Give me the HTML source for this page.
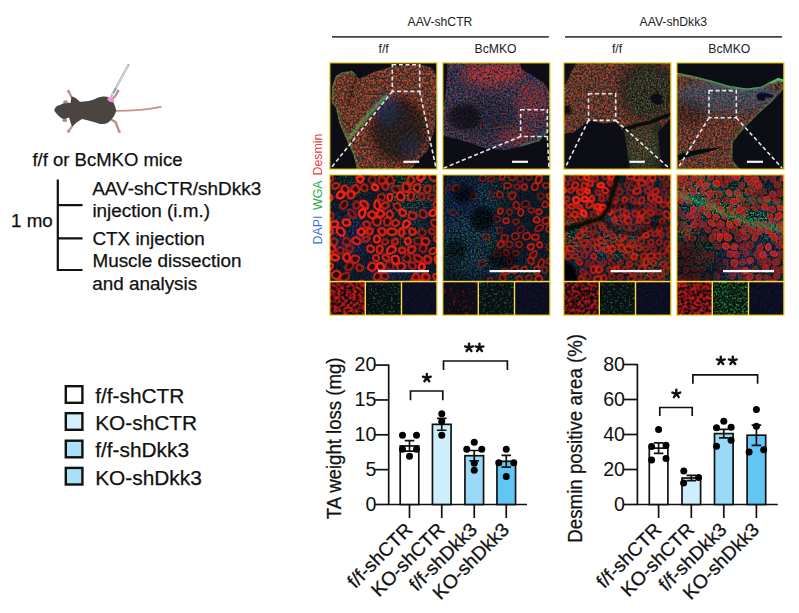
<!DOCTYPE html>
<html><head><meta charset="utf-8"><style>
html,body{margin:0;padding:0;background:#fff;width:799px;height:613px;overflow:hidden}
svg{display:block}
</style></head><body>
<svg width="799" height="613" viewBox="0 0 799 613"><defs><filter id="blur2" x="-50%" y="-50%" width="200%" height="200%"><feGaussianBlur stdDeviation="2"/></filter><filter id="blur4" x="-50%" y="-50%" width="200%" height="200%"><feGaussianBlur stdDeviation="5"/></filter><filter id="blur1" x="-50%" y="-50%" width="200%" height="200%"><feGaussianBlur stdDeviation="0.8"/></filter><filter id="soft" x="0" y="0" width="1" height="1" filterUnits="objectBoundingBox"><feGaussianBlur stdDeviation="0.45"/></filter><filter id="f1" x="0" y="0" width="1" height="1" filterUnits="objectBoundingBox" color-interpolation-filters="sRGB"><feTurbulence type="fractalNoise" baseFrequency="0.6" numOctaves="2" seed="10"/><feColorMatrix type="matrix" values="0 0 0 0 0.3 0 0 0 0 0.62 0 0 0 0 0.4 0 0 3.0 0 -1.3"/></filter><filter id="f2" x="0" y="0" width="1" height="1" filterUnits="objectBoundingBox" color-interpolation-filters="sRGB"><feTurbulence type="fractalNoise" baseFrequency="0.6" numOctaves="2" seed="17"/><feColorMatrix type="matrix" values="0 0 0 0 0.22 0 0 0 0 0.32 0 0 0 0 0.85 3.0 0 0 0 -1.4"/></filter><filter id="f3" x="0" y="0" width="1" height="1" filterUnits="objectBoundingBox" color-interpolation-filters="sRGB"><feTurbulence type="fractalNoise" baseFrequency="0.45" numOctaves="2" seed="24"/><feColorMatrix type="matrix" values="0 0 0 0 0.9 0 0 0 0 0.26 0 0 0 0 0.16 0 3.6 0 0 -1.5"/></filter><filter id="f4" x="0" y="0" width="1" height="1" filterUnits="objectBoundingBox" color-interpolation-filters="sRGB"><feTurbulence type="fractalNoise" baseFrequency="0.8" numOctaves="2" seed="31"/><feColorMatrix type="matrix" values="0 0 0 0 0.85 0 0 0 0 0.4 0 0 0 0 0.2 0 0 0 3.0 -1.4"/></filter><clipPath id="tis0"><path d="M331.6 100.0 L332.0 87.0 L336.0 76.0 L341.3 72.6 L352.0 70.8 L356.3 75.2 L359.0 78.7 L374.8 71.7 L392.4 66.4 L417.0 64.6 L429.4 66.4 L434.7 71.7 L436.5 79.6 L436.0 102.0 L434.7 129.0 L427.7 150.0 L413.6 166.0 L409.0 170.0 L357.2 170.0 L353.7 155.4 L346.6 139.5 L339.6 123.7 L336.0 107.8 L332.5 104.3 Z"/></clipPath><clipPath id="pan0"><rect x="329.5" y="62.5" width="107.5" height="107"/></clipPath><filter id="f5" x="0" y="0" width="1" height="1" filterUnits="objectBoundingBox" color-interpolation-filters="sRGB"><feTurbulence type="fractalNoise" baseFrequency="0.5" numOctaves="2" seed="38"/><feColorMatrix type="matrix" values="0 0 0 0 0.92 0 0 0 0 0.2 0 0 0 0 0.16 0 3.6 0 0 -1.3"/></filter><mask id="mk1" maskUnits="userSpaceOnUse" x="432" y="52" width="128" height="128"><g filter="url(#blur4)"><ellipse cx="492" cy="74" rx="30" ry="12" fill="#fff" opacity="1.0"/><ellipse cx="517" cy="67" rx="12" ry="6" fill="#fff" opacity="1.0"/><ellipse cx="532" cy="102" rx="15" ry="20" fill="#fff" opacity="0.6"/><ellipse cx="517" cy="136" rx="18" ry="8" fill="#fff" opacity="0.7"/></g></mask><filter id="f6" x="0" y="0" width="1" height="1" filterUnits="objectBoundingBox" color-interpolation-filters="sRGB"><feTurbulence type="fractalNoise" baseFrequency="0.6" numOctaves="2" seed="45"/><feColorMatrix type="matrix" values="0 0 0 0 0.22 0 0 0 0 0.32 0 0 0 0 0.85 3.0 0 0 0 -1.2"/></filter><filter id="f7" x="0" y="0" width="1" height="1" filterUnits="objectBoundingBox" color-interpolation-filters="sRGB"><feTurbulence type="fractalNoise" baseFrequency="0.6" numOctaves="2" seed="52"/><feColorMatrix type="matrix" values="0 0 0 0 0.3 0 0 0 0 0.62 0 0 0 0 0.45 0 0 3.0 0 -1.3"/></filter><filter id="f8" x="0" y="0" width="1" height="1" filterUnits="objectBoundingBox" color-interpolation-filters="sRGB"><feTurbulence type="fractalNoise" baseFrequency="0.45" numOctaves="2" seed="59"/><feColorMatrix type="matrix" values="0 0 0 0 0.85 0 0 0 0 0.2 0 0 0 0 0.16 0 3.6 0 0 -1.7"/></filter><clipPath id="tis1"><path d="M447.3 62.0 L519.5 62.0 L521.3 69.0 L533.6 76.0 L544.0 83.0 L548.6 90.0 L550.0 92.0 L550.0 130.0 L547.7 132.5 L539.0 141.3 L521.3 146.6 L503.7 150.0 L486.0 148.3 L459.6 139.5 L443.8 136.0 L442.0 136.0 L442.0 106.0 L443.8 106.0 L446.4 88.0 Z"/></clipPath><clipPath id="pan1"><rect x="442.5" y="62.5" width="107.5" height="107"/></clipPath><filter id="f9" x="0" y="0" width="1" height="1" filterUnits="objectBoundingBox" color-interpolation-filters="sRGB"><feTurbulence type="fractalNoise" baseFrequency="0.6" numOctaves="2" seed="66"/><feColorMatrix type="matrix" values="0 0 0 0 0.3 0 0 0 0 0.65 0 0 0 0 0.45 0 0 3.0 0 -1.2"/></filter><mask id="mk2" maskUnits="userSpaceOnUse" x="553" y="52" width="128" height="128"><g filter="url(#blur4)"><ellipse cx="648" cy="92" rx="24" ry="28" fill="#fff" opacity="1.0"/></g></mask><filter id="f10" x="0" y="0" width="1" height="1" filterUnits="objectBoundingBox" color-interpolation-filters="sRGB"><feTurbulence type="fractalNoise" baseFrequency="0.6" numOctaves="2" seed="73"/><feColorMatrix type="matrix" values="0 0 0 0 0.35 0 0 0 0 0.7 0 0 0 0 0.4 0 0 3.0 0 -1.2"/></filter><mask id="mk3" maskUnits="userSpaceOnUse" x="553" y="52" width="128" height="128"><g filter="url(#blur4)"><ellipse cx="643" cy="147" rx="18" ry="22" fill="#fff" opacity="1.0"/></g></mask><filter id="f11" x="0" y="0" width="1" height="1" filterUnits="objectBoundingBox" color-interpolation-filters="sRGB"><feTurbulence type="fractalNoise" baseFrequency="0.5" numOctaves="2" seed="80"/><feColorMatrix type="matrix" values="0 0 0 0 0.85 0 0 0 0 0.2 0 0 0 0 0.15 0 3.4 0 0 -1.5"/></filter><mask id="mk4" maskUnits="userSpaceOnUse" x="553" y="52" width="128" height="128"><g filter="url(#blur4)"><ellipse cx="641" cy="142" rx="14" ry="20" fill="#fff" opacity="1.0"/></g></mask><filter id="f12" x="0" y="0" width="1" height="1" filterUnits="objectBoundingBox" color-interpolation-filters="sRGB"><feTurbulence type="fractalNoise" baseFrequency="0.6" numOctaves="2" seed="87"/><feColorMatrix type="matrix" values="0 0 0 0 0.3 0 0 0 0 0.62 0 0 0 0 0.4 0 0 3.0 0 -1.3"/></filter><filter id="f13" x="0" y="0" width="1" height="1" filterUnits="objectBoundingBox" color-interpolation-filters="sRGB"><feTurbulence type="fractalNoise" baseFrequency="0.6" numOctaves="2" seed="94"/><feColorMatrix type="matrix" values="0 0 0 0 0.22 0 0 0 0 0.32 0 0 0 0 0.85 3.0 0 0 0 -1.4"/></filter><filter id="f14" x="0" y="0" width="1" height="1" filterUnits="objectBoundingBox" color-interpolation-filters="sRGB"><feTurbulence type="fractalNoise" baseFrequency="0.45" numOctaves="2" seed="101"/><feColorMatrix type="matrix" values="0 0 0 0 0.9 0 0 0 0 0.26 0 0 0 0 0.16 0 3.6 0 0 -1.5"/></filter><filter id="f15" x="0" y="0" width="1" height="1" filterUnits="objectBoundingBox" color-interpolation-filters="sRGB"><feTurbulence type="fractalNoise" baseFrequency="0.8" numOctaves="2" seed="108"/><feColorMatrix type="matrix" values="0 0 0 0 0.85 0 0 0 0 0.4 0 0 0 0 0.2 0 0 0 3.0 -1.4"/></filter><clipPath id="tis2"><path d="M573.6 62.0 L671.0 62.0 L671.0 170.0 L630.0 170.0 L626.4 146.6 L624.7 132.5 L616.0 122.0 L603.5 123.7 L589.4 120.0 L573.6 132.5 L563.0 134.0 L563.0 81.4 L568.3 72.6 Z"/></clipPath><clipPath id="pan2"><rect x="563.5" y="62.5" width="107.5" height="107"/></clipPath><filter id="f16" x="0" y="0" width="1" height="1" filterUnits="objectBoundingBox" color-interpolation-filters="sRGB"><feTurbulence type="fractalNoise" baseFrequency="0.6" numOctaves="2" seed="115"/><feColorMatrix type="matrix" values="0 0 0 0 0.3 0 0 0 0 0.6 0 0 0 0 0.8 0 0 3.0 0 -1.25"/></filter><mask id="mk5" maskUnits="userSpaceOnUse" x="666" y="52" width="128" height="128"><g filter="url(#blur4)"><ellipse cx="726" cy="94" rx="50" ry="14" fill="#fff" opacity="1.0"/></g></mask><filter id="f17" x="0" y="0" width="1" height="1" filterUnits="objectBoundingBox" color-interpolation-filters="sRGB"><feTurbulence type="fractalNoise" baseFrequency="0.6" numOctaves="2" seed="122"/><feColorMatrix type="matrix" values="0 0 0 0 0.3 0 0 0 0 0.62 0 0 0 0 0.4 0 0 3.0 0 -1.3"/></filter><filter id="f18" x="0" y="0" width="1" height="1" filterUnits="objectBoundingBox" color-interpolation-filters="sRGB"><feTurbulence type="fractalNoise" baseFrequency="0.6" numOctaves="2" seed="129"/><feColorMatrix type="matrix" values="0 0 0 0 0.22 0 0 0 0 0.32 0 0 0 0 0.85 3.0 0 0 0 -1.4"/></filter><filter id="f19" x="0" y="0" width="1" height="1" filterUnits="objectBoundingBox" color-interpolation-filters="sRGB"><feTurbulence type="fractalNoise" baseFrequency="0.45" numOctaves="2" seed="136"/><feColorMatrix type="matrix" values="0 0 0 0 0.9 0 0 0 0 0.26 0 0 0 0 0.16 0 3.6 0 0 -1.5"/></filter><filter id="f20" x="0" y="0" width="1" height="1" filterUnits="objectBoundingBox" color-interpolation-filters="sRGB"><feTurbulence type="fractalNoise" baseFrequency="0.8" numOctaves="2" seed="143"/><feColorMatrix type="matrix" values="0 0 0 0 0.85 0 0 0 0 0.4 0 0 0 0 0.2 0 0 0 3.0 -1.4"/></filter><clipPath id="tis3"><path d="M676.0 72.6 L693.6 76.0 L711.0 80.5 L729.0 85.8 L746.5 88.4 L760.6 86.7 L771.0 81.4 L778.0 77.9 L784.0 79.6 L784.0 88.4 L771.0 102.5 L757.0 115.0 L746.5 125.4 L737.7 136.0 L732.4 143.0 L732.4 160.7 L741.2 170.0 L676.0 170.0 Z"/></clipPath><clipPath id="pan3"><rect x="676.5" y="62.5" width="107.5" height="107"/></clipPath><clipPath id="mp0"><rect x="329.5" y="174.5" width="107.5" height="107.5"/></clipPath><mask id="mb0" maskUnits="userSpaceOnUse" x="329" y="174" width="108" height="108"><g filter="url(#blur4)"><rect x="319" y="164" width="128" height="128" fill="#fff" opacity="0.3"/><ellipse cx="349" cy="234" rx="20" ry="25" fill="#fff" opacity="0.9"/><ellipse cx="389" cy="269" rx="25" ry="15" fill="#fff" opacity="0.8"/><ellipse cx="419" cy="214" rx="15" ry="15" fill="#fff" opacity="0.5"/></g></mask><mask id="mg0" maskUnits="userSpaceOnUse" x="329" y="174" width="108" height="108"><g filter="url(#blur4)"><rect x="319" y="164" width="128" height="128" fill="#fff" opacity="0.3"/><ellipse cx="409" cy="194" rx="25" ry="20" fill="#fff" opacity="0.9"/><ellipse cx="349" cy="189" rx="15" ry="10" fill="#fff" opacity="0.6"/><ellipse cx="404" cy="229" rx="20" ry="15" fill="#fff" opacity="0.6"/></g></mask><filter id="f21" x="0" y="0" width="1" height="1" filterUnits="objectBoundingBox" color-interpolation-filters="sRGB"><feTurbulence type="fractalNoise" baseFrequency="0.55" numOctaves="2" seed="150"/><feColorMatrix type="matrix" values="0 0 0 0 0.15 0 0 0 0 0.3 0 0 0 0 0.9 3.2 0 0 0 -1.3"/></filter><filter id="f22" x="0" y="0" width="1" height="1" filterUnits="objectBoundingBox" color-interpolation-filters="sRGB"><feTurbulence type="fractalNoise" baseFrequency="0.55" numOctaves="2" seed="157"/><feColorMatrix type="matrix" values="0 0 0 0 0.2 0 0 0 0 0.75 0 0 0 0 0.3 0 0 3.2 0 -1.35"/></filter><clipPath id="mp1"><rect x="442.5" y="174.5" width="107.5" height="107.5"/></clipPath><mask id="mb1" maskUnits="userSpaceOnUse" x="442" y="174" width="108" height="108"><g filter="url(#blur4)"><rect x="432" y="164" width="128" height="128" fill="#fff" opacity="0.3"/><ellipse cx="467" cy="214" rx="30" ry="40" fill="#fff" opacity="0.8"/><ellipse cx="482" cy="264" rx="25" ry="15" fill="#fff" opacity="0.6"/></g></mask><mask id="mg1" maskUnits="userSpaceOnUse" x="442" y="174" width="108" height="108"><g filter="url(#blur4)"><rect x="432" y="164" width="128" height="128" fill="#fff" opacity="0.3"/><ellipse cx="472" cy="244" rx="30" ry="30" fill="#fff" opacity="0.7"/><ellipse cx="492" cy="194" rx="20" ry="15" fill="#fff" opacity="0.6"/><ellipse cx="522" cy="274" rx="25" ry="10" fill="#fff" opacity="0.5"/></g></mask><filter id="f23" x="0" y="0" width="1" height="1" filterUnits="objectBoundingBox" color-interpolation-filters="sRGB"><feTurbulence type="fractalNoise" baseFrequency="0.55" numOctaves="2" seed="164"/><feColorMatrix type="matrix" values="0 0 0 0 0.15 0 0 0 0 0.3 0 0 0 0 0.9 3.2 0 0 0 -1.3"/></filter><filter id="f24" x="0" y="0" width="1" height="1" filterUnits="objectBoundingBox" color-interpolation-filters="sRGB"><feTurbulence type="fractalNoise" baseFrequency="0.55" numOctaves="2" seed="171"/><feColorMatrix type="matrix" values="0 0 0 0 0.2 0 0 0 0 0.75 0 0 0 0 0.3 0 0 3.2 0 -1.35"/></filter><clipPath id="mp2"><rect x="563.5" y="174.5" width="107.5" height="107.5"/></clipPath><mask id="mb2" maskUnits="userSpaceOnUse" x="563" y="174" width="108" height="108"><g filter="url(#blur4)"><rect x="553" y="164" width="128" height="128" fill="#fff" opacity="0.3"/><ellipse cx="623" cy="224" rx="25" ry="20" fill="#fff" opacity="0.7"/><ellipse cx="593" cy="254" rx="20" ry="15" fill="#fff" opacity="0.7"/><ellipse cx="643" cy="194" rx="20" ry="15" fill="#fff" opacity="0.5"/></g></mask><mask id="mg2" maskUnits="userSpaceOnUse" x="563" y="174" width="108" height="108"><g filter="url(#blur4)"><rect x="553" y="164" width="128" height="128" fill="#fff" opacity="0.3"/><ellipse cx="573" cy="234" rx="15" ry="20" fill="#fff" opacity="1.0"/><ellipse cx="618" cy="244" rx="25" ry="15" fill="#fff" opacity="0.9"/><ellipse cx="653" cy="269" rx="20" ry="12" fill="#fff" opacity="0.8"/><ellipse cx="603" cy="219" rx="20" ry="6" fill="#fff" opacity="0.8"/></g></mask><filter id="f25" x="0" y="0" width="1" height="1" filterUnits="objectBoundingBox" color-interpolation-filters="sRGB"><feTurbulence type="fractalNoise" baseFrequency="0.55" numOctaves="2" seed="178"/><feColorMatrix type="matrix" values="0 0 0 0 0.15 0 0 0 0 0.3 0 0 0 0 0.9 3.2 0 0 0 -1.3"/></filter><filter id="f26" x="0" y="0" width="1" height="1" filterUnits="objectBoundingBox" color-interpolation-filters="sRGB"><feTurbulence type="fractalNoise" baseFrequency="0.55" numOctaves="2" seed="185"/><feColorMatrix type="matrix" values="0 0 0 0 0.2 0 0 0 0 0.75 0 0 0 0 0.3 0 0 3.2 0 -1.35"/></filter><clipPath id="mp3"><rect x="676.5" y="174.5" width="107.5" height="107.5"/></clipPath><mask id="mb3" maskUnits="userSpaceOnUse" x="676" y="174" width="108" height="108"><g filter="url(#blur4)"><rect x="666" y="164" width="128" height="128" fill="#fff" opacity="0.3"/><ellipse cx="696" cy="204" rx="20" ry="20" fill="#fff" opacity="0.7"/><ellipse cx="726" cy="264" rx="30" ry="20" fill="#fff" opacity="0.7"/><ellipse cx="766" cy="234" rx="20" ry="30" fill="#fff" opacity="0.6"/></g></mask><mask id="mg3" maskUnits="userSpaceOnUse" x="676" y="174" width="108" height="108"><g filter="url(#blur4)"><rect x="666" y="164" width="128" height="128" fill="#fff" opacity="0.3"/><ellipse cx="691" cy="194" rx="22" ry="14" fill="#fff" opacity="1.0"/><ellipse cx="721" cy="209" rx="25" ry="10" fill="#fff" opacity="1.0"/><ellipse cx="751" cy="219" rx="25" ry="10" fill="#fff" opacity="1.0"/><ellipse cx="776" cy="229" rx="15" ry="10" fill="#fff" opacity="0.9"/><ellipse cx="706" cy="254" rx="15" ry="15" fill="#fff" opacity="0.6"/><ellipse cx="746" cy="189" rx="15" ry="8" fill="#fff" opacity="0.7"/><ellipse cx="686" cy="229" rx="10" ry="10" fill="#fff" opacity="0.8"/></g></mask><filter id="f27" x="0" y="0" width="1" height="1" filterUnits="objectBoundingBox" color-interpolation-filters="sRGB"><feTurbulence type="fractalNoise" baseFrequency="0.55" numOctaves="2" seed="192"/><feColorMatrix type="matrix" values="0 0 0 0 0.15 0 0 0 0 0.3 0 0 0 0 0.9 3.2 0 0 0 -1.3"/></filter><filter id="f28" x="0" y="0" width="1" height="1" filterUnits="objectBoundingBox" color-interpolation-filters="sRGB"><feTurbulence type="fractalNoise" baseFrequency="0.55" numOctaves="2" seed="199"/><feColorMatrix type="matrix" values="0 0 0 0 0.2 0 0 0 0 0.75 0 0 0 0 0.3 0 0 3.2 0 -1.35"/></filter><filter id="f29" x="0" y="0" width="1" height="1" filterUnits="objectBoundingBox" color-interpolation-filters="sRGB"><feTurbulence type="fractalNoise" baseFrequency="0.32" numOctaves="2" seed="206"/><feColorMatrix type="matrix" values="0 0 0 0 0.85 0 0 0 0 0.1 0 0 0 0 0.07 3.2 0 0 0 -1.1"/></filter><filter id="f30" x="0" y="0" width="1" height="1" filterUnits="objectBoundingBox" color-interpolation-filters="sRGB"><feTurbulence type="fractalNoise" baseFrequency="0.45" numOctaves="2" seed="213"/><feColorMatrix type="matrix" values="0 0 0 0 0.15 0 0 0 0 0.75 0 0 0 0 0.2 0 1.8 0 0 -0.95"/></filter><filter id="f31" x="0" y="0" width="1" height="1" filterUnits="objectBoundingBox" color-interpolation-filters="sRGB"><feTurbulence type="fractalNoise" baseFrequency="0.6" numOctaves="2" seed="220"/><feColorMatrix type="matrix" values="0 0 0 0 0.12 0 0 0 0 0.15 0 0 0 0 0.85 0 0 1.2 0 -0.6"/></filter><filter id="f32" x="0" y="0" width="1" height="1" filterUnits="objectBoundingBox" color-interpolation-filters="sRGB"><feTurbulence type="fractalNoise" baseFrequency="0.32" numOctaves="2" seed="227"/><feColorMatrix type="matrix" values="0 0 0 0 0.85 0 0 0 0 0.1 0 0 0 0 0.07 2.4 0 0 0 -1.35"/></filter><filter id="f33" x="0" y="0" width="1" height="1" filterUnits="objectBoundingBox" color-interpolation-filters="sRGB"><feTurbulence type="fractalNoise" baseFrequency="0.45" numOctaves="2" seed="234"/><feColorMatrix type="matrix" values="0 0 0 0 0.15 0 0 0 0 0.75 0 0 0 0 0.2 0 1.8 0 0 -0.95"/></filter><filter id="f34" x="0" y="0" width="1" height="1" filterUnits="objectBoundingBox" color-interpolation-filters="sRGB"><feTurbulence type="fractalNoise" baseFrequency="0.6" numOctaves="2" seed="241"/><feColorMatrix type="matrix" values="0 0 0 0 0.12 0 0 0 0 0.15 0 0 0 0 0.85 0 0 1.2 0 -0.6"/></filter><filter id="f35" x="0" y="0" width="1" height="1" filterUnits="objectBoundingBox" color-interpolation-filters="sRGB"><feTurbulence type="fractalNoise" baseFrequency="0.32" numOctaves="2" seed="248"/><feColorMatrix type="matrix" values="0 0 0 0 0.85 0 0 0 0 0.1 0 0 0 0 0.07 3.0 0 0 0 -1.15"/></filter><filter id="f36" x="0" y="0" width="1" height="1" filterUnits="objectBoundingBox" color-interpolation-filters="sRGB"><feTurbulence type="fractalNoise" baseFrequency="0.45" numOctaves="2" seed="255"/><feColorMatrix type="matrix" values="0 0 0 0 0.15 0 0 0 0 0.75 0 0 0 0 0.2 0 1.8 0 0 -0.95"/></filter><filter id="f37" x="0" y="0" width="1" height="1" filterUnits="objectBoundingBox" color-interpolation-filters="sRGB"><feTurbulence type="fractalNoise" baseFrequency="0.6" numOctaves="2" seed="262"/><feColorMatrix type="matrix" values="0 0 0 0 0.12 0 0 0 0 0.15 0 0 0 0 0.85 0 0 1.2 0 -0.6"/></filter><filter id="f38" x="0" y="0" width="1" height="1" filterUnits="objectBoundingBox" color-interpolation-filters="sRGB"><feTurbulence type="fractalNoise" baseFrequency="0.32" numOctaves="2" seed="269"/><feColorMatrix type="matrix" values="0 0 0 0 0.85 0 0 0 0 0.1 0 0 0 0 0.07 3.2 0 0 0 -1.1"/></filter><filter id="f39" x="0" y="0" width="1" height="1" filterUnits="objectBoundingBox" color-interpolation-filters="sRGB"><feTurbulence type="fractalNoise" baseFrequency="0.45" numOctaves="2" seed="276"/><feColorMatrix type="matrix" values="0 0 0 0 0.15 0 0 0 0 0.75 0 0 0 0 0.2 0 2.2 0 0 -0.95"/></filter><filter id="f40" x="0" y="0" width="1" height="1" filterUnits="objectBoundingBox" color-interpolation-filters="sRGB"><feTurbulence type="fractalNoise" baseFrequency="0.6" numOctaves="2" seed="283"/><feColorMatrix type="matrix" values="0 0 0 0 0.12 0 0 0 0 0.15 0 0 0 0 0.85 0 0 1.2 0 -0.6"/></filter></defs>
<g id="mouse">
  <path d="M115.5 110.8 C 128 110.8, 145 110.2, 161 106.8" stroke="#c7918b" stroke-width="1.7" fill="none" stroke-linecap="round"/>
  <path d="M71.5 97 L68.8 91.8 M72.5 125.5 L68.8 131 M110.5 100 L115 96.5 L117.8 91.5 M112 120 L115.5 122 L119 131" stroke="#bf8a83" stroke-width="2.2" stroke-linecap="round" stroke-linejoin="round" fill="none"/>
  <circle cx="68.6" cy="91.4" r="1.7" fill="#c9968e"/>
  <circle cx="68.6" cy="131.2" r="1.7" fill="#c9968e"/>
  <circle cx="118" cy="91" r="1.5" fill="#c9968e"/>
  <circle cx="119.2" cy="131.4" r="1.6" fill="#c9968e"/>
  <path d="M54.2 110.4 C 55 107, 57 105.5, 60 105 L 64 103 C 66 102, 69 103, 70.5 103 L 71.4 96.5 C 74 96.5, 77 99, 80 101.8 C 85 101.5, 92 101, 97 98 C 101 96.5, 106 96, 109 97.5 C 113 100, 115.5 106, 116.2 110.8 C 115 115, 113 118, 111 120 C 108 123.5, 104 124.5, 100 124 C 94 122, 88 120, 82 119 C 78 121, 75 124, 72.5 126.5 L 71 124 C 70 121, 69.5 118.5, 68.8 117.5 L 64 119.5 C 61 118, 58 116, 54.2 110.4 Z" fill="#4a4541"/>
  <ellipse cx="65.5" cy="101.8" rx="2.4" ry="1.6" fill="#b98a84"/>
  <ellipse cx="64.8" cy="120.4" rx="2.4" ry="1.6" fill="#b98a84"/>
  <line x1="128.6" y1="64.8" x2="111.5" y2="96" stroke="#9aa2a8" stroke-width="2.1" stroke-linecap="round"/>
  <line x1="128.3" y1="65.4" x2="111.8" y2="95.5" stroke="#eef3f6" stroke-width="0.9" stroke-linecap="round"/>
  <line x1="116" y1="88.2" x2="113.6" y2="92.6" stroke="#6aa8d8" stroke-width="1.5"/>
  <ellipse cx="110.8" cy="99.6" rx="3.6" ry="2.2" fill="#f590dc" transform="rotate(22 110.8 99.6)"/>
</g>

<g font-family='"Liberation Sans", sans-serif' font-size="18.5" fill="#111" stroke="#111" stroke-width="0.25">
<text x="32.4" y="165.5">f/f or BcMKO mice</text>
<text x="92.2" y="194.7" font-size="18.95">AAV-shCTR/shDkk3</text>
<text x="92.4" y="216.6" font-size="18.9">injection (i.m.)</text>
<text x="92.4" y="244.9" font-size="18.9">CTX injection</text>
<text x="92.4" y="267.4" font-size="18.9">Muscle dissection</text>
<text x="92.2" y="289.6" font-size="18.9">and analysis</text>
<text x="11" y="227.2" font-size="18.8">1 mo</text>
</g>
<path d="M57.8 179.5 V271 M56.8 205.2 H82.5 M56.8 238.3 H82.5 M56.8 270 H82.5" stroke="#111" stroke-width="2.2" fill="none"/>
<rect x="65.8" y="386.2" width="16.6" height="16.6" fill="#ffffff" stroke="#111" stroke-width="2.4"/>
<text x="95.2" y="402.90000000000003" font-family='"Liberation Sans", sans-serif' font-size="20.85" fill="#111" stroke="#111" stroke-width="0.25">f/f-shCTR</text>
<rect x="65.8" y="413.2" width="16.6" height="16.6" fill="#d4effb" stroke="#111" stroke-width="2.4"/>
<text x="95.2" y="429.90000000000003" font-family='"Liberation Sans", sans-serif' font-size="20.85" fill="#111" stroke="#111" stroke-width="0.25">KO-shCTR</text>
<rect x="65.8" y="440.7" width="16.6" height="16.6" fill="#a9e0f8" stroke="#111" stroke-width="2.4"/>
<text x="95.2" y="457.20000000000005" font-family='"Liberation Sans", sans-serif' font-size="20.85" fill="#111" stroke="#111" stroke-width="0.25">f/f-shDkk3</text>
<rect x="65.8" y="467.9" width="16.6" height="16.6" fill="#a9e0f8" stroke="#111" stroke-width="2.4"/>
<text x="95.2" y="484.6" font-family='"Liberation Sans", sans-serif' font-size="20.85" fill="#111" stroke="#111" stroke-width="0.25">KO-shDkk3</text>
<g font-family='"Liberation Sans", sans-serif' font-size="12.2" fill="#222" text-anchor="middle">
<text x="440" y="26.4">AAV-shCTR</text>
<text x="673.3" y="26.4">AAV-shDkk3</text>
<text x="383.6" y="52.5">f/f</text>
<text x="495.5" y="52.5">BcMKO</text>
<text x="617" y="52.5">f/f</text>
<text x="729.3" y="52.5">BcMKO</text>
</g>
<path d="M332 36.9 H548.8 M565 36.9 H782" stroke="#444" stroke-width="1.8"/>
<g font-family='"Liberation Sans", sans-serif' font-size="12.4" transform="translate(322,0) rotate(-90)">
<text x="-244.5" y="0" fill="#3b6fcf" word-spacing="2.1">DAPI <tspan fill="#2fa84a">WGA</tspan> <tspan fill="#ee3a36">Desmin</tspan></text>
</g>
<rect x="329.5" y="62.5" width="107.5" height="107" fill="#0b0d17"/>
<g clip-path="url(#pan0)"><g filter="url(#soft)">
<rect x="327" y="60" width="112" height="112" fill="#0b0d17"/>
<g clip-path="url(#tis0)">
<rect x="329" y="62" width="108" height="108" fill="#26221c"/>
<g opacity="0.45"><rect x="329" y="62" width="108" height="108" fill="#000" filter="url(#f1)"/></g>
<g opacity="0.25"><rect x="329" y="62" width="108" height="108" fill="#000" filter="url(#f2)"/></g>
<g opacity="0.85"><rect x="329" y="62" width="108" height="108" fill="#000" filter="url(#f3)"/></g>
<g opacity="0.3"><rect x="329" y="62" width="108" height="108" fill="#000" filter="url(#f4)"/></g>
<ellipse cx="399" cy="130" rx="28" ry="32" fill="#000" opacity="0.5" filter="url(#blur4)"/>
<ellipse cx="387" cy="110" rx="12" ry="16" fill="#1848a0" opacity="0.35" filter="url(#blur4)"/>
<ellipse cx="411" cy="147" rx="10" ry="10" fill="#1848a0" opacity="0.3" filter="url(#blur4)"/>
<ellipse cx="399" cy="132" rx="22" ry="26" fill="#0c2a30" opacity="0.3" filter="url(#blur4)"/>
<path d="M349.0 138.0 L367.0 116.0 L386.0 96.0" stroke="#50e070" stroke-width="2.2" fill="none" opacity="0.75" stroke-linecap="round" stroke-linejoin="round" filter="url(#blur1)"/>
<path d="M332.5 104.3 L331.6 100.0 L332.0 87.0 L336.0 76.0 L341.3 72.6 L352.0 70.8 L356.3 75.2" stroke="#40c860" stroke-width="2.2" fill="none" opacity="0.55" stroke-linecap="round" stroke-linejoin="round" filter="url(#blur1)"/>
<path d="M336.0 107.8 L339.6 123.7 L346.6 139.5 L353.7 155.4 L357.2 170.0" stroke="#40c860" stroke-width="2.6" fill="none" opacity="0.55" stroke-linecap="round" stroke-linejoin="round" filter="url(#blur1)"/>
<path d="M356.3 75.2 L351.0 92.0 L348.4 106.0" stroke="#000" stroke-width="1.5" fill="none" opacity="0.6" stroke-linecap="round" stroke-linejoin="round" filter="url(#blur1)"/>
</g>
</g></g>
<rect x="392.3" y="64.8" width="27.400000000000006" height="26.599999999999998" fill="none" stroke="#e6e6e6" stroke-width="1.6" stroke-dasharray="4 2.6"/>
<path d="M392.3 91.4 L331 168 M419.7 91.4 L436 168" stroke="#e6e6e6" stroke-width="1.6" stroke-dasharray="4 2.6" fill="none"/>
<path d="M403.3 161.8 H419.2" stroke="#f4f4f4" stroke-width="2.2"/>
<rect x="329.7" y="62.7" width="107.3" height="106.6" fill="none" stroke="#f6da4a" stroke-width="1.4"/>
<rect x="442.5" y="62.5" width="107.5" height="107" fill="#0b0d17"/>
<g clip-path="url(#pan1)"><g filter="url(#soft)">
<rect x="440" y="60" width="112" height="112" fill="#0b0d17"/>
<g clip-path="url(#tis1)">
<rect x="442" y="62" width="108" height="108" fill="#141820"/>
<g opacity="0.6"><rect x="442" y="62" width="108" height="108" fill="#000" filter="url(#f6)"/></g>
<g opacity="0.45"><rect x="442" y="62" width="108" height="108" fill="#000" filter="url(#f7)"/></g>
<g opacity="0.6"><rect x="442" y="62" width="108" height="108" fill="#000" filter="url(#f8)"/></g>
<ellipse cx="464" cy="117" rx="17" ry="13" fill="#000" opacity="0.5" filter="url(#blur2)"/>
<ellipse cx="487" cy="117" rx="30" ry="20" fill="#000" opacity="0.2" filter="url(#blur4)"/>
<g mask="url(#mk1)"><g opacity="0.85"><rect x="442" y="62" width="108" height="108" fill="#000" filter="url(#f5)"/></g></g>
<path d="M522.0 146.0 L539.0 141.3 L547.7 132.5" stroke="#40c860" stroke-width="2" fill="none" opacity="0.6" stroke-linecap="round" stroke-linejoin="round" filter="url(#blur1)"/>
</g>
</g></g>
<rect x="520.6" y="109.7" width="26.700000000000003" height="26.799999999999997" fill="none" stroke="#e6e6e6" stroke-width="1.6" stroke-dasharray="4 2.6"/>
<path d="M520.6 136.5 L444 168 M547.3 136.5 L549 168" stroke="#e6e6e6" stroke-width="1.6" stroke-dasharray="4 2.6" fill="none"/>
<path d="M512 161.8 H528" stroke="#f4f4f4" stroke-width="2.2"/>
<rect x="442.7" y="62.7" width="107.3" height="106.6" fill="none" stroke="#f6da4a" stroke-width="1.4"/>
<rect x="563.5" y="62.5" width="107.5" height="107" fill="#0b0d17"/>
<g clip-path="url(#pan2)"><g filter="url(#soft)">
<rect x="561" y="60" width="112" height="112" fill="#0b0d17"/>
<g clip-path="url(#tis2)">
<rect x="563" y="62" width="108" height="108" fill="#24201c"/>
<g opacity="0.45"><rect x="563" y="62" width="108" height="108" fill="#000" filter="url(#f12)"/></g>
<g opacity="0.25"><rect x="563" y="62" width="108" height="108" fill="#000" filter="url(#f13)"/></g>
<g opacity="0.72"><rect x="563" y="62" width="108" height="108" fill="#000" filter="url(#f14)"/></g>
<g opacity="0.3"><rect x="563" y="62" width="108" height="108" fill="#000" filter="url(#f15)"/></g>
<ellipse cx="648" cy="90" rx="28" ry="30" fill="#000" opacity="0.55" filter="url(#blur4)"/>
<g mask="url(#mk2)"><g opacity="0.55"><rect x="563" y="62" width="108" height="108" fill="#000" filter="url(#f9)"/></g></g>
<path d="M563.0 62.0 L577.0 62.0 L571.0 72.0 L566.0 84.0 L563.0 86.0 Z" fill="#0b0d17" opacity="1"/>
<path d="M623.0 126.0 L663.0 124.0 L671.0 170.0 L627.0 170.0 Z" fill="#101a14" opacity="0.7" filter="url(#blur2)"/>
<g mask="url(#mk3)"><g opacity="0.55"><rect x="563" y="62" width="108" height="108" fill="#000" filter="url(#f10)"/></g></g>
<g mask="url(#mk4)"><g opacity="0.45"><rect x="563" y="62" width="108" height="108" fill="#000" filter="url(#f11)"/></g></g>
<path d="M625.0 129.0 L638.0 125.0 L651.0 122.0 L663.0 117.0 L671.0 114.0" stroke="#04060a" stroke-width="3.6" fill="none" opacity="0.95" stroke-linecap="round" stroke-linejoin="round"/>
<path d="M671.0 118.0 L658.0 132.5 L661.7 170.0 L671.0 170.0 Z" fill="#0b0d17" opacity="1"/>
<path d="M650.0 98.0 L653.0 94.0 L658.0 93.0 L662.0 96.0 L661.0 100.0 L664.0 103.0 L658.0 105.0 L653.0 103.0 Z" fill="#090b12" opacity="1"/>
<ellipse cx="567" cy="110" rx="4" ry="5" fill="#000" opacity="0.8" filter="url(#blur1)"/>
</g>
</g></g>
<rect x="588.5" y="93.75" width="27.200000000000003" height="26.65" fill="none" stroke="#e6e6e6" stroke-width="1.6" stroke-dasharray="4 2.6"/>
<path d="M588.5 120.4 L565 168 M615.7 120.4 L669 168" stroke="#e6e6e6" stroke-width="1.6" stroke-dasharray="4 2.6" fill="none"/>
<path d="M629.4 161.8 H644.8" stroke="#f4f4f4" stroke-width="2.2"/>
<rect x="563.7" y="62.7" width="107.3" height="106.6" fill="none" stroke="#f6da4a" stroke-width="1.4"/>
<rect x="676.5" y="62.5" width="107.5" height="107" fill="#0b0d17"/>
<g clip-path="url(#pan3)"><g filter="url(#soft)">
<rect x="674" y="60" width="112" height="112" fill="#0b0d17"/>
<g clip-path="url(#tis3)">
<rect x="676" y="62" width="108" height="108" fill="#24201c"/>
<g opacity="0.45"><rect x="676" y="62" width="108" height="108" fill="#000" filter="url(#f17)"/></g>
<g opacity="0.25"><rect x="676" y="62" width="108" height="108" fill="#000" filter="url(#f18)"/></g>
<g opacity="0.75"><rect x="676" y="62" width="108" height="108" fill="#000" filter="url(#f19)"/></g>
<g opacity="0.3"><rect x="676" y="62" width="108" height="108" fill="#000" filter="url(#f20)"/></g>
<ellipse cx="726" cy="97" rx="52" ry="18" fill="#1a4a70" opacity="0.35" filter="url(#blur4)"/>
<g mask="url(#mk5)"><g opacity="0.45"><rect x="676" y="62" width="108" height="108" fill="#000" filter="url(#f16)"/></g></g>
<path d="M676.0 72.6 L693.6 76.0 L711.0 80.5 L729.0 85.8 L746.5 88.4 L760.6 86.7 L771.0 81.4 L778.0 77.9 L784.0 79.6" stroke="#48d070" stroke-width="2.6" fill="none" opacity="0.85" stroke-linecap="round" stroke-linejoin="round" filter="url(#blur1)"/>
<path d="M772.0 82.0 L778.0 78.5 L783.0 80.0" stroke="#50e080" stroke-width="3.5" fill="none" opacity="0.8" stroke-linecap="round" stroke-linejoin="round" filter="url(#blur1)"/>
<path d="M784.0 88.4 L771.0 102.5 L757.0 115.0 L746.5 125.4 L737.7 136.0 L732.4 143.0 L732.4 160.7 L741.2 170.0" stroke="#40c860" stroke-width="2" fill="none" opacity="0.5" stroke-linecap="round" stroke-linejoin="round" filter="url(#blur1)"/>
<path d="M677.0 155.0 L691.0 151.0 L706.0 148.5 L722.0 147.5 L708.0 152.0 L692.0 156.0 L678.0 160.5 Z" fill="#06100c" opacity="1"/>
<path d="M756.0 95.0 L760.0 92.0 L768.0 93.0 L774.0 95.0 L772.0 98.0 L766.0 97.0 L764.0 101.0 L758.0 100.0 Z" fill="#090b12" opacity="1"/>
<path d="M756.0 95.0 L760.0 92.0 L768.0 93.0 L774.0 95.0" stroke="#3060d0" stroke-width="1.2" fill="none" opacity="0.7" stroke-linecap="round" stroke-linejoin="round" filter="url(#blur1)"/>
<ellipse cx="688" cy="112" rx="18" ry="14" fill="#000" opacity="0.25" filter="url(#blur4)"/>
</g>
</g></g>
<rect x="709" y="90.6" width="27.299999999999997" height="27.199999999999996" fill="none" stroke="#e6e6e6" stroke-width="1.6" stroke-dasharray="4 2.6"/>
<path d="M709 117.8 L678 168 M736.3 117.8 L782 168" stroke="#e6e6e6" stroke-width="1.6" stroke-dasharray="4 2.6" fill="none"/>
<path d="M747 161.8 H763" stroke="#f4f4f4" stroke-width="2.2"/>
<rect x="676.7" y="62.7" width="107.3" height="106.6" fill="none" stroke="#f6da4a" stroke-width="1.4"/>
<rect x="329.5" y="174.5" width="107.5" height="107.5" fill="#0b0d17"/>
<g clip-path="url(#mp0)"><g filter="url(#soft)">
<rect x="329" y="174" width="108" height="108" fill="#0b0d17"/>
<g mask="url(#mb0)"><g opacity="0.6"><rect x="329" y="174" width="108" height="108" fill="#000" filter="url(#f21)"/></g></g>
<g mask="url(#mg0)"><g opacity="0.6"><rect x="329" y="174" width="108" height="108" fill="#000" filter="url(#f22)"/></g></g>
<path d="M325.5 172.8 C324.8 172.8 323.2 172.5 322.7 171.8 C322.1 171.2 322.1 169.6 322.2 168.8 C322.4 168.0 323.1 167.1 323.8 166.8 C324.4 166.5 325.5 166.6 326.3 166.8 C327.0 167.1 328.1 167.7 328.3 168.5 C328.5 169.3 327.8 170.8 327.3 171.5 C326.8 172.2 326.3 172.7 325.5 172.8Z" fill="#2a0404" fill-opacity="0.61" stroke="#f42212" stroke-opacity="0.68" stroke-width="2.3"/>
<path d="M332.3 169.5 C331.9 168.6 332.2 167.2 332.7 166.5 C333.1 165.9 334.1 165.6 335.0 165.5 C335.8 165.4 337.0 165.3 337.6 165.9 C338.2 166.5 338.7 168.3 338.6 169.2 C338.6 170.0 337.9 170.6 337.3 171.1 C336.7 171.6 335.8 172.3 334.9 172.1 C334.1 171.8 332.7 170.5 332.3 169.5Z" fill="#2a0404" fill-opacity="0.52" stroke="#f42212" stroke-opacity="0.58" stroke-width="2.8"/>
<path d="M345.4 171.3 C344.5 171.0 343.2 170.4 342.8 169.8 C342.5 169.1 342.8 167.9 343.3 167.3 C343.8 166.7 345.0 166.0 346.0 166.1 C347.0 166.2 348.6 167.0 349.3 167.7 C349.9 168.4 349.8 169.6 349.7 170.2 C349.5 170.8 349.1 171.4 348.4 171.6 C347.7 171.8 346.3 171.6 345.4 171.3Z" fill="#2a0404" fill-opacity="0.52" stroke="#f42212" stroke-opacity="0.58" stroke-width="2.1"/>
<path d="M354.3 170.6 C354.1 169.7 354.5 168.1 355.0 167.3 C355.5 166.4 356.4 165.3 357.1 165.4 C357.9 165.5 359.1 166.8 359.6 167.9 C360.0 169.0 360.2 170.9 360.0 171.9 C359.8 172.9 359.0 173.7 358.4 173.9 C357.7 174.1 356.7 173.5 356.0 173.0 C355.3 172.4 354.4 171.6 354.3 170.6Z" fill="#2a0404" fill-opacity="0.81" stroke="#f42212" stroke-opacity="0.90" stroke-width="2.2"/>
<path d="M368.9 172.9 C368.4 173.6 366.8 173.7 365.8 173.7 C364.9 173.6 363.8 173.3 363.1 172.7 C362.4 172.1 361.7 170.8 361.8 169.9 C362.0 168.9 363.1 167.5 364.0 167.0 C364.9 166.6 366.4 166.8 367.2 167.2 C368.1 167.6 368.8 168.6 369.1 169.5 C369.4 170.5 369.5 172.2 368.9 172.9Z" fill="#2a0404" fill-opacity="0.82" stroke="#f42212" stroke-opacity="0.91" stroke-width="2.6"/>
<path d="M379.1 171.6 C378.8 172.5 378.0 174.1 377.2 174.5 C376.5 175.0 375.1 174.8 374.4 174.3 C373.7 173.9 373.1 172.7 373.1 171.8 C373.0 171.0 373.6 169.8 374.3 169.1 C374.9 168.4 376.3 167.5 377.1 167.5 C377.9 167.6 378.8 168.8 379.1 169.5 C379.5 170.2 379.4 170.8 379.1 171.6Z" fill="#2a0404" fill-opacity="0.90" stroke="#f42212" stroke-opacity="1.00" stroke-width="2.4"/>
<path d="M382.7 171.9 C382.5 171.1 383.3 170.0 384.1 169.3 C384.9 168.6 386.3 167.8 387.3 167.6 C388.4 167.4 389.7 167.8 390.3 168.3 C390.9 168.8 391.4 169.7 391.2 170.5 C390.9 171.3 389.8 172.5 388.8 173.0 C387.8 173.6 386.2 173.9 385.2 173.7 C384.2 173.5 382.8 172.6 382.7 171.9Z" fill="#2a0404" fill-opacity="0.79" stroke="#f42212" stroke-opacity="0.88" stroke-width="2.4"/>
<path d="M398.6 172.1 C397.9 172.7 396.9 173.6 396.1 173.5 C395.2 173.5 393.7 172.8 393.5 172.0 C393.2 171.2 394.0 169.5 394.6 168.8 C395.2 168.1 396.2 168.0 397.0 167.8 C397.9 167.6 399.1 167.3 399.7 167.6 C400.2 168.0 400.7 169.2 400.6 169.9 C400.4 170.6 399.4 171.5 398.6 172.1Z" fill="#2a0404" fill-opacity="0.77" stroke="#f42212" stroke-opacity="0.86" stroke-width="2.3"/>
<path d="M405.0 174.2 C404.2 174.3 403.4 173.8 402.9 173.2 C402.5 172.6 402.2 171.4 402.2 170.8 C402.2 170.1 402.3 169.3 403.0 169.0 C403.7 168.7 405.4 168.6 406.2 168.8 C407.0 168.9 407.7 169.3 407.9 169.9 C408.2 170.6 408.3 172.1 407.8 172.8 C407.3 173.5 405.8 174.2 405.0 174.2Z" fill="#2a0404" fill-opacity="0.58" stroke="#f42212" stroke-opacity="0.65" stroke-width="2.8"/>
<path d="M420.8 171.3 C420.7 172.1 420.2 173.1 419.6 173.6 C418.9 174.0 417.7 174.3 416.8 174.1 C416.0 173.9 414.8 173.1 414.3 172.4 C413.8 171.6 413.4 170.3 413.8 169.7 C414.3 169.0 416.0 168.6 416.9 168.5 C417.9 168.4 419.0 168.5 419.7 169.0 C420.3 169.5 420.8 170.6 420.8 171.3Z" fill="#2a0404" fill-opacity="0.89" stroke="#f42212" stroke-opacity="0.99" stroke-width="2.7"/>
<path d="M425.5 171.9 C425.1 171.1 424.4 169.6 424.7 168.7 C425.0 167.7 426.3 166.6 427.2 166.3 C428.2 166.0 429.7 166.3 430.5 166.7 C431.2 167.1 431.5 167.7 431.6 168.6 C431.7 169.5 431.7 171.3 431.0 172.1 C430.3 172.9 428.2 173.1 427.3 173.1 C426.3 173.1 425.9 172.6 425.5 171.9Z" fill="#2a0404" fill-opacity="0.72" stroke="#f42212" stroke-opacity="0.80" stroke-width="2.6"/>
<path d="M435.9 175.1 C435.2 174.9 434.5 174.1 434.2 173.1 C433.9 172.0 433.5 170.0 434.0 169.1 C434.4 168.2 435.9 167.8 436.8 167.7 C437.7 167.6 438.8 167.8 439.4 168.5 C439.9 169.2 440.4 170.9 440.2 171.9 C440.0 172.9 438.9 173.9 438.2 174.5 C437.4 175.0 436.5 175.4 435.9 175.1Z" fill="#2a0404" fill-opacity="0.73" stroke="#f42212" stroke-opacity="0.82" stroke-width="2.8"/>
<path d="M325.0 179.1 C324.6 178.2 325.4 176.9 325.9 176.0 C326.3 175.1 327.0 173.9 327.8 173.7 C328.6 173.5 329.9 174.1 330.8 174.8 C331.6 175.5 332.8 177.1 332.9 178.1 C333.1 179.0 332.5 180.1 331.7 180.7 C331.0 181.2 329.5 181.8 328.4 181.6 C327.3 181.3 325.4 180.0 325.0 179.1Z" fill="#2a0404" fill-opacity="0.56" stroke="#f42212" stroke-opacity="0.62" stroke-width="2.5"/>
<path d="M362.4 181.1 C361.9 181.8 361.3 182.5 360.6 182.5 C359.9 182.5 358.8 181.9 358.2 181.1 C357.5 180.4 356.7 178.8 356.8 178.0 C356.8 177.2 357.8 176.8 358.5 176.5 C359.2 176.3 360.2 176.2 361.1 176.5 C361.9 176.7 363.3 177.2 363.6 177.9 C363.8 178.7 362.9 180.3 362.4 181.1Z" fill="#2a0404" fill-opacity="0.85" stroke="#f42212" stroke-opacity="0.94" stroke-width="2.9"/>
<path d="M375.5 180.3 C375.2 181.3 373.8 183.0 373.0 183.4 C372.2 183.8 371.3 182.9 370.5 182.5 C369.8 182.1 368.7 181.7 368.6 180.9 C368.5 180.1 369.1 178.4 369.8 177.5 C370.4 176.6 371.7 175.6 372.5 175.6 C373.3 175.5 374.1 176.3 374.6 177.1 C375.1 177.9 375.7 179.2 375.5 180.3Z" fill="#2a0404" fill-opacity="0.44" stroke="#f42212" stroke-opacity="0.49" stroke-width="2.3"/>
<path d="M379.0 181.9 C378.7 180.8 378.9 178.3 379.3 177.4 C379.8 176.6 380.6 176.6 381.4 176.7 C382.3 176.8 383.6 177.5 384.4 178.3 C385.1 179.0 385.9 180.1 385.8 181.0 C385.7 182.0 384.4 183.4 383.6 183.9 C382.8 184.4 381.7 184.3 380.9 184.0 C380.1 183.6 379.2 183.0 379.0 181.9Z" fill="#2a0404" fill-opacity="0.52" stroke="#f42212" stroke-opacity="0.58" stroke-width="2.9"/>
<path d="M387.1 180.3 C387.0 179.3 387.3 178.3 387.9 177.5 C388.5 176.7 389.9 175.5 390.8 175.5 C391.6 175.6 392.4 176.7 392.9 177.9 C393.3 179.0 394.1 181.4 393.7 182.4 C393.3 183.3 391.6 183.5 390.6 183.7 C389.7 183.9 388.6 184.3 388.0 183.7 C387.4 183.2 387.1 181.4 387.1 180.3Z" fill="#2a0404" fill-opacity="0.59" stroke="#f42212" stroke-opacity="0.66" stroke-width="2.2"/>
<path d="M414.3 179.9 C414.2 180.9 413.1 182.7 412.4 183.3 C411.7 184.0 410.6 184.0 409.8 183.7 C409.0 183.4 408.0 182.5 407.7 181.5 C407.5 180.5 407.9 178.8 408.4 177.8 C408.8 176.9 409.6 175.6 410.4 175.5 C411.1 175.5 412.4 176.8 413.0 177.5 C413.7 178.2 414.4 179.0 414.3 179.9Z" fill="#2a0404" fill-opacity="0.65" stroke="#f42212" stroke-opacity="0.72" stroke-width="2.7"/>
<path d="M423.1 179.1 C422.4 179.7 420.5 180.7 419.7 180.7 C418.9 180.7 418.5 179.6 418.2 179.0 C417.8 178.4 417.1 178.0 417.6 177.1 C418.1 176.2 420.0 174.2 421.0 173.8 C422.0 173.3 423.2 173.9 423.8 174.4 C424.3 175.0 424.4 176.3 424.3 177.0 C424.2 177.8 423.9 178.5 423.1 179.1Z" fill="#2a0404" fill-opacity="0.88" stroke="#f42212" stroke-opacity="0.98" stroke-width="2.8"/>
<path d="M432.9 180.7 C431.8 180.4 430.5 179.3 430.0 178.4 C429.4 177.6 429.0 176.3 429.5 175.5 C430.1 174.7 432.1 173.7 433.3 173.7 C434.6 173.7 436.2 174.7 437.1 175.4 C438.0 176.2 438.8 177.3 438.6 178.0 C438.5 178.8 437.3 179.7 436.3 180.1 C435.3 180.6 433.9 181.0 432.9 180.7Z" fill="#2a0404" fill-opacity="0.67" stroke="#f42212" stroke-opacity="0.75" stroke-width="2.5"/>
<path d="M440.6 181.3 C439.7 180.7 438.7 179.3 438.3 178.3 C438.0 177.2 437.9 175.7 438.6 175.1 C439.2 174.4 441.3 174.2 442.4 174.3 C443.4 174.4 444.4 175.0 444.9 175.6 C445.5 176.3 446.0 177.4 445.8 178.3 C445.6 179.3 444.5 180.9 443.6 181.3 C442.8 181.8 441.5 181.8 440.6 181.3Z" fill="#2a0404" fill-opacity="0.65" stroke="#f42212" stroke-opacity="0.73" stroke-width="2.7"/>
<path d="M323.2 189.1 C323.2 188.2 323.2 186.7 323.7 186.1 C324.2 185.4 325.5 185.0 326.3 185.2 C327.1 185.5 328.0 186.7 328.4 187.5 C328.8 188.3 328.9 189.2 328.6 190.0 C328.3 190.7 327.5 191.6 326.7 191.9 C326.0 192.2 324.5 192.2 323.9 191.7 C323.3 191.3 323.2 190.1 323.2 189.1Z" fill="#2a0404" fill-opacity="0.43" stroke="#f42212" stroke-opacity="0.48" stroke-width="2.8"/>
<path d="M336.4 188.5 C335.7 188.8 334.8 189.1 334.1 188.9 C333.5 188.6 332.8 187.8 332.6 187.1 C332.4 186.3 332.3 185.0 332.9 184.3 C333.5 183.7 335.1 183.1 336.1 183.1 C337.1 183.1 338.6 183.7 339.0 184.3 C339.4 185.0 339.0 186.3 338.6 187.0 C338.2 187.7 337.2 188.2 336.4 188.5Z" fill="#2a0404" fill-opacity="0.69" stroke="#f42212" stroke-opacity="0.77" stroke-width="2.2"/>
<path d="M346.6 193.2 C345.9 193.6 344.6 192.9 343.7 192.2 C342.8 191.4 341.5 189.8 341.2 188.9 C341.0 187.9 341.6 187.2 342.2 186.6 C342.8 186.0 343.8 185.2 344.7 185.3 C345.6 185.4 347.0 186.5 347.6 187.3 C348.2 188.1 348.4 189.0 348.3 190.0 C348.1 191.0 347.4 192.9 346.6 193.2Z" fill="#2a0404" fill-opacity="0.74" stroke="#f42212" stroke-opacity="0.83" stroke-width="2.2"/>
<path d="M354.0 192.4 C353.1 191.8 351.7 190.3 351.5 189.4 C351.2 188.6 351.7 187.9 352.5 187.1 C353.3 186.3 355.3 184.8 356.3 184.7 C357.2 184.7 357.6 185.9 358.1 186.9 C358.6 187.8 359.5 189.2 359.3 190.2 C359.1 191.3 357.6 193.1 356.7 193.4 C355.8 193.8 354.8 193.1 354.0 192.4Z" fill="#2a0404" fill-opacity="0.66" stroke="#f42212" stroke-opacity="0.73" stroke-width="2.4"/>
<path d="M361.6 189.4 C361.2 188.7 361.0 187.5 361.3 186.6 C361.6 185.8 362.5 184.6 363.4 184.5 C364.3 184.3 366.1 185.0 366.8 185.6 C367.5 186.1 367.5 187.0 367.5 187.9 C367.4 188.8 367.2 190.5 366.5 191.0 C365.8 191.5 364.3 191.2 363.5 190.9 C362.6 190.7 361.9 190.1 361.6 189.4Z" fill="#2a0404" fill-opacity="0.57" stroke="#f42212" stroke-opacity="0.63" stroke-width="2.4"/>
<path d="M377.7 189.1 C377.3 189.7 376.2 190.3 375.4 190.3 C374.6 190.3 373.4 189.8 372.8 189.2 C372.2 188.5 371.7 187.3 371.9 186.6 C372.1 185.8 373.3 184.8 373.9 184.5 C374.6 184.2 375.2 184.6 375.9 184.9 C376.5 185.3 377.4 185.9 377.7 186.6 C378.0 187.3 378.1 188.5 377.7 189.1Z" fill="#2a0404" fill-opacity="0.89" stroke="#f42212" stroke-opacity="0.99" stroke-width="2.6"/>
<path d="M382.6 187.2 C382.1 186.3 382.0 185.0 382.1 184.3 C382.3 183.6 382.9 183.2 383.6 183.0 C384.2 182.8 385.2 182.5 386.1 183.1 C386.9 183.6 388.4 185.1 388.6 186.1 C388.7 187.1 387.7 188.3 387.2 188.9 C386.6 189.5 386.0 190.0 385.2 189.7 C384.5 189.4 383.1 188.1 382.6 187.2Z" fill="#2a0404" fill-opacity="0.50" stroke="#f42212" stroke-opacity="0.56" stroke-width="2.8"/>
<path d="M394.2 191.8 C393.2 191.2 392.1 190.2 391.9 189.3 C391.7 188.3 392.3 186.8 393.0 186.2 C393.7 185.6 395.2 185.6 396.3 185.8 C397.3 186.1 398.7 187.0 399.4 187.8 C400.0 188.6 400.5 189.9 400.1 190.7 C399.8 191.6 398.5 192.7 397.5 192.9 C396.5 193.1 395.1 192.4 394.2 191.8Z" fill="#2a0404" fill-opacity="0.49" stroke="#f42212" stroke-opacity="0.55" stroke-width="2.3"/>
<path d="M410.1 188.6 C409.9 189.6 408.8 190.5 407.9 191.1 C407.1 191.6 405.7 192.2 404.8 191.7 C404.0 191.3 403.2 189.6 402.9 188.4 C402.6 187.2 402.7 185.5 403.1 184.6 C403.6 183.7 405.0 183.0 405.9 183.1 C406.8 183.1 408.0 184.2 408.7 185.1 C409.4 186.0 410.2 187.6 410.1 188.6Z" fill="#2a0404" fill-opacity="0.70" stroke="#f42212" stroke-opacity="0.78" stroke-width="2.6"/>
<path d="M416.7 191.7 C415.8 191.4 414.5 190.1 414.0 189.2 C413.6 188.2 413.6 186.9 414.0 186.1 C414.5 185.3 415.7 184.6 416.7 184.4 C417.6 184.2 419.2 184.3 419.8 184.9 C420.4 185.5 420.4 186.7 420.2 187.7 C420.1 188.8 419.6 190.5 419.0 191.1 C418.4 191.8 417.5 192.0 416.7 191.7Z" fill="#2a0404" fill-opacity="0.76" stroke="#f42212" stroke-opacity="0.84" stroke-width="2.4"/>
<path d="M426.4 193.0 C425.6 192.9 425.1 191.5 424.8 190.7 C424.4 190.0 424.0 189.2 424.3 188.4 C424.6 187.5 425.9 186.1 426.8 185.7 C427.6 185.2 428.5 185.4 429.1 185.9 C429.8 186.3 430.5 187.4 430.6 188.3 C430.6 189.3 430.0 190.9 429.3 191.6 C428.6 192.4 427.1 193.2 426.4 193.0Z" fill="#2a0404" fill-opacity="0.55" stroke="#f42212" stroke-opacity="0.62" stroke-width="2.8"/>
<path d="M435.3 190.9 C434.5 190.3 433.6 189.1 433.6 188.3 C433.5 187.4 434.4 186.3 435.0 185.7 C435.5 185.2 436.3 184.8 437.1 185.1 C437.9 185.3 439.4 186.2 439.9 187.0 C440.4 187.8 440.3 188.9 440.0 189.8 C439.7 190.6 438.8 192.0 438.0 192.2 C437.2 192.4 436.0 191.6 435.3 190.9Z" fill="#2a0404" fill-opacity="0.46" stroke="#f42212" stroke-opacity="0.51" stroke-width="2.5"/>
<path d="M332.3 198.4 C332.1 199.2 331.0 200.4 330.3 200.8 C329.5 201.3 328.4 201.2 327.8 200.9 C327.2 200.6 326.8 199.7 326.7 198.9 C326.7 198.1 327.1 196.6 327.6 195.9 C328.1 195.2 328.9 194.7 329.6 194.6 C330.2 194.6 331.0 195.2 331.5 195.8 C331.9 196.4 332.5 197.6 332.3 198.4Z" fill="#2a0404" fill-opacity="0.83" stroke="#f42212" stroke-opacity="0.93" stroke-width="2.5"/>
<path d="M337.0 196.4 C336.8 195.6 337.4 194.0 338.0 193.2 C338.5 192.3 339.3 191.5 340.2 191.3 C341.1 191.2 342.5 191.8 343.1 192.4 C343.8 193.0 344.3 194.1 344.1 195.0 C344.0 195.8 343.2 197.0 342.4 197.5 C341.5 198.1 340.0 198.5 339.1 198.3 C338.2 198.1 337.2 197.3 337.0 196.4Z" fill="#2a0404" fill-opacity="0.89" stroke="#f42212" stroke-opacity="0.99" stroke-width="2.7"/>
<path d="M351.2 198.2 C350.4 198.3 349.3 198.2 348.7 197.7 C348.2 197.2 348.0 195.9 347.9 195.0 C347.9 194.1 347.8 193.0 348.4 192.3 C348.9 191.7 350.2 191.1 351.2 191.3 C352.1 191.4 353.6 192.4 354.0 193.3 C354.4 194.3 354.2 196.1 353.7 197.0 C353.3 197.8 352.1 198.1 351.2 198.2Z" fill="#2a0404" fill-opacity="0.77" stroke="#f42212" stroke-opacity="0.86" stroke-width="2.5"/>
<path d="M379.3 199.2 C378.5 198.7 377.7 198.1 377.8 197.3 C377.9 196.4 379.2 194.7 380.1 194.2 C380.9 193.7 382.1 194.1 383.0 194.4 C383.8 194.7 385.0 195.3 385.2 196.1 C385.4 196.8 384.8 198.2 384.4 199.0 C384.0 199.8 383.5 200.7 382.6 200.8 C381.8 200.8 380.1 199.8 379.3 199.2Z" fill="#2a0404" fill-opacity="0.59" stroke="#f42212" stroke-opacity="0.65" stroke-width="2.1"/>
<path d="M392.1 198.0 C391.9 199.0 391.4 200.4 390.8 200.8 C390.1 201.2 388.9 200.8 388.4 200.3 C387.9 199.8 387.7 198.7 387.6 197.8 C387.6 196.9 387.5 195.6 387.9 195.0 C388.3 194.3 389.4 193.8 390.1 193.8 C390.7 193.7 391.7 194.0 392.1 194.7 C392.4 195.4 392.4 197.0 392.1 198.0Z" fill="#2a0404" fill-opacity="0.84" stroke="#f42212" stroke-opacity="0.94" stroke-width="2.2"/>
<path d="M401.9 200.5 C400.9 200.8 399.6 200.2 398.8 199.7 C398.0 199.1 397.1 198.1 397.0 197.0 C396.9 196.0 397.6 193.9 398.2 193.1 C398.8 192.3 399.7 192.0 400.6 192.1 C401.4 192.3 402.7 192.9 403.4 193.9 C404.0 194.9 404.7 196.9 404.4 198.0 C404.2 199.1 402.8 200.3 401.9 200.5Z" fill="#2a0404" fill-opacity="0.89" stroke="#f42212" stroke-opacity="0.98" stroke-width="2.2"/>
<path d="M413.8 196.1 C413.7 197.2 413.2 198.8 412.5 199.5 C411.8 200.2 410.6 200.7 409.9 200.4 C409.1 200.1 408.3 198.8 408.1 197.7 C407.9 196.6 408.3 194.8 408.7 193.9 C409.2 193.0 409.9 192.4 410.7 192.2 C411.5 192.1 412.9 192.4 413.4 193.0 C413.9 193.6 414.0 195.0 413.8 196.1Z" fill="#2a0404" fill-opacity="0.70" stroke="#f42212" stroke-opacity="0.78" stroke-width="2.3"/>
<path d="M420.5 199.4 C419.7 199.1 419.0 197.9 418.7 197.2 C418.4 196.4 418.2 195.5 418.5 194.9 C418.9 194.3 420.1 193.8 421.0 193.8 C421.8 193.7 423.0 194.2 423.6 194.9 C424.2 195.5 424.4 196.9 424.4 197.7 C424.3 198.4 424.0 199.0 423.3 199.2 C422.7 199.5 421.2 199.7 420.5 199.4Z" fill="#2a0404" fill-opacity="0.45" stroke="#f42212" stroke-opacity="0.50" stroke-width="2.8"/>
<path d="M428.3 198.8 C428.0 198.2 428.4 196.7 428.9 196.0 C429.4 195.3 430.6 194.8 431.4 194.7 C432.3 194.5 433.5 194.5 434.2 195.0 C434.9 195.4 435.6 196.5 435.6 197.3 C435.5 198.1 434.7 199.4 433.9 199.9 C433.1 200.3 431.6 200.1 430.7 199.9 C429.8 199.7 428.7 199.5 428.3 198.8Z" fill="#2a0404" fill-opacity="0.41" stroke="#f42212" stroke-opacity="0.45" stroke-width="2.7"/>
<path d="M442.4 200.0 C441.6 200.0 440.5 199.7 440.2 199.0 C439.9 198.4 440.2 197.0 440.3 196.2 C440.4 195.5 440.4 194.7 441.0 194.4 C441.6 194.2 443.4 194.3 444.1 194.7 C444.8 195.1 445.2 196.1 445.3 196.8 C445.4 197.6 445.2 198.6 444.7 199.2 C444.2 199.7 443.1 200.1 442.4 200.0Z" fill="#2a0404" fill-opacity="0.77" stroke="#f42212" stroke-opacity="0.86" stroke-width="2.5"/>
<path d="M322.2 208.8 C321.5 208.1 320.8 206.9 320.8 206.0 C320.7 205.0 321.1 203.4 321.8 203.0 C322.6 202.6 324.4 203.0 325.3 203.3 C326.1 203.7 326.6 204.4 326.9 205.1 C327.3 205.9 327.6 207.0 327.2 207.8 C326.9 208.6 325.7 209.7 324.9 209.9 C324.1 210.0 322.9 209.4 322.2 208.8Z" fill="#2a0404" fill-opacity="0.70" stroke="#f42212" stroke-opacity="0.78" stroke-width="2.1"/>
<path d="M346.6 206.3 C346.0 207.4 344.4 208.7 343.5 209.0 C342.6 209.3 341.9 208.7 341.3 208.2 C340.8 207.6 340.1 206.6 340.3 205.5 C340.6 204.4 342.1 202.3 343.1 201.5 C344.0 200.8 345.3 200.8 346.0 201.0 C346.7 201.2 347.2 201.8 347.3 202.7 C347.5 203.6 347.3 205.3 346.6 206.3Z" fill="#2a0404" fill-opacity="0.52" stroke="#f42212" stroke-opacity="0.58" stroke-width="2.2"/>
<path d="M354.6 208.1 C354.1 207.5 353.5 206.0 353.6 205.1 C353.6 204.2 354.2 203.1 354.9 202.6 C355.5 202.1 356.5 201.8 357.3 202.0 C358.1 202.2 359.6 203.0 359.9 203.8 C360.2 204.6 359.6 206.0 359.0 206.8 C358.5 207.6 357.5 208.4 356.8 208.6 C356.1 208.9 355.2 208.7 354.6 208.1Z" fill="#2a0404" fill-opacity="0.50" stroke="#f42212" stroke-opacity="0.56" stroke-width="2.6"/>
<path d="M362.4 206.2 C361.5 205.3 360.7 204.1 360.7 203.2 C360.7 202.3 361.3 201.1 362.2 200.9 C363.1 200.7 365.1 201.4 366.1 201.9 C367.0 202.5 367.3 203.1 367.6 204.1 C367.9 205.1 368.0 207.0 367.7 207.7 C367.4 208.5 366.5 208.8 365.6 208.5 C364.7 208.3 363.2 207.1 362.4 206.2Z" fill="#2a0404" fill-opacity="0.76" stroke="#f42212" stroke-opacity="0.84" stroke-width="2.9"/>
<path d="M374.4 205.9 C374.3 204.7 374.9 202.7 375.2 201.7 C375.6 200.8 376.1 200.0 376.8 200.1 C377.4 200.3 378.7 201.5 379.2 202.7 C379.8 203.9 380.0 206.0 379.9 207.1 C379.7 208.2 378.8 209.1 378.2 209.4 C377.6 209.7 376.8 209.4 376.2 208.8 C375.6 208.2 374.6 207.1 374.4 205.9Z" fill="#2a0404" fill-opacity="0.86" stroke="#f42212" stroke-opacity="0.96" stroke-width="2.3"/>
<path d="M385.1 208.7 C384.2 208.6 382.4 207.7 381.9 207.0 C381.4 206.3 381.9 205.2 382.2 204.5 C382.5 203.9 382.8 203.4 383.5 203.0 C384.2 202.7 385.5 202.0 386.3 202.3 C387.2 202.7 388.6 204.4 388.7 205.2 C388.9 206.0 387.9 206.6 387.3 207.2 C386.7 207.7 386.0 208.7 385.1 208.7Z" fill="#2a0404" fill-opacity="0.67" stroke="#f42212" stroke-opacity="0.75" stroke-width="2.5"/>
<path d="M400.3 209.4 C399.9 210.0 398.5 210.4 397.5 210.2 C396.6 209.9 395.3 208.8 394.7 208.0 C394.0 207.1 393.5 205.8 393.7 205.0 C394.0 204.2 395.2 203.4 396.1 203.2 C397.0 203.1 398.5 203.4 399.2 203.9 C399.9 204.4 400.1 205.4 400.3 206.3 C400.5 207.2 400.8 208.7 400.3 209.4Z" fill="#2a0404" fill-opacity="0.62" stroke="#f42212" stroke-opacity="0.68" stroke-width="2.1"/>
<path d="M438.6 208.1 C438.1 208.5 436.9 208.7 436.1 208.3 C435.3 207.9 434.1 206.6 433.7 205.7 C433.4 204.8 433.6 203.7 434.0 203.0 C434.4 202.2 435.4 201.2 436.2 201.2 C437.1 201.1 438.5 201.9 439.1 202.7 C439.6 203.5 439.7 205.0 439.6 205.9 C439.5 206.8 439.2 207.7 438.6 208.1Z" fill="#2a0404" fill-opacity="0.69" stroke="#f42212" stroke-opacity="0.77" stroke-width="2.1"/>
<path d="M331.0 218.7 C330.2 219.1 328.9 218.7 328.2 218.2 C327.6 217.8 327.1 216.9 327.0 216.1 C326.9 215.3 327.0 214.0 327.5 213.4 C328.0 212.8 329.3 212.4 330.1 212.4 C331.0 212.4 332.2 212.9 332.7 213.6 C333.3 214.2 333.8 215.3 333.5 216.2 C333.2 217.0 331.9 218.4 331.0 218.7Z" fill="#2a0404" fill-opacity="0.49" stroke="#f42212" stroke-opacity="0.54" stroke-width="2.8"/>
<path d="M350.0 215.8 C349.3 214.9 348.1 213.3 348.1 212.3 C348.2 211.3 349.4 209.8 350.3 209.7 C351.2 209.6 352.7 210.8 353.5 211.5 C354.3 212.1 354.8 212.7 355.0 213.6 C355.3 214.5 355.4 216.3 354.9 217.0 C354.5 217.8 353.1 218.3 352.2 218.1 C351.4 217.9 350.7 216.8 350.0 215.8Z" fill="#2a0404" fill-opacity="0.46" stroke="#f42212" stroke-opacity="0.51" stroke-width="2.8"/>
<path d="M361.8 218.0 C361.1 217.8 360.0 216.7 359.5 215.6 C359.1 214.5 358.9 212.5 359.2 211.6 C359.5 210.6 360.6 210.1 361.4 209.8 C362.2 209.4 363.3 208.9 364.0 209.3 C364.7 209.7 365.5 211.1 365.5 212.3 C365.5 213.5 364.4 215.4 363.8 216.4 C363.2 217.3 362.5 218.1 361.8 218.0Z" fill="#2a0404" fill-opacity="0.90" stroke="#f42212" stroke-opacity="1.00" stroke-width="2.6"/>
<path d="M369.5 216.7 C368.8 216.0 368.1 215.3 368.3 214.5 C368.6 213.7 370.0 212.1 370.8 211.6 C371.7 211.2 372.6 211.3 373.3 211.7 C374.1 212.1 375.2 213.1 375.5 214.0 C375.8 214.8 375.5 216.1 375.0 216.8 C374.5 217.6 373.5 218.5 372.6 218.4 C371.6 218.4 370.2 217.3 369.5 216.7Z" fill="#2a0404" fill-opacity="0.75" stroke="#f42212" stroke-opacity="0.84" stroke-width="2.7"/>
<path d="M383.2 215.6 C382.5 216.2 380.9 216.9 379.9 216.9 C379.0 217.0 377.8 216.6 377.3 216.0 C376.9 215.4 377.0 214.2 377.4 213.2 C377.8 212.3 379.0 210.7 379.7 210.3 C380.5 209.9 381.3 210.4 382.0 210.8 C382.7 211.3 383.8 212.4 384.0 213.2 C384.2 213.9 383.8 214.9 383.2 215.6Z" fill="#2a0404" fill-opacity="0.80" stroke="#f42212" stroke-opacity="0.89" stroke-width="2.8"/>
<path d="M390.8 217.6 C390.1 217.7 389.0 217.9 388.3 217.3 C387.6 216.8 386.7 215.4 386.7 214.4 C386.7 213.4 387.5 212.0 388.1 211.4 C388.8 210.9 389.8 210.6 390.6 210.9 C391.3 211.2 392.1 212.3 392.5 213.2 C392.8 214.1 392.8 215.5 392.6 216.2 C392.3 216.9 391.5 217.4 390.8 217.6Z" fill="#2a0404" fill-opacity="0.70" stroke="#f42212" stroke-opacity="0.78" stroke-width="2.4"/>
<path d="M404.1 215.4 C403.4 216.0 402.6 216.2 401.9 215.9 C401.1 215.6 400.1 214.4 399.7 213.6 C399.4 212.8 399.4 212.0 399.7 211.3 C400.0 210.5 401.0 209.4 401.7 209.2 C402.4 209.0 403.2 209.6 403.9 210.2 C404.7 210.8 406.2 211.9 406.2 212.8 C406.2 213.7 404.9 214.9 404.1 215.4Z" fill="#2a0404" fill-opacity="0.82" stroke="#f42212" stroke-opacity="0.91" stroke-width="2.3"/>
<path d="M410.2 218.5 C409.4 218.0 408.8 217.2 408.6 216.3 C408.5 215.5 408.8 213.9 409.5 213.2 C410.1 212.5 411.6 212.1 412.5 212.2 C413.5 212.2 414.7 212.6 415.4 213.4 C416.0 214.2 416.6 216.0 416.3 216.9 C416.0 217.9 414.8 218.9 413.8 219.1 C412.8 219.4 411.1 218.9 410.2 218.5Z" fill="#2a0404" fill-opacity="0.63" stroke="#f42212" stroke-opacity="0.70" stroke-width="2.6"/>
<path d="M424.7 217.9 C424.0 218.3 422.9 218.1 422.1 217.7 C421.2 217.3 420.1 216.5 419.8 215.5 C419.5 214.5 419.8 212.4 420.3 211.5 C420.8 210.6 422.0 210.0 422.9 210.2 C423.9 210.3 425.5 211.5 426.1 212.4 C426.7 213.3 426.9 214.6 426.7 215.6 C426.5 216.5 425.5 217.5 424.7 217.9Z" fill="#2a0404" fill-opacity="0.57" stroke="#f42212" stroke-opacity="0.64" stroke-width="2.2"/>
<path d="M434.7 215.5 C434.1 216.0 433.0 216.0 432.2 215.9 C431.4 215.9 430.4 215.8 429.9 215.2 C429.5 214.7 429.1 213.7 429.5 212.8 C430.0 211.9 431.5 210.2 432.4 209.8 C433.3 209.4 434.5 209.8 435.0 210.3 C435.6 210.8 435.8 212.0 435.8 212.9 C435.7 213.8 435.3 215.0 434.7 215.5Z" fill="#2a0404" fill-opacity="0.90" stroke="#f42212" stroke-opacity="1.00" stroke-width="2.2"/>
<path d="M440.6 216.5 C440.0 215.6 439.1 213.8 439.2 212.8 C439.3 211.8 440.4 210.7 441.2 210.5 C442.0 210.4 443.3 211.3 444.1 211.9 C444.8 212.4 445.5 213.0 445.8 213.8 C446.1 214.7 446.3 216.3 445.8 217.0 C445.3 217.7 443.7 218.0 442.8 218.0 C441.9 217.9 441.2 217.4 440.6 216.5Z" fill="#2a0404" fill-opacity="0.56" stroke="#f42212" stroke-opacity="0.62" stroke-width="2.2"/>
<path d="M326.0 226.6 C325.1 226.6 324.2 225.9 323.8 225.2 C323.3 224.5 323.0 223.3 323.3 222.6 C323.5 221.8 324.6 221.2 325.5 220.9 C326.3 220.6 327.4 220.5 328.1 220.7 C328.9 221.0 329.6 221.7 329.9 222.5 C330.1 223.3 330.1 224.9 329.5 225.6 C328.9 226.2 327.0 226.7 326.0 226.6Z" fill="#2a0404" fill-opacity="0.86" stroke="#f42212" stroke-opacity="0.96" stroke-width="2.7"/>
<path d="M330.9 225.9 C330.5 225.1 330.7 223.1 331.3 222.3 C331.9 221.5 333.5 221.4 334.4 221.2 C335.3 221.1 336.2 221.1 336.9 221.5 C337.5 222.0 338.3 223.0 338.2 223.9 C338.1 224.8 337.1 226.3 336.3 226.8 C335.5 227.3 334.2 227.1 333.3 227.0 C332.4 226.8 331.2 226.6 330.9 225.9Z" fill="#2a0404" fill-opacity="0.84" stroke="#f42212" stroke-opacity="0.94" stroke-width="2.6"/>
<path d="M345.8 225.7 C344.8 225.6 343.8 224.7 343.3 223.8 C342.9 223.0 342.5 221.3 342.9 220.6 C343.3 219.9 344.7 219.7 345.6 219.6 C346.5 219.5 347.5 219.2 348.2 219.7 C349.0 220.2 349.9 222.0 350.0 222.8 C350.2 223.7 349.8 224.5 349.1 224.9 C348.4 225.4 346.7 225.9 345.8 225.7Z" fill="#2a0404" fill-opacity="0.85" stroke="#f42212" stroke-opacity="0.95" stroke-width="2.6"/>
<path d="M367.1 227.7 C366.3 227.8 365.2 226.8 364.6 226.2 C363.9 225.5 363.1 224.8 363.2 224.0 C363.3 223.3 364.2 222.0 365.0 221.6 C365.8 221.2 367.0 221.5 367.8 221.8 C368.6 222.1 369.6 222.7 369.9 223.4 C370.1 224.1 369.8 225.2 369.3 225.9 C368.8 226.6 367.9 227.7 367.1 227.7Z" fill="#2a0404" fill-opacity="0.66" stroke="#f42212" stroke-opacity="0.74" stroke-width="2.4"/>
<path d="M379.5 224.8 C378.7 225.7 377.4 225.8 376.4 225.6 C375.5 225.4 374.3 224.5 373.7 223.6 C373.1 222.7 372.5 221.4 372.9 220.4 C373.3 219.3 375.1 217.8 376.1 217.4 C377.1 216.9 378.2 217.1 379.0 217.6 C379.8 218.1 380.8 219.2 380.9 220.4 C381.0 221.6 380.2 223.9 379.5 224.8Z" fill="#2a0404" fill-opacity="0.71" stroke="#f42212" stroke-opacity="0.79" stroke-width="2.2"/>
<path d="M384.2 222.6 C383.9 221.5 384.0 220.0 384.5 219.2 C385.0 218.4 386.3 217.9 387.2 217.8 C388.1 217.6 389.1 217.5 389.7 218.1 C390.3 218.7 390.8 220.5 390.7 221.6 C390.6 222.7 389.8 224.0 389.0 224.7 C388.2 225.4 387.0 225.9 386.2 225.6 C385.4 225.2 384.4 223.7 384.2 222.6Z" fill="#2a0404" fill-opacity="0.65" stroke="#f42212" stroke-opacity="0.72" stroke-width="2.1"/>
<path d="M392.5 224.9 C392.1 224.3 392.1 223.2 392.6 222.3 C393.0 221.5 394.4 219.9 395.2 219.6 C395.9 219.2 396.4 219.9 397.1 220.4 C397.8 220.8 399.2 221.5 399.3 222.3 C399.4 223.0 398.6 224.2 397.9 224.8 C397.1 225.5 395.8 225.9 394.9 226.0 C394.0 226.0 392.9 225.5 392.5 224.9Z" fill="#2a0404" fill-opacity="0.70" stroke="#f42212" stroke-opacity="0.77" stroke-width="2.4"/>
<path d="M403.2 226.3 C402.8 225.6 403.2 224.2 403.5 223.3 C403.8 222.4 404.2 221.3 405.1 221.0 C405.9 220.6 407.8 220.7 408.6 221.1 C409.4 221.6 409.8 222.8 409.8 223.5 C409.8 224.3 409.2 225.0 408.6 225.7 C407.9 226.3 406.8 227.4 405.9 227.5 C405.0 227.6 403.6 227.0 403.2 226.3Z" fill="#2a0404" fill-opacity="0.89" stroke="#f42212" stroke-opacity="0.99" stroke-width="2.5"/>
<path d="M434.5 226.6 C433.4 226.1 432.0 225.1 431.6 224.0 C431.2 222.9 431.4 220.8 432.1 220.1 C432.7 219.4 434.3 219.7 435.4 219.8 C436.5 219.9 438.1 220.0 438.8 220.7 C439.5 221.3 439.8 222.6 439.7 223.6 C439.6 224.7 438.8 226.5 437.9 227.0 C437.1 227.5 435.5 227.1 434.5 226.6Z" fill="#2a0404" fill-opacity="0.65" stroke="#f42212" stroke-opacity="0.73" stroke-width="2.2"/>
<path d="M326.5 232.4 C326.2 231.6 326.8 230.7 327.1 230.1 C327.5 229.4 328.0 228.7 328.7 228.6 C329.4 228.4 330.7 228.7 331.3 229.2 C332.0 229.8 332.6 231.2 332.6 232.0 C332.6 232.9 331.9 233.9 331.3 234.3 C330.7 234.8 329.6 235.1 328.8 234.8 C328.0 234.4 326.8 233.2 326.5 232.4Z" fill="#2a0404" fill-opacity="0.83" stroke="#f42212" stroke-opacity="0.92" stroke-width="2.8"/>
<path d="M337.5 232.9 C336.8 231.9 336.7 230.6 336.9 229.8 C337.0 229.0 337.7 228.3 338.5 227.9 C339.3 227.6 340.8 227.5 341.7 227.9 C342.7 228.4 343.7 229.6 344.2 230.7 C344.6 231.8 344.8 233.6 344.3 234.4 C343.8 235.2 342.5 235.9 341.4 235.7 C340.2 235.4 338.3 233.9 337.5 232.9Z" fill="#2a0404" fill-opacity="0.88" stroke="#f42212" stroke-opacity="0.98" stroke-width="2.3"/>
<path d="M359.5 234.4 C358.8 233.9 357.8 232.8 357.7 231.9 C357.7 231.1 358.7 229.7 359.4 229.2 C360.2 228.6 361.5 228.4 362.3 228.5 C363.0 228.6 363.5 229.1 363.9 229.7 C364.2 230.4 364.7 231.4 364.5 232.3 C364.2 233.2 363.1 234.8 362.3 235.1 C361.5 235.5 360.3 235.0 359.5 234.4Z" fill="#2a0404" fill-opacity="0.81" stroke="#f42212" stroke-opacity="0.90" stroke-width="2.9"/>
<path d="M368.1 233.8 C367.6 233.4 367.0 232.7 367.0 232.0 C367.0 231.2 367.4 229.9 368.0 229.3 C368.6 228.7 369.8 228.3 370.6 228.4 C371.4 228.5 372.4 229.3 372.6 229.9 C372.9 230.5 372.7 231.5 372.3 232.2 C371.9 232.8 370.8 233.8 370.1 234.1 C369.4 234.3 368.6 234.1 368.1 233.8Z" fill="#2a0404" fill-opacity="0.72" stroke="#f42212" stroke-opacity="0.80" stroke-width="2.8"/>
<path d="M378.5 231.7 C378.3 230.9 378.9 229.3 379.6 228.7 C380.2 228.1 381.6 228.1 382.4 228.2 C383.3 228.4 384.2 228.8 384.7 229.5 C385.2 230.3 385.5 231.7 385.2 232.7 C384.8 233.6 383.6 235.0 382.8 235.3 C382.0 235.5 381.1 234.6 380.3 234.0 C379.6 233.4 378.6 232.6 378.5 231.7Z" fill="#2a0404" fill-opacity="0.74" stroke="#f42212" stroke-opacity="0.82" stroke-width="2.9"/>
<path d="M396.4 231.3 C396.4 232.1 395.5 233.7 394.6 234.3 C393.6 234.8 391.8 234.9 390.7 234.7 C389.5 234.5 388.3 233.9 387.9 233.1 C387.5 232.3 387.7 230.5 388.2 229.7 C388.8 229.0 390.1 228.6 391.2 228.5 C392.2 228.4 393.7 228.7 394.6 229.1 C395.5 229.6 396.4 230.4 396.4 231.3Z" fill="#2a0404" fill-opacity="0.75" stroke="#f42212" stroke-opacity="0.84" stroke-width="2.6"/>
<path d="M399.0 232.6 C399.0 231.7 399.3 230.7 399.8 230.0 C400.2 229.3 400.8 228.2 401.5 228.3 C402.2 228.4 403.6 229.8 404.0 230.6 C404.4 231.5 404.0 232.5 403.8 233.4 C403.6 234.3 403.2 235.8 402.5 236.1 C401.9 236.4 400.7 235.9 400.1 235.3 C399.5 234.7 399.1 233.5 399.0 232.6Z" fill="#2a0404" fill-opacity="0.77" stroke="#f42212" stroke-opacity="0.86" stroke-width="2.8"/>
<path d="M410.2 234.0 C409.8 233.3 409.4 231.9 409.5 231.0 C409.5 230.1 409.9 228.8 410.6 228.4 C411.3 228.1 412.6 228.4 413.5 228.9 C414.4 229.5 415.6 231.0 415.8 231.7 C416.0 232.5 415.4 233.0 414.8 233.6 C414.2 234.1 413.0 234.9 412.2 235.0 C411.4 235.0 410.7 234.6 410.2 234.0Z" fill="#2a0404" fill-opacity="0.77" stroke="#f42212" stroke-opacity="0.86" stroke-width="2.6"/>
<path d="M425.2 234.3 C424.7 235.0 423.7 235.8 422.7 235.8 C421.7 235.9 419.9 235.2 419.2 234.5 C418.5 233.8 418.4 232.6 418.5 231.8 C418.6 231.0 419.1 230.0 419.8 229.6 C420.6 229.2 422.2 229.1 423.2 229.4 C424.1 229.7 425.0 230.6 425.4 231.4 C425.7 232.2 425.6 233.5 425.2 234.3Z" fill="#2a0404" fill-opacity="0.46" stroke="#f42212" stroke-opacity="0.51" stroke-width="2.2"/>
<path d="M435.7 231.8 C435.7 232.5 435.0 233.5 434.2 233.8 C433.4 234.1 431.7 234.0 430.9 233.7 C430.0 233.4 429.4 232.8 429.1 232.2 C428.9 231.6 428.9 230.6 429.3 230.0 C429.8 229.4 431.1 228.8 431.8 228.7 C432.6 228.7 433.2 229.2 433.8 229.7 C434.5 230.2 435.6 231.1 435.7 231.8Z" fill="#2a0404" fill-opacity="0.51" stroke="#f42212" stroke-opacity="0.56" stroke-width="2.7"/>
<path d="M447.1 231.7 C446.9 232.8 445.8 234.3 444.9 234.9 C444.1 235.6 442.8 235.9 442.0 235.6 C441.2 235.3 440.3 234.0 440.1 233.0 C440.0 231.9 440.6 230.0 441.3 229.1 C442.0 228.2 443.5 227.5 444.3 227.3 C445.2 227.1 446.0 227.1 446.4 227.9 C446.9 228.6 447.4 230.5 447.1 231.7Z" fill="#2a0404" fill-opacity="0.48" stroke="#f42212" stroke-opacity="0.53" stroke-width="2.7"/>
<path d="M327.5 243.1 C326.6 243.4 324.9 243.4 324.1 242.9 C323.4 242.5 323.1 241.5 322.9 240.5 C322.6 239.5 322.3 237.9 322.7 237.1 C323.1 236.4 324.5 235.8 325.5 235.9 C326.5 236.0 328.1 237.0 328.7 237.9 C329.4 238.8 329.5 240.3 329.2 241.1 C329.0 242.0 328.3 242.8 327.5 243.1Z" fill="#2a0404" fill-opacity="0.56" stroke="#f42212" stroke-opacity="0.62" stroke-width="2.8"/>
<path d="M333.4 245.7 C332.7 245.5 332.0 244.5 331.6 243.5 C331.3 242.6 330.8 240.9 331.2 240.0 C331.5 239.2 332.7 238.7 333.5 238.5 C334.3 238.4 335.4 238.8 336.0 239.3 C336.6 239.7 337.4 240.3 337.4 241.2 C337.3 242.1 336.4 244.0 335.7 244.8 C335.0 245.5 334.1 245.9 333.4 245.7Z" fill="#2a0404" fill-opacity="0.50" stroke="#f42212" stroke-opacity="0.56" stroke-width="2.8"/>
<path d="M350.3 242.1 C350.3 242.9 349.7 243.7 348.9 244.2 C348.1 244.7 346.4 245.0 345.5 244.9 C344.6 244.7 343.9 244.3 343.5 243.4 C343.1 242.6 342.8 240.7 343.3 239.7 C343.8 238.8 345.5 237.6 346.4 237.6 C347.3 237.5 348.1 238.4 348.7 239.2 C349.4 239.9 350.2 241.2 350.3 242.1Z" fill="#2a0404" fill-opacity="0.44" stroke="#f42212" stroke-opacity="0.49" stroke-width="2.8"/>
<path d="M355.9 244.0 C354.9 243.7 353.6 242.7 353.0 241.9 C352.4 241.2 352.0 240.4 352.4 239.6 C352.8 238.8 354.4 237.5 355.4 237.3 C356.4 237.1 357.4 237.8 358.2 238.3 C359.0 238.9 360.2 239.8 360.4 240.7 C360.5 241.6 360.0 243.2 359.2 243.7 C358.5 244.3 356.9 244.3 355.9 244.0Z" fill="#2a0404" fill-opacity="0.75" stroke="#f42212" stroke-opacity="0.83" stroke-width="2.6"/>
<path d="M366.8 241.2 C366.0 241.4 364.5 241.3 363.8 241.0 C363.2 240.6 363.0 239.7 363.0 239.1 C363.1 238.5 363.5 237.7 364.2 237.3 C364.9 237.0 366.4 236.9 367.3 237.0 C368.2 237.1 369.2 237.3 369.5 237.8 C369.7 238.3 369.2 239.6 368.7 240.1 C368.3 240.7 367.6 241.1 366.8 241.2Z" fill="#2a0404" fill-opacity="0.56" stroke="#f42212" stroke-opacity="0.62" stroke-width="2.8"/>
<path d="M379.9 239.3 C379.8 240.2 379.1 241.4 378.5 242.0 C377.8 242.5 376.6 242.5 376.0 242.4 C375.3 242.3 374.6 242.1 374.4 241.3 C374.1 240.6 374.0 238.8 374.3 237.8 C374.6 236.9 375.4 235.6 376.2 235.4 C376.9 235.2 378.3 236.0 378.9 236.6 C379.6 237.3 380.0 238.4 379.9 239.3Z" fill="#2a0404" fill-opacity="0.90" stroke="#f42212" stroke-opacity="1.00" stroke-width="2.2"/>
<path d="M387.9 242.2 C387.7 242.9 387.0 243.9 386.3 244.3 C385.6 244.6 384.4 244.6 383.7 244.3 C383.0 243.9 382.2 242.9 382.0 242.2 C381.8 241.6 382.1 241.0 382.5 240.5 C383.0 240.0 383.6 239.3 384.4 239.3 C385.2 239.2 386.8 239.8 387.4 240.3 C388.0 240.8 388.1 241.5 387.9 242.2Z" fill="#2a0404" fill-opacity="0.54" stroke="#f42212" stroke-opacity="0.60" stroke-width="2.6"/>
<path d="M392.6 244.0 C392.2 243.6 392.0 242.4 392.2 241.7 C392.3 240.9 393.0 240.2 393.7 239.7 C394.4 239.2 395.6 238.5 396.2 238.6 C396.9 238.8 397.7 239.9 397.8 240.7 C398.0 241.4 397.8 242.5 397.2 243.1 C396.7 243.8 395.3 244.1 394.6 244.3 C393.8 244.4 393.0 244.5 392.6 244.0Z" fill="#2a0404" fill-opacity="0.62" stroke="#f42212" stroke-opacity="0.69" stroke-width="2.9"/>
<path d="M405.0 241.3 C404.9 240.6 404.9 239.8 405.4 239.2 C405.9 238.7 407.1 238.0 407.8 238.0 C408.6 238.0 409.4 238.4 409.9 239.1 C410.4 239.8 410.9 241.3 410.7 242.2 C410.5 243.0 409.4 243.9 408.7 244.2 C407.9 244.5 406.7 244.3 406.1 243.8 C405.5 243.3 405.1 242.1 405.0 241.3Z" fill="#2a0404" fill-opacity="0.82" stroke="#f42212" stroke-opacity="0.91" stroke-width="2.5"/>
<path d="M418.4 244.5 C417.3 244.7 416.0 243.8 415.2 243.3 C414.5 242.8 413.9 242.2 414.0 241.4 C414.0 240.7 414.5 239.2 415.4 238.6 C416.2 238.0 417.7 237.6 419.0 237.7 C420.2 237.7 422.3 238.3 422.8 239.1 C423.2 239.8 422.7 241.4 421.9 242.3 C421.2 243.2 419.5 244.3 418.4 244.5Z" fill="#2a0404" fill-opacity="0.45" stroke="#f42212" stroke-opacity="0.50" stroke-width="2.3"/>
<path d="M424.5 245.1 C423.6 244.7 422.5 243.2 422.1 242.3 C421.6 241.3 421.3 239.9 421.8 239.2 C422.3 238.5 424.1 238.1 425.2 238.1 C426.2 238.1 427.6 238.3 428.3 239.0 C429.0 239.7 429.4 241.3 429.3 242.2 C429.1 243.2 428.2 244.1 427.4 244.6 C426.6 245.0 425.4 245.5 424.5 245.1Z" fill="#2a0404" fill-opacity="0.70" stroke="#f42212" stroke-opacity="0.78" stroke-width="2.3"/>
<path d="M437.2 242.6 C436.2 242.2 434.9 240.6 434.5 239.8 C434.0 239.0 434.2 238.2 434.5 237.6 C434.8 237.0 435.2 236.2 436.3 236.2 C437.4 236.2 439.9 236.9 440.9 237.6 C441.9 238.3 442.5 239.4 442.5 240.1 C442.4 240.9 441.4 241.8 440.6 242.2 C439.7 242.6 438.3 243.0 437.2 242.6Z" fill="#2a0404" fill-opacity="0.65" stroke="#f42212" stroke-opacity="0.73" stroke-width="2.6"/>
<path d="M334.0 251.2 C333.3 251.5 331.8 251.7 330.8 251.4 C329.8 251.0 328.3 249.8 327.9 248.9 C327.5 248.0 327.9 246.5 328.4 245.8 C328.9 245.1 330.0 244.7 330.9 244.7 C331.7 244.8 332.9 245.3 333.6 246.1 C334.3 246.8 335.0 248.3 335.1 249.1 C335.1 249.9 334.7 250.8 334.0 251.2Z" fill="#2a0404" fill-opacity="0.73" stroke="#f42212" stroke-opacity="0.81" stroke-width="2.8"/>
<path d="M340.7 253.6 C339.8 253.6 338.6 253.2 337.9 252.6 C337.3 252.1 336.8 251.0 336.9 250.2 C337.1 249.4 338.1 248.1 338.8 247.6 C339.6 247.1 340.7 247.0 341.4 247.3 C342.1 247.5 343.0 248.2 343.3 249.1 C343.5 249.9 343.3 251.7 342.9 252.4 C342.5 253.2 341.5 253.6 340.7 253.6Z" fill="#2a0404" fill-opacity="0.54" stroke="#f42212" stroke-opacity="0.60" stroke-width="2.3"/>
<path d="M349.1 251.7 C348.2 251.6 347.2 251.1 346.7 250.5 C346.1 249.9 345.7 248.9 345.9 248.1 C346.2 247.4 347.2 246.3 348.1 246.0 C348.9 245.6 350.3 245.6 351.1 246.0 C351.9 246.4 352.6 247.5 352.8 248.3 C353.0 249.0 352.8 250.2 352.2 250.8 C351.6 251.3 350.0 251.7 349.1 251.7Z" fill="#2a0404" fill-opacity="0.45" stroke="#f42212" stroke-opacity="0.50" stroke-width="2.8"/>
<path d="M367.3 249.8 C367.2 249.0 367.4 247.1 367.9 246.3 C368.4 245.6 369.4 245.3 370.4 245.5 C371.3 245.7 373.0 246.8 373.6 247.5 C374.2 248.2 374.1 249.2 373.8 250.0 C373.4 250.8 372.4 251.8 371.6 252.1 C370.8 252.4 369.7 252.0 369.0 251.6 C368.3 251.2 367.5 250.7 367.3 249.8Z" fill="#2a0404" fill-opacity="0.79" stroke="#f42212" stroke-opacity="0.88" stroke-width="2.3"/>
<path d="M382.5 249.5 C382.3 250.5 381.6 252.5 380.9 253.1 C380.1 253.6 378.8 253.3 378.2 253.0 C377.6 252.6 377.2 252.0 377.1 251.0 C377.0 250.0 376.9 247.8 377.4 246.9 C377.9 246.0 379.3 245.5 380.1 245.5 C380.9 245.5 381.9 246.3 382.3 246.9 C382.7 247.6 382.8 248.5 382.5 249.5Z" fill="#2a0404" fill-opacity="0.73" stroke="#f42212" stroke-opacity="0.81" stroke-width="2.7"/>
<path d="M393.2 252.4 C392.1 253.2 390.0 253.8 389.0 253.8 C388.0 253.8 387.5 253.1 387.2 252.3 C387.0 251.5 386.8 250.2 387.5 249.2 C388.2 248.2 390.2 246.6 391.3 246.2 C392.4 245.9 393.2 246.6 394.0 247.1 C394.8 247.6 396.1 248.4 395.9 249.3 C395.8 250.1 394.4 251.6 393.2 252.4Z" fill="#2a0404" fill-opacity="0.86" stroke="#f42212" stroke-opacity="0.95" stroke-width="2.4"/>
<path d="M405.2 250.7 C405.2 251.4 404.7 252.2 404.0 252.5 C403.3 252.9 401.9 253.0 401.2 252.8 C400.4 252.7 399.7 252.2 399.4 251.6 C399.1 250.9 399.0 249.6 399.3 248.9 C399.6 248.3 400.3 247.9 401.1 247.8 C401.9 247.6 403.5 247.8 404.2 248.3 C404.9 248.7 405.3 250.0 405.2 250.7Z" fill="#2a0404" fill-opacity="0.72" stroke="#f42212" stroke-opacity="0.80" stroke-width="2.6"/>
<path d="M408.7 251.9 C408.2 251.1 408.3 249.0 408.5 248.1 C408.8 247.3 409.3 247.2 410.2 246.9 C411.1 246.5 413.1 245.8 413.9 246.2 C414.8 246.6 415.2 248.1 415.3 249.0 C415.3 249.9 414.7 250.7 414.0 251.5 C413.4 252.2 412.2 253.3 411.4 253.4 C410.5 253.5 409.2 252.8 408.7 251.9Z" fill="#2a0404" fill-opacity="0.70" stroke="#f42212" stroke-opacity="0.78" stroke-width="2.8"/>
<path d="M421.7 251.7 C420.7 251.3 419.5 250.2 419.4 249.2 C419.3 248.3 420.4 246.7 421.1 245.9 C421.8 245.1 423.0 244.3 423.8 244.3 C424.7 244.2 425.8 244.8 426.1 245.6 C426.5 246.4 426.3 247.9 426.1 248.9 C425.9 249.9 425.6 251.1 424.9 251.6 C424.1 252.0 422.6 252.0 421.7 251.7Z" fill="#2a0404" fill-opacity="0.51" stroke="#f42212" stroke-opacity="0.56" stroke-width="2.6"/>
<path d="M434.7 253.0 C433.9 253.5 432.3 254.1 431.5 254.0 C430.6 253.9 429.7 253.0 429.5 252.3 C429.3 251.5 429.9 250.2 430.5 249.5 C431.1 248.7 432.2 247.9 433.1 247.8 C433.9 247.6 434.9 247.9 435.5 248.5 C436.1 249.0 436.6 250.2 436.4 251.0 C436.3 251.8 435.5 252.5 434.7 253.0Z" fill="#2a0404" fill-opacity="0.78" stroke="#f42212" stroke-opacity="0.86" stroke-width="2.1"/>
<path d="M444.6 252.8 C443.8 253.2 442.0 253.3 441.0 253.1 C440.1 252.8 439.3 251.9 438.9 251.1 C438.6 250.2 438.7 248.6 439.1 248.0 C439.5 247.3 440.3 247.2 441.2 247.1 C442.2 247.0 444.2 246.9 444.9 247.5 C445.7 248.1 445.7 249.8 445.6 250.7 C445.6 251.6 445.4 252.4 444.6 252.8Z" fill="#2a0404" fill-opacity="0.68" stroke="#f42212" stroke-opacity="0.75" stroke-width="2.5"/>
<path d="M321.2 259.3 C320.9 258.6 321.2 256.8 321.6 256.1 C321.9 255.4 322.4 255.3 323.2 255.1 C324.0 254.9 325.6 254.6 326.3 255.0 C327.0 255.3 327.6 256.6 327.5 257.3 C327.5 258.0 326.6 258.8 325.9 259.3 C325.2 259.8 324.3 260.4 323.5 260.4 C322.7 260.5 321.6 260.0 321.2 259.3Z" fill="#2a0404" fill-opacity="0.67" stroke="#f42212" stroke-opacity="0.75" stroke-width="2.7"/>
<path d="M334.1 260.1 C333.2 260.1 332.7 260.0 332.2 259.4 C331.7 258.9 331.0 257.5 331.2 256.6 C331.3 255.8 332.2 254.7 333.1 254.4 C333.9 254.2 335.4 254.8 336.3 255.2 C337.2 255.7 338.4 256.2 338.7 257.0 C338.9 257.7 338.4 259.2 337.7 259.7 C336.9 260.2 335.0 260.2 334.1 260.1Z" fill="#2a0404" fill-opacity="0.86" stroke="#f42212" stroke-opacity="0.95" stroke-width="2.8"/>
<path d="M346.7 261.4 C345.8 261.2 344.5 260.1 343.9 259.2 C343.4 258.4 343.1 257.2 343.5 256.3 C343.9 255.3 345.2 253.9 346.1 253.6 C346.9 253.2 348.1 253.8 348.7 254.3 C349.4 254.9 349.7 255.8 349.8 256.8 C349.9 257.8 349.8 259.4 349.3 260.2 C348.8 261.0 347.6 261.6 346.7 261.4Z" fill="#2a0404" fill-opacity="0.81" stroke="#f42212" stroke-opacity="0.90" stroke-width="2.6"/>
<path d="M358.6 260.4 C358.2 261.3 357.5 262.3 356.6 262.6 C355.7 263.0 353.9 262.8 353.0 262.3 C352.2 261.7 351.7 260.5 351.5 259.5 C351.3 258.6 351.4 257.4 352.1 256.7 C352.7 256.1 354.2 255.6 355.4 255.7 C356.6 255.8 358.6 256.5 359.1 257.3 C359.6 258.1 359.0 259.5 358.6 260.4Z" fill="#2a0404" fill-opacity="0.67" stroke="#f42212" stroke-opacity="0.74" stroke-width="2.2"/>
<path d="M373.0 258.1 C372.9 257.3 373.1 256.6 373.6 256.1 C374.2 255.6 375.5 254.9 376.3 255.0 C377.1 255.1 378.0 255.9 378.4 256.6 C378.9 257.3 379.1 258.5 378.9 259.2 C378.8 259.9 378.0 260.7 377.3 260.9 C376.6 261.2 375.2 261.0 374.5 260.5 C373.7 260.1 373.2 258.8 373.0 258.1Z" fill="#2a0404" fill-opacity="0.75" stroke="#f42212" stroke-opacity="0.84" stroke-width="2.1"/>
<path d="M388.1 260.3 C387.5 260.7 386.2 261.1 385.4 260.7 C384.6 260.4 383.7 259.2 383.3 258.4 C382.8 257.6 382.7 256.7 382.9 256.1 C383.1 255.4 383.7 254.8 384.5 254.7 C385.2 254.6 386.4 254.9 387.2 255.6 C388.0 256.2 389.0 257.7 389.2 258.5 C389.4 259.3 388.8 259.9 388.1 260.3Z" fill="#2a0404" fill-opacity="0.67" stroke="#f42212" stroke-opacity="0.74" stroke-width="2.6"/>
<path d="M392.2 260.8 C391.9 259.8 391.4 258.0 391.9 257.2 C392.4 256.3 394.4 255.9 395.4 255.9 C396.5 255.8 397.6 256.0 398.2 256.9 C398.7 257.9 399.0 260.6 398.7 261.8 C398.4 263.0 397.1 263.7 396.3 264.0 C395.5 264.2 394.6 263.7 393.9 263.2 C393.2 262.7 392.6 261.9 392.2 260.8Z" fill="#2a0404" fill-opacity="0.88" stroke="#f42212" stroke-opacity="0.98" stroke-width="2.3"/>
<path d="M410.6 258.2 C410.5 259.2 409.1 261.4 408.3 262.0 C407.5 262.6 406.6 262.3 405.8 261.8 C405.0 261.4 403.7 260.4 403.4 259.5 C403.2 258.6 403.5 257.2 404.1 256.3 C404.6 255.4 406.0 254.1 406.8 254.0 C407.6 254.0 408.3 255.1 409.0 255.8 C409.6 256.5 410.7 257.2 410.6 258.2Z" fill="#2a0404" fill-opacity="0.56" stroke="#f42212" stroke-opacity="0.62" stroke-width="2.2"/>
<path d="M417.1 261.4 C416.2 260.9 414.9 259.7 414.4 258.9 C413.9 258.0 413.8 256.9 414.2 256.3 C414.6 255.6 416.0 254.8 417.0 255.0 C418.1 255.1 419.9 256.2 420.7 257.0 C421.6 257.8 422.2 259.0 422.1 259.8 C422.0 260.6 420.9 261.4 420.1 261.7 C419.2 262.0 418.0 261.8 417.1 261.4Z" fill="#2a0404" fill-opacity="0.60" stroke="#f42212" stroke-opacity="0.67" stroke-width="2.8"/>
<path d="M430.0 262.3 C429.4 263.0 428.1 263.3 427.2 263.1 C426.4 262.9 425.4 262.0 424.9 261.1 C424.5 260.3 424.3 258.8 424.5 257.9 C424.8 257.1 425.5 256.4 426.3 256.1 C427.1 255.9 428.4 256.0 429.2 256.6 C430.0 257.1 431.1 258.4 431.2 259.4 C431.3 260.4 430.7 261.7 430.0 262.3Z" fill="#2a0404" fill-opacity="0.69" stroke="#f42212" stroke-opacity="0.76" stroke-width="2.7"/>
<path d="M435.3 260.6 C435.0 259.7 434.7 258.5 435.1 257.8 C435.4 257.1 436.6 256.5 437.4 256.5 C438.1 256.5 439.1 257.0 439.7 257.6 C440.2 258.3 440.7 259.5 440.6 260.3 C440.6 261.2 440.1 262.4 439.4 262.9 C438.8 263.4 437.4 263.6 436.7 263.2 C436.0 262.8 435.6 261.5 435.3 260.6Z" fill="#2a0404" fill-opacity="0.83" stroke="#f42212" stroke-opacity="0.92" stroke-width="2.9"/>
<path d="M326.7 268.8 C326.1 268.2 325.4 267.5 325.5 266.6 C325.7 265.7 326.8 264.1 327.6 263.6 C328.4 263.0 329.4 263.1 330.3 263.4 C331.2 263.6 332.7 264.2 332.9 265.0 C333.2 265.8 332.2 267.3 331.6 268.1 C331.0 268.9 330.3 269.9 329.5 270.0 C328.7 270.2 327.4 269.3 326.7 268.8Z" fill="#2a0404" fill-opacity="0.87" stroke="#f42212" stroke-opacity="0.96" stroke-width="2.4"/>
<path d="M352.4 267.6 C351.6 268.5 349.8 270.0 348.7 270.2 C347.6 270.4 346.3 269.7 345.8 269.1 C345.3 268.4 345.2 267.3 345.7 266.2 C346.3 265.1 348.0 263.1 349.0 262.5 C350.0 261.9 350.7 262.3 351.5 262.7 C352.2 263.1 353.1 264.0 353.3 264.8 C353.4 265.6 353.1 266.7 352.4 267.6Z" fill="#2a0404" fill-opacity="0.47" stroke="#f42212" stroke-opacity="0.53" stroke-width="2.6"/>
<path d="M362.1 269.9 C361.5 270.5 360.0 271.1 359.1 271.0 C358.2 270.9 357.0 270.2 356.7 269.4 C356.3 268.6 356.5 267.2 356.9 266.4 C357.2 265.6 358.2 264.8 358.9 264.6 C359.6 264.4 360.4 264.9 361.1 265.4 C361.8 265.9 362.8 266.7 363.0 267.5 C363.2 268.2 362.8 269.3 362.1 269.9Z" fill="#2a0404" fill-opacity="0.53" stroke="#f42212" stroke-opacity="0.59" stroke-width="2.6"/>
<path d="M375.8 267.4 C375.5 268.4 374.5 269.9 373.6 270.4 C372.8 271.0 371.7 271.0 370.8 270.6 C369.8 270.1 368.2 268.9 368.0 267.8 C367.9 266.6 369.1 264.5 369.8 263.7 C370.5 262.9 371.0 262.8 372.0 262.9 C373.0 262.9 375.1 263.5 375.7 264.2 C376.4 265.0 376.2 266.3 375.8 267.4Z" fill="#2a0404" fill-opacity="0.78" stroke="#f42212" stroke-opacity="0.86" stroke-width="2.3"/>
<path d="M378.1 269.2 C377.5 268.5 376.6 266.9 376.6 266.0 C376.7 265.0 377.5 263.9 378.3 263.5 C379.2 263.1 381.0 262.9 381.9 263.4 C382.8 263.8 383.6 265.2 383.9 266.2 C384.2 267.2 384.1 268.7 383.5 269.4 C383.0 270.1 381.5 270.3 380.6 270.2 C379.7 270.2 378.8 269.9 378.1 269.2Z" fill="#2a0404" fill-opacity="0.88" stroke="#f42212" stroke-opacity="0.98" stroke-width="2.7"/>
<path d="M386.6 267.5 C386.0 266.5 386.0 264.3 386.4 263.4 C386.8 262.5 387.8 262.4 388.8 262.3 C389.7 262.2 391.2 262.4 392.0 263.0 C392.7 263.7 393.1 265.0 393.3 266.0 C393.4 267.0 393.4 268.6 392.8 269.1 C392.2 269.7 390.8 269.7 389.7 269.4 C388.7 269.1 387.1 268.5 386.6 267.5Z" fill="#2a0404" fill-opacity="0.49" stroke="#f42212" stroke-opacity="0.55" stroke-width="2.1"/>
<path d="M398.9 270.7 C398.2 270.3 397.8 269.2 397.6 268.2 C397.3 267.2 396.8 265.8 397.3 264.9 C397.8 264.1 399.4 263.2 400.5 263.1 C401.6 262.9 403.2 263.2 403.9 263.9 C404.6 264.6 405.1 266.1 404.8 267.1 C404.5 268.2 403.1 269.5 402.1 270.1 C401.2 270.7 399.7 271.0 398.9 270.7Z" fill="#2a0404" fill-opacity="0.78" stroke="#f42212" stroke-opacity="0.86" stroke-width="2.3"/>
<path d="M415.2 267.7 C414.7 268.4 413.7 269.4 412.8 269.3 C411.9 269.2 410.4 268.0 409.7 267.2 C409.0 266.4 408.7 265.2 408.8 264.5 C408.9 263.7 409.5 262.9 410.4 262.6 C411.3 262.3 413.2 262.3 414.0 262.8 C414.9 263.2 415.3 264.5 415.5 265.3 C415.6 266.1 415.6 267.1 415.2 267.7Z" fill="#2a0404" fill-opacity="0.55" stroke="#f42212" stroke-opacity="0.61" stroke-width="2.6"/>
<path d="M424.5 267.1 C424.3 267.9 424.0 268.9 423.5 269.4 C422.9 270.0 421.9 270.3 421.1 270.1 C420.4 270.0 419.4 269.4 419.1 268.6 C418.8 267.9 418.8 266.6 419.2 265.8 C419.5 264.9 420.2 263.7 421.1 263.5 C421.9 263.3 423.7 263.9 424.2 264.5 C424.8 265.1 424.6 266.3 424.5 267.1Z" fill="#2a0404" fill-opacity="0.90" stroke="#f42212" stroke-opacity="1.00" stroke-width="2.6"/>
<path d="M439.4 266.6 C439.3 265.6 440.0 264.3 440.5 263.5 C440.9 262.8 441.2 261.9 441.9 262.0 C442.7 262.1 444.3 263.4 444.8 264.2 C445.3 264.9 445.2 265.5 445.0 266.4 C444.8 267.3 444.2 269.2 443.6 269.7 C443.0 270.2 442.0 269.9 441.3 269.4 C440.6 268.9 439.6 267.6 439.4 266.6Z" fill="#2a0404" fill-opacity="0.46" stroke="#f42212" stroke-opacity="0.51" stroke-width="2.6"/>
<path d="M331.8 274.6 C331.7 273.5 332.7 272.6 333.5 271.9 C334.3 271.2 335.6 270.4 336.7 270.6 C337.9 270.8 339.6 272.2 340.2 273.0 C340.8 273.8 340.7 274.6 340.3 275.5 C339.9 276.5 339.1 278.3 338.0 278.7 C336.9 279.2 334.9 278.9 333.8 278.2 C332.8 277.5 331.8 275.6 331.8 274.6Z" fill="#2a0404" fill-opacity="0.80" stroke="#f42212" stroke-opacity="0.89" stroke-width="2.1"/>
<path d="M346.8 279.8 C345.9 280.4 344.8 281.1 343.7 281.0 C342.7 280.9 341.1 280.2 340.7 279.3 C340.3 278.3 340.7 276.2 341.3 275.2 C342.0 274.2 343.3 273.7 344.5 273.3 C345.7 272.9 347.6 272.4 348.3 273.0 C349.1 273.6 349.4 275.8 349.1 276.9 C348.8 278.1 347.7 279.1 346.8 279.8Z" fill="#2a0404" fill-opacity="0.50" stroke="#f42212" stroke-opacity="0.55" stroke-width="2.3"/>
<path d="M376.2 280.2 C375.4 280.0 374.1 279.1 373.8 278.2 C373.5 277.4 374.0 275.8 374.6 274.9 C375.2 273.9 376.5 272.7 377.4 272.4 C378.2 272.2 378.9 272.8 379.5 273.5 C380.2 274.2 381.3 275.7 381.3 276.7 C381.2 277.7 379.9 278.9 379.0 279.4 C378.2 280.0 377.1 280.4 376.2 280.2Z" fill="#2a0404" fill-opacity="0.65" stroke="#f42212" stroke-opacity="0.72" stroke-width="2.2"/>
<path d="M387.4 278.7 C386.9 279.3 386.2 279.2 385.3 279.1 C384.5 279.0 382.8 278.7 382.1 277.9 C381.5 277.1 381.1 275.3 381.3 274.5 C381.5 273.6 382.6 273.2 383.6 273.0 C384.5 272.8 386.0 273.0 386.8 273.4 C387.5 273.8 388.0 274.5 388.1 275.3 C388.2 276.2 387.8 278.1 387.4 278.7Z" fill="#2a0404" fill-opacity="0.53" stroke="#f42212" stroke-opacity="0.58" stroke-width="2.3"/>
<path d="M418.4 279.2 C417.7 279.7 415.9 280.3 414.9 280.4 C413.9 280.5 412.8 280.4 412.5 279.7 C412.2 279.0 412.5 277.2 413.0 276.2 C413.5 275.2 414.6 273.9 415.5 273.6 C416.3 273.3 417.4 273.8 418.1 274.4 C418.7 275.0 419.2 276.3 419.2 277.1 C419.3 277.9 419.2 278.6 418.4 279.2Z" fill="#2a0404" fill-opacity="0.70" stroke="#f42212" stroke-opacity="0.77" stroke-width="2.6"/>
<path d="M428.9 278.9 C428.4 279.6 427.9 280.9 427.0 281.0 C426.1 281.1 424.3 280.2 423.5 279.5 C422.7 278.8 422.2 277.8 422.2 276.9 C422.2 276.0 422.7 274.8 423.5 274.3 C424.2 273.8 425.7 273.6 426.7 274.0 C427.7 274.4 429.2 276.0 429.5 276.8 C429.9 277.6 429.3 278.2 428.9 278.9Z" fill="#2a0404" fill-opacity="0.72" stroke="#f42212" stroke-opacity="0.80" stroke-width="2.9"/>
<path d="M434.0 278.3 C433.5 277.5 433.1 276.2 433.4 275.4 C433.6 274.7 434.7 273.8 435.6 273.6 C436.4 273.5 437.7 274.1 438.4 274.6 C439.1 275.0 439.6 275.5 439.6 276.2 C439.7 276.9 439.2 278.3 438.6 279.0 C438.1 279.6 437.1 280.3 436.3 280.2 C435.6 280.1 434.5 279.1 434.0 278.3Z" fill="#2a0404" fill-opacity="0.78" stroke="#f42212" stroke-opacity="0.86" stroke-width="2.2"/>
<path d="M333.8 286.0 C333.8 286.8 333.3 287.8 332.5 288.2 C331.7 288.6 329.8 288.8 328.9 288.4 C328.0 288.0 327.2 286.5 327.0 285.7 C326.7 284.8 326.8 283.9 327.3 283.4 C327.8 282.8 329.0 282.5 329.9 282.6 C330.8 282.6 332.1 283.0 332.8 283.5 C333.4 284.1 333.8 285.2 333.8 286.0Z" fill="#2a0404" fill-opacity="0.84" stroke="#f42212" stroke-opacity="0.94" stroke-width="2.8"/>
<path d="M341.2 287.2 C340.4 287.5 339.2 287.0 338.3 286.4 C337.5 285.8 336.4 284.5 336.2 283.6 C336.0 282.8 336.6 281.8 337.3 281.3 C338.1 280.8 339.7 280.3 340.5 280.5 C341.3 280.6 341.6 281.5 342.1 282.2 C342.5 283.0 343.2 284.0 343.1 284.9 C343.0 285.7 342.0 287.0 341.2 287.2Z" fill="#2a0404" fill-opacity="0.53" stroke="#f42212" stroke-opacity="0.59" stroke-width="2.7"/>
<path d="M353.6 287.6 C353.1 288.3 352.0 288.7 351.3 288.8 C350.6 288.9 349.6 288.6 349.2 288.0 C348.7 287.4 348.4 285.8 348.5 285.0 C348.5 284.2 348.6 283.7 349.3 283.3 C350.0 282.9 351.8 282.3 352.7 282.5 C353.5 282.7 354.3 283.8 354.5 284.7 C354.7 285.5 354.2 286.9 353.6 287.6Z" fill="#2a0404" fill-opacity="0.81" stroke="#f42212" stroke-opacity="0.90" stroke-width="2.2"/>
<path d="M358.4 286.0 C358.1 285.1 358.3 283.6 358.6 282.7 C358.9 281.9 359.6 281.0 360.4 280.8 C361.2 280.6 362.9 280.8 363.6 281.4 C364.4 282.0 364.9 283.2 364.9 284.1 C364.9 285.0 364.3 286.2 363.6 286.9 C362.9 287.6 361.4 288.5 360.5 288.3 C359.7 288.2 358.8 286.9 358.4 286.0Z" fill="#2a0404" fill-opacity="0.76" stroke="#f42212" stroke-opacity="0.84" stroke-width="2.3"/>
<path d="M381.6 286.6 C380.8 286.7 379.3 286.2 378.7 285.8 C378.0 285.4 377.7 284.7 377.7 284.1 C377.8 283.5 378.3 282.6 379.1 282.1 C379.8 281.6 381.5 280.9 382.3 281.1 C383.1 281.2 383.6 282.2 383.7 282.9 C383.9 283.7 383.6 284.9 383.3 285.5 C382.9 286.1 382.4 286.6 381.6 286.6Z" fill="#2a0404" fill-opacity="0.68" stroke="#f42212" stroke-opacity="0.76" stroke-width="2.4"/>
<path d="M414.5 286.7 C413.9 287.0 412.8 287.0 412.0 286.4 C411.2 285.9 410.1 284.5 409.8 283.6 C409.5 282.7 410.0 281.7 410.5 281.1 C410.9 280.4 411.8 279.6 412.6 279.6 C413.3 279.6 414.5 280.3 415.0 281.1 C415.6 281.9 416.1 283.6 416.1 284.6 C416.0 285.5 415.2 286.4 414.5 286.7Z" fill="#2a0404" fill-opacity="0.61" stroke="#f42212" stroke-opacity="0.68" stroke-width="2.5"/>
<path d="M422.0 287.4 C421.3 287.7 420.0 286.6 419.3 286.0 C418.6 285.5 417.9 284.9 417.8 284.1 C417.6 283.3 418.0 282.0 418.6 281.3 C419.1 280.7 420.2 280.2 421.0 280.3 C421.8 280.5 422.7 281.6 423.1 282.4 C423.5 283.1 423.7 283.8 423.5 284.7 C423.3 285.5 422.7 287.2 422.0 287.4Z" fill="#2a0404" fill-opacity="0.87" stroke="#f42212" stroke-opacity="0.97" stroke-width="2.5"/>
<path d="M444.0 287.6 C443.4 288.0 442.6 288.1 441.8 288.2 C441.1 288.2 439.9 288.4 439.5 287.8 C439.1 287.2 439.2 285.3 439.5 284.5 C439.8 283.7 440.5 283.3 441.3 283.1 C442.0 282.9 443.3 282.8 443.9 283.2 C444.5 283.6 444.9 284.7 445.0 285.5 C445.0 286.2 444.5 287.1 444.0 287.6Z" fill="#2a0404" fill-opacity="0.81" stroke="#f42212" stroke-opacity="0.90" stroke-width="2.8"/>
</g></g>
<rect x="442.5" y="174.5" width="107.5" height="107.5" fill="#0b0d17"/>
<g clip-path="url(#mp1)"><g filter="url(#soft)">
<rect x="442" y="174" width="108" height="108" fill="#0b0d17"/>
<g mask="url(#mb1)"><g opacity="0.6"><rect x="442" y="174" width="108" height="108" fill="#000" filter="url(#f23)"/></g></g>
<g mask="url(#mg1)"><g opacity="0.55"><rect x="442" y="174" width="108" height="108" fill="#000" filter="url(#f24)"/></g></g>
<path d="M508.9 170.3 C508.3 171.1 507.2 171.8 506.5 172.0 C505.8 172.1 505.3 171.9 504.9 171.3 C504.5 170.8 503.9 169.3 504.1 168.4 C504.2 167.6 504.9 166.8 505.6 166.4 C506.3 165.9 507.8 165.5 508.4 165.7 C509.1 165.8 509.5 166.5 509.6 167.3 C509.7 168.1 509.4 169.5 508.9 170.3Z" fill="#2a0404" fill-opacity="0.55" stroke="#f42212" stroke-opacity="0.61" stroke-width="2.0"/>
<path d="M516.5 169.5 C516.0 170.3 515.2 171.5 514.4 171.8 C513.6 172.2 512.3 172.2 511.8 171.6 C511.3 171.0 511.0 169.2 511.3 168.1 C511.6 167.1 512.7 165.9 513.6 165.3 C514.5 164.7 515.9 164.4 516.6 164.7 C517.3 165.0 517.9 166.0 517.9 166.8 C517.9 167.6 517.1 168.6 516.5 169.5Z" fill="#2a0404" fill-opacity="0.66" stroke="#f42212" stroke-opacity="0.73" stroke-width="1.9"/>
<path d="M538.7 171.0 C537.8 172.0 536.2 173.3 535.3 173.5 C534.5 173.8 533.8 173.3 533.4 172.6 C533.0 171.9 532.8 170.2 533.0 169.2 C533.2 168.1 533.9 167.0 534.8 166.4 C535.6 165.7 537.4 165.1 538.3 165.2 C539.2 165.4 540.2 166.5 540.2 167.5 C540.3 168.4 539.5 170.0 538.7 171.0Z" fill="#2a0404" fill-opacity="0.36" stroke="#f42212" stroke-opacity="0.41" stroke-width="1.7"/>
<path d="M480.9 180.7 C480.4 180.2 479.8 179.3 479.8 178.5 C479.8 177.6 480.4 176.1 481.0 175.6 C481.6 175.1 482.7 175.2 483.4 175.4 C484.2 175.7 485.4 176.1 485.7 176.8 C486.0 177.5 485.6 179.1 485.2 179.8 C484.8 180.6 484.0 181.0 483.2 181.1 C482.5 181.3 481.5 181.1 480.9 180.7Z" fill="#2a0404" fill-opacity="0.44" stroke="#f42212" stroke-opacity="0.48" stroke-width="1.6"/>
<path d="M492.2 181.4 C491.5 181.6 490.2 181.5 489.4 181.2 C488.7 180.9 487.8 180.4 487.8 179.7 C487.8 179.0 488.9 177.7 489.7 177.1 C490.4 176.5 491.5 176.2 492.3 176.3 C493.0 176.3 494.0 176.9 494.2 177.5 C494.5 178.1 494.1 179.2 493.8 179.9 C493.5 180.5 492.9 181.2 492.2 181.4Z" fill="#2a0404" fill-opacity="0.41" stroke="#f42212" stroke-opacity="0.46" stroke-width="1.9"/>
<path d="M504.1 178.4 C503.6 178.9 502.5 179.2 501.8 179.4 C501.0 179.5 499.9 179.8 499.6 179.3 C499.3 178.8 499.7 177.3 500.1 176.6 C500.5 175.8 501.1 175.2 501.9 174.8 C502.7 174.4 504.4 174.0 505.0 174.2 C505.5 174.4 505.2 175.4 505.1 176.1 C504.9 176.8 504.7 177.8 504.1 178.4Z" fill="#2a0404" fill-opacity="0.63" stroke="#f42212" stroke-opacity="0.70" stroke-width="1.8"/>
<path d="M510.5 179.8 C509.7 179.4 509.5 178.4 509.1 177.7 C508.8 177.0 508.1 176.2 508.4 175.5 C508.8 174.8 510.1 173.6 511.1 173.5 C512.1 173.3 513.8 174.0 514.6 174.6 C515.4 175.2 515.8 176.2 515.7 177.1 C515.6 178.0 514.7 179.4 513.8 179.9 C513.0 180.3 511.3 180.2 510.5 179.8Z" fill="#2a0404" fill-opacity="0.48" stroke="#f42212" stroke-opacity="0.53" stroke-width="2.1"/>
<path d="M517.2 178.4 C517.2 177.6 517.4 176.8 517.9 176.3 C518.5 175.8 519.6 175.3 520.4 175.4 C521.1 175.6 522.0 176.5 522.5 177.2 C522.9 177.9 523.2 178.8 523.0 179.6 C522.8 180.3 522.2 181.4 521.3 181.7 C520.5 182.0 518.5 182.1 517.8 181.5 C517.1 181.0 517.1 179.3 517.2 178.4Z" fill="#2a0404" fill-opacity="0.38" stroke="#f42212" stroke-opacity="0.43" stroke-width="2.1"/>
<path d="M526.0 177.6 C525.8 177.0 525.6 176.0 526.1 175.6 C526.7 175.2 528.5 175.2 529.4 175.2 C530.2 175.2 530.7 175.3 531.1 175.8 C531.5 176.2 532.0 177.3 531.8 178.0 C531.6 178.7 530.6 179.6 529.9 179.9 C529.1 180.2 528.0 180.1 527.3 179.7 C526.7 179.4 526.2 178.3 526.0 177.6Z" fill="#2a0404" fill-opacity="0.40" stroke="#f42212" stroke-opacity="0.45" stroke-width="1.6"/>
<path d="M541.4 180.3 C541.0 181.4 540.4 182.3 539.6 182.8 C538.8 183.3 537.2 183.6 536.6 183.2 C535.9 182.8 535.7 181.4 535.8 180.4 C535.8 179.3 536.2 177.6 536.9 176.8 C537.5 176.1 538.9 175.7 539.8 175.6 C540.6 175.6 541.5 175.8 541.8 176.6 C542.1 177.4 541.8 179.3 541.4 180.3Z" fill="#2a0404" fill-opacity="0.71" stroke="#f42212" stroke-opacity="0.79" stroke-width="2.0"/>
<path d="M448.4 190.5 C447.7 190.5 447.0 190.0 446.5 189.5 C446.1 189.1 445.6 188.1 445.8 187.5 C445.9 186.9 446.7 186.2 447.4 185.8 C448.0 185.5 448.9 185.2 449.6 185.5 C450.3 185.7 451.4 186.7 451.6 187.3 C451.8 187.9 451.3 188.8 450.8 189.3 C450.2 189.8 449.1 190.4 448.4 190.5Z" fill="#2a0404" fill-opacity="0.20" stroke="#f42212" stroke-opacity="0.23" stroke-width="2.1"/>
<path d="M452.6 188.5 C452.6 187.8 453.5 186.7 454.1 186.1 C454.8 185.5 455.8 185.0 456.6 185.2 C457.5 185.3 458.8 186.2 459.1 186.9 C459.5 187.6 459.3 188.9 458.9 189.6 C458.5 190.3 457.7 191.1 456.9 191.3 C456.1 191.5 454.8 191.1 454.1 190.7 C453.4 190.2 452.5 189.3 452.6 188.5Z" fill="#2a0404" fill-opacity="0.38" stroke="#f42212" stroke-opacity="0.42" stroke-width="2.2"/>
<path d="M508.3 188.1 C507.3 188.2 505.9 188.2 505.2 187.7 C504.5 187.3 504.2 186.0 504.1 185.3 C504.1 184.5 504.4 183.7 505.1 183.4 C505.9 183.0 507.9 183.0 508.9 183.2 C509.9 183.4 510.9 184.2 511.2 184.8 C511.5 185.4 511.3 186.5 510.8 187.0 C510.3 187.6 509.2 188.0 508.3 188.1Z" fill="#2a0404" fill-opacity="0.52" stroke="#f42212" stroke-opacity="0.58" stroke-width="1.9"/>
<path d="M517.4 189.7 C516.9 189.8 516.5 189.6 516.0 189.1 C515.5 188.5 514.7 187.2 514.6 186.5 C514.5 185.8 515.0 185.4 515.5 185.0 C516.1 184.6 517.3 183.9 517.9 184.1 C518.5 184.3 519.0 185.5 519.2 186.2 C519.4 186.9 519.5 187.7 519.2 188.3 C518.9 188.9 518.0 189.5 517.4 189.7Z" fill="#2a0404" fill-opacity="0.42" stroke="#f42212" stroke-opacity="0.47" stroke-width="1.8"/>
<path d="M526.3 189.1 C525.9 189.6 525.5 190.2 524.8 190.2 C524.2 190.2 523.2 189.5 522.6 188.9 C522.0 188.3 521.3 187.1 521.4 186.3 C521.6 185.5 522.8 184.4 523.5 184.1 C524.1 183.7 524.9 183.7 525.5 184.2 C526.1 184.7 527.0 186.1 527.1 186.9 C527.3 187.7 526.7 188.5 526.3 189.1Z" fill="#2a0404" fill-opacity="0.61" stroke="#f42212" stroke-opacity="0.68" stroke-width="2.0"/>
<path d="M538.0 186.9 C537.9 187.9 537.1 189.3 536.5 189.8 C535.9 190.3 535.3 190.2 534.5 190.1 C533.7 189.9 532.2 189.5 531.8 188.7 C531.4 187.9 531.9 186.2 532.3 185.3 C532.7 184.4 533.4 183.6 534.1 183.3 C534.9 183.0 536.2 182.8 536.8 183.4 C537.5 184.0 538.1 185.8 538.0 186.9Z" fill="#2a0404" fill-opacity="0.62" stroke="#f42212" stroke-opacity="0.69" stroke-width="1.8"/>
<path d="M545.9 187.6 C545.0 187.6 543.6 187.4 543.2 187.0 C542.7 186.6 542.7 185.8 543.0 185.1 C543.2 184.5 543.7 183.5 544.5 183.2 C545.3 182.9 547.0 183.0 547.8 183.2 C548.6 183.5 549.0 184.2 549.2 184.8 C549.3 185.4 549.2 186.5 548.7 187.0 C548.2 187.5 546.8 187.6 545.9 187.6Z" fill="#2a0404" fill-opacity="0.58" stroke="#f42212" stroke-opacity="0.65" stroke-width="1.7"/>
<path d="M556.3 188.2 C555.3 188.7 554.2 188.9 553.5 188.5 C552.9 188.2 552.4 186.9 552.4 186.1 C552.3 185.3 552.8 184.4 553.3 183.9 C553.8 183.3 554.5 182.6 555.4 182.6 C556.3 182.5 558.0 183.2 558.6 183.7 C559.3 184.2 559.8 184.9 559.4 185.6 C559.0 186.3 557.3 187.7 556.3 188.2Z" fill="#2a0404" fill-opacity="0.44" stroke="#f42212" stroke-opacity="0.49" stroke-width="1.7"/>
<path d="M475.7 198.5 C475.2 198.9 474.4 199.1 473.6 199.0 C472.8 198.8 471.4 198.2 471.0 197.5 C470.6 196.8 470.9 195.6 471.1 195.0 C471.4 194.3 471.7 193.9 472.4 193.7 C473.2 193.5 474.9 193.5 475.6 194.0 C476.3 194.5 476.6 195.9 476.6 196.6 C476.6 197.4 476.2 198.1 475.7 198.5Z" fill="#2a0404" fill-opacity="0.30" stroke="#f42212" stroke-opacity="0.33" stroke-width="2.0"/>
<path d="M494.0 194.8 C493.9 195.7 493.8 196.8 493.1 197.4 C492.4 198.0 490.5 198.7 489.8 198.4 C489.1 198.2 488.9 196.8 488.8 195.8 C488.7 194.9 488.8 193.4 489.2 192.6 C489.5 191.9 490.3 191.3 491.0 191.2 C491.8 191.1 493.2 191.5 493.7 192.1 C494.2 192.7 494.1 194.0 494.0 194.8Z" fill="#2a0404" fill-opacity="0.23" stroke="#f42212" stroke-opacity="0.25" stroke-width="1.8"/>
<path d="M497.1 195.1 C497.1 194.3 497.1 192.9 497.6 192.3 C498.1 191.7 499.4 191.4 500.2 191.6 C501.1 191.8 502.2 192.9 502.6 193.6 C503.0 194.4 503.0 195.6 502.7 196.2 C502.4 196.8 501.8 197.1 501.0 197.3 C500.2 197.4 498.6 197.5 497.9 197.1 C497.3 196.8 497.2 195.9 497.1 195.1Z" fill="#2a0404" fill-opacity="0.50" stroke="#f42212" stroke-opacity="0.55" stroke-width="1.8"/>
<path d="M512.5 199.3 C511.6 199.4 510.3 198.7 509.7 197.9 C509.1 197.1 508.7 195.4 508.9 194.6 C509.0 193.7 509.7 193.3 510.6 192.9 C511.4 192.6 513.1 192.2 514.0 192.4 C514.9 192.7 515.7 193.5 515.9 194.3 C516.0 195.1 515.4 196.4 514.8 197.3 C514.3 198.1 513.3 199.1 512.5 199.3Z" fill="#2a0404" fill-opacity="0.50" stroke="#f42212" stroke-opacity="0.55" stroke-width="2.2"/>
<path d="M538.0 197.7 C537.7 197.1 537.5 195.9 537.9 195.1 C538.2 194.4 539.2 193.7 539.9 193.4 C540.7 193.1 541.8 193.0 542.4 193.4 C543.1 193.7 543.9 194.9 544.0 195.7 C544.1 196.5 543.5 197.8 542.8 198.3 C542.1 198.9 540.7 199.0 539.9 198.9 C539.1 198.8 538.4 198.4 538.0 197.7Z" fill="#2a0404" fill-opacity="0.36" stroke="#f42212" stroke-opacity="0.40" stroke-width="1.9"/>
<path d="M551.0 198.4 C550.2 198.8 549.3 199.2 548.7 198.9 C548.0 198.6 547.3 197.5 547.1 196.7 C546.9 195.9 546.9 194.9 547.4 194.3 C547.9 193.8 549.4 193.5 550.3 193.5 C551.2 193.4 552.3 193.7 552.8 194.2 C553.3 194.7 553.7 195.8 553.4 196.5 C553.1 197.2 551.8 198.0 551.0 198.4Z" fill="#2a0404" fill-opacity="0.67" stroke="#f42212" stroke-opacity="0.74" stroke-width="2.2"/>
<path d="M517.7 208.3 C516.9 208.7 515.5 208.7 514.8 208.2 C514.1 207.8 513.5 206.4 513.3 205.6 C513.2 204.8 513.4 204.1 513.9 203.4 C514.3 202.7 515.4 201.5 516.2 201.5 C517.0 201.5 517.9 202.7 518.5 203.5 C519.0 204.2 519.5 205.0 519.4 205.8 C519.3 206.6 518.4 207.9 517.7 208.3Z" fill="#2a0404" fill-opacity="0.49" stroke="#f42212" stroke-opacity="0.55" stroke-width="2.1"/>
<path d="M521.5 205.9 C521.1 205.2 521.6 203.4 522.2 202.5 C522.8 201.7 524.1 201.0 525.0 200.7 C525.9 200.5 526.8 200.7 527.5 201.1 C528.2 201.6 529.4 202.6 529.4 203.4 C529.3 204.3 528.1 205.6 527.3 206.2 C526.5 206.8 525.3 206.9 524.3 206.9 C523.3 206.8 521.8 206.7 521.5 205.9Z" fill="#2a0404" fill-opacity="0.37" stroke="#f42212" stroke-opacity="0.41" stroke-width="1.7"/>
<path d="M543.0 206.6 C542.5 206.1 542.2 205.1 542.4 204.3 C542.6 203.5 543.6 202.2 544.2 201.8 C544.7 201.3 545.3 201.4 545.9 201.7 C546.6 202.0 547.7 202.9 548.0 203.6 C548.3 204.4 548.3 205.3 547.9 205.9 C547.4 206.6 546.1 207.3 545.3 207.4 C544.5 207.5 543.4 207.1 543.0 206.6Z" fill="#2a0404" fill-opacity="0.62" stroke="#f42212" stroke-opacity="0.68" stroke-width="1.8"/>
<path d="M550.2 207.1 C549.6 206.5 549.5 205.0 549.8 204.0 C550.1 203.1 551.4 201.9 552.2 201.3 C553.0 200.8 553.8 200.3 554.6 200.7 C555.3 201.2 556.3 203.0 556.5 203.8 C556.8 204.7 556.7 205.2 556.2 205.8 C555.7 206.5 554.7 207.5 553.7 207.7 C552.7 207.9 550.9 207.7 550.2 207.1Z" fill="#2a0404" fill-opacity="0.53" stroke="#f42212" stroke-opacity="0.59" stroke-width="1.6"/>
<path d="M454.3 215.1 C453.3 215.3 451.9 215.0 451.0 214.6 C450.1 214.1 448.9 213.0 449.0 212.4 C449.1 211.7 450.6 211.0 451.5 210.6 C452.4 210.1 453.7 209.7 454.5 209.8 C455.4 209.8 456.2 210.5 456.7 211.1 C457.1 211.7 457.6 212.7 457.2 213.4 C456.8 214.0 455.3 214.9 454.3 215.1Z" fill="#2a0404" fill-opacity="0.22" stroke="#f42212" stroke-opacity="0.25" stroke-width="1.7"/>
<path d="M498.0 212.8 C497.6 212.3 497.7 211.2 498.0 210.5 C498.2 209.7 498.6 208.9 499.3 208.6 C499.9 208.2 501.3 208.2 501.9 208.4 C502.5 208.7 502.7 209.5 502.8 210.1 C502.9 210.8 502.9 211.6 502.5 212.2 C502.1 212.8 501.2 213.7 500.4 213.8 C499.6 213.9 498.4 213.4 498.0 212.8Z" fill="#2a0404" fill-opacity="0.60" stroke="#f42212" stroke-opacity="0.67" stroke-width="2.1"/>
<path d="M510.8 214.6 C510.3 214.8 509.0 214.6 508.4 214.3 C507.8 213.9 507.3 213.1 507.1 212.4 C506.9 211.7 506.7 210.6 507.0 210.1 C507.3 209.6 508.1 209.3 508.9 209.3 C509.7 209.3 511.1 209.4 511.6 210.1 C512.0 210.7 511.8 212.3 511.7 213.0 C511.6 213.8 511.4 214.4 510.8 214.6Z" fill="#2a0404" fill-opacity="0.40" stroke="#f42212" stroke-opacity="0.44" stroke-width="1.9"/>
<path d="M523.5 211.9 C523.5 212.8 522.8 214.7 522.2 215.3 C521.6 216.0 520.6 216.0 519.9 215.7 C519.2 215.4 518.4 214.3 518.2 213.4 C518.0 212.6 518.3 211.5 518.7 210.8 C519.0 210.0 519.6 208.9 520.2 208.8 C520.9 208.6 522.0 209.4 522.6 209.9 C523.1 210.4 523.6 210.9 523.5 211.9Z" fill="#2a0404" fill-opacity="0.69" stroke="#f42212" stroke-opacity="0.77" stroke-width="1.6"/>
<path d="M531.5 212.8 C530.7 212.7 529.4 211.9 528.9 211.3 C528.4 210.8 528.2 210.0 528.4 209.4 C528.6 208.8 529.1 208.1 529.9 208.0 C530.7 207.9 532.5 208.3 533.3 208.7 C534.0 209.1 534.4 209.9 534.4 210.4 C534.5 210.9 534.1 211.5 533.6 211.9 C533.1 212.3 532.2 212.9 531.5 212.8Z" fill="#2a0404" fill-opacity="0.44" stroke="#f42212" stroke-opacity="0.49" stroke-width="2.1"/>
<path d="M542.0 212.1 C541.9 212.7 541.2 213.5 540.6 213.9 C540.0 214.3 539.0 214.5 538.3 214.4 C537.6 214.2 536.6 213.6 536.4 213.0 C536.1 212.3 536.3 211.1 536.7 210.4 C537.1 209.8 537.7 209.2 538.5 209.1 C539.3 209.1 540.8 209.6 541.4 210.1 C542.0 210.6 542.2 211.5 542.0 212.1Z" fill="#2a0404" fill-opacity="0.58" stroke="#f42212" stroke-opacity="0.64" stroke-width="2.1"/>
<path d="M500.5 219.5 C500.3 220.2 499.5 221.1 498.8 221.4 C498.1 221.7 497.1 221.9 496.3 221.5 C495.5 221.1 494.4 220.0 494.1 219.2 C493.8 218.4 494.0 217.2 494.5 216.7 C495.0 216.2 496.2 216.2 497.0 216.3 C497.9 216.4 499.2 216.8 499.8 217.3 C500.3 217.9 500.7 218.9 500.5 219.5Z" fill="#2a0404" fill-opacity="0.36" stroke="#f42212" stroke-opacity="0.40" stroke-width="1.8"/>
<path d="M505.7 223.3 C505.0 223.3 504.1 222.9 503.7 222.4 C503.3 221.9 503.1 220.7 503.3 220.1 C503.5 219.5 504.2 219.0 504.9 218.7 C505.6 218.4 506.9 218.0 507.5 218.3 C508.2 218.5 508.7 219.4 508.9 220.2 C509.0 220.9 508.9 222.0 508.4 222.5 C507.9 223.0 506.5 223.3 505.7 223.3Z" fill="#2a0404" fill-opacity="0.65" stroke="#f42212" stroke-opacity="0.72" stroke-width="1.9"/>
<path d="M519.2 221.7 C519.0 222.4 517.7 223.4 517.1 223.8 C516.5 224.2 516.0 224.5 515.4 224.3 C514.7 224.1 513.5 223.3 513.2 222.6 C512.8 222.0 513.0 221.1 513.4 220.5 C513.7 219.9 514.6 219.3 515.4 219.2 C516.2 219.1 517.6 219.5 518.2 220.0 C518.9 220.4 519.4 221.1 519.2 221.7Z" fill="#2a0404" fill-opacity="0.39" stroke="#f42212" stroke-opacity="0.44" stroke-width="1.9"/>
<path d="M534.1 221.6 C533.8 221.0 533.6 219.8 533.8 219.0 C534.0 218.3 534.7 217.4 535.4 217.2 C536.2 216.9 537.6 217.0 538.3 217.5 C539.0 218.0 539.6 219.5 539.7 220.3 C539.7 221.1 539.3 221.9 538.6 222.3 C537.9 222.6 536.4 222.5 535.6 222.4 C534.9 222.3 534.4 222.1 534.1 221.6Z" fill="#2a0404" fill-opacity="0.66" stroke="#f42212" stroke-opacity="0.74" stroke-width="2.1"/>
<path d="M548.4 222.9 C547.6 223.5 545.7 223.9 544.8 223.9 C543.9 223.9 543.2 223.4 542.9 222.7 C542.5 221.9 542.4 220.3 542.8 219.4 C543.2 218.6 544.4 218.0 545.3 217.6 C546.2 217.3 547.3 216.9 548.0 217.4 C548.7 217.9 549.2 219.7 549.2 220.7 C549.3 221.6 549.1 222.4 548.4 222.9Z" fill="#2a0404" fill-opacity="0.62" stroke="#f42212" stroke-opacity="0.69" stroke-width="2.0"/>
<path d="M553.4 221.0 C553.2 220.3 553.1 219.4 553.4 218.8 C553.8 218.2 554.6 217.3 555.3 217.2 C556.0 217.1 557.1 217.6 557.7 218.1 C558.2 218.7 558.8 219.9 558.8 220.6 C558.7 221.4 558.3 222.1 557.6 222.5 C556.9 222.9 555.2 223.4 554.5 223.1 C553.8 222.9 553.5 221.7 553.4 221.0Z" fill="#2a0404" fill-opacity="0.52" stroke="#f42212" stroke-opacity="0.58" stroke-width="1.9"/>
<path d="M445.0 231.0 C444.7 231.9 443.4 232.9 442.7 233.3 C442.0 233.7 441.4 233.8 440.8 233.4 C440.3 232.9 439.5 231.5 439.5 230.5 C439.5 229.5 440.4 228.0 441.0 227.4 C441.6 226.9 442.7 226.9 443.3 227.0 C443.9 227.1 444.2 227.4 444.5 228.1 C444.8 228.8 445.3 230.2 445.0 231.0Z" fill="#2a0404" fill-opacity="0.26" stroke="#f42212" stroke-opacity="0.29" stroke-width="1.9"/>
<path d="M500.4 233.3 C499.6 233.3 497.9 232.9 497.4 232.3 C496.8 231.7 496.8 230.3 497.0 229.5 C497.3 228.7 498.3 227.7 498.9 227.4 C499.6 227.0 500.5 227.0 501.0 227.4 C501.6 227.8 502.1 228.7 502.3 229.5 C502.5 230.3 502.6 231.4 502.3 232.1 C502.0 232.7 501.2 233.3 500.4 233.3Z" fill="#2a0404" fill-opacity="0.35" stroke="#f42212" stroke-opacity="0.39" stroke-width="1.7"/>
<path d="M521.5 232.5 C520.6 232.9 519.1 232.9 518.4 232.5 C517.7 232.2 517.3 231.1 517.3 230.3 C517.3 229.6 517.6 228.7 518.3 228.0 C518.9 227.3 520.5 226.2 521.4 226.1 C522.3 226.1 523.5 227.2 523.9 227.8 C524.3 228.4 524.3 229.0 523.9 229.7 C523.5 230.5 522.4 232.0 521.5 232.5Z" fill="#2a0404" fill-opacity="0.37" stroke="#f42212" stroke-opacity="0.41" stroke-width="1.6"/>
<path d="M540.9 229.9 C540.0 230.5 538.4 231.3 537.5 231.3 C536.6 231.4 535.9 230.9 535.7 230.3 C535.4 229.6 535.5 228.3 536.0 227.5 C536.6 226.7 537.9 225.7 539.0 225.3 C540.0 225.0 541.8 225.0 542.5 225.3 C543.2 225.7 543.4 226.8 543.2 227.6 C542.9 228.3 541.9 229.3 540.9 229.9Z" fill="#2a0404" fill-opacity="0.56" stroke="#f42212" stroke-opacity="0.62" stroke-width="1.7"/>
<path d="M551.6 229.7 C551.2 230.6 550.3 231.5 549.5 231.7 C548.8 232.0 547.6 231.7 547.1 231.1 C546.5 230.6 546.2 229.3 546.4 228.4 C546.6 227.5 547.4 226.4 548.2 225.8 C549.0 225.3 550.5 224.8 551.1 224.9 C551.8 225.1 552.1 226.0 552.2 226.8 C552.2 227.6 552.0 228.9 551.6 229.7Z" fill="#2a0404" fill-opacity="0.57" stroke="#f42212" stroke-opacity="0.64" stroke-width="2.0"/>
<path d="M489.4 238.3 C489.1 238.9 488.1 239.6 487.2 239.7 C486.3 239.8 484.8 239.4 484.1 238.9 C483.3 238.4 482.9 237.6 482.8 236.9 C482.8 236.2 483.1 235.3 483.6 234.7 C484.2 234.2 485.5 233.4 486.4 233.6 C487.3 233.8 488.5 235.1 489.0 235.9 C489.5 236.7 489.7 237.6 489.4 238.3Z" fill="#2a0404" fill-opacity="0.32" stroke="#f42212" stroke-opacity="0.35" stroke-width="2.0"/>
<path d="M507.7 238.2 C507.5 239.1 506.7 240.6 506.1 241.1 C505.4 241.7 504.5 241.7 503.8 241.5 C503.1 241.2 502.1 240.2 501.7 239.4 C501.3 238.5 501.1 237.1 501.5 236.4 C501.8 235.7 503.0 235.1 503.9 235.0 C504.9 234.9 506.7 235.2 507.3 235.8 C507.9 236.3 507.9 237.3 507.7 238.2Z" fill="#2a0404" fill-opacity="0.46" stroke="#f42212" stroke-opacity="0.51" stroke-width="2.0"/>
<path d="M513.8 239.7 C513.1 239.3 512.1 238.1 511.9 237.2 C511.7 236.2 512.1 234.7 512.7 234.0 C513.4 233.3 515.0 232.9 516.0 233.0 C517.0 233.1 518.0 234.0 518.5 234.7 C518.9 235.4 519.2 236.5 518.9 237.3 C518.6 238.1 517.3 238.9 516.5 239.3 C515.6 239.7 514.6 240.0 513.8 239.7Z" fill="#2a0404" fill-opacity="0.57" stroke="#f42212" stroke-opacity="0.63" stroke-width="1.6"/>
<path d="M526.1 239.6 C525.1 239.6 523.9 238.9 523.4 238.2 C522.9 237.4 522.7 236.0 523.2 235.1 C523.6 234.2 524.9 233.3 525.8 233.0 C526.8 232.6 528.1 232.6 528.8 232.9 C529.5 233.3 530.2 234.2 530.3 235.1 C530.3 236.0 529.8 237.7 529.1 238.5 C528.4 239.2 527.1 239.7 526.1 239.6Z" fill="#2a0404" fill-opacity="0.62" stroke="#f42212" stroke-opacity="0.69" stroke-width="1.7"/>
<path d="M535.1 239.9 C534.1 239.9 532.4 239.3 532.0 238.7 C531.5 238.2 532.0 237.3 532.2 236.6 C532.4 235.9 532.5 235.0 533.3 234.8 C534.1 234.5 536.2 234.6 537.1 234.8 C538.0 235.1 538.6 235.7 538.7 236.3 C538.9 237.0 538.7 238.2 538.1 238.7 C537.5 239.3 536.2 239.9 535.1 239.9Z" fill="#2a0404" fill-opacity="0.64" stroke="#f42212" stroke-opacity="0.71" stroke-width="2.1"/>
<path d="M497.6 244.8 C497.5 244.0 498.1 242.9 498.6 242.3 C499.2 241.7 500.0 241.1 500.8 241.2 C501.6 241.3 503.0 242.2 503.5 242.8 C504.0 243.5 504.0 244.3 503.7 245.1 C503.3 245.8 502.1 246.9 501.3 247.2 C500.5 247.6 499.6 247.7 499.0 247.3 C498.4 246.9 497.6 245.7 497.6 244.8Z" fill="#2a0404" fill-opacity="0.58" stroke="#f42212" stroke-opacity="0.64" stroke-width="2.1"/>
<path d="M506.4 245.3 C506.2 244.6 506.3 243.5 506.6 242.9 C507.0 242.3 507.8 241.8 508.6 241.6 C509.3 241.5 510.5 241.5 511.2 242.0 C511.9 242.6 512.8 244.3 512.8 245.1 C512.7 245.9 511.7 246.4 510.9 246.8 C510.2 247.2 509.1 247.7 508.4 247.5 C507.6 247.2 506.7 246.1 506.4 245.3Z" fill="#2a0404" fill-opacity="0.42" stroke="#f42212" stroke-opacity="0.47" stroke-width="2.0"/>
<path d="M521.5 246.4 C521.0 247.0 519.8 247.4 518.9 247.2 C518.0 247.1 516.6 246.3 516.2 245.5 C515.8 244.8 516.1 243.5 516.5 242.8 C516.9 242.1 518.0 241.7 518.7 241.5 C519.5 241.4 520.6 241.6 521.2 241.9 C521.7 242.2 521.9 242.8 521.9 243.6 C522.0 244.3 522.0 245.8 521.5 246.4Z" fill="#2a0404" fill-opacity="0.51" stroke="#f42212" stroke-opacity="0.57" stroke-width="1.7"/>
<path d="M528.6 248.9 C528.1 248.3 527.3 246.8 527.6 246.0 C527.9 245.2 529.5 244.5 530.4 244.2 C531.3 243.9 532.5 244.0 533.1 244.3 C533.6 244.6 533.7 245.4 533.7 246.1 C533.7 246.9 533.7 248.1 533.2 248.7 C532.7 249.3 531.3 249.7 530.6 249.7 C529.8 249.7 529.1 249.5 528.6 248.9Z" fill="#2a0404" fill-opacity="0.72" stroke="#f42212" stroke-opacity="0.80" stroke-width="2.0"/>
<path d="M537.9 246.8 C537.4 246.3 537.0 245.3 537.1 244.6 C537.2 243.8 537.9 242.5 538.5 242.1 C539.0 241.8 539.9 242.0 540.6 242.4 C541.2 242.8 542.1 244.0 542.3 244.7 C542.5 245.4 542.1 246.2 541.8 246.7 C541.5 247.1 540.9 247.5 540.3 247.5 C539.6 247.6 538.4 247.3 537.9 246.8Z" fill="#2a0404" fill-opacity="0.70" stroke="#f42212" stroke-opacity="0.78" stroke-width="1.9"/>
<path d="M551.3 249.7 C550.5 250.2 549.3 250.2 548.5 249.9 C547.6 249.5 546.6 248.2 546.3 247.5 C546.1 246.8 546.4 246.2 546.9 245.5 C547.5 244.9 548.8 243.7 549.6 243.5 C550.4 243.4 551.3 243.9 551.9 244.5 C552.5 245.1 553.2 246.3 553.2 247.2 C553.1 248.1 552.1 249.3 551.3 249.7Z" fill="#2a0404" fill-opacity="0.48" stroke="#f42212" stroke-opacity="0.54" stroke-width="1.6"/>
<path d="M497.1 256.8 C496.2 257.0 495.6 256.7 495.0 256.4 C494.4 256.1 493.6 255.6 493.5 255.1 C493.5 254.5 494.0 253.6 494.8 253.0 C495.6 252.5 497.5 252.0 498.4 252.0 C499.3 252.0 499.9 252.6 500.2 253.1 C500.5 253.7 500.8 254.5 500.3 255.1 C499.8 255.7 498.0 256.6 497.1 256.8Z" fill="#2a0404" fill-opacity="0.43" stroke="#f42212" stroke-opacity="0.48" stroke-width="2.0"/>
<path d="M507.9 255.2 C507.3 255.6 506.3 255.8 505.6 255.4 C504.9 255.1 504.1 253.9 503.8 253.3 C503.5 252.6 503.7 252.1 504.0 251.5 C504.3 250.9 505.1 249.6 505.7 249.5 C506.4 249.5 507.3 250.5 507.9 251.1 C508.4 251.6 509.0 252.2 509.0 252.9 C509.0 253.6 508.4 254.8 507.9 255.2Z" fill="#2a0404" fill-opacity="0.67" stroke="#f42212" stroke-opacity="0.74" stroke-width="1.9"/>
<path d="M517.1 255.6 C516.4 255.8 514.9 255.9 514.1 255.5 C513.4 255.2 512.8 254.2 512.7 253.5 C512.5 252.9 512.7 252.0 513.3 251.5 C513.8 251.0 514.9 250.6 515.7 250.6 C516.6 250.6 518.1 251.0 518.6 251.6 C519.0 252.1 518.9 253.3 518.6 254.0 C518.4 254.6 517.9 255.3 517.1 255.6Z" fill="#2a0404" fill-opacity="0.39" stroke="#f42212" stroke-opacity="0.44" stroke-width="1.7"/>
<path d="M535.7 256.0 C535.0 257.0 533.2 258.5 532.4 258.7 C531.6 258.9 531.1 258.0 530.7 257.3 C530.3 256.6 529.7 255.4 530.0 254.6 C530.4 253.7 531.6 252.6 532.6 252.0 C533.6 251.4 535.3 251.0 536.0 251.1 C536.7 251.3 536.8 252.3 536.8 253.1 C536.7 253.9 536.4 255.1 535.7 256.0Z" fill="#2a0404" fill-opacity="0.61" stroke="#f42212" stroke-opacity="0.68" stroke-width="1.9"/>
<path d="M484.2 265.8 C483.4 266.3 481.9 266.8 481.0 266.6 C480.1 266.4 479.1 265.6 478.8 264.7 C478.6 263.9 479.0 262.5 479.5 261.7 C480.0 260.9 481.2 259.9 482.0 259.7 C482.9 259.6 484.1 260.1 484.7 260.7 C485.3 261.4 485.8 262.7 485.7 263.6 C485.6 264.4 485.0 265.3 484.2 265.8Z" fill="#2a0404" fill-opacity="0.26" stroke="#f42212" stroke-opacity="0.29" stroke-width="2.0"/>
<path d="M511.9 261.3 C511.8 262.0 511.3 262.7 510.8 263.3 C510.3 263.8 509.6 264.7 509.0 264.6 C508.4 264.4 507.4 263.4 507.1 262.4 C506.8 261.4 506.7 259.6 507.1 258.8 C507.4 258.1 508.6 257.7 509.3 257.7 C510.0 257.7 510.9 258.2 511.3 258.8 C511.8 259.4 512.0 260.5 511.9 261.3Z" fill="#2a0404" fill-opacity="0.40" stroke="#f42212" stroke-opacity="0.45" stroke-width="1.9"/>
<path d="M528.2 261.7 C527.9 260.9 527.8 259.8 528.1 259.1 C528.4 258.4 529.4 257.4 530.2 257.4 C531.0 257.4 532.3 258.3 532.9 258.9 C533.4 259.5 533.7 260.2 533.7 261.1 C533.6 262.0 533.0 263.6 532.4 264.0 C531.8 264.5 531.0 264.3 530.3 263.9 C529.6 263.5 528.6 262.5 528.2 261.7Z" fill="#2a0404" fill-opacity="0.55" stroke="#f42212" stroke-opacity="0.62" stroke-width="2.0"/>
<path d="M543.6 263.8 C543.2 264.9 542.0 266.0 541.2 266.4 C540.4 266.9 539.3 266.8 538.8 266.3 C538.3 265.8 538.3 264.5 538.4 263.5 C538.5 262.6 538.9 261.3 539.5 260.6 C540.1 259.8 541.3 259.1 542.0 259.0 C542.7 258.9 543.5 259.1 543.8 259.9 C544.0 260.7 544.0 262.7 543.6 263.8Z" fill="#2a0404" fill-opacity="0.58" stroke="#f42212" stroke-opacity="0.65" stroke-width="1.8"/>
<path d="M548.7 263.6 C547.9 263.5 546.9 263.2 546.7 262.6 C546.4 262.0 546.6 260.7 547.0 259.9 C547.5 259.2 548.4 258.1 549.2 258.0 C549.9 257.9 550.9 258.7 551.5 259.2 C552.1 259.7 552.6 260.2 552.6 261.0 C552.6 261.7 552.1 263.0 551.5 263.5 C550.8 263.9 549.5 263.8 548.7 263.6Z" fill="#2a0404" fill-opacity="0.53" stroke="#f42212" stroke-opacity="0.59" stroke-width="2.0"/>
<path d="M504.1 273.9 C503.1 273.5 502.1 272.3 501.7 271.6 C501.3 270.9 501.3 270.0 501.7 269.5 C502.1 269.1 503.4 268.7 504.3 268.7 C505.3 268.7 506.5 268.8 507.4 269.4 C508.3 269.9 509.7 271.3 509.7 272.1 C509.8 272.8 508.7 273.6 507.8 273.9 C506.8 274.2 505.1 274.2 504.1 273.9Z" fill="#2a0404" fill-opacity="0.60" stroke="#f42212" stroke-opacity="0.67" stroke-width="1.8"/>
<path d="M516.4 272.2 C515.8 272.7 515.1 272.9 514.3 272.8 C513.5 272.7 511.9 272.5 511.5 271.8 C511.0 271.1 511.2 269.5 511.6 268.6 C512.1 267.8 513.3 267.1 514.1 266.8 C514.9 266.5 516.0 266.3 516.6 266.8 C517.2 267.3 517.8 268.7 517.7 269.6 C517.7 270.5 517.0 271.7 516.4 272.2Z" fill="#2a0404" fill-opacity="0.58" stroke="#f42212" stroke-opacity="0.65" stroke-width="2.0"/>
<path d="M522.0 270.3 C521.7 269.6 521.7 268.5 522.0 267.9 C522.4 267.4 523.5 266.9 524.2 266.8 C524.9 266.6 525.9 266.7 526.3 267.3 C526.8 267.8 527.1 269.2 527.1 269.9 C527.0 270.6 526.6 271.1 526.1 271.4 C525.5 271.7 524.4 272.0 523.8 271.8 C523.1 271.7 522.3 270.9 522.0 270.3Z" fill="#2a0404" fill-opacity="0.68" stroke="#f42212" stroke-opacity="0.75" stroke-width="1.6"/>
<path d="M533.7 270.8 C533.6 270.0 534.0 268.9 534.5 268.1 C535.0 267.4 535.7 266.4 536.4 266.3 C537.2 266.3 538.3 267.0 538.7 267.9 C539.2 268.9 539.3 271.0 539.2 272.0 C539.1 273.0 538.6 273.6 537.9 273.9 C537.2 274.1 535.7 273.7 535.0 273.2 C534.3 272.7 533.7 271.7 533.7 270.8Z" fill="#2a0404" fill-opacity="0.66" stroke="#f42212" stroke-opacity="0.73" stroke-width="1.7"/>
<path d="M544.0 273.1 C543.4 272.8 542.7 271.9 542.4 271.2 C542.1 270.6 542.0 269.9 542.3 269.2 C542.6 268.5 543.5 267.3 544.2 267.0 C544.8 266.7 545.8 266.8 546.3 267.3 C546.8 267.8 547.1 269.4 547.0 270.3 C547.0 271.2 546.4 272.2 545.9 272.7 C545.4 273.2 544.6 273.3 544.0 273.1Z" fill="#2a0404" fill-opacity="0.41" stroke="#f42212" stroke-opacity="0.46" stroke-width="2.0"/>
<path d="M489.3 282.8 C488.6 282.7 487.7 282.8 487.5 282.2 C487.3 281.6 487.7 280.1 488.0 279.3 C488.4 278.5 489.0 277.8 489.6 277.7 C490.3 277.5 491.5 277.9 491.9 278.3 C492.4 278.8 492.4 279.6 492.3 280.3 C492.3 281.1 492.1 282.4 491.6 282.9 C491.1 283.3 489.9 282.9 489.3 282.8Z" fill="#2a0404" fill-opacity="0.40" stroke="#f42212" stroke-opacity="0.44" stroke-width="1.9"/>
<path d="M499.8 278.3 C499.6 277.4 499.7 275.4 500.1 274.8 C500.5 274.2 501.4 274.5 502.2 274.7 C502.9 274.9 504.2 275.4 504.8 276.0 C505.3 276.7 505.6 277.9 505.5 278.7 C505.3 279.5 504.6 280.6 504.0 280.9 C503.3 281.2 502.2 281.1 501.5 280.6 C500.8 280.2 500.0 279.3 499.8 278.3Z" fill="#2a0404" fill-opacity="0.51" stroke="#f42212" stroke-opacity="0.57" stroke-width="1.8"/>
<path d="M522.1 280.4 C521.9 280.9 521.2 281.0 520.6 281.2 C519.9 281.3 518.6 281.5 518.0 281.1 C517.3 280.7 516.5 279.5 516.5 278.8 C516.5 278.0 517.3 276.8 517.9 276.5 C518.5 276.1 519.2 276.2 519.8 276.4 C520.5 276.7 521.5 277.2 521.9 277.8 C522.3 278.5 522.3 279.8 522.1 280.4Z" fill="#2a0404" fill-opacity="0.54" stroke="#f42212" stroke-opacity="0.60" stroke-width="1.9"/>
<path d="M528.7 280.6 C528.1 280.6 527.1 280.2 526.7 279.6 C526.3 278.9 526.1 277.7 526.2 277.0 C526.4 276.2 527.1 275.3 527.7 275.0 C528.4 274.7 529.6 274.9 530.3 275.3 C531.0 275.7 532.0 276.8 532.0 277.5 C532.0 278.3 531.0 279.4 530.4 279.9 C529.9 280.5 529.3 280.7 528.7 280.6Z" fill="#2a0404" fill-opacity="0.46" stroke="#f42212" stroke-opacity="0.51" stroke-width="1.7"/>
<path d="M539.2 282.9 C538.3 283.0 537.2 282.4 536.5 281.6 C535.9 280.8 535.4 279.1 535.5 278.2 C535.6 277.3 536.6 276.8 537.2 276.4 C537.9 275.9 538.8 275.3 539.6 275.6 C540.3 275.8 541.5 277.0 541.8 277.8 C542.2 278.7 542.2 280.0 541.8 280.9 C541.3 281.7 540.1 282.7 539.2 282.9Z" fill="#2a0404" fill-opacity="0.69" stroke="#f42212" stroke-opacity="0.77" stroke-width="1.9"/>
<path d="M505.0 291.1 C504.5 290.7 504.3 289.5 504.2 288.7 C504.2 288.0 504.4 287.0 504.9 286.6 C505.4 286.1 506.6 285.9 507.3 285.9 C508.0 286.0 508.7 286.4 509.0 287.0 C509.4 287.6 509.7 288.8 509.4 289.6 C509.1 290.3 507.9 291.3 507.1 291.6 C506.4 291.8 505.5 291.6 505.0 291.1Z" fill="#2a0404" fill-opacity="0.68" stroke="#f42212" stroke-opacity="0.75" stroke-width="2.2"/>
<path d="M515.3 288.7 C514.5 289.1 513.7 289.0 513.0 288.8 C512.4 288.6 511.6 288.1 511.4 287.6 C511.1 287.0 511.0 285.9 511.5 285.3 C512.0 284.6 513.5 284.0 514.4 283.8 C515.3 283.7 516.5 283.9 517.1 284.3 C517.6 284.8 518.0 285.8 517.7 286.5 C517.4 287.3 516.1 288.3 515.3 288.7Z" fill="#2a0404" fill-opacity="0.70" stroke="#f42212" stroke-opacity="0.78" stroke-width="1.6"/>
<path d="M536.3 288.5 C535.8 289.1 534.7 289.8 533.9 289.6 C533.1 289.5 531.8 288.5 531.4 287.7 C531.0 287.0 531.4 285.7 531.6 284.9 C531.9 284.2 532.2 283.3 532.9 283.2 C533.6 283.0 535.2 283.6 535.9 284.1 C536.6 284.6 537.0 285.2 537.1 286.0 C537.2 286.7 536.9 287.9 536.3 288.5Z" fill="#2a0404" fill-opacity="0.67" stroke="#f42212" stroke-opacity="0.75" stroke-width="2.0"/>
<path d="M542.2 290.0 C541.6 289.8 540.8 288.7 540.6 287.9 C540.4 287.1 540.6 286.1 541.1 285.2 C541.5 284.3 542.5 282.8 543.3 282.7 C544.1 282.5 545.4 283.5 545.9 284.2 C546.4 284.8 546.5 285.8 546.3 286.7 C546.1 287.6 545.2 288.8 544.5 289.4 C543.8 289.9 542.9 290.3 542.2 290.0Z" fill="#2a0404" fill-opacity="0.51" stroke="#f42212" stroke-opacity="0.56" stroke-width="1.9"/>
<path d="M554.1 289.0 C553.3 289.1 552.6 288.7 552.0 288.3 C551.4 287.8 550.6 286.9 550.7 286.2 C550.7 285.6 551.3 284.9 552.0 284.5 C552.7 284.0 554.1 283.5 555.0 283.7 C555.8 283.9 556.8 284.9 557.1 285.5 C557.4 286.1 557.4 286.9 556.9 287.4 C556.4 288.0 554.9 288.8 554.1 289.0Z" fill="#2a0404" fill-opacity="0.54" stroke="#f42212" stroke-opacity="0.60" stroke-width="1.9"/>
<ellipse cx="464" cy="194" rx="12" ry="9" fill="#000" opacity="0.6" filter="url(#blur2)"/>
<ellipse cx="482" cy="219" rx="12" ry="12" fill="#000" opacity="0.65" filter="url(#blur2)"/>
<ellipse cx="457" cy="249" rx="10" ry="10" fill="#000" opacity="0.5" filter="url(#blur2)"/>
<ellipse cx="502" cy="259" rx="14" ry="10" fill="#000" opacity="0.55" filter="url(#blur2)"/>
</g></g>
<rect x="563.5" y="174.5" width="107.5" height="107.5" fill="#0b0d17"/>
<g clip-path="url(#mp2)"><g filter="url(#soft)">
<rect x="563" y="174" width="108" height="108" fill="#0b0d17"/>
<g mask="url(#mb2)"><g opacity="0.65"><rect x="563" y="174" width="108" height="108" fill="#000" filter="url(#f25)"/></g></g>
<g mask="url(#mg2)"><g opacity="0.75"><rect x="563" y="174" width="108" height="108" fill="#000" filter="url(#f26)"/></g></g>
<path d="M561.7 170.4 C561.2 170.9 560.6 171.3 560.0 171.3 C559.3 171.4 558.2 171.3 557.9 170.7 C557.6 170.2 557.9 168.5 558.3 167.8 C558.6 167.1 559.6 166.8 560.2 166.5 C560.9 166.3 561.6 166.1 562.1 166.4 C562.5 166.7 563.1 167.6 563.0 168.3 C562.9 168.9 562.2 169.9 561.7 170.4Z" fill="#2a0404" fill-opacity="0.78" stroke="#f42212" stroke-opacity="0.87" stroke-width="2.5"/>
<path d="M567.9 171.2 C567.5 171.6 566.5 172.0 565.7 171.8 C565.0 171.7 563.7 170.9 563.4 170.4 C563.0 169.8 563.2 169.1 563.6 168.6 C564.0 168.0 564.8 167.2 565.6 166.9 C566.3 166.7 567.5 166.6 568.0 167.0 C568.5 167.4 568.4 168.4 568.4 169.1 C568.4 169.8 568.3 170.7 567.9 171.2Z" fill="#2a0404" fill-opacity="0.61" stroke="#f42212" stroke-opacity="0.67" stroke-width="3.2"/>
<path d="M583.5 172.2 C582.8 172.1 581.9 171.5 581.5 171.0 C581.1 170.5 581.1 170.0 581.3 169.5 C581.5 168.9 582.1 168.1 582.8 167.8 C583.4 167.6 584.7 167.7 585.2 167.9 C585.8 168.2 586.3 168.7 586.3 169.4 C586.4 170.1 586.1 171.5 585.6 172.0 C585.1 172.5 584.1 172.4 583.5 172.2Z" fill="#2a0404" fill-opacity="0.41" stroke="#f42212" stroke-opacity="0.46" stroke-width="2.7"/>
<path d="M593.0 170.7 C592.4 170.7 591.4 170.5 591.1 170.0 C590.8 169.5 590.9 168.4 591.1 167.8 C591.3 167.2 591.5 166.7 592.1 166.5 C592.7 166.3 594.3 166.3 594.9 166.7 C595.5 167.0 595.6 167.8 595.5 168.4 C595.5 169.0 595.1 169.9 594.7 170.2 C594.3 170.6 593.6 170.8 593.0 170.7Z" fill="#2a0404" fill-opacity="0.44" stroke="#f42212" stroke-opacity="0.49" stroke-width="2.9"/>
<path d="M597.4 171.0 C596.9 170.7 596.5 169.8 596.6 169.2 C596.6 168.7 597.2 168.0 597.6 167.7 C598.1 167.3 598.8 167.1 599.4 167.1 C599.9 167.2 600.8 167.5 601.1 168.1 C601.3 168.7 601.2 170.2 600.9 170.8 C600.7 171.3 600.2 171.4 599.6 171.4 C599.0 171.5 597.9 171.4 597.4 171.0Z" fill="#2a0404" fill-opacity="0.72" stroke="#f42212" stroke-opacity="0.80" stroke-width="3.1"/>
<path d="M608.3 169.9 C608.2 169.1 608.2 168.1 608.5 167.5 C608.8 167.0 609.5 166.4 610.1 166.6 C610.6 166.7 611.4 167.8 611.8 168.4 C612.1 169.1 612.3 169.6 612.2 170.3 C612.0 171.0 611.5 172.1 611.0 172.5 C610.4 172.8 609.3 172.6 608.8 172.2 C608.4 171.8 608.3 170.7 608.3 169.9Z" fill="#2a0404" fill-opacity="0.47" stroke="#f42212" stroke-opacity="0.52" stroke-width="2.9"/>
<path d="M614.0 172.9 C613.7 172.4 613.6 171.9 613.9 171.3 C614.1 170.7 614.9 169.7 615.5 169.3 C616.2 168.9 617.2 168.7 617.7 169.0 C618.2 169.3 618.7 170.4 618.7 171.0 C618.7 171.6 618.3 172.4 617.8 172.9 C617.3 173.4 616.3 174.0 615.7 174.0 C615.1 174.0 614.3 173.3 614.0 172.9Z" fill="#2a0404" fill-opacity="0.44" stroke="#f42212" stroke-opacity="0.49" stroke-width="2.5"/>
<path d="M623.7 171.4 C623.3 170.9 623.2 169.5 623.4 168.9 C623.7 168.2 624.5 167.5 625.1 167.3 C625.7 167.1 626.5 167.3 627.0 167.6 C627.5 167.9 628.1 168.5 628.2 169.1 C628.2 169.7 627.6 170.8 627.2 171.3 C626.8 171.7 626.4 171.7 625.8 171.7 C625.2 171.8 624.1 171.9 623.7 171.4Z" fill="#2a0404" fill-opacity="0.36" stroke="#f42212" stroke-opacity="0.40" stroke-width="2.4"/>
<path d="M631.0 173.3 C630.5 172.9 630.2 172.1 630.2 171.3 C630.2 170.6 630.6 169.6 631.1 168.9 C631.7 168.2 632.7 167.1 633.4 167.1 C634.2 167.2 635.2 168.3 635.6 169.0 C636.0 169.8 636.1 170.7 635.7 171.4 C635.4 172.2 634.4 173.4 633.6 173.7 C632.8 174.0 631.6 173.7 631.0 173.3Z" fill="#2a0404" fill-opacity="0.44" stroke="#f42212" stroke-opacity="0.49" stroke-width="2.5"/>
<path d="M641.7 173.3 C641.0 173.2 640.6 172.8 640.2 172.4 C639.9 171.9 639.3 170.9 639.5 170.4 C639.7 169.9 640.9 169.4 641.7 169.3 C642.5 169.2 643.7 169.6 644.3 169.9 C644.9 170.3 645.2 170.8 645.2 171.4 C645.2 171.9 645.1 172.9 644.5 173.2 C643.9 173.5 642.4 173.4 641.7 173.3Z" fill="#2a0404" fill-opacity="0.54" stroke="#f42212" stroke-opacity="0.60" stroke-width="2.9"/>
<path d="M651.7 169.6 C651.2 170.5 649.7 171.8 649.0 172.0 C648.3 172.2 647.8 171.4 647.4 170.9 C647.0 170.4 646.3 169.9 646.4 169.1 C646.6 168.3 647.4 166.8 648.0 166.2 C648.6 165.6 649.5 165.4 650.1 165.6 C650.7 165.7 651.5 166.3 651.7 167.0 C652.0 167.7 652.1 168.8 651.7 169.6Z" fill="#2a0404" fill-opacity="0.54" stroke="#f42212" stroke-opacity="0.60" stroke-width="2.4"/>
<path d="M656.8 171.6 C656.1 171.3 655.6 170.5 655.6 169.8 C655.5 169.0 655.9 167.7 656.5 167.0 C657.1 166.4 658.3 165.8 659.0 165.9 C659.7 165.9 660.4 166.6 660.7 167.3 C661.0 167.9 661.2 169.0 661.0 169.7 C660.8 170.5 660.0 171.3 659.3 171.6 C658.6 171.9 657.4 171.9 656.8 171.6Z" fill="#2a0404" fill-opacity="0.42" stroke="#f42212" stroke-opacity="0.47" stroke-width="3.1"/>
<path d="M669.7 173.0 C669.2 173.4 667.8 173.6 666.9 173.5 C666.1 173.4 665.2 173.1 664.7 172.4 C664.2 171.8 663.7 170.3 663.9 169.6 C664.1 168.9 665.1 168.2 665.9 168.1 C666.6 167.9 667.7 168.1 668.3 168.6 C669.0 169.1 669.6 170.3 669.8 171.0 C670.1 171.7 670.2 172.6 669.7 173.0Z" fill="#2a0404" fill-opacity="0.40" stroke="#f42212" stroke-opacity="0.45" stroke-width="3.0"/>
<path d="M677.6 170.1 C677.5 170.8 677.0 172.1 676.4 172.4 C675.8 172.7 674.7 172.2 673.9 171.9 C673.0 171.6 671.7 171.2 671.3 170.6 C670.9 170.0 671.2 168.9 671.7 168.2 C672.3 167.5 673.7 166.5 674.6 166.4 C675.5 166.4 676.4 167.4 676.9 168.0 C677.4 168.6 677.7 169.4 677.6 170.1Z" fill="#2a0404" fill-opacity="0.39" stroke="#f42212" stroke-opacity="0.43" stroke-width="2.7"/>
<path d="M559.2 179.6 C558.7 178.9 558.7 177.7 559.0 176.9 C559.2 176.2 559.9 175.5 560.7 175.2 C561.5 174.9 563.0 174.6 563.6 175.0 C564.3 175.4 564.6 176.7 564.7 177.5 C564.9 178.3 564.9 179.2 564.5 179.8 C564.0 180.4 562.8 181.0 561.9 181.0 C561.0 180.9 559.7 180.3 559.2 179.6Z" fill="#2a0404" fill-opacity="0.75" stroke="#f42212" stroke-opacity="0.83" stroke-width="2.6"/>
<path d="M574.6 178.1 C574.5 178.7 574.1 179.4 573.6 179.8 C573.1 180.1 572.0 180.2 571.4 180.0 C570.8 179.8 570.2 179.0 570.0 178.5 C569.7 178.0 569.8 177.4 570.1 177.0 C570.4 176.6 571.2 176.1 571.9 176.0 C572.5 175.9 573.4 176.0 573.9 176.3 C574.3 176.7 574.6 177.5 574.6 178.1Z" fill="#2a0404" fill-opacity="0.43" stroke="#f42212" stroke-opacity="0.47" stroke-width="3.0"/>
<path d="M581.3 180.2 C580.6 180.3 580.1 179.9 579.5 179.5 C578.9 179.0 577.8 178.2 577.8 177.5 C577.7 176.7 578.5 175.5 579.2 175.0 C579.8 174.5 581.0 174.5 581.7 174.7 C582.4 174.9 583.2 175.3 583.5 176.0 C583.7 176.7 583.7 178.2 583.4 178.9 C583.0 179.7 581.9 180.1 581.3 180.2Z" fill="#2a0404" fill-opacity="0.53" stroke="#f42212" stroke-opacity="0.59" stroke-width="2.9"/>
<path d="M585.0 179.0 C584.6 178.5 584.5 177.5 584.6 176.8 C584.7 176.1 585.0 175.2 585.6 175.0 C586.2 174.8 587.5 175.2 588.1 175.5 C588.7 175.7 588.8 176.1 589.0 176.6 C589.1 177.1 589.4 178.1 589.1 178.6 C588.7 179.2 587.6 179.8 587.0 179.9 C586.3 180.0 585.4 179.5 585.0 179.0Z" fill="#2a0404" fill-opacity="0.82" stroke="#f42212" stroke-opacity="0.91" stroke-width="2.6"/>
<path d="M593.3 179.9 C592.8 179.3 592.2 177.8 592.2 177.2 C592.3 176.6 593.2 176.5 593.8 176.3 C594.3 176.1 595.0 175.7 595.6 176.0 C596.2 176.4 597.4 177.8 597.6 178.4 C597.9 179.1 597.2 179.7 596.9 180.2 C596.5 180.6 596.1 181.1 595.5 181.1 C594.9 181.0 593.9 180.6 593.3 179.9Z" fill="#2a0404" fill-opacity="0.47" stroke="#f42212" stroke-opacity="0.52" stroke-width="3.1"/>
<path d="M603.7 178.2 C603.0 177.7 602.4 176.8 602.4 176.1 C602.4 175.4 603.1 174.6 603.7 174.2 C604.3 173.9 605.4 174.0 606.0 174.2 C606.6 174.4 607.0 174.7 607.3 175.4 C607.7 176.0 608.2 177.5 608.0 178.1 C607.8 178.8 606.9 179.2 606.2 179.2 C605.4 179.2 604.3 178.7 603.7 178.2Z" fill="#2a0404" fill-opacity="0.47" stroke="#f42212" stroke-opacity="0.52" stroke-width="2.7"/>
<path d="M610.3 178.7 C609.8 178.4 609.1 178.3 609.0 177.7 C608.9 177.1 609.3 175.7 609.7 175.1 C610.1 174.5 610.9 174.0 611.5 174.0 C612.1 174.0 613.1 174.6 613.4 175.1 C613.8 175.6 613.9 176.3 613.7 177.0 C613.5 177.6 612.8 178.8 612.3 179.1 C611.7 179.3 610.9 178.9 610.3 178.7Z" fill="#2a0404" fill-opacity="0.80" stroke="#f42212" stroke-opacity="0.89" stroke-width="3.1"/>
<path d="M631.8 178.5 C630.8 178.7 629.4 179.1 628.6 178.8 C627.8 178.6 627.0 177.7 627.0 177.0 C627.0 176.3 627.8 175.1 628.5 174.6 C629.3 174.1 630.7 173.8 631.7 173.8 C632.6 173.9 633.8 174.2 634.2 174.7 C634.7 175.3 634.7 176.5 634.2 177.1 C633.8 177.7 632.7 178.2 631.8 178.5Z" fill="#2a0404" fill-opacity="0.63" stroke="#f42212" stroke-opacity="0.70" stroke-width="2.5"/>
<path d="M637.8 179.8 C637.2 180.2 636.0 180.4 635.4 180.2 C634.8 180.0 634.3 179.0 634.2 178.4 C634.1 177.7 634.2 177.1 634.7 176.6 C635.1 176.0 636.1 175.4 636.9 175.2 C637.6 175.1 638.9 175.0 639.3 175.4 C639.7 175.8 639.6 176.8 639.3 177.6 C639.1 178.3 638.5 179.3 637.8 179.8Z" fill="#2a0404" fill-opacity="0.62" stroke="#f42212" stroke-opacity="0.69" stroke-width="2.4"/>
<path d="M643.2 181.6 C642.4 181.3 641.9 179.8 641.8 179.0 C641.8 178.2 642.5 177.2 643.0 176.6 C643.5 175.9 644.2 175.3 645.0 175.1 C645.8 175.0 647.5 175.2 648.0 175.7 C648.4 176.2 648.0 177.4 647.8 178.2 C647.6 179.1 647.4 180.2 646.6 180.8 C645.9 181.3 644.0 181.9 643.2 181.6Z" fill="#2a0404" fill-opacity="0.55" stroke="#f42212" stroke-opacity="0.61" stroke-width="2.6"/>
<path d="M651.6 180.1 C651.0 179.6 650.2 178.5 650.0 177.8 C649.9 177.1 650.2 176.3 650.8 175.9 C651.3 175.4 652.6 175.0 653.4 175.2 C654.1 175.3 655.0 176.3 655.3 176.9 C655.6 177.5 655.4 178.2 655.1 178.9 C654.9 179.5 654.4 180.5 653.8 180.7 C653.2 180.9 652.3 180.6 651.6 180.1Z" fill="#2a0404" fill-opacity="0.64" stroke="#f42212" stroke-opacity="0.72" stroke-width="2.4"/>
<path d="M664.0 177.9 C663.8 178.7 663.2 179.5 662.6 179.8 C662.0 180.0 661.0 179.8 660.5 179.4 C659.9 179.0 659.6 178.1 659.5 177.3 C659.4 176.6 659.5 175.3 659.8 174.9 C660.2 174.4 661.0 174.4 661.6 174.4 C662.3 174.4 663.3 174.4 663.7 175.0 C664.1 175.6 664.2 177.1 664.0 177.9Z" fill="#2a0404" fill-opacity="0.41" stroke="#f42212" stroke-opacity="0.45" stroke-width="2.6"/>
<path d="M671.5 179.3 C670.9 179.4 669.6 179.5 669.1 179.1 C668.6 178.6 668.5 177.3 668.5 176.6 C668.5 175.8 668.6 174.9 669.0 174.6 C669.5 174.2 670.5 174.3 671.1 174.5 C671.7 174.8 672.3 175.5 672.6 176.1 C672.9 176.7 672.8 177.6 672.7 178.1 C672.5 178.7 672.1 179.1 671.5 179.3Z" fill="#2a0404" fill-opacity="0.48" stroke="#f42212" stroke-opacity="0.53" stroke-width="2.7"/>
<path d="M557.2 185.4 C556.9 184.9 557.0 183.5 557.2 182.8 C557.3 182.1 557.6 181.6 558.2 181.3 C558.8 181.0 560.1 180.8 560.8 181.1 C561.4 181.4 562.0 182.2 562.0 182.9 C562.0 183.6 561.5 184.8 561.0 185.4 C560.4 185.9 559.4 186.1 558.8 186.1 C558.1 186.1 557.4 186.0 557.2 185.4Z" fill="#2a0404" fill-opacity="0.52" stroke="#f42212" stroke-opacity="0.58" stroke-width="2.7"/>
<path d="M565.8 185.0 C565.0 184.7 563.7 184.0 563.3 183.5 C562.9 183.0 563.0 182.3 563.3 181.9 C563.6 181.5 564.3 181.2 565.1 181.1 C565.9 181.1 567.5 181.5 568.1 181.8 C568.7 182.1 568.8 182.5 568.7 183.1 C568.7 183.6 568.3 184.7 567.8 185.0 C567.3 185.3 566.5 185.2 565.8 185.0Z" fill="#2a0404" fill-opacity="0.44" stroke="#f42212" stroke-opacity="0.49" stroke-width="2.8"/>
<path d="M576.7 187.1 C576.2 187.7 575.5 188.5 574.8 188.5 C574.1 188.5 572.8 187.7 572.4 187.0 C572.0 186.3 572.3 185.1 572.7 184.4 C573.1 183.6 573.9 182.7 574.5 182.4 C575.2 182.1 576.1 182.2 576.8 182.7 C577.4 183.2 578.4 184.7 578.4 185.4 C578.4 186.2 577.3 186.6 576.7 187.1Z" fill="#2a0404" fill-opacity="0.66" stroke="#f42212" stroke-opacity="0.74" stroke-width="2.5"/>
<path d="M584.4 188.6 C583.7 188.8 583.4 188.4 583.0 187.9 C582.5 187.3 581.8 186.1 581.8 185.3 C581.8 184.5 582.4 183.3 583.1 183.1 C583.8 182.8 585.1 183.3 585.8 183.6 C586.5 184.0 587.0 184.5 587.1 185.1 C587.3 185.7 587.2 186.6 586.8 187.2 C586.3 187.8 585.0 188.5 584.4 188.6Z" fill="#2a0404" fill-opacity="0.69" stroke="#f42212" stroke-opacity="0.76" stroke-width="2.4"/>
<path d="M592.8 183.9 C592.8 184.5 592.3 185.2 591.8 185.5 C591.3 185.8 590.2 186.2 589.7 185.9 C589.1 185.6 588.5 184.3 588.3 183.7 C588.2 183.0 588.4 182.4 588.8 182.0 C589.1 181.6 589.9 181.1 590.4 181.1 C591.0 181.0 591.8 181.2 592.2 181.7 C592.6 182.1 592.9 183.2 592.8 183.9Z" fill="#2a0404" fill-opacity="0.68" stroke="#f42212" stroke-opacity="0.75" stroke-width="2.7"/>
<path d="M600.7 187.1 C600.0 187.1 598.7 186.8 598.2 186.3 C597.7 185.8 597.5 184.8 597.8 184.3 C598.1 183.8 599.2 183.5 599.9 183.3 C600.7 183.1 601.6 182.9 602.2 183.2 C602.9 183.4 603.6 184.3 603.6 184.9 C603.6 185.4 602.9 186.3 602.4 186.7 C602.0 187.0 601.4 187.2 600.7 187.1Z" fill="#2a0404" fill-opacity="0.88" stroke="#f42212" stroke-opacity="0.98" stroke-width="2.8"/>
<path d="M608.0 183.0 C607.9 182.3 608.4 181.7 608.8 181.2 C609.1 180.8 609.6 180.3 610.1 180.2 C610.6 180.2 611.5 180.4 611.8 180.9 C612.2 181.4 612.4 182.7 612.3 183.4 C612.2 184.1 611.6 184.9 611.2 185.1 C610.8 185.4 610.2 185.4 609.7 185.0 C609.2 184.6 608.2 183.6 608.0 183.0Z" fill="#2a0404" fill-opacity="0.59" stroke="#f42212" stroke-opacity="0.66" stroke-width="3.0"/>
<path d="M616.6 188.1 C615.7 188.3 614.7 188.1 614.2 187.8 C613.7 187.4 613.5 186.8 613.4 186.0 C613.3 185.3 613.2 183.9 613.7 183.3 C614.3 182.8 615.9 182.8 616.7 182.9 C617.6 183.0 618.6 183.2 619.0 183.8 C619.4 184.4 619.7 185.8 619.3 186.5 C618.9 187.3 617.4 187.9 616.6 188.1Z" fill="#2a0404" fill-opacity="0.36" stroke="#f42212" stroke-opacity="0.40" stroke-width="2.8"/>
<path d="M624.7 185.4 C624.5 184.7 625.0 184.0 625.3 183.5 C625.6 183.0 626.0 182.5 626.5 182.5 C627.0 182.4 627.9 182.7 628.3 183.2 C628.7 183.8 629.1 185.0 629.0 185.7 C629.0 186.4 628.5 187.1 628.1 187.4 C627.7 187.8 627.2 188.2 626.6 187.9 C626.1 187.5 625.0 186.1 624.7 185.4Z" fill="#2a0404" fill-opacity="0.41" stroke="#f42212" stroke-opacity="0.45" stroke-width="2.4"/>
<path d="M634.3 186.2 C633.6 186.2 632.6 185.8 632.1 185.3 C631.5 184.7 630.9 183.8 631.0 183.1 C631.1 182.4 632.2 181.3 632.9 180.9 C633.5 180.5 634.3 180.4 635.0 180.7 C635.6 180.9 636.5 181.5 636.7 182.3 C637.0 183.0 636.9 184.5 636.5 185.2 C636.1 185.8 635.0 186.2 634.3 186.2Z" fill="#2a0404" fill-opacity="0.33" stroke="#f42212" stroke-opacity="0.37" stroke-width="3.0"/>
<path d="M644.9 184.5 C644.5 185.1 643.2 185.5 642.4 185.7 C641.5 185.9 640.5 186.1 639.9 185.8 C639.2 185.4 638.4 184.5 638.4 183.7 C638.5 182.8 639.3 181.0 640.0 180.4 C640.7 179.8 641.9 179.8 642.7 180.0 C643.4 180.3 644.2 181.0 644.6 181.7 C645.0 182.5 645.3 183.8 644.9 184.5Z" fill="#2a0404" fill-opacity="0.60" stroke="#f42212" stroke-opacity="0.67" stroke-width="2.8"/>
<path d="M652.0 186.6 C651.4 187.1 650.0 187.3 649.3 187.1 C648.6 186.9 648.0 185.9 647.7 185.3 C647.4 184.6 647.1 184.0 647.6 183.4 C648.0 182.7 649.4 181.8 650.3 181.5 C651.1 181.2 652.0 181.2 652.4 181.7 C652.9 182.1 652.9 183.3 652.8 184.1 C652.8 185.0 652.6 186.2 652.0 186.6Z" fill="#2a0404" fill-opacity="0.54" stroke="#f42212" stroke-opacity="0.60" stroke-width="2.6"/>
<path d="M668.0 184.9 C667.8 185.5 667.1 186.3 666.5 186.5 C665.8 186.7 664.6 186.6 664.1 186.3 C663.7 186.0 663.6 185.2 663.6 184.6 C663.6 184.0 663.8 183.1 664.2 182.7 C664.6 182.2 665.5 181.7 666.0 181.7 C666.6 181.7 667.2 182.0 667.5 182.6 C667.9 183.1 668.2 184.2 668.0 184.9Z" fill="#2a0404" fill-opacity="0.34" stroke="#f42212" stroke-opacity="0.38" stroke-width="3.1"/>
<path d="M676.1 186.7 C675.3 186.7 674.4 186.3 673.8 185.8 C673.3 185.4 672.5 184.4 672.7 183.8 C672.9 183.2 674.4 182.4 675.1 182.1 C675.8 181.8 676.2 181.7 676.8 182.0 C677.5 182.3 678.7 183.0 679.0 183.7 C679.3 184.3 679.0 185.4 678.5 185.9 C678.0 186.4 676.8 186.7 676.1 186.7Z" fill="#2a0404" fill-opacity="0.51" stroke="#f42212" stroke-opacity="0.56" stroke-width="3.2"/>
<path d="M560.3 192.6 C560.0 192.1 560.1 190.5 560.4 189.9 C560.8 189.2 561.6 188.9 562.3 188.7 C563.0 188.4 564.2 188.0 564.8 188.3 C565.3 188.6 565.7 189.8 565.7 190.5 C565.6 191.1 565.0 191.9 564.4 192.4 C563.8 192.8 563.0 193.1 562.3 193.1 C561.6 193.2 560.6 193.2 560.3 192.6Z" fill="#2a0404" fill-opacity="0.85" stroke="#f42212" stroke-opacity="0.94" stroke-width="2.8"/>
<path d="M571.7 192.1 C571.0 192.5 570.3 192.7 569.7 192.6 C569.1 192.4 568.1 191.6 568.0 191.1 C568.0 190.5 568.7 189.6 569.3 189.2 C570.0 188.7 571.3 188.3 572.0 188.2 C572.7 188.1 573.5 188.3 573.8 188.7 C574.1 189.0 574.3 189.8 573.9 190.4 C573.6 190.9 572.4 191.7 571.7 192.1Z" fill="#2a0404" fill-opacity="0.61" stroke="#f42212" stroke-opacity="0.68" stroke-width="2.5"/>
<path d="M583.1 192.5 C583.0 193.2 582.1 194.1 581.4 194.3 C580.8 194.6 579.8 194.3 579.2 194.0 C578.5 193.7 577.9 193.1 577.7 192.5 C577.4 191.9 577.2 190.7 577.7 190.2 C578.2 189.7 579.7 189.6 580.5 189.6 C581.3 189.7 582.0 190.1 582.5 190.6 C582.9 191.0 583.3 191.9 583.1 192.5Z" fill="#2a0404" fill-opacity="0.65" stroke="#f42212" stroke-opacity="0.72" stroke-width="3.1"/>
<path d="M589.4 192.9 C589.2 193.4 588.6 193.4 588.0 193.3 C587.5 193.2 586.5 192.8 586.1 192.5 C585.7 192.1 585.5 191.5 585.5 191.0 C585.6 190.5 586.2 189.7 586.6 189.4 C587.1 189.2 587.8 189.3 588.3 189.5 C588.7 189.7 589.2 190.2 589.4 190.7 C589.6 191.3 589.6 192.5 589.4 192.9Z" fill="#2a0404" fill-opacity="0.87" stroke="#f42212" stroke-opacity="0.97" stroke-width="2.9"/>
<path d="M599.8 193.4 C599.6 193.9 598.9 194.4 598.4 194.5 C597.8 194.6 597.0 194.4 596.5 194.1 C596.1 193.7 595.7 193.1 595.6 192.5 C595.6 191.9 595.8 191.0 596.2 190.6 C596.7 190.3 597.7 190.2 598.3 190.4 C598.9 190.5 599.5 191.1 599.7 191.6 C600.0 192.1 600.0 193.0 599.8 193.4Z" fill="#2a0404" fill-opacity="0.45" stroke="#f42212" stroke-opacity="0.50" stroke-width="2.9"/>
<path d="M608.1 192.0 C607.8 192.6 606.6 193.2 605.8 193.3 C605.0 193.4 604.1 193.1 603.5 192.5 C603.0 191.9 602.4 190.6 602.3 189.9 C602.2 189.2 602.5 188.4 603.0 188.1 C603.6 187.8 604.9 187.7 605.7 187.9 C606.4 188.2 607.3 189.0 607.7 189.7 C608.2 190.4 608.5 191.4 608.1 192.0Z" fill="#2a0404" fill-opacity="0.73" stroke="#f42212" stroke-opacity="0.81" stroke-width="2.4"/>
<path d="M610.8 192.2 C610.7 191.4 611.2 190.4 611.5 190.0 C611.9 189.5 612.6 189.3 613.1 189.5 C613.7 189.7 614.6 190.6 614.8 191.2 C615.1 191.8 615.0 192.6 614.8 193.2 C614.6 193.8 613.9 194.5 613.4 194.8 C613.0 195.1 612.5 195.5 612.1 195.0 C611.7 194.6 610.9 193.1 610.8 192.2Z" fill="#2a0404" fill-opacity="0.30" stroke="#f42212" stroke-opacity="0.33" stroke-width="2.9"/>
<path d="M621.3 194.1 C620.7 194.7 619.5 194.7 618.8 194.7 C618.1 194.7 617.4 194.6 617.1 194.1 C616.8 193.5 616.6 192.2 616.9 191.5 C617.2 190.7 618.2 189.8 619.0 189.4 C619.7 189.0 620.8 188.9 621.4 189.2 C622.0 189.5 622.5 190.3 622.4 191.1 C622.4 191.9 621.9 193.5 621.3 194.1Z" fill="#2a0404" fill-opacity="0.39" stroke="#f42212" stroke-opacity="0.43" stroke-width="2.8"/>
<path d="M633.3 193.7 C633.1 194.4 632.8 195.5 632.0 195.7 C631.2 195.9 629.3 195.2 628.5 194.8 C627.7 194.4 627.6 193.8 627.4 193.1 C627.3 192.4 627.0 191.1 627.6 190.7 C628.2 190.2 630.0 190.2 630.9 190.4 C631.8 190.6 632.6 191.5 633.0 192.1 C633.4 192.6 633.4 193.1 633.3 193.7Z" fill="#2a0404" fill-opacity="0.33" stroke="#f42212" stroke-opacity="0.37" stroke-width="2.8"/>
<path d="M636.8 193.8 C635.9 193.9 634.8 193.5 634.3 192.9 C633.9 192.3 633.9 190.9 634.0 190.2 C634.2 189.5 634.4 189.2 635.2 188.9 C636.0 188.6 637.8 188.0 638.8 188.2 C639.7 188.4 640.5 189.6 640.7 190.3 C640.8 191.0 640.4 191.9 639.7 192.5 C639.1 193.1 637.7 193.8 636.8 193.8Z" fill="#2a0404" fill-opacity="0.62" stroke="#f42212" stroke-opacity="0.69" stroke-width="2.9"/>
<path d="M650.3 191.2 C650.3 191.8 649.7 192.7 649.2 193.1 C648.7 193.5 647.9 193.6 647.2 193.5 C646.6 193.4 645.6 193.0 645.3 192.3 C644.9 191.6 644.9 190.1 645.2 189.5 C645.5 188.9 646.4 188.8 647.1 188.7 C647.7 188.7 648.7 189.0 649.3 189.4 C649.8 189.8 650.3 190.5 650.3 191.2Z" fill="#2a0404" fill-opacity="0.47" stroke="#f42212" stroke-opacity="0.53" stroke-width="2.7"/>
<path d="M657.4 193.2 C656.9 193.8 656.2 194.5 655.6 194.5 C654.9 194.6 653.8 194.2 653.3 193.5 C652.8 192.9 652.4 191.3 652.7 190.6 C652.9 189.8 654.1 189.3 654.9 189.1 C655.8 188.8 657.1 188.6 657.7 188.9 C658.3 189.2 658.6 190.2 658.5 190.9 C658.5 191.6 657.9 192.6 657.4 193.2Z" fill="#2a0404" fill-opacity="0.62" stroke="#f42212" stroke-opacity="0.68" stroke-width="3.0"/>
<path d="M662.3 194.0 C662.0 193.4 661.6 192.3 661.7 191.6 C661.8 190.9 662.2 190.1 662.8 189.8 C663.4 189.5 664.8 189.3 665.4 189.7 C666.1 190.1 666.6 191.6 666.7 192.4 C666.8 193.2 666.5 194.2 666.1 194.7 C665.6 195.1 664.6 195.2 664.0 195.1 C663.4 195.0 662.7 194.6 662.3 194.0Z" fill="#2a0404" fill-opacity="0.32" stroke="#f42212" stroke-opacity="0.36" stroke-width="2.7"/>
<path d="M673.3 192.3 C672.8 192.7 671.8 193.0 671.3 192.9 C670.7 192.8 670.2 192.1 670.0 191.5 C669.8 191.0 669.9 190.1 670.2 189.6 C670.5 189.0 671.1 188.2 671.7 188.1 C672.3 187.9 673.3 188.2 673.8 188.5 C674.3 188.9 674.8 189.6 674.7 190.3 C674.6 190.9 673.9 191.8 673.3 192.3Z" fill="#2a0404" fill-opacity="0.44" stroke="#f42212" stroke-opacity="0.49" stroke-width="2.7"/>
<path d="M562.7 200.2 C562.7 201.0 562.5 201.5 562.0 202.0 C561.5 202.5 560.4 203.2 559.8 203.1 C559.3 202.9 559.0 201.9 558.7 201.2 C558.5 200.4 558.0 199.2 558.2 198.5 C558.3 197.9 559.2 197.6 559.8 197.3 C560.4 197.1 561.4 196.8 561.9 197.2 C562.4 197.7 562.6 199.4 562.7 200.2Z" fill="#2a0404" fill-opacity="0.55" stroke="#f42212" stroke-opacity="0.62" stroke-width="2.7"/>
<path d="M564.0 199.5 C563.8 198.9 564.3 198.2 564.8 197.7 C565.3 197.2 566.4 196.6 567.0 196.6 C567.6 196.6 568.2 197.2 568.6 197.7 C568.9 198.2 569.3 199.1 569.1 199.7 C568.9 200.3 568.0 201.0 567.5 201.3 C566.9 201.5 566.4 201.7 565.8 201.4 C565.3 201.1 564.2 200.1 564.0 199.5Z" fill="#2a0404" fill-opacity="0.57" stroke="#f42212" stroke-opacity="0.63" stroke-width="2.7"/>
<path d="M579.4 200.5 C579.1 201.3 578.0 202.5 577.3 203.0 C576.5 203.4 575.3 203.3 574.7 202.9 C574.1 202.6 573.7 201.5 573.5 200.7 C573.3 199.9 573.0 198.9 573.4 198.3 C573.9 197.6 575.4 197.0 576.3 196.9 C577.1 196.9 578.0 197.6 578.5 198.1 C579.0 198.7 579.6 199.7 579.4 200.5Z" fill="#2a0404" fill-opacity="0.89" stroke="#f42212" stroke-opacity="0.99" stroke-width="2.6"/>
<path d="M583.9 201.3 C583.1 201.1 582.2 200.6 582.0 200.1 C581.7 199.5 582.1 198.5 582.5 197.9 C582.9 197.4 583.6 196.9 584.3 196.8 C585.0 196.7 585.9 196.9 586.5 197.4 C587.1 197.8 588.0 198.8 588.1 199.4 C588.1 200.0 587.6 200.5 586.9 200.8 C586.2 201.1 584.7 201.4 583.9 201.3Z" fill="#2a0404" fill-opacity="0.84" stroke="#f42212" stroke-opacity="0.94" stroke-width="3.0"/>
<path d="M594.1 198.6 C594.0 199.3 593.5 200.4 593.1 200.8 C592.6 201.3 591.9 201.5 591.3 201.3 C590.8 201.1 589.9 200.4 589.7 199.7 C589.5 199.0 590.0 197.7 590.4 197.1 C590.8 196.4 591.7 195.8 592.2 195.8 C592.7 195.8 593.2 196.6 593.5 197.0 C593.8 197.5 594.1 198.0 594.1 198.6Z" fill="#2a0404" fill-opacity="0.69" stroke="#f42212" stroke-opacity="0.77" stroke-width="2.9"/>
<path d="M599.6 198.5 C599.5 197.7 599.5 196.1 599.8 195.6 C600.1 195.0 601.0 194.8 601.6 195.0 C602.1 195.1 602.8 195.9 603.2 196.5 C603.6 197.2 604.1 198.1 604.0 198.8 C603.9 199.6 603.0 200.6 602.5 200.9 C601.9 201.2 601.1 201.0 600.6 200.6 C600.1 200.2 599.7 199.3 599.6 198.5Z" fill="#2a0404" fill-opacity="0.50" stroke="#f42212" stroke-opacity="0.56" stroke-width="2.9"/>
<path d="M607.6 198.9 C607.2 198.1 607.3 196.9 607.4 196.3 C607.6 195.8 608.2 195.7 608.7 195.7 C609.2 195.7 610.0 195.9 610.5 196.4 C611.1 196.8 611.8 198.0 611.9 198.6 C612.1 199.2 611.7 199.6 611.2 200.0 C610.8 200.3 610.0 200.9 609.4 200.7 C608.8 200.5 607.9 199.6 607.6 198.9Z" fill="#2a0404" fill-opacity="0.52" stroke="#f42212" stroke-opacity="0.58" stroke-width="2.6"/>
<path d="M615.8 201.7 C615.1 201.6 614.2 201.3 613.8 200.8 C613.3 200.3 613.0 199.3 613.1 198.8 C613.2 198.3 613.9 197.7 614.6 197.6 C615.3 197.4 616.7 197.7 617.3 198.0 C617.9 198.4 618.2 199.1 618.2 199.7 C618.3 200.3 618.2 201.1 617.8 201.5 C617.3 201.8 616.5 201.8 615.8 201.7Z" fill="#2a0404" fill-opacity="0.46" stroke="#f42212" stroke-opacity="0.51" stroke-width="3.1"/>
<path d="M625.0 202.2 C624.3 202.5 623.6 202.5 623.2 202.1 C622.8 201.7 622.5 200.4 622.5 199.7 C622.5 199.0 622.8 198.1 623.2 197.7 C623.6 197.3 624.4 197.0 625.0 197.2 C625.7 197.4 626.8 198.1 627.1 198.7 C627.5 199.3 627.2 200.2 626.9 200.8 C626.5 201.4 625.6 202.0 625.0 202.2Z" fill="#2a0404" fill-opacity="0.63" stroke="#f42212" stroke-opacity="0.70" stroke-width="2.5"/>
<path d="M630.7 200.4 C630.4 199.7 630.2 199.0 630.6 198.5 C631.0 198.0 632.3 197.5 633.1 197.5 C633.8 197.5 634.5 198.2 634.9 198.6 C635.3 199.1 635.7 199.7 635.6 200.3 C635.6 200.9 635.1 201.8 634.6 202.2 C634.0 202.7 632.9 203.2 632.3 202.9 C631.6 202.6 631.0 201.2 630.7 200.4Z" fill="#2a0404" fill-opacity="0.46" stroke="#f42212" stroke-opacity="0.51" stroke-width="2.8"/>
<path d="M640.6 203.5 C640.0 203.4 639.4 202.8 639.2 202.1 C639.0 201.4 639.2 200.3 639.5 199.5 C639.8 198.8 640.2 197.9 640.9 197.6 C641.5 197.3 642.6 197.4 643.2 197.7 C643.7 198.1 644.2 199.0 644.1 199.8 C644.1 200.6 643.6 201.8 643.0 202.4 C642.4 203.0 641.3 203.5 640.6 203.5Z" fill="#2a0404" fill-opacity="0.56" stroke="#f42212" stroke-opacity="0.62" stroke-width="2.6"/>
<path d="M653.5 198.1 C653.4 198.9 652.9 200.5 652.4 201.0 C651.9 201.5 651.1 201.3 650.6 201.0 C650.0 200.8 649.3 200.3 648.9 199.5 C648.6 198.7 648.4 197.1 648.7 196.4 C649.0 195.6 650.1 195.1 650.8 195.0 C651.5 194.9 652.5 195.3 652.9 195.8 C653.4 196.3 653.6 197.2 653.5 198.1Z" fill="#2a0404" fill-opacity="0.64" stroke="#f42212" stroke-opacity="0.71" stroke-width="2.7"/>
<path d="M661.2 201.4 C660.7 201.9 659.3 202.6 658.5 202.6 C657.7 202.6 656.8 202.1 656.4 201.5 C656.0 200.8 655.7 199.6 656.0 198.8 C656.3 198.1 657.4 197.2 658.1 196.9 C658.8 196.7 659.6 197.0 660.2 197.4 C660.8 197.9 661.3 199.0 661.5 199.7 C661.7 200.3 661.7 200.9 661.2 201.4Z" fill="#2a0404" fill-opacity="0.65" stroke="#f42212" stroke-opacity="0.72" stroke-width="3.0"/>
<path d="M670.1 199.9 C670.1 200.6 669.9 201.2 669.4 201.6 C668.9 202.1 667.6 202.9 667.0 202.7 C666.3 202.6 665.9 201.5 665.6 200.8 C665.3 200.2 665.0 199.4 665.3 198.7 C665.7 198.0 666.9 196.8 667.6 196.6 C668.2 196.4 668.9 197.1 669.3 197.6 C669.7 198.2 670.1 199.2 670.1 199.9Z" fill="#2a0404" fill-opacity="0.40" stroke="#f42212" stroke-opacity="0.44" stroke-width="2.7"/>
<path d="M567.3 206.5 C567.1 207.4 566.1 208.9 565.5 209.6 C564.9 210.2 564.2 210.8 563.7 210.5 C563.2 210.3 562.5 209.1 562.3 208.1 C562.0 207.1 561.9 205.4 562.1 204.7 C562.4 203.9 563.1 203.6 563.8 203.6 C564.5 203.5 565.7 203.7 566.2 204.2 C566.8 204.7 567.4 205.6 567.3 206.5Z" fill="#2a0404" fill-opacity="0.57" stroke="#f42212" stroke-opacity="0.64" stroke-width="3.0"/>
<path d="M570.9 208.5 C570.1 208.3 569.4 207.7 569.1 207.1 C568.9 206.5 569.2 205.6 569.6 205.2 C570.0 204.7 571.0 204.3 571.7 204.3 C572.3 204.3 573.0 204.6 573.5 204.9 C574.0 205.3 574.5 206.0 574.5 206.5 C574.5 207.1 574.0 207.9 573.4 208.3 C572.8 208.6 571.6 208.7 570.9 208.5Z" fill="#2a0404" fill-opacity="0.70" stroke="#f42212" stroke-opacity="0.78" stroke-width="2.7"/>
<path d="M579.3 209.0 C578.6 208.7 577.3 207.9 576.9 207.4 C576.6 206.9 576.6 206.3 577.0 206.0 C577.5 205.6 578.7 205.3 579.5 205.3 C580.3 205.4 581.2 205.7 581.7 206.1 C582.1 206.5 582.2 207.0 582.1 207.5 C582.1 208.0 581.7 208.9 581.2 209.2 C580.7 209.4 580.0 209.3 579.3 209.0Z" fill="#2a0404" fill-opacity="0.64" stroke="#f42212" stroke-opacity="0.71" stroke-width="3.0"/>
<path d="M591.1 206.4 C590.4 207.0 589.1 207.7 588.4 207.7 C587.8 207.7 587.2 207.3 587.0 206.6 C586.7 206.0 586.4 204.8 586.8 203.9 C587.2 203.0 588.6 201.6 589.3 201.3 C590.1 201.0 590.7 201.6 591.3 202.0 C591.9 202.5 592.9 203.4 592.9 204.2 C592.9 204.9 591.9 205.8 591.1 206.4Z" fill="#2a0404" fill-opacity="0.70" stroke="#f42212" stroke-opacity="0.78" stroke-width="2.6"/>
<path d="M598.2 208.6 C597.5 208.9 596.4 208.7 595.8 208.5 C595.1 208.3 594.2 207.7 594.2 207.2 C594.1 206.7 594.8 205.9 595.4 205.5 C596.0 205.0 597.1 204.5 597.8 204.4 C598.6 204.3 599.4 204.5 599.8 204.9 C600.2 205.3 600.5 206.0 600.2 206.6 C599.9 207.2 598.9 208.3 598.2 208.6Z" fill="#2a0404" fill-opacity="0.79" stroke="#f42212" stroke-opacity="0.88" stroke-width="3.1"/>
<path d="M602.7 209.4 C602.0 209.2 600.9 208.7 600.5 208.1 C600.2 207.6 600.1 206.5 600.5 206.0 C600.8 205.5 602.0 205.2 602.7 205.1 C603.4 205.1 604.1 205.1 604.7 205.5 C605.2 205.9 605.8 207.1 605.8 207.7 C605.8 208.3 605.2 208.8 604.7 209.1 C604.2 209.3 603.4 209.5 602.7 209.4Z" fill="#2a0404" fill-opacity="0.80" stroke="#f42212" stroke-opacity="0.89" stroke-width="3.1"/>
<path d="M616.0 205.7 C615.9 206.6 615.3 208.1 614.8 208.6 C614.2 209.1 613.1 209.2 612.5 208.9 C612.0 208.6 611.5 207.7 611.3 206.8 C611.1 205.9 610.9 203.9 611.2 203.2 C611.5 202.5 612.4 202.4 613.1 202.5 C613.8 202.5 614.9 202.9 615.4 203.5 C615.9 204.0 616.1 204.9 616.0 205.7Z" fill="#2a0404" fill-opacity="0.56" stroke="#f42212" stroke-opacity="0.62" stroke-width="2.8"/>
<path d="M619.5 207.5 C619.2 206.8 619.1 205.6 619.5 205.0 C619.9 204.3 621.1 203.8 622.1 203.8 C623.0 203.8 624.7 204.5 625.2 205.1 C625.7 205.6 625.4 206.4 625.1 207.2 C624.8 207.9 624.2 208.9 623.5 209.3 C622.8 209.7 621.6 209.6 620.9 209.3 C620.2 209.0 619.7 208.3 619.5 207.5Z" fill="#2a0404" fill-opacity="0.53" stroke="#f42212" stroke-opacity="0.58" stroke-width="2.5"/>
<path d="M637.0 208.4 C636.4 208.2 635.1 207.5 634.8 206.9 C634.5 206.4 634.7 205.7 635.0 205.1 C635.4 204.5 636.0 203.6 636.6 203.4 C637.3 203.3 638.4 203.7 638.9 204.1 C639.4 204.5 639.8 205.3 639.7 205.9 C639.6 206.5 638.9 207.4 638.5 207.8 C638.0 208.2 637.6 208.5 637.0 208.4Z" fill="#2a0404" fill-opacity="0.41" stroke="#f42212" stroke-opacity="0.45" stroke-width="3.0"/>
<path d="M648.3 207.4 C647.9 207.7 647.0 207.5 646.5 207.3 C646.0 207.0 645.4 206.5 645.1 206.0 C644.9 205.5 644.8 204.8 645.0 204.4 C645.2 204.0 645.5 203.6 646.1 203.6 C646.6 203.5 647.6 203.7 648.1 204.0 C648.5 204.4 648.7 205.0 648.8 205.6 C648.8 206.1 648.7 207.1 648.3 207.4Z" fill="#2a0404" fill-opacity="0.31" stroke="#f42212" stroke-opacity="0.34" stroke-width="3.2"/>
<path d="M654.3 207.8 C653.8 207.9 652.9 207.9 652.4 207.5 C651.9 207.1 651.4 206.0 651.4 205.4 C651.3 204.8 651.6 204.2 652.1 203.9 C652.5 203.5 653.5 203.0 654.0 203.2 C654.6 203.3 655.1 204.1 655.4 204.7 C655.7 205.3 655.8 206.2 655.7 206.7 C655.5 207.2 654.9 207.7 654.3 207.8Z" fill="#2a0404" fill-opacity="0.43" stroke="#f42212" stroke-opacity="0.47" stroke-width="2.8"/>
<path d="M661.0 205.1 C661.0 204.5 661.6 203.5 662.1 203.0 C662.6 202.5 663.4 201.9 663.9 201.9 C664.5 201.9 665.0 202.5 665.4 203.0 C665.7 203.6 666.2 204.6 666.0 205.2 C665.9 205.8 665.1 206.5 664.4 206.8 C663.8 207.1 662.9 207.1 662.4 206.8 C661.8 206.6 661.0 205.7 661.0 205.1Z" fill="#2a0404" fill-opacity="0.41" stroke="#f42212" stroke-opacity="0.46" stroke-width="3.0"/>
<path d="M668.2 205.4 C668.1 204.6 668.0 203.4 668.4 202.9 C668.7 202.4 669.7 202.4 670.4 202.4 C671.0 202.5 671.8 202.6 672.2 203.1 C672.6 203.6 672.7 204.8 672.6 205.5 C672.5 206.1 672.3 206.8 671.7 207.1 C671.2 207.4 669.8 207.7 669.2 207.4 C668.7 207.1 668.4 206.1 668.2 205.4Z" fill="#2a0404" fill-opacity="0.57" stroke="#f42212" stroke-opacity="0.63" stroke-width="2.5"/>
<path d="M567.2 216.7 C566.5 216.4 565.7 215.3 565.4 214.7 C565.2 214.0 565.1 213.3 565.6 212.7 C566.1 212.1 567.6 211.2 568.3 211.1 C569.1 211.0 569.7 211.4 570.1 212.1 C570.5 212.8 571.0 214.4 570.9 215.1 C570.8 215.9 570.0 216.4 569.4 216.7 C568.8 216.9 567.8 217.1 567.2 216.7Z" fill="#2a0404" fill-opacity="0.48" stroke="#f42212" stroke-opacity="0.54" stroke-width="2.4"/>
<path d="M575.0 217.0 C574.2 217.2 573.6 217.0 573.1 216.5 C572.6 216.1 571.8 215.0 571.9 214.3 C572.0 213.5 573.1 212.4 573.8 212.0 C574.4 211.7 575.2 211.9 575.9 212.1 C576.6 212.3 577.7 212.7 578.0 213.3 C578.2 213.8 578.0 214.8 577.5 215.5 C577.0 216.1 575.7 216.8 575.0 217.0Z" fill="#2a0404" fill-opacity="0.63" stroke="#f42212" stroke-opacity="0.70" stroke-width="2.9"/>
<path d="M581.6 214.1 C581.2 213.4 580.9 212.2 581.2 211.5 C581.5 210.9 582.7 210.5 583.4 210.4 C584.1 210.4 584.6 210.6 585.1 211.3 C585.6 211.9 586.3 213.4 586.3 214.2 C586.3 214.9 585.7 215.6 585.2 215.9 C584.7 216.2 584.1 216.4 583.5 216.1 C582.9 215.8 582.0 214.9 581.6 214.1Z" fill="#2a0404" fill-opacity="0.88" stroke="#f42212" stroke-opacity="0.98" stroke-width="3.1"/>
<path d="M592.9 216.9 C592.0 216.7 591.4 216.2 591.1 215.7 C590.8 215.1 590.8 214.1 591.0 213.6 C591.3 213.0 591.8 212.3 592.6 212.1 C593.5 211.9 595.6 212.1 596.3 212.6 C597.0 213.1 596.8 214.4 596.9 215.0 C596.9 215.7 597.1 216.2 596.4 216.5 C595.8 216.8 593.8 217.0 592.9 216.9Z" fill="#2a0404" fill-opacity="0.37" stroke="#f42212" stroke-opacity="0.41" stroke-width="3.2"/>
<path d="M598.0 213.1 C597.8 212.5 597.8 211.8 598.0 211.3 C598.2 210.8 598.8 210.2 599.3 210.2 C599.9 210.2 600.6 210.6 601.0 211.1 C601.5 211.7 601.9 212.9 602.0 213.5 C602.1 214.2 601.8 215.0 601.4 215.2 C601.0 215.4 600.1 215.4 599.5 215.0 C598.9 214.7 598.3 213.7 598.0 213.1Z" fill="#2a0404" fill-opacity="0.76" stroke="#f42212" stroke-opacity="0.85" stroke-width="3.1"/>
<path d="M610.1 214.6 C609.5 214.7 608.5 213.8 608.1 213.3 C607.7 212.8 607.4 212.4 607.4 211.8 C607.4 211.1 607.5 209.8 608.0 209.4 C608.4 208.9 609.6 208.7 610.3 209.0 C611.0 209.3 611.9 210.5 612.1 211.2 C612.3 211.8 611.8 212.3 611.5 212.9 C611.1 213.5 610.6 214.5 610.1 214.6Z" fill="#2a0404" fill-opacity="0.83" stroke="#f42212" stroke-opacity="0.92" stroke-width="2.6"/>
<path d="M614.8 215.3 C614.4 214.6 613.9 213.6 614.2 212.9 C614.4 212.1 615.5 211.4 616.2 211.0 C617.0 210.7 618.2 210.6 618.9 210.8 C619.6 211.0 620.5 211.6 620.6 212.4 C620.8 213.2 620.4 214.9 619.8 215.7 C619.1 216.5 617.7 217.1 616.9 217.0 C616.1 216.9 615.3 216.0 614.8 215.3Z" fill="#2a0404" fill-opacity="0.44" stroke="#f42212" stroke-opacity="0.49" stroke-width="2.6"/>
<path d="M624.7 214.6 C624.3 214.0 624.3 212.8 624.5 212.2 C624.8 211.5 625.7 210.8 626.3 210.7 C627.0 210.6 627.9 211.0 628.3 211.6 C628.8 212.2 629.1 213.3 629.1 214.1 C629.1 214.9 628.7 216.0 628.3 216.3 C627.8 216.6 627.1 216.1 626.5 215.9 C625.9 215.6 625.0 215.2 624.7 214.6Z" fill="#2a0404" fill-opacity="0.59" stroke="#f42212" stroke-opacity="0.66" stroke-width="2.7"/>
<path d="M636.5 215.8 C635.8 216.1 634.6 216.5 634.0 216.3 C633.4 216.1 633.0 215.4 632.8 214.6 C632.6 213.9 632.3 212.4 632.7 211.7 C633.1 211.0 634.2 210.6 635.0 210.6 C635.8 210.6 636.9 211.3 637.4 211.9 C637.9 212.6 638.3 213.8 638.2 214.5 C638.0 215.1 637.2 215.5 636.5 215.8Z" fill="#2a0404" fill-opacity="0.50" stroke="#f42212" stroke-opacity="0.56" stroke-width="3.1"/>
<path d="M640.5 216.1 C639.9 215.9 639.1 214.6 639.1 213.7 C639.0 212.8 639.3 211.5 639.9 210.7 C640.5 210.0 641.8 209.3 642.7 209.2 C643.5 209.2 644.5 209.7 644.9 210.5 C645.3 211.2 645.2 212.8 644.8 213.6 C644.4 214.5 643.3 214.9 642.6 215.3 C641.9 215.8 641.0 216.4 640.5 216.1Z" fill="#2a0404" fill-opacity="0.62" stroke="#f42212" stroke-opacity="0.69" stroke-width="2.8"/>
<path d="M653.6 213.9 C653.3 214.4 651.9 215.4 651.1 215.4 C650.3 215.4 649.1 214.5 648.5 214.0 C647.9 213.5 647.7 213.0 647.7 212.4 C647.7 211.7 647.8 210.5 648.5 210.2 C649.1 209.8 650.6 209.9 651.3 210.2 C652.1 210.5 652.4 211.4 652.8 212.0 C653.2 212.6 653.8 213.3 653.6 213.9Z" fill="#2a0404" fill-opacity="0.54" stroke="#f42212" stroke-opacity="0.60" stroke-width="3.1"/>
<path d="M657.5 213.8 C656.7 213.5 655.7 212.6 655.4 212.1 C655.1 211.5 655.5 211.0 655.9 210.6 C656.2 210.2 657.0 209.8 657.7 209.8 C658.5 209.8 659.7 209.9 660.3 210.4 C660.9 210.8 661.4 211.8 661.4 212.4 C661.5 212.9 661.0 213.5 660.4 213.8 C659.7 214.0 658.4 214.1 657.5 213.8Z" fill="#2a0404" fill-opacity="0.35" stroke="#f42212" stroke-opacity="0.39" stroke-width="3.1"/>
<path d="M664.8 216.3 C664.3 215.5 663.8 213.9 663.9 213.1 C664.0 212.2 664.7 211.5 665.4 211.3 C666.1 211.1 667.3 211.3 668.1 211.9 C668.8 212.6 669.7 214.2 670.0 215.1 C670.3 216.0 670.2 216.8 669.7 217.2 C669.2 217.7 668.0 218.1 667.2 217.9 C666.3 217.8 665.4 217.1 664.8 216.3Z" fill="#2a0404" fill-opacity="0.58" stroke="#f42212" stroke-opacity="0.64" stroke-width="2.6"/>
<path d="M675.5 214.3 C674.8 213.9 674.3 213.1 674.0 212.4 C673.6 211.8 673.1 210.8 673.6 210.4 C674.0 210.0 675.8 210.1 676.7 210.2 C677.5 210.3 678.1 210.5 678.6 211.0 C679.0 211.6 679.5 212.7 679.5 213.3 C679.4 213.9 679.1 214.5 678.4 214.7 C677.8 214.9 676.3 214.7 675.5 214.3Z" fill="#2a0404" fill-opacity="0.49" stroke="#f42212" stroke-opacity="0.54" stroke-width="2.6"/>
<path d="M561.6 223.9 C561.1 223.6 560.6 222.7 560.6 221.9 C560.7 221.2 561.3 219.8 561.8 219.2 C562.3 218.6 563.0 218.4 563.6 218.4 C564.3 218.5 565.2 218.9 565.5 219.3 C565.8 219.8 565.7 220.6 565.4 221.3 C565.2 222.0 564.6 223.3 564.0 223.7 C563.4 224.1 562.2 224.2 561.6 223.9Z" fill="#2a0404" fill-opacity="0.39" stroke="#f42212" stroke-opacity="0.44" stroke-width="2.7"/>
<path d="M573.8 221.6 C573.1 222.0 571.5 222.3 570.8 222.0 C570.1 221.6 569.8 220.4 569.5 219.6 C569.2 218.8 569.0 218.0 569.2 217.5 C569.5 216.9 570.2 216.3 571.0 216.3 C571.9 216.3 573.5 216.9 574.1 217.4 C574.8 217.9 574.8 218.9 574.8 219.6 C574.7 220.3 574.5 221.2 573.8 221.6Z" fill="#2a0404" fill-opacity="0.37" stroke="#f42212" stroke-opacity="0.41" stroke-width="3.0"/>
<path d="M578.6 223.0 C578.0 223.0 577.5 222.4 577.0 221.8 C576.6 221.2 576.0 220.3 575.9 219.5 C575.9 218.7 576.2 217.4 576.7 217.1 C577.1 216.7 577.9 217.0 578.5 217.3 C579.0 217.6 579.9 218.0 580.2 218.7 C580.6 219.5 580.9 221.0 580.7 221.7 C580.4 222.4 579.2 223.0 578.6 223.0Z" fill="#2a0404" fill-opacity="0.46" stroke="#f42212" stroke-opacity="0.51" stroke-width="2.5"/>
<path d="M588.0 223.5 C587.0 223.7 585.8 223.7 585.2 223.4 C584.6 223.1 584.2 222.3 584.3 221.5 C584.4 220.7 585.1 219.2 585.8 218.7 C586.5 218.1 587.7 218.0 588.5 218.2 C589.3 218.3 590.3 219.0 590.7 219.6 C591.1 220.2 591.5 221.3 591.0 221.9 C590.6 222.6 589.0 223.2 588.0 223.5Z" fill="#2a0404" fill-opacity="0.31" stroke="#f42212" stroke-opacity="0.34" stroke-width="2.9"/>
<path d="M592.9 222.4 C592.6 221.8 592.5 220.7 592.8 220.1 C593.0 219.4 593.8 218.5 594.6 218.3 C595.3 218.1 596.8 218.3 597.4 218.8 C598.0 219.3 598.2 220.5 598.1 221.2 C598.0 221.9 597.3 222.9 596.7 223.2 C596.1 223.6 595.2 223.4 594.5 223.3 C593.9 223.2 593.2 222.9 592.9 222.4Z" fill="#2a0404" fill-opacity="0.46" stroke="#f42212" stroke-opacity="0.51" stroke-width="2.6"/>
<path d="M601.6 220.9 C601.6 220.2 602.2 218.7 602.5 218.1 C602.9 217.5 603.3 217.2 603.8 217.4 C604.3 217.6 605.3 218.7 605.6 219.5 C605.8 220.3 605.5 221.3 605.3 222.0 C605.1 222.6 604.8 223.2 604.3 223.3 C603.9 223.4 603.0 223.0 602.5 222.6 C602.0 222.2 601.6 221.7 601.6 220.9Z" fill="#2a0404" fill-opacity="0.34" stroke="#f42212" stroke-opacity="0.38" stroke-width="2.5"/>
<path d="M612.4 220.6 C612.3 220.2 612.4 219.2 612.8 218.8 C613.2 218.4 614.1 218.1 614.7 218.1 C615.3 218.2 616.0 218.7 616.4 219.0 C616.7 219.4 617.0 219.8 616.7 220.3 C616.5 220.7 615.5 221.5 615.0 221.7 C614.4 222.0 613.7 221.9 613.3 221.7 C612.9 221.5 612.5 221.1 612.4 220.6Z" fill="#2a0404" fill-opacity="0.59" stroke="#f42212" stroke-opacity="0.65" stroke-width="3.2"/>
<path d="M625.6 219.4 C625.6 220.1 624.6 220.6 624.1 221.0 C623.5 221.4 622.9 222.0 622.3 221.8 C621.7 221.6 620.8 220.4 620.6 219.9 C620.3 219.3 620.4 218.8 620.7 218.2 C621.0 217.6 621.7 216.5 622.3 216.2 C623.0 216.0 623.8 216.3 624.3 216.8 C624.9 217.3 625.7 218.7 625.6 219.4Z" fill="#2a0404" fill-opacity="0.49" stroke="#f42212" stroke-opacity="0.54" stroke-width="3.2"/>
<path d="M626.9 223.9 C626.3 223.6 625.8 222.3 625.5 221.6 C625.2 220.8 624.7 219.9 625.0 219.3 C625.4 218.7 626.8 218.1 627.6 217.9 C628.3 217.8 629.0 218.0 629.7 218.5 C630.3 219.0 631.5 220.2 631.5 220.9 C631.5 221.6 630.2 222.5 629.5 223.0 C628.7 223.5 627.6 224.1 626.9 223.9Z" fill="#2a0404" fill-opacity="0.50" stroke="#f42212" stroke-opacity="0.56" stroke-width="2.8"/>
<path d="M640.7 221.4 C640.3 222.0 639.5 222.2 638.9 222.3 C638.2 222.5 637.1 222.6 636.8 222.2 C636.6 221.7 637.2 220.4 637.5 219.6 C637.7 218.9 637.7 218.0 638.3 217.6 C639.0 217.1 640.8 216.7 641.3 216.8 C641.9 217.0 641.9 217.7 641.8 218.5 C641.7 219.3 641.2 220.7 640.7 221.4Z" fill="#2a0404" fill-opacity="0.58" stroke="#f42212" stroke-opacity="0.64" stroke-width="3.2"/>
<path d="M649.7 221.2 C649.5 222.0 648.7 222.9 647.9 223.1 C647.1 223.3 645.5 223.0 644.7 222.6 C643.9 222.1 643.4 221.1 643.3 220.3 C643.2 219.5 643.5 218.5 644.0 218.0 C644.5 217.5 645.6 217.5 646.4 217.6 C647.2 217.6 648.3 217.8 648.8 218.4 C649.4 219.0 649.8 220.4 649.7 221.2Z" fill="#2a0404" fill-opacity="0.48" stroke="#f42212" stroke-opacity="0.54" stroke-width="2.5"/>
<path d="M659.7 221.6 C659.7 220.9 660.2 220.2 660.7 219.7 C661.2 219.1 661.9 218.5 662.5 218.5 C663.1 218.4 663.8 219.0 664.1 219.6 C664.4 220.2 664.8 221.3 664.6 222.0 C664.4 222.8 663.6 223.6 663.0 223.9 C662.3 224.2 661.5 224.1 660.9 223.7 C660.4 223.3 659.8 222.3 659.7 221.6Z" fill="#2a0404" fill-opacity="0.50" stroke="#f42212" stroke-opacity="0.55" stroke-width="2.5"/>
<path d="M670.9 221.1 C670.2 221.0 669.1 220.5 668.8 219.9 C668.6 219.3 669.0 218.2 669.4 217.5 C669.8 216.9 670.4 216.1 671.0 216.0 C671.6 216.0 672.5 216.7 673.0 217.2 C673.6 217.7 674.4 218.4 674.4 219.0 C674.4 219.6 673.5 220.4 672.9 220.8 C672.3 221.2 671.6 221.3 670.9 221.1Z" fill="#2a0404" fill-opacity="0.40" stroke="#f42212" stroke-opacity="0.45" stroke-width="2.7"/>
<path d="M561.7 230.0 C561.5 230.6 561.0 231.3 560.4 231.4 C559.8 231.4 558.5 230.8 558.0 230.2 C557.5 229.7 557.5 228.8 557.5 228.2 C557.6 227.6 557.9 226.9 558.3 226.6 C558.7 226.4 559.4 226.5 560.0 226.7 C560.6 227.0 561.4 227.4 561.7 228.0 C562.0 228.5 561.9 229.5 561.7 230.0Z" fill="#2a0404" fill-opacity="0.63" stroke="#f42212" stroke-opacity="0.70" stroke-width="2.7"/>
<path d="M567.4 228.2 C566.7 228.6 565.4 229.0 564.7 229.0 C564.0 229.0 563.2 228.6 563.0 228.0 C562.8 227.5 563.2 226.5 563.6 225.8 C564.1 225.2 565.0 224.2 565.7 224.0 C566.4 223.7 567.3 223.9 567.8 224.3 C568.2 224.8 568.6 226.0 568.6 226.7 C568.5 227.3 568.0 227.8 567.4 228.2Z" fill="#2a0404" fill-opacity="0.52" stroke="#f42212" stroke-opacity="0.58" stroke-width="2.5"/>
<path d="M585.5 230.3 C584.8 230.6 583.3 230.9 582.7 230.6 C582.1 230.4 581.7 229.3 581.7 228.7 C581.8 228.1 582.5 227.5 583.0 227.1 C583.6 226.6 584.4 226.1 584.9 226.1 C585.5 226.1 586.0 226.8 586.4 227.3 C586.7 227.7 587.0 228.4 586.8 228.9 C586.7 229.4 586.2 230.0 585.5 230.3Z" fill="#2a0404" fill-opacity="0.60" stroke="#f42212" stroke-opacity="0.66" stroke-width="3.0"/>
<path d="M590.9 228.7 C590.6 227.9 590.2 226.6 590.3 225.8 C590.5 225.1 591.3 224.3 592.0 224.2 C592.8 224.2 594.1 224.8 594.7 225.4 C595.3 226.1 595.6 227.3 595.6 228.2 C595.6 229.1 595.3 230.5 594.7 230.9 C594.1 231.3 592.9 230.8 592.3 230.4 C591.6 230.1 591.2 229.4 590.9 228.7Z" fill="#2a0404" fill-opacity="0.36" stroke="#f42212" stroke-opacity="0.40" stroke-width="2.7"/>
<path d="M599.8 227.2 C599.6 226.5 599.4 225.4 599.6 224.9 C599.8 224.4 600.4 224.1 601.0 224.2 C601.6 224.3 602.7 224.9 603.2 225.4 C603.6 226.0 603.8 226.9 603.8 227.6 C603.8 228.3 603.6 229.2 603.2 229.4 C602.7 229.6 601.5 229.2 600.9 228.9 C600.4 228.5 600.1 227.9 599.8 227.2Z" fill="#2a0404" fill-opacity="0.49" stroke="#f42212" stroke-opacity="0.55" stroke-width="2.9"/>
<path d="M605.8 227.6 C605.7 226.6 606.3 225.3 606.9 224.8 C607.5 224.2 608.5 224.2 609.2 224.4 C609.9 224.6 610.8 224.9 611.2 225.8 C611.6 226.7 611.8 228.8 611.6 229.7 C611.3 230.6 610.4 231.2 609.7 231.3 C609.0 231.4 607.8 231.1 607.2 230.5 C606.5 229.9 605.8 228.6 605.8 227.6Z" fill="#2a0404" fill-opacity="0.36" stroke="#f42212" stroke-opacity="0.40" stroke-width="2.5"/>
<path d="M618.4 229.7 C617.8 230.0 617.3 230.0 616.7 229.5 C616.2 229.1 615.2 227.8 615.0 227.0 C614.8 226.2 615.2 225.1 615.6 224.7 C616.0 224.2 616.7 224.2 617.5 224.4 C618.2 224.5 619.4 225.0 619.8 225.6 C620.3 226.2 620.5 227.1 620.3 227.8 C620.1 228.4 619.0 229.4 618.4 229.7Z" fill="#2a0404" fill-opacity="0.31" stroke="#f42212" stroke-opacity="0.35" stroke-width="2.6"/>
<path d="M625.2 229.3 C624.6 228.9 623.8 228.4 623.6 227.6 C623.4 226.9 623.4 225.4 623.8 224.8 C624.3 224.2 625.8 223.9 626.5 224.0 C627.2 224.2 627.7 225.0 628.0 225.6 C628.4 226.2 628.7 226.9 628.6 227.7 C628.4 228.4 627.9 229.7 627.3 229.9 C626.8 230.2 625.8 229.7 625.2 229.3Z" fill="#2a0404" fill-opacity="0.33" stroke="#f42212" stroke-opacity="0.37" stroke-width="2.6"/>
<path d="M636.3 228.6 C636.0 229.3 635.2 229.7 634.4 229.9 C633.6 230.2 632.4 230.4 631.7 230.0 C631.0 229.6 630.4 228.2 630.4 227.4 C630.4 226.7 631.3 225.9 631.8 225.4 C632.3 224.9 632.9 224.2 633.6 224.2 C634.3 224.2 635.6 224.8 636.0 225.5 C636.5 226.2 636.6 227.8 636.3 228.6Z" fill="#2a0404" fill-opacity="0.35" stroke="#f42212" stroke-opacity="0.39" stroke-width="2.7"/>
<path d="M644.0 229.4 C643.7 230.0 642.9 230.2 642.4 230.3 C641.9 230.4 641.4 230.3 641.0 229.9 C640.5 229.6 639.9 228.9 639.9 228.2 C639.8 227.6 640.2 226.3 640.7 225.9 C641.2 225.6 642.3 225.9 642.9 226.1 C643.6 226.3 644.4 226.6 644.5 227.2 C644.7 227.7 644.4 228.9 644.0 229.4Z" fill="#2a0404" fill-opacity="0.33" stroke="#f42212" stroke-opacity="0.37" stroke-width="3.0"/>
<path d="M651.6 230.1 C651.2 230.5 649.9 230.9 649.1 230.9 C648.4 230.9 647.6 230.4 647.3 229.9 C646.9 229.4 646.9 228.6 646.9 228.0 C647.0 227.4 647.2 226.6 647.7 226.4 C648.2 226.2 649.5 226.2 650.1 226.5 C650.8 226.8 651.3 227.7 651.6 228.3 C651.8 228.9 652.0 229.6 651.6 230.1Z" fill="#2a0404" fill-opacity="0.50" stroke="#f42212" stroke-opacity="0.56" stroke-width="2.7"/>
<path d="M659.3 230.8 C658.7 230.8 658.1 230.5 657.8 230.0 C657.6 229.4 657.4 228.0 657.5 227.3 C657.7 226.6 658.2 226.0 658.7 225.8 C659.3 225.6 660.2 225.9 660.7 226.2 C661.2 226.6 661.6 227.3 661.7 227.9 C661.8 228.5 661.6 229.4 661.2 229.9 C660.8 230.4 659.8 230.8 659.3 230.8Z" fill="#2a0404" fill-opacity="0.49" stroke="#f42212" stroke-opacity="0.54" stroke-width="2.9"/>
<path d="M665.7 228.0 C665.3 227.5 665.1 226.8 665.1 226.2 C665.1 225.6 665.2 224.8 665.6 224.5 C666.1 224.2 667.2 224.3 667.9 224.6 C668.5 224.9 669.0 225.6 669.3 226.2 C669.6 226.7 669.9 227.5 669.7 228.0 C669.4 228.4 668.5 228.9 667.8 228.9 C667.2 228.9 666.2 228.4 665.7 228.0Z" fill="#2a0404" fill-opacity="0.33" stroke="#f42212" stroke-opacity="0.37" stroke-width="3.1"/>
<path d="M671.8 228.5 C671.5 227.9 671.0 226.3 671.2 225.5 C671.4 224.8 672.2 224.4 673.0 224.1 C673.8 223.7 675.2 223.1 675.9 223.3 C676.6 223.5 677.0 224.5 677.1 225.2 C677.2 225.9 677.0 227.1 676.4 227.7 C675.8 228.4 674.3 229.1 673.5 229.2 C672.8 229.4 672.2 229.1 671.8 228.5Z" fill="#2a0404" fill-opacity="0.63" stroke="#f42212" stroke-opacity="0.70" stroke-width="3.0"/>
<path d="M565.9 235.3 C565.5 235.8 564.5 236.1 563.9 236.0 C563.4 236.0 562.8 235.6 562.4 235.1 C561.9 234.6 561.4 233.6 561.4 233.1 C561.4 232.6 562.1 232.3 562.6 232.0 C563.0 231.7 563.6 231.2 564.2 231.4 C564.8 231.5 565.9 232.4 566.2 233.1 C566.4 233.7 566.2 234.8 565.9 235.3Z" fill="#2a0404" fill-opacity="0.62" stroke="#f42212" stroke-opacity="0.69" stroke-width="2.7"/>
<path d="M581.6 237.2 C580.9 237.7 579.5 238.1 578.8 238.0 C578.1 237.9 577.5 237.4 577.3 236.6 C577.1 235.9 577.3 234.3 577.8 233.6 C578.2 233.0 579.2 232.8 579.9 232.6 C580.6 232.5 581.6 232.4 582.1 232.8 C582.7 233.2 583.1 234.3 583.0 235.0 C582.9 235.8 582.3 236.7 581.6 237.2Z" fill="#2a0404" fill-opacity="0.55" stroke="#f42212" stroke-opacity="0.61" stroke-width="3.1"/>
<path d="M587.7 235.8 C587.2 235.5 586.9 234.8 586.9 234.3 C586.9 233.7 587.2 232.8 587.6 232.5 C588.1 232.1 589.1 232.0 589.6 232.0 C590.1 232.1 590.5 232.5 590.7 232.9 C590.9 233.4 590.9 234.3 590.7 234.8 C590.5 235.4 590.1 236.1 589.6 236.2 C589.1 236.4 588.1 236.1 587.7 235.8Z" fill="#2a0404" fill-opacity="0.37" stroke="#f42212" stroke-opacity="0.41" stroke-width="2.8"/>
<path d="M595.2 239.5 C594.4 239.4 593.3 238.2 593.0 237.4 C592.6 236.7 592.9 235.5 593.3 234.8 C593.6 234.1 594.2 233.5 595.0 233.2 C595.8 232.9 597.5 232.7 598.2 233.2 C598.9 233.6 599.3 235.2 599.3 235.9 C599.3 236.7 598.8 237.2 598.1 237.8 C597.4 238.4 596.1 239.5 595.2 239.5Z" fill="#2a0404" fill-opacity="0.40" stroke="#f42212" stroke-opacity="0.44" stroke-width="2.4"/>
<path d="M607.8 233.6 C607.8 234.2 607.5 235.0 607.0 235.4 C606.6 235.8 605.8 236.1 605.4 235.9 C604.9 235.7 604.7 234.8 604.5 234.2 C604.4 233.5 604.2 232.7 604.4 232.2 C604.6 231.8 605.3 231.4 605.8 231.3 C606.3 231.3 607.1 231.5 607.4 231.9 C607.8 232.3 607.9 233.0 607.8 233.6Z" fill="#2a0404" fill-opacity="0.37" stroke="#f42212" stroke-opacity="0.42" stroke-width="3.0"/>
<path d="M615.7 237.1 C615.6 237.7 614.7 237.9 614.0 238.1 C613.4 238.3 612.2 238.4 611.6 238.2 C611.0 237.9 610.4 237.1 610.3 236.5 C610.2 235.8 610.5 235.0 611.0 234.5 C611.4 234.1 612.2 233.7 612.9 233.7 C613.5 233.8 614.4 234.1 614.9 234.7 C615.4 235.2 615.9 236.5 615.7 237.1Z" fill="#2a0404" fill-opacity="0.48" stroke="#f42212" stroke-opacity="0.53" stroke-width="3.0"/>
<path d="M620.8 237.7 C620.4 237.0 620.3 235.6 620.5 234.9 C620.7 234.1 621.3 233.4 621.9 233.2 C622.5 233.0 623.7 233.4 624.2 233.9 C624.8 234.4 625.3 235.3 625.4 236.0 C625.5 236.7 625.0 237.6 624.7 238.1 C624.3 238.6 623.7 239.1 623.1 239.0 C622.4 239.0 621.2 238.4 620.8 237.7Z" fill="#2a0404" fill-opacity="0.53" stroke="#f42212" stroke-opacity="0.59" stroke-width="3.0"/>
<path d="M629.7 235.7 C629.1 236.1 627.8 236.3 627.3 236.1 C626.7 235.9 626.6 235.1 626.4 234.5 C626.2 233.8 625.8 232.9 626.1 232.3 C626.4 231.7 627.5 231.1 628.1 231.0 C628.8 230.9 629.4 231.3 629.9 231.8 C630.4 232.3 631.2 233.3 631.2 234.0 C631.1 234.6 630.4 235.4 629.7 235.7Z" fill="#2a0404" fill-opacity="0.39" stroke="#f42212" stroke-opacity="0.44" stroke-width="2.8"/>
<path d="M638.5 238.2 C637.8 238.0 637.0 237.2 636.8 236.4 C636.7 235.7 637.0 234.5 637.3 233.9 C637.6 233.2 638.1 232.5 638.7 232.4 C639.4 232.3 640.8 232.7 641.3 233.2 C641.9 233.7 642.1 234.7 642.0 235.5 C641.9 236.3 641.1 237.4 640.5 237.9 C639.9 238.3 639.1 238.5 638.5 238.2Z" fill="#2a0404" fill-opacity="0.34" stroke="#f42212" stroke-opacity="0.38" stroke-width="2.9"/>
<path d="M648.7 235.3 C648.7 235.9 648.3 236.5 647.8 236.9 C647.3 237.2 646.6 237.6 646.0 237.5 C645.3 237.5 644.4 237.0 644.1 236.5 C643.8 236.0 643.9 234.9 644.3 234.3 C644.6 233.8 645.5 233.2 646.0 233.0 C646.6 232.9 647.3 233.0 647.7 233.4 C648.2 233.8 648.7 234.7 648.7 235.3Z" fill="#2a0404" fill-opacity="0.64" stroke="#f42212" stroke-opacity="0.72" stroke-width="2.9"/>
<path d="M652.7 235.2 C652.4 234.8 652.5 233.8 652.8 233.2 C653.1 232.6 654.0 231.7 654.6 231.5 C655.2 231.2 656.1 231.4 656.6 231.7 C657.1 232.0 657.7 232.9 657.7 233.5 C657.7 234.1 657.0 234.8 656.6 235.2 C656.1 235.6 655.5 235.7 654.8 235.7 C654.2 235.7 653.0 235.6 652.7 235.2Z" fill="#2a0404" fill-opacity="0.48" stroke="#f42212" stroke-opacity="0.53" stroke-width="3.1"/>
<path d="M660.6 236.6 C660.1 236.5 659.8 235.8 659.6 235.2 C659.4 234.6 659.3 233.6 659.6 233.1 C659.9 232.7 660.7 232.5 661.3 232.5 C662.0 232.6 662.9 232.9 663.2 233.4 C663.6 233.8 663.3 234.7 663.2 235.2 C663.1 235.6 663.1 236.0 662.6 236.2 C662.2 236.5 661.1 236.8 660.6 236.6Z" fill="#2a0404" fill-opacity="0.47" stroke="#f42212" stroke-opacity="0.52" stroke-width="3.1"/>
<path d="M671.4 236.9 C670.7 237.4 669.5 237.3 668.8 236.9 C668.1 236.6 667.4 235.7 667.2 235.0 C667.0 234.4 666.9 233.7 667.4 233.1 C667.9 232.5 669.3 231.4 670.2 231.3 C671.0 231.2 672.1 232.1 672.5 232.6 C672.9 233.1 672.9 233.6 672.7 234.3 C672.5 235.0 672.0 236.5 671.4 236.9Z" fill="#2a0404" fill-opacity="0.42" stroke="#f42212" stroke-opacity="0.47" stroke-width="2.9"/>
<path d="M559.1 243.9 C558.2 244.1 556.5 244.0 555.7 243.7 C555.0 243.5 554.8 242.8 554.8 242.2 C554.9 241.7 555.3 240.9 556.1 240.5 C556.8 240.0 558.4 239.6 559.3 239.7 C560.3 239.7 561.3 240.3 561.6 240.8 C561.9 241.3 561.6 242.0 561.2 242.5 C560.8 243.1 560.0 243.7 559.1 243.9Z" fill="#2a0404" fill-opacity="0.41" stroke="#f42212" stroke-opacity="0.45" stroke-width="3.1"/>
<path d="M566.7 243.0 C565.8 242.9 564.7 242.8 564.1 242.3 C563.5 241.9 562.8 240.6 563.2 240.0 C563.6 239.4 565.4 239.0 566.3 238.8 C567.3 238.5 568.3 238.4 568.9 238.8 C569.6 239.1 570.0 240.2 570.1 240.9 C570.1 241.5 569.8 242.6 569.2 242.9 C568.6 243.3 567.5 243.1 566.7 243.0Z" fill="#2a0404" fill-opacity="0.30" stroke="#f42212" stroke-opacity="0.33" stroke-width="2.5"/>
<path d="M574.6 242.7 C574.1 242.4 573.8 241.8 573.8 241.1 C573.8 240.4 574.2 239.1 574.8 238.6 C575.3 238.0 576.3 237.8 576.9 238.0 C577.6 238.1 578.5 238.7 578.9 239.4 C579.2 240.1 579.2 241.6 578.9 242.2 C578.6 242.9 577.8 243.2 577.1 243.3 C576.4 243.4 575.2 243.1 574.6 242.7Z" fill="#2a0404" fill-opacity="0.39" stroke="#f42212" stroke-opacity="0.43" stroke-width="2.8"/>
<path d="M585.1 245.3 C584.4 245.7 583.6 245.8 582.9 245.6 C582.3 245.4 581.6 244.6 581.4 244.0 C581.2 243.4 581.1 242.4 581.8 241.9 C582.4 241.3 584.2 240.6 585.1 240.5 C586.0 240.4 587.0 240.7 587.3 241.1 C587.6 241.5 587.5 242.4 587.1 243.1 C586.8 243.8 585.8 244.9 585.1 245.3Z" fill="#2a0404" fill-opacity="0.48" stroke="#f42212" stroke-opacity="0.53" stroke-width="2.9"/>
<path d="M590.4 243.9 C589.8 243.3 589.0 242.1 589.1 241.4 C589.3 240.7 590.4 240.0 591.0 239.7 C591.7 239.4 592.5 239.2 593.1 239.7 C593.7 240.2 594.4 241.7 594.6 242.6 C594.9 243.4 595.0 244.4 594.6 244.9 C594.2 245.4 593.1 245.5 592.4 245.3 C591.7 245.2 590.9 244.6 590.4 243.9Z" fill="#2a0404" fill-opacity="0.45" stroke="#f42212" stroke-opacity="0.50" stroke-width="2.9"/>
<path d="M598.3 240.9 C598.1 240.4 598.2 239.7 598.6 239.3 C599.0 238.8 600.2 238.5 600.9 238.4 C601.7 238.3 602.6 238.3 603.1 238.7 C603.6 239.2 604.0 240.4 603.9 241.1 C603.8 241.8 603.2 242.5 602.6 242.7 C601.9 242.9 600.6 242.8 599.9 242.5 C599.2 242.2 598.5 241.5 598.3 240.9Z" fill="#2a0404" fill-opacity="0.61" stroke="#f42212" stroke-opacity="0.67" stroke-width="2.6"/>
<path d="M611.5 244.6 C611.2 245.2 610.1 245.8 609.3 245.7 C608.6 245.7 607.6 244.7 607.1 244.3 C606.5 243.8 605.9 243.4 605.9 242.8 C605.9 242.2 606.4 241.0 606.9 240.8 C607.5 240.5 608.5 240.8 609.2 241.1 C609.9 241.3 610.6 241.7 611.0 242.3 C611.4 242.9 611.8 244.1 611.5 244.6Z" fill="#2a0404" fill-opacity="0.38" stroke="#f42212" stroke-opacity="0.43" stroke-width="2.5"/>
<path d="M617.3 244.9 C616.7 244.4 615.9 243.6 615.8 242.9 C615.6 242.2 616.0 241.3 616.5 240.9 C617.0 240.4 618.3 239.9 619.0 240.2 C619.7 240.6 620.4 242.0 620.7 242.8 C621.1 243.5 621.3 244.3 621.0 244.8 C620.8 245.3 619.9 245.6 619.3 245.6 C618.7 245.6 617.9 245.4 617.3 244.9Z" fill="#2a0404" fill-opacity="0.55" stroke="#f42212" stroke-opacity="0.61" stroke-width="2.7"/>
<path d="M626.6 245.4 C626.0 245.7 625.2 245.4 624.5 244.9 C623.8 244.4 622.8 243.0 622.6 242.2 C622.4 241.3 622.5 240.2 623.1 239.7 C623.7 239.2 625.2 238.9 626.0 239.0 C626.8 239.1 627.6 239.7 628.0 240.4 C628.4 241.1 628.5 242.3 628.2 243.2 C628.0 244.0 627.2 245.1 626.6 245.4Z" fill="#2a0404" fill-opacity="0.32" stroke="#f42212" stroke-opacity="0.36" stroke-width="2.8"/>
<path d="M635.0 243.8 C634.8 244.5 634.0 245.1 633.5 245.3 C632.9 245.6 632.0 245.7 631.5 245.4 C631.0 245.1 630.4 244.3 630.4 243.5 C630.4 242.8 631.0 241.6 631.5 241.1 C632.1 240.5 632.9 240.2 633.4 240.2 C634.0 240.3 634.5 240.7 634.7 241.3 C635.0 241.9 635.2 243.2 635.0 243.8Z" fill="#2a0404" fill-opacity="0.48" stroke="#f42212" stroke-opacity="0.54" stroke-width="3.0"/>
<path d="M637.8 241.2 C637.6 240.5 638.2 240.0 638.7 239.5 C639.3 239.0 640.2 238.1 641.0 238.1 C641.7 238.1 642.7 238.9 643.1 239.6 C643.6 240.2 644.0 241.3 643.8 242.0 C643.7 242.7 642.9 243.7 642.2 243.9 C641.5 244.1 640.5 243.7 639.7 243.3 C639.0 242.8 638.0 241.8 637.8 241.2Z" fill="#2a0404" fill-opacity="0.41" stroke="#f42212" stroke-opacity="0.46" stroke-width="2.6"/>
<path d="M653.3 242.4 C653.1 243.2 652.3 244.5 651.7 244.8 C651.1 245.2 650.3 244.7 649.8 244.4 C649.2 244.1 648.5 243.7 648.4 243.1 C648.3 242.6 648.6 241.5 649.1 240.9 C649.6 240.4 650.6 240.0 651.2 239.8 C651.9 239.7 652.6 239.8 653.0 240.2 C653.3 240.6 653.5 241.6 653.3 242.4Z" fill="#2a0404" fill-opacity="0.47" stroke="#f42212" stroke-opacity="0.52" stroke-width="2.6"/>
<path d="M661.4 242.6 C661.3 243.3 661.0 244.2 660.4 244.5 C659.8 244.8 658.5 244.7 657.9 244.3 C657.3 244.0 656.7 243.0 656.6 242.4 C656.5 241.8 656.9 241.1 657.3 240.6 C657.7 240.1 658.3 239.3 659.0 239.2 C659.6 239.2 660.6 239.7 661.0 240.2 C661.4 240.8 661.5 241.9 661.4 242.6Z" fill="#2a0404" fill-opacity="0.44" stroke="#f42212" stroke-opacity="0.49" stroke-width="2.6"/>
<path d="M664.7 245.0 C664.3 244.5 664.2 243.7 664.4 243.1 C664.6 242.5 665.3 241.8 665.8 241.4 C666.4 241.1 667.2 240.7 667.7 240.9 C668.2 241.1 668.7 242.2 668.9 242.9 C669.1 243.6 669.3 244.4 669.0 244.9 C668.7 245.4 667.8 246.1 667.1 246.1 C666.4 246.1 665.2 245.5 664.7 245.0Z" fill="#2a0404" fill-opacity="0.41" stroke="#f42212" stroke-opacity="0.46" stroke-width="2.5"/>
<path d="M673.4 243.9 C672.6 243.6 672.2 242.7 671.9 242.1 C671.6 241.6 671.4 241.2 671.6 240.9 C671.9 240.5 672.8 240.1 673.5 240.2 C674.3 240.2 675.4 240.8 676.0 241.2 C676.6 241.7 677.0 242.1 677.0 242.6 C677.1 243.1 676.9 243.9 676.3 244.1 C675.7 244.4 674.1 244.2 673.4 243.9Z" fill="#2a0404" fill-opacity="0.58" stroke="#f42212" stroke-opacity="0.65" stroke-width="2.8"/>
<path d="M562.0 248.9 C561.9 248.1 562.1 247.5 562.6 246.9 C563.0 246.4 564.1 245.7 564.8 245.7 C565.4 245.8 566.2 246.6 566.6 247.3 C567.0 248.0 567.4 249.2 567.1 250.0 C566.9 250.7 565.8 251.5 565.2 251.8 C564.5 252.1 563.8 252.2 563.3 251.7 C562.8 251.2 562.1 249.7 562.0 248.9Z" fill="#2a0404" fill-opacity="0.54" stroke="#f42212" stroke-opacity="0.60" stroke-width="2.8"/>
<path d="M568.8 250.8 C568.1 250.3 567.3 249.2 567.1 248.5 C566.9 247.8 567.1 246.9 567.6 246.5 C568.1 246.1 569.1 245.8 570.0 246.0 C570.9 246.2 572.6 246.9 573.2 247.5 C573.8 248.2 573.9 249.1 573.6 249.7 C573.3 250.4 572.3 251.2 571.5 251.4 C570.7 251.6 569.6 251.2 568.8 250.8Z" fill="#2a0404" fill-opacity="0.64" stroke="#f42212" stroke-opacity="0.71" stroke-width="2.7"/>
<path d="M577.3 249.5 C577.2 248.6 577.6 247.1 578.1 246.5 C578.6 245.9 579.5 245.8 580.3 245.8 C581.0 245.9 582.2 246.1 582.6 246.6 C583.0 247.2 582.9 248.5 582.8 249.3 C582.6 250.2 582.3 251.6 581.7 251.9 C581.0 252.3 579.5 251.8 578.8 251.3 C578.0 250.9 577.4 250.3 577.3 249.5Z" fill="#2a0404" fill-opacity="0.31" stroke="#f42212" stroke-opacity="0.35" stroke-width="2.8"/>
<path d="M587.2 252.3 C586.5 251.9 585.3 250.7 585.0 249.8 C584.6 249.0 584.7 248.1 585.2 247.5 C585.7 246.9 587.1 246.2 588.0 246.2 C588.9 246.3 590.0 247.1 590.4 247.7 C590.9 248.2 591.0 248.7 590.8 249.4 C590.6 250.2 589.8 251.7 589.2 252.2 C588.6 252.7 587.9 252.7 587.2 252.3Z" fill="#2a0404" fill-opacity="0.43" stroke="#f42212" stroke-opacity="0.48" stroke-width="2.5"/>
<path d="M599.8 250.3 C599.3 250.7 598.3 250.9 597.5 250.7 C596.7 250.5 595.4 249.9 595.1 249.2 C594.7 248.5 595.0 247.3 595.1 246.6 C595.3 245.9 595.5 245.1 596.1 244.9 C596.8 244.8 598.4 245.4 599.1 245.9 C599.8 246.5 600.4 247.5 600.5 248.2 C600.6 248.9 600.3 249.8 599.8 250.3Z" fill="#2a0404" fill-opacity="0.64" stroke="#f42212" stroke-opacity="0.71" stroke-width="2.7"/>
<path d="M608.2 251.0 C607.8 251.5 606.7 251.8 606.0 251.7 C605.3 251.7 604.6 251.2 604.1 250.7 C603.7 250.2 603.2 249.4 603.4 248.9 C603.5 248.3 604.5 247.5 605.1 247.2 C605.7 246.9 606.4 247.0 607.1 247.3 C607.7 247.5 608.6 248.1 608.8 248.7 C609.0 249.3 608.7 250.5 608.2 251.0Z" fill="#2a0404" fill-opacity="0.61" stroke="#f42212" stroke-opacity="0.68" stroke-width="3.2"/>
<path d="M615.3 248.8 C615.2 249.5 614.3 250.8 613.7 251.2 C613.1 251.7 612.3 251.5 611.7 251.4 C611.1 251.3 610.4 251.2 610.2 250.5 C609.9 249.9 609.9 248.3 610.2 247.5 C610.6 246.8 611.8 246.0 612.4 245.9 C613.0 245.8 613.5 246.5 614.0 247.0 C614.4 247.5 615.3 248.1 615.3 248.8Z" fill="#2a0404" fill-opacity="0.61" stroke="#f42212" stroke-opacity="0.67" stroke-width="2.8"/>
<path d="M622.2 251.1 C621.6 251.3 620.7 251.0 620.2 250.4 C619.6 249.8 618.9 248.4 618.9 247.5 C618.8 246.7 619.4 245.9 620.0 245.5 C620.5 245.2 621.4 245.2 621.9 245.4 C622.5 245.5 623.1 245.9 623.5 246.6 C623.9 247.2 624.4 248.7 624.2 249.4 C623.9 250.2 622.9 250.9 622.2 251.1Z" fill="#2a0404" fill-opacity="0.55" stroke="#f42212" stroke-opacity="0.61" stroke-width="2.9"/>
<path d="M627.8 251.8 C626.9 251.4 625.6 250.0 625.2 249.2 C624.8 248.5 624.8 247.7 625.4 247.2 C626.0 246.7 627.7 246.0 628.8 246.2 C629.8 246.3 631.0 247.3 631.7 248.0 C632.4 248.8 633.2 249.9 633.0 250.6 C632.8 251.2 631.5 251.8 630.6 252.0 C629.7 252.2 628.7 252.3 627.8 251.8Z" fill="#2a0404" fill-opacity="0.60" stroke="#f42212" stroke-opacity="0.67" stroke-width="2.5"/>
<path d="M636.4 249.4 C636.0 248.9 635.8 247.8 635.9 247.2 C636.0 246.6 636.5 245.9 637.0 245.6 C637.6 245.4 638.4 245.4 639.0 245.6 C639.7 245.9 640.6 246.7 640.9 247.3 C641.2 247.9 641.1 248.9 640.7 249.3 C640.4 249.8 639.4 250.1 638.7 250.1 C638.0 250.1 636.9 249.9 636.4 249.4Z" fill="#2a0404" fill-opacity="0.55" stroke="#f42212" stroke-opacity="0.61" stroke-width="2.6"/>
<path d="M643.3 249.2 C643.0 248.7 643.3 247.8 643.7 247.3 C644.2 246.8 645.1 246.3 645.8 246.2 C646.6 246.2 647.6 246.6 648.1 247.0 C648.6 247.4 648.7 248.0 648.6 248.5 C648.4 249.0 647.6 249.7 647.0 250.0 C646.4 250.4 645.6 250.7 645.0 250.5 C644.3 250.4 643.5 249.8 643.3 249.2Z" fill="#2a0404" fill-opacity="0.42" stroke="#f42212" stroke-opacity="0.47" stroke-width="2.9"/>
<path d="M655.3 250.7 C655.0 251.3 654.3 251.6 653.7 251.5 C653.1 251.5 652.1 250.9 651.7 250.4 C651.2 249.9 651.0 249.0 651.0 248.4 C651.0 247.9 651.2 247.3 651.8 247.0 C652.3 246.7 653.5 246.4 654.1 246.6 C654.8 246.7 655.3 247.3 655.5 248.0 C655.7 248.7 655.6 250.1 655.3 250.7Z" fill="#2a0404" fill-opacity="0.39" stroke="#f42212" stroke-opacity="0.43" stroke-width="3.0"/>
<path d="M665.6 251.8 C665.3 252.7 664.3 253.7 663.5 254.0 C662.8 254.3 661.7 254.1 661.1 253.6 C660.6 253.1 660.2 251.7 660.4 250.8 C660.5 249.9 661.2 248.9 661.7 248.3 C662.2 247.8 662.7 247.6 663.3 247.7 C663.9 247.8 665.0 248.0 665.4 248.7 C665.7 249.4 665.9 251.0 665.6 251.8Z" fill="#2a0404" fill-opacity="0.36" stroke="#f42212" stroke-opacity="0.40" stroke-width="2.7"/>
<path d="M671.8 251.6 C671.1 251.9 670.0 251.5 669.3 251.2 C668.5 250.9 667.5 250.5 667.3 249.9 C667.2 249.3 667.5 248.2 668.2 247.5 C668.9 246.9 670.4 246.0 671.4 246.0 C672.3 245.9 673.6 246.8 674.0 247.4 C674.4 247.9 674.2 248.5 673.9 249.2 C673.5 249.9 672.6 251.2 671.8 251.6Z" fill="#2a0404" fill-opacity="0.52" stroke="#f42212" stroke-opacity="0.58" stroke-width="2.9"/>
<path d="M562.9 256.8 C562.6 257.5 562.0 258.6 561.2 258.9 C560.5 259.3 559.2 259.1 558.4 258.8 C557.7 258.4 556.9 257.6 556.8 256.8 C556.7 256.0 557.3 254.6 557.9 254.0 C558.5 253.5 559.6 253.4 560.5 253.5 C561.3 253.7 562.5 254.2 562.9 254.8 C563.3 255.3 563.2 256.2 562.9 256.8Z" fill="#2a0404" fill-opacity="0.35" stroke="#f42212" stroke-opacity="0.39" stroke-width="2.6"/>
<path d="M571.0 257.1 C570.8 257.8 569.8 258.7 569.1 259.0 C568.5 259.3 567.5 259.4 566.8 259.0 C566.1 258.5 565.3 257.0 565.1 256.3 C564.8 255.6 565.0 255.1 565.4 254.6 C565.9 254.1 566.8 253.3 567.7 253.3 C568.5 253.4 569.9 254.1 570.5 254.8 C571.0 255.4 571.2 256.4 571.0 257.1Z" fill="#2a0404" fill-opacity="0.51" stroke="#f42212" stroke-opacity="0.57" stroke-width="2.7"/>
<path d="M575.4 258.3 C574.5 258.3 573.2 257.8 572.7 257.3 C572.3 256.8 572.4 255.9 572.6 255.4 C572.7 254.8 573.1 254.1 573.7 253.9 C574.4 253.8 575.7 254.0 576.4 254.3 C577.1 254.6 577.8 255.2 578.0 255.8 C578.2 256.3 578.1 257.1 577.7 257.6 C577.3 258.0 576.2 258.3 575.4 258.3Z" fill="#2a0404" fill-opacity="0.49" stroke="#f42212" stroke-opacity="0.54" stroke-width="2.8"/>
<path d="M584.8 257.9 C584.2 257.9 583.3 257.6 582.9 257.0 C582.4 256.4 582.0 255.0 582.3 254.2 C582.5 253.5 583.7 252.7 584.4 252.5 C585.0 252.3 585.7 252.5 586.2 253.0 C586.6 253.4 587.0 254.3 587.0 255.0 C587.1 255.6 586.7 256.5 586.4 257.0 C586.0 257.5 585.4 257.9 584.8 257.9Z" fill="#2a0404" fill-opacity="0.41" stroke="#f42212" stroke-opacity="0.46" stroke-width="2.8"/>
<path d="M596.1 257.4 C596.0 257.9 595.4 258.3 594.8 258.4 C594.1 258.5 592.9 258.2 592.3 257.8 C591.7 257.5 591.2 256.9 591.1 256.4 C591.0 255.9 591.1 255.3 591.6 254.9 C592.0 254.4 593.0 253.8 593.7 253.9 C594.3 253.9 594.9 254.5 595.3 255.0 C595.7 255.6 596.2 256.8 596.1 257.4Z" fill="#2a0404" fill-opacity="0.60" stroke="#f42212" stroke-opacity="0.67" stroke-width="2.6"/>
<path d="M610.1 259.2 C609.5 259.2 608.9 258.7 608.5 258.2 C608.0 257.7 607.4 256.9 607.5 256.3 C607.6 255.7 608.2 254.9 608.9 254.5 C609.5 254.1 610.6 253.5 611.3 253.8 C611.9 254.0 612.7 255.5 612.8 256.2 C613.0 256.9 612.6 257.5 612.2 258.0 C611.7 258.5 610.7 259.2 610.1 259.2Z" fill="#2a0404" fill-opacity="0.34" stroke="#f42212" stroke-opacity="0.38" stroke-width="2.9"/>
<path d="M625.2 258.2 C624.5 257.8 624.2 257.0 624.1 256.3 C624.1 255.6 624.4 254.5 624.7 253.9 C625.1 253.4 625.7 253.0 626.4 253.1 C627.1 253.1 628.6 253.7 629.1 254.3 C629.6 254.9 629.7 256.0 629.6 256.6 C629.4 257.3 628.8 258.0 628.1 258.3 C627.4 258.6 625.9 258.5 625.2 258.2Z" fill="#2a0404" fill-opacity="0.35" stroke="#f42212" stroke-opacity="0.39" stroke-width="3.0"/>
<path d="M635.8 258.0 C635.3 258.6 634.4 258.9 633.7 259.0 C633.1 259.0 631.9 258.6 631.6 258.2 C631.3 257.8 631.7 257.1 632.0 256.4 C632.3 255.8 632.9 254.5 633.5 254.1 C634.0 253.8 634.8 254.0 635.4 254.2 C636.0 254.5 636.8 255.0 636.9 255.6 C636.9 256.3 636.3 257.4 635.8 258.0Z" fill="#2a0404" fill-opacity="0.64" stroke="#f42212" stroke-opacity="0.72" stroke-width="3.0"/>
<path d="M641.6 258.3 C641.2 257.9 641.0 256.9 641.1 256.2 C641.2 255.4 641.4 254.3 642.0 253.9 C642.5 253.5 643.8 253.5 644.5 253.8 C645.2 254.0 645.8 254.7 645.9 255.4 C646.1 256.0 645.7 257.1 645.3 257.6 C644.9 258.2 644.2 258.5 643.5 258.6 C642.9 258.8 642.0 258.7 641.6 258.3Z" fill="#2a0404" fill-opacity="0.50" stroke="#f42212" stroke-opacity="0.56" stroke-width="2.6"/>
<path d="M647.8 256.6 C647.5 256.0 648.0 254.9 648.5 254.4 C649.0 253.9 650.0 253.6 650.9 253.5 C651.8 253.4 653.4 253.5 653.9 253.9 C654.4 254.4 654.1 255.5 653.8 256.3 C653.6 257.0 652.8 258.2 652.2 258.5 C651.6 258.9 650.8 258.8 650.0 258.5 C649.3 258.1 648.0 257.3 647.8 256.6Z" fill="#2a0404" fill-opacity="0.60" stroke="#f42212" stroke-opacity="0.66" stroke-width="2.4"/>
<path d="M657.7 259.1 C657.0 259.2 656.3 258.8 655.9 258.3 C655.4 257.7 654.8 256.7 654.9 256.0 C654.9 255.3 655.6 254.5 656.3 254.2 C656.9 253.8 658.2 253.4 658.9 253.7 C659.6 254.0 660.2 255.3 660.4 256.0 C660.6 256.7 660.5 257.5 660.0 258.0 C659.6 258.5 658.4 259.1 657.7 259.1Z" fill="#2a0404" fill-opacity="0.48" stroke="#f42212" stroke-opacity="0.54" stroke-width="2.9"/>
<path d="M669.6 257.8 C669.1 258.3 667.5 258.4 666.7 258.3 C666.0 258.1 665.4 257.6 665.0 256.9 C664.6 256.3 664.0 255.3 664.3 254.6 C664.5 253.9 665.8 252.9 666.5 252.6 C667.3 252.3 668.1 252.4 668.7 252.8 C669.2 253.3 669.6 254.5 669.8 255.3 C669.9 256.1 670.1 257.3 669.6 257.8Z" fill="#2a0404" fill-opacity="0.37" stroke="#f42212" stroke-opacity="0.41" stroke-width="2.6"/>
<path d="M675.1 256.5 C674.6 257.0 673.8 257.4 673.2 257.4 C672.5 257.4 671.6 257.1 671.4 256.7 C671.2 256.2 671.7 255.2 672.1 254.6 C672.4 253.9 672.8 253.1 673.3 252.8 C673.9 252.5 674.9 252.6 675.4 252.9 C676.0 253.1 676.6 253.8 676.6 254.4 C676.5 255.0 675.7 256.0 675.1 256.5Z" fill="#2a0404" fill-opacity="0.35" stroke="#f42212" stroke-opacity="0.39" stroke-width="2.8"/>
<path d="M578.4 264.0 C577.8 263.6 577.1 262.7 577.0 262.0 C576.8 261.4 577.3 260.7 577.6 260.4 C578.0 260.0 578.6 259.9 579.2 260.1 C579.8 260.2 580.7 260.8 581.2 261.4 C581.7 262.0 582.1 263.0 582.0 263.6 C581.9 264.1 581.3 264.5 580.7 264.6 C580.1 264.7 579.1 264.4 578.4 264.0Z" fill="#2a0404" fill-opacity="0.53" stroke="#f42212" stroke-opacity="0.59" stroke-width="2.8"/>
<path d="M589.9 265.5 C589.4 265.9 588.1 266.4 587.5 266.3 C586.8 266.1 586.3 265.4 586.1 264.7 C585.9 264.1 586.0 263.1 586.3 262.5 C586.6 261.9 587.1 261.2 587.7 261.1 C588.3 261.0 589.3 261.4 589.7 261.8 C590.2 262.2 590.4 263.1 590.4 263.7 C590.5 264.3 590.4 265.1 589.9 265.5Z" fill="#2a0404" fill-opacity="0.33" stroke="#f42212" stroke-opacity="0.36" stroke-width="3.1"/>
<path d="M594.5 264.9 C594.0 264.3 593.1 262.9 593.0 262.1 C592.9 261.4 593.5 260.8 593.9 260.5 C594.4 260.2 595.1 259.9 595.9 260.3 C596.8 260.6 598.5 261.9 598.9 262.6 C599.3 263.3 598.7 263.8 598.3 264.3 C597.9 264.9 597.1 265.7 596.5 265.8 C595.8 265.9 595.1 265.5 594.5 264.9Z" fill="#2a0404" fill-opacity="0.38" stroke="#f42212" stroke-opacity="0.42" stroke-width="2.5"/>
<path d="M601.4 264.1 C601.2 263.6 601.5 262.9 601.8 262.4 C602.2 262.0 603.0 261.5 603.6 261.4 C604.2 261.2 605.1 261.2 605.5 261.5 C605.8 261.9 605.8 262.8 605.7 263.3 C605.6 263.9 605.2 264.5 604.8 264.8 C604.4 265.2 603.8 265.5 603.3 265.4 C602.7 265.3 601.7 264.6 601.4 264.1Z" fill="#2a0404" fill-opacity="0.36" stroke="#f42212" stroke-opacity="0.40" stroke-width="3.0"/>
<path d="M609.8 265.2 C609.4 264.6 609.0 264.0 609.0 263.4 C609.1 262.7 609.5 261.5 610.1 261.3 C610.7 261.1 611.8 261.6 612.4 262.2 C613.1 262.7 613.8 263.8 614.0 264.7 C614.2 265.6 614.2 267.0 613.7 267.5 C613.3 267.9 612.1 267.8 611.4 267.4 C610.7 267.1 610.2 265.9 609.8 265.2Z" fill="#2a0404" fill-opacity="0.32" stroke="#f42212" stroke-opacity="0.35" stroke-width="2.8"/>
<path d="M621.7 264.2 C621.4 264.8 620.7 265.1 620.2 265.3 C619.6 265.4 618.8 265.4 618.5 265.1 C618.1 264.7 618.0 263.8 618.1 263.2 C618.2 262.7 618.6 262.1 619.1 261.7 C619.5 261.3 620.4 260.8 620.9 260.8 C621.4 260.9 622.0 261.4 622.1 261.9 C622.2 262.5 622.1 263.7 621.7 264.2Z" fill="#2a0404" fill-opacity="0.41" stroke="#f42212" stroke-opacity="0.46" stroke-width="2.9"/>
<path d="M627.5 264.6 C627.3 264.0 627.3 262.9 627.7 262.5 C628.0 262.0 628.9 262.0 629.5 262.0 C630.1 262.0 630.7 262.1 631.2 262.5 C631.6 262.9 632.0 263.8 631.9 264.4 C631.8 265.1 631.3 266.1 630.7 266.4 C630.2 266.6 629.0 266.2 628.4 265.9 C627.9 265.6 627.6 265.2 627.5 264.6Z" fill="#2a0404" fill-opacity="0.50" stroke="#f42212" stroke-opacity="0.56" stroke-width="3.0"/>
<path d="M637.1 264.8 C636.6 264.1 635.8 262.8 635.8 262.2 C635.8 261.5 636.5 261.0 637.2 260.8 C637.8 260.6 639.1 260.9 639.8 261.2 C640.5 261.5 640.9 261.8 641.2 262.5 C641.4 263.2 641.8 264.8 641.4 265.3 C641.0 265.9 639.6 266.0 638.9 265.9 C638.2 265.8 637.6 265.4 637.1 264.8Z" fill="#2a0404" fill-opacity="0.31" stroke="#f42212" stroke-opacity="0.34" stroke-width="2.9"/>
<path d="M645.5 265.8 C645.0 265.7 644.5 264.8 644.2 264.1 C643.8 263.4 643.6 262.4 643.7 261.6 C643.8 260.9 644.2 260.0 644.7 259.6 C645.3 259.2 646.6 258.9 647.2 259.2 C647.8 259.5 648.2 260.6 648.3 261.5 C648.4 262.4 648.1 263.8 647.6 264.5 C647.2 265.2 646.1 265.8 645.5 265.8Z" fill="#2a0404" fill-opacity="0.58" stroke="#f42212" stroke-opacity="0.65" stroke-width="2.9"/>
<path d="M654.1 265.6 C653.5 265.8 652.7 265.4 652.2 265.0 C651.8 264.6 651.4 263.7 651.4 263.1 C651.3 262.4 651.6 261.5 652.1 261.1 C652.5 260.7 653.5 260.7 654.1 260.8 C654.6 261.0 655.4 261.5 655.6 262.0 C655.9 262.5 655.7 263.4 655.4 264.0 C655.1 264.6 654.6 265.4 654.1 265.6Z" fill="#2a0404" fill-opacity="0.53" stroke="#f42212" stroke-opacity="0.59" stroke-width="2.5"/>
<path d="M664.8 265.2 C664.5 265.7 663.6 266.7 663.0 266.7 C662.3 266.7 661.4 265.7 660.9 265.2 C660.5 264.6 660.1 264.1 660.2 263.5 C660.4 263.0 661.2 262.2 661.9 262.0 C662.5 261.7 663.4 261.5 663.9 261.8 C664.5 262.1 665.0 263.1 665.2 263.7 C665.3 264.2 665.2 264.7 664.8 265.2Z" fill="#2a0404" fill-opacity="0.48" stroke="#f42212" stroke-opacity="0.54" stroke-width="2.8"/>
<path d="M669.5 267.5 C668.7 267.4 667.6 267.1 667.2 266.5 C666.8 266.0 666.7 264.9 667.0 264.2 C667.2 263.4 668.1 262.3 668.9 262.0 C669.6 261.7 670.8 262.1 671.4 262.5 C672.1 262.8 672.7 263.5 672.8 264.2 C673.0 265.0 672.6 266.5 672.0 267.0 C671.5 267.5 670.3 267.6 669.5 267.5Z" fill="#2a0404" fill-opacity="0.41" stroke="#f42212" stroke-opacity="0.45" stroke-width="2.7"/>
<path d="M585.9 272.5 C585.7 273.0 584.7 273.7 584.0 273.9 C583.4 274.1 582.7 274.1 582.2 273.8 C581.6 273.5 580.9 272.9 580.7 272.4 C580.5 271.8 580.5 270.9 580.9 270.4 C581.3 270.0 582.4 269.5 583.1 269.6 C583.8 269.8 584.7 270.6 585.2 271.1 C585.7 271.6 586.1 272.0 585.9 272.5Z" fill="#2a0404" fill-opacity="0.38" stroke="#f42212" stroke-opacity="0.43" stroke-width="2.9"/>
<path d="M596.0 269.6 C595.9 270.4 595.5 271.6 595.0 272.2 C594.5 272.8 593.7 273.5 593.1 273.4 C592.5 273.2 591.7 272.2 591.4 271.3 C591.0 270.5 590.9 269.2 591.2 268.3 C591.4 267.4 592.2 266.3 592.9 266.2 C593.5 266.0 594.6 266.8 595.1 267.3 C595.6 267.9 596.0 268.8 596.0 269.6Z" fill="#2a0404" fill-opacity="0.61" stroke="#f42212" stroke-opacity="0.68" stroke-width="2.4"/>
<path d="M597.3 271.9 C596.9 271.3 596.6 269.7 596.7 268.9 C596.8 268.1 597.3 267.5 597.9 267.1 C598.6 266.7 599.8 266.4 600.4 266.6 C601.1 266.8 601.4 267.8 601.7 268.4 C601.9 269.1 602.4 269.9 602.0 270.6 C601.6 271.3 600.1 272.4 599.3 272.6 C598.5 272.9 597.7 272.5 597.3 271.9Z" fill="#2a0404" fill-opacity="0.61" stroke="#f42212" stroke-opacity="0.67" stroke-width="3.0"/>
<path d="M608.3 271.5 C607.9 270.8 607.5 269.8 607.6 269.1 C607.6 268.5 608.2 267.7 608.8 267.5 C609.4 267.4 610.6 268.0 611.2 268.4 C611.8 268.8 612.3 269.3 612.5 270.0 C612.6 270.8 612.3 272.3 611.9 272.8 C611.6 273.3 610.9 273.3 610.3 273.1 C609.7 272.9 608.8 272.2 608.3 271.5Z" fill="#2a0404" fill-opacity="0.42" stroke="#f42212" stroke-opacity="0.47" stroke-width="2.7"/>
<path d="M614.6 270.8 C614.3 270.4 614.2 269.4 614.4 268.7 C614.6 268.1 615.3 267.0 615.8 266.8 C616.4 266.5 617.4 267.0 617.9 267.3 C618.4 267.6 618.6 267.9 618.7 268.4 C618.8 269.0 618.9 270.2 618.4 270.7 C618.0 271.2 616.7 271.4 616.0 271.4 C615.4 271.5 614.8 271.3 614.6 270.8Z" fill="#2a0404" fill-opacity="0.63" stroke="#f42212" stroke-opacity="0.70" stroke-width="3.1"/>
<path d="M624.3 272.5 C623.8 272.2 622.9 271.0 622.8 270.3 C622.6 269.6 622.9 268.7 623.4 268.2 C623.9 267.7 625.1 267.5 625.8 267.5 C626.5 267.5 627.1 267.9 627.5 268.4 C627.8 269.0 628.3 270.1 628.0 270.7 C627.8 271.4 626.6 272.1 626.0 272.4 C625.4 272.7 624.8 272.9 624.3 272.5Z" fill="#2a0404" fill-opacity="0.52" stroke="#f42212" stroke-opacity="0.58" stroke-width="2.8"/>
<path d="M634.8 274.0 C634.2 274.4 632.8 274.9 632.0 274.8 C631.2 274.7 630.3 274.1 630.0 273.4 C629.7 272.7 629.9 271.3 630.3 270.7 C630.7 270.0 631.8 269.7 632.5 269.7 C633.3 269.6 634.4 269.9 635.0 270.3 C635.5 270.8 635.9 271.7 635.8 272.3 C635.8 272.9 635.5 273.6 634.8 274.0Z" fill="#2a0404" fill-opacity="0.50" stroke="#f42212" stroke-opacity="0.55" stroke-width="2.7"/>
<path d="M639.8 271.4 C639.2 270.7 639.3 269.6 639.4 268.7 C639.5 267.8 639.7 266.5 640.2 266.1 C640.8 265.7 642.1 266.0 642.9 266.3 C643.7 266.6 644.6 267.3 645.0 268.1 C645.4 268.9 645.7 270.4 645.3 271.2 C645.0 271.9 643.7 272.5 642.8 272.6 C641.9 272.6 640.4 272.0 639.8 271.4Z" fill="#2a0404" fill-opacity="0.52" stroke="#f42212" stroke-opacity="0.58" stroke-width="2.5"/>
<path d="M650.6 273.9 C649.9 273.9 648.8 273.0 648.4 272.5 C648.0 271.9 648.2 271.2 648.3 270.6 C648.4 270.0 648.6 269.2 649.2 268.9 C649.8 268.7 651.1 268.8 651.7 269.0 C652.4 269.3 652.9 269.9 653.1 270.5 C653.3 271.2 653.2 272.3 652.8 272.9 C652.3 273.4 651.4 274.0 650.6 273.9Z" fill="#2a0404" fill-opacity="0.40" stroke="#f42212" stroke-opacity="0.45" stroke-width="2.8"/>
<path d="M656.6 272.6 C656.6 272.0 657.1 271.0 657.7 270.5 C658.2 270.0 659.5 269.3 660.1 269.5 C660.7 269.6 661.1 270.8 661.4 271.4 C661.7 272.0 662.1 272.5 661.8 273.2 C661.6 273.8 660.4 275.2 659.7 275.4 C659.1 275.6 658.5 275.0 658.0 274.5 C657.5 274.1 656.7 273.3 656.6 272.6Z" fill="#2a0404" fill-opacity="0.32" stroke="#f42212" stroke-opacity="0.36" stroke-width="2.5"/>
<path d="M662.5 270.8 C662.4 270.1 662.9 269.8 663.5 269.4 C664.2 269.0 665.5 268.2 666.2 268.3 C667.0 268.4 667.9 269.3 668.2 270.0 C668.4 270.6 667.9 271.6 667.6 272.2 C667.3 272.8 666.9 273.4 666.3 273.6 C665.8 273.8 664.8 273.8 664.2 273.3 C663.5 272.8 662.6 271.4 662.5 270.8Z" fill="#2a0404" fill-opacity="0.42" stroke="#f42212" stroke-opacity="0.46" stroke-width="2.8"/>
<path d="M672.3 272.2 C672.2 271.7 672.5 270.9 673.1 270.5 C673.7 270.1 675.0 269.7 675.8 269.8 C676.6 269.8 677.5 270.5 677.9 270.9 C678.3 271.4 678.4 271.9 678.0 272.5 C677.7 273.1 676.6 274.2 675.9 274.4 C675.2 274.7 674.6 274.4 674.0 274.0 C673.4 273.6 672.5 272.8 672.3 272.2Z" fill="#2a0404" fill-opacity="0.59" stroke="#f42212" stroke-opacity="0.65" stroke-width="3.0"/>
<path d="M581.5 281.5 C580.8 281.5 579.7 280.7 579.2 280.2 C578.8 279.7 578.6 279.3 578.7 278.6 C578.8 278.0 579.3 276.7 579.8 276.4 C580.3 276.0 580.9 276.2 581.5 276.5 C582.1 276.8 583.1 277.6 583.3 278.2 C583.6 278.8 583.2 279.7 582.9 280.2 C582.6 280.7 582.1 281.5 581.5 281.5Z" fill="#2a0404" fill-opacity="0.58" stroke="#f42212" stroke-opacity="0.64" stroke-width="2.7"/>
<path d="M587.2 279.8 C586.5 279.7 585.8 278.7 585.5 278.1 C585.2 277.4 585.1 276.8 585.3 275.9 C585.4 275.1 585.8 273.6 586.4 273.2 C586.9 272.8 587.9 273.2 588.6 273.6 C589.3 274.0 590.1 274.6 590.4 275.4 C590.6 276.3 590.4 278.0 589.9 278.8 C589.3 279.5 588.0 279.9 587.2 279.8Z" fill="#2a0404" fill-opacity="0.38" stroke="#f42212" stroke-opacity="0.42" stroke-width="2.5"/>
<path d="M594.2 279.3 C594.2 278.6 594.5 278.1 595.1 277.5 C595.7 277.0 596.9 276.2 597.8 276.1 C598.7 276.0 599.8 276.2 600.3 276.9 C600.8 277.7 601.1 279.6 600.8 280.4 C600.6 281.3 599.8 281.8 598.9 282.0 C598.0 282.2 596.1 282.0 595.3 281.6 C594.6 281.1 594.2 279.9 594.2 279.3Z" fill="#2a0404" fill-opacity="0.63" stroke="#f42212" stroke-opacity="0.70" stroke-width="2.8"/>
<path d="M603.2 281.5 C602.6 281.3 601.7 280.6 601.5 279.8 C601.2 279.1 601.3 277.7 601.6 277.0 C601.9 276.2 602.4 275.5 603.1 275.3 C603.7 275.0 605.0 275.1 605.5 275.6 C606.1 276.1 606.4 277.4 606.4 278.2 C606.4 279.1 606.0 280.0 605.5 280.6 C605.0 281.1 603.9 281.6 603.2 281.5Z" fill="#2a0404" fill-opacity="0.53" stroke="#f42212" stroke-opacity="0.59" stroke-width="2.5"/>
<path d="M612.5 278.7 C611.9 278.9 611.2 278.8 610.6 278.5 C610.1 278.2 609.4 277.7 609.3 277.2 C609.2 276.6 609.4 275.6 610.0 275.1 C610.6 274.6 612.0 274.0 612.6 274.0 C613.2 274.0 613.5 274.4 613.8 275.0 C614.1 275.6 614.8 277.0 614.6 277.6 C614.4 278.2 613.2 278.6 612.5 278.7Z" fill="#2a0404" fill-opacity="0.33" stroke="#f42212" stroke-opacity="0.36" stroke-width="2.9"/>
<path d="M617.9 277.9 C617.8 277.4 618.1 276.5 618.4 276.0 C618.7 275.4 619.2 274.9 619.8 274.8 C620.4 274.7 621.6 275.0 622.0 275.4 C622.5 275.9 622.7 276.9 622.6 277.5 C622.4 278.0 621.5 278.6 620.9 278.9 C620.4 279.1 619.6 279.1 619.1 279.0 C618.6 278.8 618.0 278.4 617.9 277.9Z" fill="#2a0404" fill-opacity="0.34" stroke="#f42212" stroke-opacity="0.38" stroke-width="3.2"/>
<path d="M630.4 282.3 C629.6 282.2 628.8 281.3 628.4 280.6 C628.0 280.0 627.9 279.0 628.1 278.3 C628.3 277.6 628.9 276.9 629.7 276.6 C630.6 276.3 632.3 276.2 633.0 276.5 C633.8 276.8 634.4 277.6 634.4 278.4 C634.5 279.3 634.2 280.9 633.5 281.5 C632.9 282.2 631.3 282.5 630.4 282.3Z" fill="#2a0404" fill-opacity="0.47" stroke="#f42212" stroke-opacity="0.52" stroke-width="2.6"/>
<path d="M640.1 279.1 C639.3 279.3 637.8 279.3 637.2 279.0 C636.5 278.7 636.2 277.8 636.2 277.2 C636.1 276.6 636.3 275.8 636.7 275.4 C637.1 274.9 637.7 274.4 638.5 274.3 C639.3 274.3 640.9 274.6 641.4 275.1 C642.0 275.6 641.9 276.9 641.7 277.5 C641.4 278.2 640.8 278.9 640.1 279.1Z" fill="#2a0404" fill-opacity="0.33" stroke="#f42212" stroke-opacity="0.37" stroke-width="2.6"/>
<path d="M644.6 279.8 C644.6 279.2 645.2 277.9 645.6 277.3 C646.1 276.7 646.7 276.5 647.5 276.4 C648.3 276.3 649.9 276.4 650.4 276.8 C651.0 277.2 651.1 278.1 650.8 278.8 C650.6 279.4 649.6 280.3 648.8 280.8 C648.0 281.2 646.8 281.5 646.1 281.3 C645.4 281.2 644.7 280.5 644.6 279.8Z" fill="#2a0404" fill-opacity="0.45" stroke="#f42212" stroke-opacity="0.50" stroke-width="2.5"/>
<path d="M654.3 279.9 C653.4 279.8 652.2 279.1 651.7 278.6 C651.2 278.1 651.0 277.3 651.3 276.8 C651.5 276.2 652.6 275.4 653.4 275.1 C654.2 274.8 655.2 274.5 655.9 274.9 C656.7 275.2 657.6 276.5 657.8 277.1 C658.1 277.8 657.8 278.4 657.2 278.9 C656.6 279.3 655.2 279.9 654.3 279.9Z" fill="#2a0404" fill-opacity="0.30" stroke="#f42212" stroke-opacity="0.33" stroke-width="2.9"/>
<path d="M660.4 280.3 C659.9 280.0 659.7 279.5 659.7 278.9 C659.6 278.4 659.6 277.5 660.0 277.1 C660.4 276.8 661.2 276.8 661.9 276.9 C662.5 277.0 663.5 277.2 664.0 277.7 C664.4 278.3 664.5 279.8 664.3 280.3 C664.2 280.9 663.6 281.0 663.0 281.0 C662.3 281.0 661.0 280.7 660.4 280.3Z" fill="#2a0404" fill-opacity="0.41" stroke="#f42212" stroke-opacity="0.46" stroke-width="2.8"/>
<path d="M582.9 287.0 C582.3 286.4 582.2 285.5 582.2 284.9 C582.1 284.3 582.3 283.5 582.7 283.3 C583.2 283.1 584.2 283.3 584.9 283.6 C585.7 283.9 586.7 284.4 587.0 285.1 C587.4 285.7 587.2 286.8 586.9 287.3 C586.7 287.8 586.0 288.2 585.3 288.1 C584.6 288.1 583.4 287.5 582.9 287.0Z" fill="#2a0404" fill-opacity="0.50" stroke="#f42212" stroke-opacity="0.56" stroke-width="3.0"/>
<path d="M591.6 285.4 C591.3 285.0 591.4 284.3 591.7 283.8 C591.9 283.3 592.2 282.7 592.9 282.5 C593.6 282.3 595.2 282.1 595.7 282.4 C596.2 282.7 596.0 283.7 595.9 284.4 C595.9 285.0 595.7 285.8 595.2 286.2 C594.8 286.5 593.8 286.5 593.2 286.4 C592.6 286.3 591.9 285.9 591.6 285.4Z" fill="#2a0404" fill-opacity="0.41" stroke="#f42212" stroke-opacity="0.46" stroke-width="3.2"/>
<path d="M602.1 287.3 C601.6 287.8 600.4 288.1 599.6 288.0 C598.8 287.8 597.6 287.0 597.1 286.3 C596.6 285.7 596.4 284.8 596.6 284.1 C596.8 283.4 597.7 282.5 598.3 282.3 C598.9 282.0 599.5 282.3 600.2 282.7 C600.9 283.2 602.0 284.2 602.3 284.9 C602.7 285.7 602.6 286.8 602.1 287.3Z" fill="#2a0404" fill-opacity="0.39" stroke="#f42212" stroke-opacity="0.44" stroke-width="3.0"/>
<path d="M611.9 287.9 C611.5 288.6 610.7 288.8 609.9 288.8 C609.0 288.8 607.5 288.5 606.8 287.9 C606.2 287.3 606.0 286.0 606.2 285.2 C606.4 284.4 607.2 283.5 608.1 283.1 C608.9 282.8 610.3 283.0 611.1 283.3 C611.8 283.5 612.4 284.1 612.6 284.8 C612.7 285.6 612.4 287.3 611.9 287.9Z" fill="#2a0404" fill-opacity="0.31" stroke="#f42212" stroke-opacity="0.34" stroke-width="2.8"/>
<path d="M616.4 288.0 C615.6 287.7 614.6 287.0 614.3 286.2 C614.1 285.5 614.3 284.2 614.9 283.5 C615.4 282.7 616.9 281.9 617.6 281.9 C618.4 281.9 619.1 282.8 619.6 283.4 C620.1 284.0 620.6 284.7 620.5 285.5 C620.4 286.2 619.8 287.5 619.1 287.9 C618.4 288.3 617.2 288.2 616.4 288.0Z" fill="#2a0404" fill-opacity="0.44" stroke="#f42212" stroke-opacity="0.49" stroke-width="2.8"/>
<path d="M626.0 289.1 C625.1 289.4 623.8 289.4 623.1 289.0 C622.4 288.5 621.9 287.3 622.0 286.6 C622.1 285.8 623.1 285.1 623.8 284.6 C624.5 284.1 625.6 283.5 626.4 283.5 C627.2 283.6 628.4 284.3 628.8 284.9 C629.2 285.6 629.3 286.7 628.8 287.4 C628.4 288.1 627.0 288.9 626.0 289.1Z" fill="#2a0404" fill-opacity="0.37" stroke="#f42212" stroke-opacity="0.42" stroke-width="2.8"/>
<path d="M631.6 287.6 C630.9 287.5 630.0 286.4 629.7 285.7 C629.4 285.1 629.7 284.6 629.9 283.9 C630.2 283.2 630.7 282.1 631.2 281.7 C631.8 281.2 632.9 280.9 633.4 281.3 C633.9 281.7 634.2 283.0 634.3 283.8 C634.4 284.6 634.4 285.7 634.0 286.3 C633.5 286.9 632.3 287.7 631.6 287.6Z" fill="#2a0404" fill-opacity="0.54" stroke="#f42212" stroke-opacity="0.60" stroke-width="3.0"/>
<path d="M643.1 284.1 C642.8 284.8 641.8 285.9 641.2 286.2 C640.6 286.5 640.0 286.3 639.6 286.0 C639.1 285.6 638.5 284.9 638.4 284.1 C638.3 283.4 638.6 282.3 639.0 281.7 C639.5 281.1 640.3 280.6 640.9 280.7 C641.6 280.7 642.5 281.5 642.8 282.0 C643.2 282.6 643.4 283.4 643.1 284.1Z" fill="#2a0404" fill-opacity="0.37" stroke="#f42212" stroke-opacity="0.41" stroke-width="3.1"/>
<path d="M660.2 288.6 C659.4 288.8 658.1 289.3 657.5 288.8 C656.8 288.3 656.1 286.4 656.1 285.6 C656.0 284.7 656.5 284.3 657.0 283.7 C657.6 283.1 658.5 282.0 659.3 282.0 C660.1 282.1 661.3 283.0 661.7 283.8 C662.2 284.7 662.3 286.4 662.0 287.2 C661.8 288.0 660.9 288.3 660.2 288.6Z" fill="#2a0404" fill-opacity="0.57" stroke="#f42212" stroke-opacity="0.64" stroke-width="2.7"/>
<path d="M669.7 287.0 C669.1 287.7 668.3 288.3 667.6 288.4 C666.9 288.5 665.8 288.2 665.5 287.6 C665.2 287.0 665.6 285.7 666.0 285.0 C666.3 284.2 666.9 283.5 667.5 283.2 C668.1 283.0 669.0 283.3 669.5 283.5 C670.1 283.8 670.8 284.1 670.9 284.6 C670.9 285.2 670.2 286.4 669.7 287.0Z" fill="#2a0404" fill-opacity="0.39" stroke="#f42212" stroke-opacity="0.44" stroke-width="3.0"/>
<path d="M678.0 283.8 C677.9 284.4 677.4 285.0 677.0 285.3 C676.5 285.7 675.7 286.1 675.1 286.0 C674.6 285.8 673.9 285.0 673.6 284.5 C673.4 284.0 673.2 283.3 673.5 282.8 C673.8 282.3 674.8 281.4 675.5 281.2 C676.2 281.1 677.1 281.6 677.6 282.0 C678.0 282.5 678.1 283.3 678.0 283.8Z" fill="#2a0404" fill-opacity="0.60" stroke="#f42212" stroke-opacity="0.66" stroke-width="2.6"/>
<path d="M563.0 230.0 L583.0 224.0 L601.0 218.0 L608.0 209.0 L613.0 192.0 L618.0 174.0" stroke="#030805" stroke-width="4.5" fill="none" opacity="0.95" filter="url(#blur1)"/>
<path d="M601.0 218.0 L618.0 232.0 L635.0 234.0 L653.0 226.0 L671.0 224.0" stroke="#04100a" stroke-width="3" fill="none" opacity="0.7" filter="url(#blur1)"/>
<path d="M608.0 209.0 L623.0 204.0 L643.0 209.0" stroke="#04100a" stroke-width="3" fill="none" opacity="0.6" filter="url(#blur1)"/>
<path d="M563.0 259.0 L573.0 266.0 L579.0 282.0 L563.0 282.0 Z" fill="#020402" opacity="0.9" filter="url(#blur1)"/>
</g></g>
<rect x="676.5" y="174.5" width="107.5" height="107.5" fill="#0b0d17"/>
<g clip-path="url(#mp3)"><g filter="url(#soft)">
<rect x="676" y="174" width="108" height="108" fill="#0b0d17"/>
<g mask="url(#mb3)"><g opacity="0.7"><rect x="676" y="174" width="108" height="108" fill="#000" filter="url(#f27)"/></g></g>
<g mask="url(#mg3)"><g opacity="1.0"><rect x="676" y="174" width="108" height="108" fill="#000" filter="url(#f28)"/></g></g>
<path d="M675.3 172.1 C674.7 172.9 673.2 173.5 672.4 173.6 C671.6 173.8 671.0 173.4 670.4 173.0 C669.9 172.5 669.1 171.7 669.2 170.9 C669.4 170.1 670.5 169.0 671.3 168.4 C672.1 167.7 673.2 167.1 673.9 167.2 C674.7 167.3 675.6 168.0 675.9 168.8 C676.1 169.7 675.9 171.3 675.3 172.1Z" fill="#c81c10" fill-opacity="0.63" stroke="#f02a16" stroke-opacity="0.63" stroke-width="1.1"/>
<circle cx="672.6" cy="170.2" r="1.2" fill="#3a50ff" opacity="0.44"/>
<path d="M679.9 172.7 C678.9 172.6 677.1 172.2 676.5 171.4 C675.9 170.7 676.0 169.0 676.3 168.1 C676.6 167.2 677.6 166.6 678.4 166.1 C679.1 165.7 680.1 165.0 680.9 165.4 C681.7 165.9 683.1 167.7 683.3 168.8 C683.6 169.9 683.1 171.3 682.5 171.9 C682.0 172.6 680.9 172.8 679.9 172.7Z" fill="#c81c10" fill-opacity="0.51" stroke="#f02a16" stroke-opacity="0.51" stroke-width="1.2"/>
<circle cx="679.5" cy="168.9" r="1.2" fill="#3a50ff" opacity="0.36"/>
<path d="M688.2 174.1 C687.5 174.1 687.2 173.4 686.8 172.7 C686.4 171.9 685.7 170.6 685.8 169.8 C686.0 169.1 686.8 168.3 687.5 168.0 C688.2 167.8 689.6 167.9 690.2 168.3 C690.8 168.7 691.1 169.7 691.2 170.5 C691.3 171.2 691.4 172.2 690.9 172.9 C690.4 173.5 688.9 174.2 688.2 174.1Z" fill="#c81c10" fill-opacity="0.53" stroke="#f02a16" stroke-opacity="0.53" stroke-width="1.3"/>
<circle cx="689.8" cy="170.8" r="1.2" fill="#3a50ff" opacity="0.37"/>
<path d="M699.1 171.8 C698.2 171.9 696.7 171.7 696.1 171.2 C695.5 170.7 695.3 169.4 695.4 168.7 C695.5 168.0 696.2 167.3 696.9 166.9 C697.5 166.5 698.6 166.0 699.3 166.2 C700.1 166.4 701.3 167.3 701.5 168.0 C701.8 168.7 701.4 169.9 701.0 170.5 C700.6 171.1 699.9 171.7 699.1 171.8Z" fill="#c81c10" fill-opacity="0.73" stroke="#f02a16" stroke-opacity="0.73" stroke-width="1.2"/>
<circle cx="699.1" cy="170.2" r="1.2" fill="#3a50ff" opacity="0.51"/>
<path d="M703.3 172.5 C703.0 171.9 703.4 170.5 704.0 169.8 C704.7 169.0 706.2 167.9 707.1 167.8 C707.9 167.8 708.7 168.6 709.2 169.2 C709.7 169.9 710.3 171.2 710.1 171.9 C710.0 172.6 709.1 173.2 708.4 173.5 C707.7 173.8 706.7 173.6 705.8 173.5 C705.0 173.3 703.6 173.1 703.3 172.5Z" fill="#c81c10" fill-opacity="0.69" stroke="#f02a16" stroke-opacity="0.69" stroke-width="1.2"/>
<circle cx="707.2" cy="170.2" r="1.2" fill="#3a50ff" opacity="0.48"/>
<path d="M716.5 172.0 C715.8 172.4 714.7 172.4 713.9 172.2 C713.1 171.9 712.0 171.6 711.6 170.7 C711.1 169.8 710.9 167.7 711.2 166.9 C711.5 166.2 712.5 166.1 713.4 166.1 C714.3 166.1 715.7 166.4 716.4 166.9 C717.1 167.5 717.6 168.8 717.6 169.6 C717.6 170.4 717.1 171.6 716.5 172.0Z" fill="#c81c10" fill-opacity="0.65" stroke="#f02a16" stroke-opacity="0.65" stroke-width="1.4"/>
<circle cx="714.6" cy="169.3" r="1.2" fill="#3a50ff" opacity="0.46"/>
<path d="M728.8 171.3 C728.6 172.3 727.6 173.7 726.9 174.2 C726.2 174.8 725.1 175.0 724.5 174.7 C723.8 174.4 723.2 173.4 723.1 172.4 C723.1 171.3 723.5 169.2 724.1 168.5 C724.7 167.8 726.1 167.9 726.7 167.9 C727.4 168.0 727.7 168.0 728.0 168.6 C728.4 169.2 729.0 170.4 728.8 171.3Z" fill="#c81c10" fill-opacity="0.56" stroke="#f02a16" stroke-opacity="0.56" stroke-width="1.1"/>
<circle cx="724.6" cy="172.1" r="1.2" fill="#3a50ff" opacity="0.39"/>
<path d="M731.8 173.8 C731.1 173.3 730.6 172.4 730.7 171.6 C730.8 170.7 731.6 169.2 732.5 168.5 C733.3 167.7 734.7 167.1 735.6 167.0 C736.6 167.0 737.9 167.3 738.2 168.2 C738.5 169.1 738.0 171.4 737.5 172.5 C737.0 173.5 736.1 174.4 735.2 174.7 C734.3 174.9 732.6 174.3 731.8 173.8Z" fill="#c81c10" fill-opacity="0.48" stroke="#f02a16" stroke-opacity="0.48" stroke-width="1.2"/>
<circle cx="736.0" cy="169.4" r="1.2" fill="#3a50ff" opacity="0.33"/>
<path d="M745.7 171.3 C744.7 172.1 742.9 172.7 741.8 172.7 C740.8 172.8 740.1 172.3 739.6 171.7 C739.2 171.1 738.6 170.0 739.2 169.0 C739.9 168.0 742.1 166.3 743.3 165.8 C744.4 165.2 745.5 165.4 746.3 165.9 C747.0 166.3 747.8 167.3 747.7 168.2 C747.6 169.1 746.6 170.6 745.7 171.3Z" fill="#c81c10" fill-opacity="0.84" stroke="#f02a16" stroke-opacity="0.84" stroke-width="1.0"/>
<circle cx="743.8" cy="168.8" r="1.2" fill="#3a50ff" opacity="0.59"/>
<path d="M753.2 173.2 C752.5 173.9 751.7 174.5 750.8 174.4 C749.9 174.3 748.3 173.4 747.8 172.6 C747.3 171.8 747.5 170.6 747.9 169.7 C748.4 168.9 749.6 167.8 750.5 167.5 C751.3 167.1 752.3 167.1 753.0 167.6 C753.8 168.1 754.8 169.6 754.8 170.5 C754.9 171.4 753.8 172.6 753.2 173.2Z" fill="#c81c10" fill-opacity="0.43" stroke="#f02a16" stroke-opacity="0.43" stroke-width="1.1"/>
<circle cx="752.6" cy="172.2" r="1.2" fill="#3a50ff" opacity="0.30"/>
<path d="M760.8 172.5 C760.2 172.8 759.5 173.0 758.8 172.7 C758.2 172.4 757.0 171.4 756.8 170.5 C756.6 169.6 757.0 168.1 757.5 167.4 C758.0 166.8 759.1 166.5 759.8 166.6 C760.6 166.6 761.5 167.0 762.0 167.7 C762.4 168.4 762.6 170.0 762.5 170.8 C762.3 171.6 761.4 172.2 760.8 172.5Z" fill="#c81c10" fill-opacity="0.80" stroke="#f02a16" stroke-opacity="0.80" stroke-width="1.4"/>
<circle cx="759.4" cy="170.2" r="1.2" fill="#3a50ff" opacity="0.56"/>
<path d="M770.9 168.9 C770.7 170.0 769.9 171.4 769.2 172.1 C768.4 172.7 767.2 173.0 766.6 172.6 C766.1 172.3 765.9 171.0 765.8 170.0 C765.7 169.0 765.4 167.4 765.9 166.7 C766.4 165.9 767.9 165.6 768.7 165.4 C769.5 165.2 770.2 164.9 770.6 165.5 C770.9 166.1 771.2 167.8 770.9 168.9Z" fill="#c81c10" fill-opacity="0.56" stroke="#f02a16" stroke-opacity="0.56" stroke-width="1.3"/>
<circle cx="769.6" cy="168.1" r="1.2" fill="#3a50ff" opacity="0.39"/>
<path d="M781.3 173.4 C780.8 174.1 779.8 174.9 778.9 175.1 C777.9 175.3 776.4 175.3 775.7 174.7 C774.9 174.0 774.2 172.2 774.4 171.2 C774.7 170.2 776.1 169.2 777.0 168.6 C777.8 168.0 778.8 167.3 779.6 167.6 C780.4 167.9 781.5 169.6 781.7 170.6 C782.0 171.6 781.7 172.6 781.3 173.4Z" fill="#c81c10" fill-opacity="0.67" stroke="#f02a16" stroke-opacity="0.67" stroke-width="0.9"/>
<circle cx="779.5" cy="170.9" r="1.2" fill="#3a50ff" opacity="0.47"/>
<path d="M679.7 178.8 C679.3 179.4 678.5 180.5 677.6 180.6 C676.8 180.7 675.4 179.9 674.7 179.3 C674.1 178.6 673.9 177.4 673.9 176.6 C673.9 175.9 674.1 175.1 674.8 174.8 C675.4 174.4 677.0 174.3 677.9 174.7 C678.7 175.1 679.6 176.5 679.9 177.2 C680.2 177.9 680.1 178.2 679.7 178.8Z" fill="#c81c10" fill-opacity="0.69" stroke="#f02a16" stroke-opacity="0.69" stroke-width="1.3"/>
<circle cx="676.5" cy="176.3" r="1.2" fill="#3a50ff" opacity="0.48"/>
<path d="M683.9 180.7 C683.0 180.7 682.0 180.1 681.5 179.5 C680.9 178.9 680.3 177.6 680.6 176.8 C680.8 176.0 682.0 175.1 682.9 174.8 C683.7 174.5 684.9 174.5 685.7 174.8 C686.5 175.1 687.5 175.9 687.7 176.6 C688.0 177.4 687.9 178.6 687.3 179.2 C686.6 179.9 684.9 180.6 683.9 180.7Z" fill="#c81c10" fill-opacity="0.69" stroke="#f02a16" stroke-opacity="0.69" stroke-width="1.1"/>
<circle cx="683.6" cy="176.7" r="1.2" fill="#3a50ff" opacity="0.49"/>
<path d="M697.1 178.5 C696.9 179.4 696.0 180.6 695.3 181.0 C694.5 181.4 693.1 181.4 692.4 181.0 C691.7 180.7 691.2 179.7 691.0 178.8 C690.8 178.0 690.6 176.6 691.2 175.9 C691.7 175.2 693.2 174.5 694.1 174.5 C695.0 174.5 696.0 175.3 696.5 176.0 C697.0 176.6 697.3 177.7 697.1 178.5Z" fill="#c81c10" fill-opacity="0.77" stroke="#f02a16" stroke-opacity="0.77" stroke-width="1.0"/>
<circle cx="694.4" cy="176.9" r="1.2" fill="#3a50ff" opacity="0.54"/>
<path d="M701.7 180.6 C700.9 180.5 699.9 180.1 699.3 179.3 C698.8 178.6 698.1 177.0 698.3 176.2 C698.6 175.4 700.0 174.9 700.8 174.7 C701.6 174.5 702.5 174.8 703.1 175.2 C703.8 175.5 704.4 176.1 704.5 176.9 C704.7 177.7 704.4 179.4 703.9 180.0 C703.4 180.6 702.4 180.7 701.7 180.6Z" fill="#c81c10" fill-opacity="0.59" stroke="#f02a16" stroke-opacity="0.59" stroke-width="1.1"/>
<circle cx="701.7" cy="176.6" r="1.2" fill="#3a50ff" opacity="0.41"/>
<path d="M712.3 180.0 C711.7 180.4 710.7 180.2 710.0 179.7 C709.2 179.3 708.1 178.4 707.9 177.5 C707.7 176.6 708.4 175.3 708.8 174.5 C709.2 173.8 709.5 172.9 710.2 173.0 C710.9 173.0 712.3 173.9 712.9 174.7 C713.4 175.5 713.6 176.9 713.5 177.7 C713.4 178.6 712.9 179.7 712.3 180.0Z" fill="#c81c10" fill-opacity="0.65" stroke="#f02a16" stroke-opacity="0.65" stroke-width="1.3"/>
<circle cx="709.6" cy="177.3" r="1.2" fill="#3a50ff" opacity="0.46"/>
<path d="M715.8 178.9 C715.7 178.2 716.0 176.7 716.7 176.1 C717.3 175.4 718.8 175.2 719.6 175.2 C720.4 175.2 721.0 175.4 721.4 176.1 C721.9 176.7 722.6 178.3 722.3 179.1 C722.1 180.0 720.8 181.0 720.0 181.2 C719.1 181.5 718.0 180.9 717.4 180.5 C716.7 180.1 715.9 179.7 715.8 178.9Z" fill="#c81c10" fill-opacity="0.57" stroke="#f02a16" stroke-opacity="0.57" stroke-width="1.1"/>
<circle cx="718.8" cy="176.7" r="1.2" fill="#3a50ff" opacity="0.40"/>
<path d="M732.1 179.9 C731.8 180.7 731.4 181.9 730.4 182.0 C729.5 182.2 727.6 181.6 726.6 180.8 C725.6 180.1 724.7 178.4 724.6 177.4 C724.4 176.5 724.8 175.6 725.7 175.2 C726.6 174.8 728.6 174.7 729.8 175.0 C731.0 175.3 732.4 176.3 732.8 177.1 C733.2 178.0 732.5 179.1 732.1 179.9Z" fill="#c81c10" fill-opacity="0.57" stroke="#f02a16" stroke-opacity="0.57" stroke-width="1.0"/>
<circle cx="729.1" cy="177.0" r="1.2" fill="#3a50ff" opacity="0.40"/>
<path d="M733.6 178.3 C732.9 177.5 732.5 176.1 732.6 175.3 C732.7 174.5 733.6 174.0 734.4 173.6 C735.3 173.3 736.6 172.8 737.5 173.2 C738.4 173.6 739.8 175.1 740.1 176.0 C740.5 177.0 740.1 178.2 739.6 178.9 C739.0 179.6 737.8 180.3 736.8 180.2 C735.8 180.1 734.3 179.1 733.6 178.3Z" fill="#c81c10" fill-opacity="0.82" stroke="#f02a16" stroke-opacity="0.82" stroke-width="1.2"/>
<circle cx="735.7" cy="176.7" r="1.2" fill="#3a50ff" opacity="0.57"/>
<path d="M744.2 178.0 C744.2 177.0 745.0 176.2 745.8 175.6 C746.5 175.0 747.9 174.2 748.7 174.3 C749.5 174.4 750.4 175.3 750.8 176.2 C751.3 177.0 751.7 178.5 751.5 179.4 C751.2 180.2 750.2 181.0 749.2 181.3 C748.3 181.7 746.7 181.9 745.9 181.4 C745.0 180.8 744.2 178.9 744.2 178.0Z" fill="#c81c10" fill-opacity="0.63" stroke="#f02a16" stroke-opacity="0.63" stroke-width="1.3"/>
<circle cx="746.6" cy="178.5" r="1.2" fill="#3a50ff" opacity="0.44"/>
<path d="M756.1 181.4 C755.2 181.8 754.1 182.0 753.3 181.8 C752.6 181.5 751.9 180.5 751.8 179.7 C751.7 178.9 752.2 177.6 752.8 177.0 C753.5 176.4 754.9 176.3 755.7 176.2 C756.5 176.2 757.3 176.4 757.8 176.8 C758.2 177.3 758.9 178.2 758.6 179.0 C758.3 179.7 757.0 180.9 756.1 181.4Z" fill="#c81c10" fill-opacity="0.78" stroke="#f02a16" stroke-opacity="0.78" stroke-width="1.2"/>
<circle cx="755.1" cy="178.4" r="1.2" fill="#3a50ff" opacity="0.54"/>
<path d="M767.7 178.6 C767.2 179.5 766.6 180.6 765.7 180.6 C764.9 180.6 763.3 179.5 762.6 178.8 C762.0 178.1 761.5 177.2 761.7 176.4 C761.9 175.6 762.9 174.4 763.7 173.8 C764.6 173.3 766.0 172.9 766.8 173.2 C767.5 173.5 768.1 174.7 768.3 175.6 C768.4 176.5 768.1 177.8 767.7 178.6Z" fill="#c81c10" fill-opacity="0.41" stroke="#f02a16" stroke-opacity="0.41" stroke-width="1.4"/>
<circle cx="766.4" cy="176.8" r="1.2" fill="#3a50ff" opacity="0.29"/>
<path d="M772.6 182.9 C771.8 182.9 771.2 181.8 770.7 180.9 C770.1 180.1 769.3 178.7 769.3 177.6 C769.4 176.6 770.2 175.1 771.1 174.7 C772.0 174.2 773.8 174.4 774.6 174.9 C775.3 175.4 775.6 176.8 775.7 177.8 C775.8 178.8 775.7 180.0 775.2 180.9 C774.7 181.7 773.4 182.9 772.6 182.9Z" fill="#c81c10" fill-opacity="0.47" stroke="#f02a16" stroke-opacity="0.47" stroke-width="0.9"/>
<circle cx="773.3" cy="178.0" r="1.2" fill="#3a50ff" opacity="0.33"/>
<path d="M780.3 179.9 C779.9 179.3 780.6 178.3 781.0 177.5 C781.5 176.8 782.3 175.9 783.0 175.4 C783.7 175.0 784.9 174.7 785.4 175.0 C786.0 175.3 786.4 176.5 786.3 177.2 C786.2 178.0 785.5 179.0 785.0 179.6 C784.5 180.3 784.1 180.9 783.3 180.9 C782.5 180.9 780.7 180.4 780.3 179.9Z" fill="#c81c10" fill-opacity="0.73" stroke="#f02a16" stroke-opacity="0.73" stroke-width="1.3"/>
<circle cx="782.5" cy="178.6" r="1.2" fill="#3a50ff" opacity="0.51"/>
<path d="M669.5 188.7 C668.5 188.4 667.6 187.6 667.3 186.8 C667.0 186.0 667.3 184.7 667.8 183.9 C668.2 183.1 669.2 182.1 670.2 182.0 C671.2 181.9 673.0 182.7 673.7 183.5 C674.4 184.3 674.5 185.8 674.4 186.7 C674.3 187.6 673.8 188.6 672.9 188.9 C672.1 189.3 670.4 189.1 669.5 188.7Z" fill="#c81c10" fill-opacity="0.41" stroke="#f02a16" stroke-opacity="0.41" stroke-width="1.0"/>
<circle cx="669.8" cy="186.4" r="1.2" fill="#3a50ff" opacity="0.28"/>
<path d="M682.9 187.7 C682.2 188.1 681.3 188.5 680.4 188.1 C679.5 187.8 677.9 186.4 677.6 185.5 C677.2 184.6 677.7 183.4 678.3 182.7 C678.8 182.0 679.9 181.1 680.8 181.1 C681.7 181.1 683.1 181.6 683.8 182.5 C684.4 183.3 684.8 185.1 684.7 186.0 C684.5 186.9 683.6 187.4 682.9 187.7Z" fill="#c81c10" fill-opacity="0.57" stroke="#f02a16" stroke-opacity="0.57" stroke-width="1.3"/>
<circle cx="680.9" cy="184.9" r="1.2" fill="#3a50ff" opacity="0.40"/>
<path d="M690.3 188.2 C689.5 188.5 688.2 187.9 687.3 187.4 C686.5 187.0 685.4 186.2 685.3 185.4 C685.1 184.6 685.6 183.3 686.2 182.5 C686.8 181.7 687.8 180.7 688.8 180.7 C689.7 180.7 691.3 181.7 691.9 182.5 C692.5 183.3 692.5 184.6 692.2 185.6 C691.9 186.5 691.1 187.9 690.3 188.2Z" fill="#c81c10" fill-opacity="0.49" stroke="#f02a16" stroke-opacity="0.49" stroke-width="1.2"/>
<circle cx="689.2" cy="184.3" r="1.2" fill="#3a50ff" opacity="0.34"/>
<path d="M696.2 186.1 C695.9 185.6 695.9 184.3 696.3 183.4 C696.7 182.6 697.7 181.3 698.6 181.0 C699.4 180.7 700.7 181.2 701.3 181.6 C702.0 181.9 702.5 182.3 702.4 183.0 C702.3 183.7 701.4 185.3 700.7 185.9 C699.9 186.6 698.8 186.9 698.0 186.9 C697.3 187.0 696.5 186.7 696.2 186.1Z" fill="#c81c10" fill-opacity="0.85" stroke="#f02a16" stroke-opacity="0.85" stroke-width="1.2"/>
<circle cx="698.6" cy="185.4" r="1.2" fill="#3a50ff" opacity="0.59"/>
<path d="M703.0 187.7 C702.6 187.1 702.3 185.9 702.6 185.2 C703.0 184.4 704.3 183.4 705.2 183.0 C706.1 182.6 707.4 182.5 708.0 182.9 C708.6 183.3 708.8 184.6 708.7 185.4 C708.7 186.3 708.2 187.6 707.6 188.1 C707.1 188.6 706.2 188.6 705.4 188.5 C704.7 188.5 703.5 188.2 703.0 187.7Z" fill="#c81c10" fill-opacity="0.75" stroke="#f02a16" stroke-opacity="0.75" stroke-width="1.4"/>
<circle cx="705.4" cy="185.5" r="1.2" fill="#3a50ff" opacity="0.53"/>
<path d="M718.3 186.7 C717.6 187.1 716.2 186.8 715.4 186.6 C714.5 186.3 713.5 186.0 713.2 185.2 C712.9 184.4 713.1 182.4 713.5 181.7 C713.8 180.9 714.4 180.7 715.3 180.6 C716.1 180.6 717.8 180.9 718.6 181.5 C719.3 182.0 719.7 183.0 719.6 183.9 C719.6 184.8 719.0 186.2 718.3 186.7Z" fill="#c81c10" fill-opacity="0.82" stroke="#f02a16" stroke-opacity="0.82" stroke-width="1.1"/>
<circle cx="715.4" cy="185.2" r="1.2" fill="#3a50ff" opacity="0.57"/>
<path d="M723.7 187.0 C722.8 186.9 721.6 186.2 721.1 185.4 C720.7 184.7 720.7 183.1 721.0 182.4 C721.3 181.7 722.0 181.5 722.8 181.3 C723.7 181.1 725.3 180.8 726.2 181.2 C727.1 181.6 728.1 183.0 728.1 183.8 C728.2 184.6 727.3 185.4 726.6 186.0 C725.9 186.5 724.6 187.1 723.7 187.0Z" fill="#c81c10" fill-opacity="0.48" stroke="#f02a16" stroke-opacity="0.48" stroke-width="1.4"/>
<circle cx="723.4" cy="184.6" r="1.2" fill="#3a50ff" opacity="0.34"/>
<path d="M738.9 185.7 C738.8 184.9 738.8 184.0 739.3 183.5 C739.9 183.0 741.3 182.6 742.1 182.7 C742.9 182.8 743.8 183.4 744.2 184.0 C744.6 184.7 744.7 185.8 744.5 186.6 C744.3 187.4 744.0 188.5 743.2 188.7 C742.5 189.0 740.6 188.5 739.9 188.0 C739.2 187.5 739.0 186.4 738.9 185.7Z" fill="#c81c10" fill-opacity="0.46" stroke="#f02a16" stroke-opacity="0.46" stroke-width="1.1"/>
<circle cx="741.3" cy="184.7" r="1.2" fill="#3a50ff" opacity="0.32"/>
<path d="M748.8 185.5 C748.6 184.7 748.7 183.6 749.0 182.9 C749.3 182.2 750.1 181.4 750.8 181.4 C751.4 181.4 752.5 182.4 753.0 183.1 C753.4 183.8 753.6 184.6 753.5 185.4 C753.4 186.2 752.7 187.4 752.3 187.8 C751.8 188.2 751.2 188.1 750.6 187.7 C750.0 187.3 749.1 186.3 748.8 185.5Z" fill="#c81c10" fill-opacity="0.58" stroke="#f02a16" stroke-opacity="0.58" stroke-width="1.1"/>
<circle cx="751.2" cy="184.3" r="1.2" fill="#3a50ff" opacity="0.40"/>
<path d="M761.6 187.6 C760.9 188.2 759.0 188.7 758.0 188.5 C756.9 188.3 756.0 187.1 755.4 186.2 C754.8 185.4 754.2 184.0 754.4 183.2 C754.6 182.4 755.7 181.6 756.7 181.3 C757.7 181.1 759.4 181.3 760.2 181.9 C761.1 182.5 761.7 184.0 761.9 185.0 C762.1 185.9 762.2 187.0 761.6 187.6Z" fill="#c81c10" fill-opacity="0.77" stroke="#f02a16" stroke-opacity="0.77" stroke-width="1.1"/>
<circle cx="759.4" cy="185.5" r="1.2" fill="#3a50ff" opacity="0.54"/>
<path d="M774.5 185.4 C774.3 184.5 774.7 183.1 775.3 182.5 C776.0 181.9 777.6 181.7 778.5 181.8 C779.4 181.9 780.3 182.5 780.7 183.1 C781.2 183.6 781.4 184.5 781.2 185.2 C781.0 185.9 780.2 186.7 779.5 187.2 C778.7 187.6 777.5 187.9 776.7 187.6 C775.9 187.3 774.8 186.2 774.5 185.4Z" fill="#c81c10" fill-opacity="0.47" stroke="#f02a16" stroke-opacity="0.47" stroke-width="1.4"/>
<circle cx="777.8" cy="184.6" r="1.2" fill="#3a50ff" opacity="0.33"/>
<path d="M787.4 189.9 C786.7 190.1 785.9 189.7 785.2 189.1 C784.5 188.5 783.4 187.2 783.3 186.4 C783.2 185.6 784.2 184.8 784.8 184.3 C785.3 183.7 786.0 183.0 786.8 183.1 C787.5 183.3 788.9 184.6 789.3 185.4 C789.6 186.2 789.2 187.4 788.9 188.1 C788.5 188.9 788.0 189.8 787.4 189.9Z" fill="#c81c10" fill-opacity="0.48" stroke="#f02a16" stroke-opacity="0.48" stroke-width="1.0"/>
<circle cx="786.9" cy="187.9" r="1.2" fill="#3a50ff" opacity="0.34"/>
<path d="M675.0 196.5 C674.1 196.5 673.2 196.2 672.8 195.5 C672.3 194.8 671.9 193.3 672.2 192.5 C672.5 191.6 673.7 190.9 674.6 190.6 C675.5 190.3 676.7 190.3 677.5 190.7 C678.4 191.0 679.6 191.7 679.7 192.5 C679.8 193.3 679.0 194.9 678.2 195.6 C677.4 196.3 675.9 196.5 675.0 196.5Z" fill="#c81c10" fill-opacity="0.49" stroke="#f02a16" stroke-opacity="0.49" stroke-width="1.2"/>
<circle cx="676.9" cy="194.3" r="1.2" fill="#3a50ff" opacity="0.34"/>
<path d="M686.9 195.2 C686.4 195.8 685.9 196.8 685.0 196.8 C684.0 196.8 682.0 196.2 681.3 195.3 C680.6 194.5 680.4 192.8 680.7 191.9 C681.0 191.0 682.1 190.1 683.0 189.8 C683.9 189.6 685.2 189.9 686.0 190.4 C686.9 191.0 688.0 192.3 688.2 193.1 C688.3 193.9 687.5 194.6 686.9 195.2Z" fill="#c81c10" fill-opacity="0.70" stroke="#f02a16" stroke-opacity="0.70" stroke-width="1.1"/>
<circle cx="684.2" cy="193.7" r="1.2" fill="#3a50ff" opacity="0.49"/>
<path d="M689.5 192.5 C689.4 191.6 689.7 190.3 690.5 189.7 C691.2 189.1 693.1 188.8 694.1 188.9 C695.0 188.9 695.7 189.2 696.1 189.9 C696.4 190.7 696.6 192.4 696.3 193.3 C695.9 194.2 694.8 195.1 694.0 195.4 C693.1 195.6 691.8 195.2 691.1 194.8 C690.3 194.3 689.6 193.3 689.5 192.5Z" fill="#c81c10" fill-opacity="0.62" stroke="#f02a16" stroke-opacity="0.62" stroke-width="1.1"/>
<circle cx="692.2" cy="193.5" r="1.2" fill="#3a50ff" opacity="0.44"/>
<path d="M704.9 192.0 C704.7 192.8 704.5 194.0 703.8 194.5 C703.1 194.9 701.6 195.0 700.9 194.7 C700.2 194.3 699.9 193.5 699.8 192.6 C699.7 191.7 699.9 189.9 700.3 189.1 C700.8 188.3 701.7 188.0 702.4 188.1 C703.1 188.1 704.3 188.8 704.7 189.4 C705.2 190.1 705.1 191.1 704.9 192.0Z" fill="#c81c10" fill-opacity="0.51" stroke="#f02a16" stroke-opacity="0.51" stroke-width="1.2"/>
<circle cx="701.5" cy="191.9" r="1.2" fill="#3a50ff" opacity="0.36"/>
<path d="M710.7 196.1 C709.8 196.3 708.4 196.4 707.7 195.9 C706.9 195.5 706.3 194.3 706.3 193.5 C706.4 192.7 707.2 191.8 708.1 191.3 C709.0 190.9 710.9 190.7 711.9 190.9 C712.9 191.0 713.7 191.5 713.9 192.2 C714.1 192.8 713.6 194.0 713.0 194.7 C712.5 195.4 711.6 195.9 710.7 196.1Z" fill="#c81c10" fill-opacity="0.72" stroke="#f02a16" stroke-opacity="0.72" stroke-width="1.3"/>
<circle cx="710.6" cy="193.1" r="1.2" fill="#3a50ff" opacity="0.51"/>
<path d="M723.1 194.0 C723.1 194.8 722.3 196.0 721.3 196.5 C720.4 196.9 718.5 196.9 717.5 196.6 C716.6 196.3 715.9 195.4 715.6 194.5 C715.2 193.7 715.0 192.1 715.5 191.5 C716.0 190.9 717.7 190.9 718.6 190.9 C719.5 190.9 720.3 191.1 721.1 191.6 C721.8 192.1 723.1 193.2 723.1 194.0Z" fill="#c81c10" fill-opacity="0.57" stroke="#f02a16" stroke-opacity="0.57" stroke-width="1.0"/>
<circle cx="720.2" cy="192.3" r="1.2" fill="#3a50ff" opacity="0.40"/>
<path d="M731.2 195.2 C730.8 195.8 730.1 196.3 729.4 196.2 C728.8 196.0 727.6 195.1 727.1 194.4 C726.6 193.7 726.1 192.6 726.2 191.9 C726.3 191.1 727.2 190.2 727.8 189.9 C728.4 189.6 729.3 189.7 730.0 190.2 C730.6 190.6 731.5 191.8 731.7 192.6 C732.0 193.5 731.6 194.6 731.2 195.2Z" fill="#c81c10" fill-opacity="0.78" stroke="#f02a16" stroke-opacity="0.78" stroke-width="1.4"/>
<circle cx="730.6" cy="194.4" r="1.2" fill="#3a50ff" opacity="0.55"/>
<path d="M739.6 195.0 C739.1 195.6 738.2 195.7 737.3 195.6 C736.5 195.5 734.9 194.7 734.5 194.1 C734.0 193.5 734.2 192.7 734.6 192.0 C735.0 191.3 736.0 190.2 736.8 189.9 C737.6 189.6 738.8 189.7 739.4 190.1 C740.0 190.5 740.1 191.4 740.2 192.2 C740.2 193.0 740.1 194.4 739.6 195.0Z" fill="#c81c10" fill-opacity="0.69" stroke="#f02a16" stroke-opacity="0.69" stroke-width="1.3"/>
<circle cx="737.0" cy="191.5" r="1.2" fill="#3a50ff" opacity="0.48"/>
<path d="M745.6 192.7 C745.2 191.9 744.9 190.7 745.1 190.1 C745.3 189.5 746.1 189.2 746.8 189.0 C747.5 188.8 748.8 188.7 749.5 189.2 C750.2 189.6 750.7 190.7 750.8 191.6 C750.9 192.4 750.4 193.9 749.9 194.4 C749.4 194.9 748.3 195.1 747.5 194.8 C746.8 194.6 746.0 193.5 745.6 192.7Z" fill="#c81c10" fill-opacity="0.50" stroke="#f02a16" stroke-opacity="0.50" stroke-width="1.4"/>
<circle cx="747.2" cy="192.9" r="1.2" fill="#3a50ff" opacity="0.35"/>
<path d="M752.8 195.4 C752.1 194.9 751.6 193.5 751.5 192.5 C751.3 191.6 751.4 190.3 752.1 189.6 C752.9 188.9 754.9 188.3 755.8 188.5 C756.8 188.7 757.5 189.8 757.8 190.6 C758.1 191.5 758.0 192.7 757.7 193.6 C757.3 194.5 756.8 195.6 756.0 195.9 C755.2 196.2 753.6 196.0 752.8 195.4Z" fill="#c81c10" fill-opacity="0.43" stroke="#f02a16" stroke-opacity="0.43" stroke-width="1.3"/>
<circle cx="754.2" cy="190.9" r="1.2" fill="#3a50ff" opacity="0.30"/>
<path d="M766.3 192.6 C766.0 193.3 765.4 194.1 764.6 194.4 C763.7 194.8 762.1 195.0 761.3 194.7 C760.4 194.3 759.7 193.1 759.4 192.4 C759.2 191.6 759.3 190.6 759.8 189.9 C760.4 189.3 761.6 188.5 762.6 188.5 C763.6 188.5 765.2 189.3 765.9 189.9 C766.5 190.6 766.5 191.8 766.3 192.6Z" fill="#c81c10" fill-opacity="0.43" stroke="#f02a16" stroke-opacity="0.43" stroke-width="0.9"/>
<circle cx="763.9" cy="191.6" r="1.2" fill="#3a50ff" opacity="0.30"/>
<path d="M771.0 195.6 C770.4 195.0 769.5 194.2 769.6 193.4 C769.7 192.6 770.9 191.3 771.5 191.0 C772.2 190.7 772.8 190.9 773.5 191.4 C774.2 191.8 775.3 192.9 775.7 193.7 C776.1 194.4 776.5 195.4 776.1 196.0 C775.6 196.5 774.0 196.9 773.2 196.9 C772.3 196.8 771.6 196.2 771.0 195.6Z" fill="#c81c10" fill-opacity="0.62" stroke="#f02a16" stroke-opacity="0.62" stroke-width="1.3"/>
<circle cx="774.3" cy="192.7" r="1.2" fill="#3a50ff" opacity="0.43"/>
<path d="M782.5 195.7 C781.7 196.3 780.2 197.0 779.3 196.8 C778.4 196.7 777.6 195.5 777.3 194.6 C776.9 193.6 776.7 192.0 777.2 191.0 C777.7 190.0 779.3 188.9 780.3 188.7 C781.2 188.5 782.5 189.1 783.1 189.9 C783.8 190.6 784.4 192.1 784.3 193.1 C784.2 194.1 783.4 195.1 782.5 195.7Z" fill="#c81c10" fill-opacity="0.51" stroke="#f02a16" stroke-opacity="0.51" stroke-width="1.0"/>
<circle cx="780.4" cy="192.8" r="1.2" fill="#3a50ff" opacity="0.35"/>
<path d="M671.2 203.1 C670.5 202.8 670.5 201.9 670.4 201.0 C670.3 200.1 670.1 198.6 670.5 197.9 C670.9 197.2 671.9 196.9 672.7 196.9 C673.5 196.9 674.5 197.3 675.0 197.9 C675.5 198.6 676.1 200.0 676.0 200.8 C675.9 201.6 675.2 202.4 674.4 202.8 C673.7 203.2 671.9 203.4 671.2 203.1Z" fill="#c81c10" fill-opacity="0.60" stroke="#f02a16" stroke-opacity="0.60" stroke-width="1.1"/>
<circle cx="672.1" cy="198.8" r="1.2" fill="#3a50ff" opacity="0.42"/>
<path d="M677.8 201.0 C677.3 200.0 677.4 198.5 677.8 197.6 C678.1 196.6 678.9 195.4 679.7 195.2 C680.5 195.0 681.7 195.8 682.6 196.4 C683.4 197.0 684.6 198.0 684.7 199.0 C684.8 199.9 683.9 201.5 683.2 202.3 C682.6 203.0 681.5 203.6 680.6 203.4 C679.7 203.2 678.3 201.9 677.8 201.0Z" fill="#c81c10" fill-opacity="0.72" stroke="#f02a16" stroke-opacity="0.72" stroke-width="1.1"/>
<circle cx="682.3" cy="198.3" r="1.2" fill="#3a50ff" opacity="0.51"/>
<path d="M686.2 203.4 C685.8 202.9 686.1 201.9 686.3 201.2 C686.5 200.5 686.7 199.7 687.3 199.3 C688.0 198.9 689.5 198.6 690.2 198.8 C691.0 199.1 691.8 200.0 691.8 200.7 C691.9 201.4 691.3 202.6 690.8 203.2 C690.2 203.7 689.3 204.2 688.5 204.3 C687.7 204.3 686.6 204.0 686.2 203.4Z" fill="#c81c10" fill-opacity="0.64" stroke="#f02a16" stroke-opacity="0.64" stroke-width="1.0"/>
<circle cx="687.3" cy="202.0" r="1.2" fill="#3a50ff" opacity="0.45"/>
<path d="M707.3 202.5 C706.5 202.4 705.8 201.3 705.4 200.7 C705.0 200.0 704.8 199.2 705.1 198.6 C705.3 197.9 706.1 197.1 706.8 196.9 C707.6 196.6 709.0 196.8 709.8 197.2 C710.6 197.5 711.3 198.2 711.4 199.0 C711.5 199.7 711.1 200.9 710.4 201.5 C709.7 202.1 708.2 202.6 707.3 202.5Z" fill="#c81c10" fill-opacity="0.41" stroke="#f02a16" stroke-opacity="0.41" stroke-width="1.3"/>
<circle cx="709.2" cy="200.1" r="1.2" fill="#3a50ff" opacity="0.28"/>
<path d="M719.8 202.1 C719.6 203.0 718.8 204.6 718.0 205.1 C717.2 205.5 715.9 205.3 715.0 204.8 C714.2 204.3 713.1 202.9 712.9 202.2 C712.6 201.4 713.0 201.0 713.5 200.4 C714.1 199.8 715.1 198.7 716.0 198.6 C717.0 198.5 718.6 199.1 719.2 199.6 C719.8 200.2 720.0 201.2 719.8 202.1Z" fill="#c81c10" fill-opacity="0.52" stroke="#f02a16" stroke-opacity="0.52" stroke-width="1.3"/>
<circle cx="715.2" cy="202.7" r="1.2" fill="#3a50ff" opacity="0.36"/>
<path d="M729.9 200.1 C729.7 200.8 728.4 202.1 727.7 202.7 C727.0 203.3 726.4 203.7 725.6 203.6 C724.7 203.4 723.0 202.6 722.6 201.8 C722.2 201.1 722.5 199.7 723.0 199.0 C723.6 198.3 724.8 197.6 725.7 197.5 C726.6 197.4 727.9 197.9 728.6 198.3 C729.3 198.8 730.0 199.3 729.9 200.1Z" fill="#c81c10" fill-opacity="0.47" stroke="#f02a16" stroke-opacity="0.47" stroke-width="1.0"/>
<circle cx="726.8" cy="201.3" r="1.2" fill="#3a50ff" opacity="0.33"/>
<path d="M735.2 204.3 C734.3 204.6 733.0 204.4 732.1 204.1 C731.2 203.7 730.0 202.7 729.9 201.9 C729.9 201.1 730.9 199.8 731.8 199.3 C732.7 198.7 734.4 198.6 735.4 198.7 C736.4 198.7 737.6 199.1 737.9 199.6 C738.2 200.2 737.6 201.2 737.2 202.0 C736.7 202.8 736.0 204.0 735.2 204.3Z" fill="#c81c10" fill-opacity="0.82" stroke="#f02a16" stroke-opacity="0.82" stroke-width="1.2"/>
<circle cx="733.3" cy="202.8" r="1.2" fill="#3a50ff" opacity="0.57"/>
<path d="M739.2 201.5 C738.5 200.6 737.3 198.9 737.2 197.9 C737.1 196.9 737.6 195.9 738.5 195.6 C739.3 195.3 741.1 195.5 742.2 196.1 C743.2 196.7 744.5 198.4 744.9 199.2 C745.2 200.1 744.8 200.6 744.3 201.2 C743.7 201.9 742.6 203.2 741.8 203.2 C741.0 203.3 740.0 202.4 739.2 201.5Z" fill="#c81c10" fill-opacity="0.59" stroke="#f02a16" stroke-opacity="0.59" stroke-width="1.0"/>
<circle cx="740.0" cy="200.4" r="1.2" fill="#3a50ff" opacity="0.42"/>
<path d="M750.7 203.7 C749.8 203.4 749.5 202.1 749.2 201.4 C749.0 200.6 748.7 199.6 749.1 198.9 C749.6 198.3 751.2 197.6 752.1 197.5 C753.0 197.4 754.2 197.9 754.7 198.6 C755.3 199.3 755.5 200.8 755.4 201.6 C755.3 202.4 755.0 202.9 754.2 203.2 C753.4 203.6 751.5 204.0 750.7 203.7Z" fill="#c81c10" fill-opacity="0.47" stroke="#f02a16" stroke-opacity="0.47" stroke-width="1.0"/>
<circle cx="751.4" cy="201.8" r="1.2" fill="#3a50ff" opacity="0.33"/>
<path d="M758.1 200.5 C758.0 199.8 758.0 198.8 758.6 198.1 C759.3 197.5 761.1 196.6 762.1 196.6 C763.1 196.5 764.2 197.0 764.7 197.7 C765.1 198.3 765.2 199.3 764.9 200.2 C764.6 201.0 763.6 202.4 762.7 202.8 C761.8 203.2 760.3 202.9 759.6 202.5 C758.8 202.2 758.3 201.3 758.1 200.5Z" fill="#c81c10" fill-opacity="0.46" stroke="#f02a16" stroke-opacity="0.46" stroke-width="1.1"/>
<circle cx="760.1" cy="199.9" r="1.2" fill="#3a50ff" opacity="0.32"/>
<path d="M764.9 200.8 C764.4 200.0 764.0 198.3 764.3 197.6 C764.6 196.9 766.0 196.7 766.8 196.5 C767.6 196.3 768.5 195.9 769.1 196.3 C769.8 196.7 770.6 198.1 770.7 198.9 C770.8 199.6 770.0 200.4 769.5 201.0 C768.9 201.6 768.2 202.3 767.4 202.2 C766.7 202.2 765.4 201.6 764.9 200.8Z" fill="#c81c10" fill-opacity="0.78" stroke="#f02a16" stroke-opacity="0.78" stroke-width="1.1"/>
<circle cx="768.1" cy="200.1" r="1.2" fill="#3a50ff" opacity="0.55"/>
<path d="M775.1 203.7 C774.2 203.1 773.1 202.3 772.9 201.4 C772.6 200.6 772.8 199.1 773.5 198.6 C774.2 198.0 775.8 198.0 776.9 198.2 C778.0 198.4 779.5 199.0 780.0 199.7 C780.5 200.5 780.2 201.8 779.9 202.7 C779.7 203.5 779.1 204.7 778.3 204.9 C777.5 205.0 776.0 204.3 775.1 203.7Z" fill="#c81c10" fill-opacity="0.58" stroke="#f02a16" stroke-opacity="0.58" stroke-width="1.0"/>
<circle cx="776.3" cy="202.4" r="1.2" fill="#3a50ff" opacity="0.41"/>
<path d="M789.5 204.3 C788.6 204.7 787.3 204.9 786.4 204.6 C785.5 204.3 784.3 203.5 784.0 202.7 C783.8 201.8 784.4 200.2 785.0 199.4 C785.7 198.7 786.8 198.1 787.7 198.2 C788.7 198.3 790.3 199.1 790.9 199.8 C791.5 200.5 791.5 201.5 791.3 202.3 C791.0 203.0 790.3 204.0 789.5 204.3Z" fill="#c81c10" fill-opacity="0.72" stroke="#f02a16" stroke-opacity="0.72" stroke-width="1.0"/>
<circle cx="788.1" cy="202.3" r="1.2" fill="#3a50ff" opacity="0.50"/>
<path d="M673.9 209.7 C673.8 208.9 673.5 207.6 674.0 206.9 C674.5 206.2 676.2 205.6 677.2 205.7 C678.1 205.8 679.0 206.6 679.6 207.3 C680.1 208.0 680.5 209.1 680.2 209.9 C679.9 210.8 678.7 212.1 677.8 212.4 C676.9 212.8 675.4 212.4 674.8 212.0 C674.1 211.5 674.0 210.6 673.9 209.7Z" fill="#c81c10" fill-opacity="0.33" stroke="#f02a16" stroke-opacity="0.33" stroke-width="1.2"/>
<circle cx="675.7" cy="210.4" r="1.2" fill="#3a50ff" opacity="0.23"/>
<path d="M696.3 209.8 C696.3 210.4 695.6 211.3 695.0 211.7 C694.3 212.1 692.9 212.5 692.2 212.3 C691.6 212.1 691.2 211.2 690.9 210.6 C690.6 209.9 690.3 209.0 690.6 208.3 C690.9 207.7 692.0 206.8 692.8 206.7 C693.5 206.6 694.6 207.1 695.2 207.6 C695.8 208.1 696.3 209.1 696.3 209.8Z" fill="#c81c10" fill-opacity="0.74" stroke="#f02a16" stroke-opacity="0.74" stroke-width="1.3"/>
<circle cx="694.4" cy="211.1" r="1.2" fill="#3a50ff" opacity="0.52"/>
<path d="M699.3 210.5 C698.7 209.8 698.4 208.8 698.5 208.0 C698.6 207.3 699.1 206.2 699.9 205.9 C700.7 205.5 702.3 205.6 703.2 206.1 C704.1 206.5 704.8 207.5 705.0 208.5 C705.3 209.4 705.3 210.9 704.9 211.6 C704.4 212.3 703.3 212.9 702.3 212.7 C701.4 212.5 699.9 211.3 699.3 210.5Z" fill="#c81c10" fill-opacity="0.70" stroke="#f02a16" stroke-opacity="0.70" stroke-width="1.1"/>
<circle cx="700.8" cy="207.7" r="1.2" fill="#3a50ff" opacity="0.49"/>
<path d="M707.4 208.9 C706.8 208.2 706.5 206.5 706.6 205.6 C706.7 204.7 707.4 203.9 708.2 203.6 C709.1 203.3 710.9 203.3 711.7 203.7 C712.6 204.1 713.1 205.2 713.3 205.9 C713.5 206.7 713.6 207.5 713.1 208.2 C712.7 209.0 711.6 210.1 710.6 210.3 C709.7 210.4 708.1 209.7 707.4 208.9Z" fill="#c81c10" fill-opacity="0.70" stroke="#f02a16" stroke-opacity="0.70" stroke-width="1.1"/>
<circle cx="711.0" cy="207.1" r="1.2" fill="#3a50ff" opacity="0.49"/>
<path d="M716.6 210.4 C716.3 209.7 716.3 208.6 716.8 207.9 C717.2 207.3 718.4 206.5 719.4 206.4 C720.4 206.3 722.1 206.8 722.8 207.4 C723.5 208.1 723.9 209.5 723.6 210.4 C723.3 211.2 722.1 212.2 721.2 212.6 C720.4 212.9 719.4 212.8 718.7 212.4 C717.9 212.1 716.9 211.2 716.6 210.4Z" fill="#c81c10" fill-opacity="0.88" stroke="#f02a16" stroke-opacity="0.88" stroke-width="0.9"/>
<circle cx="720.4" cy="210.9" r="1.2" fill="#3a50ff" opacity="0.62"/>
<path d="M727.6 210.1 C727.5 209.3 727.5 207.8 728.0 207.2 C728.4 206.5 729.5 206.0 730.3 206.1 C731.1 206.2 732.1 207.0 732.7 207.5 C733.2 208.1 733.9 208.7 733.7 209.4 C733.5 210.1 732.4 211.2 731.5 211.6 C730.7 212.1 729.3 212.4 728.6 212.2 C728.0 211.9 727.7 211.0 727.6 210.1Z" fill="#c81c10" fill-opacity="0.55" stroke="#f02a16" stroke-opacity="0.55" stroke-width="1.3"/>
<circle cx="730.5" cy="208.7" r="1.2" fill="#3a50ff" opacity="0.38"/>
<path d="M738.4 212.7 C737.6 212.5 737.1 211.1 736.9 210.3 C736.6 209.5 736.7 208.8 737.1 207.9 C737.4 207.1 738.4 205.5 739.1 205.2 C739.8 204.8 740.8 205.2 741.3 205.9 C741.9 206.5 742.4 208.2 742.4 209.2 C742.4 210.2 742.1 211.2 741.4 211.7 C740.8 212.3 739.1 212.9 738.4 212.7Z" fill="#c81c10" fill-opacity="0.77" stroke="#f02a16" stroke-opacity="0.77" stroke-width="1.3"/>
<circle cx="739.2" cy="207.5" r="1.2" fill="#3a50ff" opacity="0.54"/>
<path d="M746.6 211.4 C745.8 211.6 744.9 211.7 744.3 211.1 C743.7 210.6 743.1 209.2 743.1 208.3 C743.0 207.3 743.6 206.1 744.2 205.4 C744.7 204.6 745.7 203.5 746.4 203.7 C747.1 203.9 748.0 205.6 748.4 206.6 C748.8 207.6 749.0 209.0 748.7 209.9 C748.4 210.7 747.3 211.2 746.6 211.4Z" fill="#c81c10" fill-opacity="0.57" stroke="#f02a16" stroke-opacity="0.57" stroke-width="0.9"/>
<circle cx="745.9" cy="209.1" r="1.2" fill="#3a50ff" opacity="0.40"/>
<path d="M755.6 210.5 C754.5 210.5 752.6 209.8 752.0 209.0 C751.3 208.2 751.3 206.7 751.7 205.9 C752.0 205.0 753.0 204.3 753.9 204.0 C754.9 203.7 756.5 203.6 757.4 204.1 C758.4 204.6 759.3 205.9 759.5 206.8 C759.7 207.6 759.2 208.4 758.5 209.1 C757.9 209.7 756.7 210.5 755.6 210.5Z" fill="#c81c10" fill-opacity="0.49" stroke="#f02a16" stroke-opacity="0.49" stroke-width="1.0"/>
<circle cx="754.9" cy="206.8" r="1.2" fill="#3a50ff" opacity="0.35"/>
<path d="M764.6 210.0 C763.8 209.9 762.2 209.9 761.7 209.4 C761.2 208.8 761.3 207.5 761.5 206.7 C761.7 205.8 762.2 204.7 762.8 204.2 C763.5 203.7 764.7 203.4 765.5 203.7 C766.4 204.1 767.6 205.3 767.8 206.3 C768.0 207.4 767.4 209.2 766.8 209.8 C766.3 210.5 765.5 210.1 764.6 210.0Z" fill="#c81c10" fill-opacity="0.84" stroke="#f02a16" stroke-opacity="0.84" stroke-width="1.0"/>
<circle cx="763.1" cy="208.2" r="1.2" fill="#3a50ff" opacity="0.59"/>
<path d="M775.7 209.1 C775.7 209.9 775.3 211.2 774.5 211.6 C773.7 212.0 771.8 211.9 770.8 211.7 C769.9 211.6 769.2 211.4 768.7 210.6 C768.3 209.9 767.8 208.0 768.2 207.3 C768.7 206.6 770.4 206.5 771.4 206.4 C772.4 206.3 773.5 206.4 774.2 206.8 C774.9 207.3 775.6 208.3 775.7 209.1Z" fill="#c81c10" fill-opacity="0.63" stroke="#f02a16" stroke-opacity="0.63" stroke-width="1.1"/>
<circle cx="771.6" cy="208.6" r="1.2" fill="#3a50ff" opacity="0.44"/>
<path d="M783.4 210.0 C783.0 210.6 782.3 211.0 781.6 211.0 C780.8 211.0 779.4 210.6 778.7 210.0 C778.0 209.3 777.4 208.0 777.4 207.4 C777.4 206.7 777.8 206.2 778.6 205.9 C779.3 205.7 781.0 205.5 781.9 205.8 C782.8 206.0 783.5 206.6 783.8 207.3 C784.0 208.0 783.8 209.4 783.4 210.0Z" fill="#c81c10" fill-opacity="0.82" stroke="#f02a16" stroke-opacity="0.82" stroke-width="1.2"/>
<circle cx="780.5" cy="209.7" r="1.2" fill="#3a50ff" opacity="0.57"/>
<path d="M675.5 217.3 C675.0 218.1 674.3 218.9 673.5 219.0 C672.8 219.1 671.7 218.4 671.1 217.8 C670.5 217.2 669.9 216.1 670.0 215.4 C670.1 214.8 670.8 214.2 671.6 213.7 C672.4 213.1 674.0 212.1 674.8 212.2 C675.6 212.3 676.2 213.4 676.4 214.3 C676.5 215.1 676.0 216.5 675.5 217.3Z" fill="#c81c10" fill-opacity="0.33" stroke="#f02a16" stroke-opacity="0.33" stroke-width="1.3"/>
<circle cx="671.9" cy="215.7" r="1.2" fill="#3a50ff" opacity="0.23"/>
<path d="M684.5 215.9 C684.1 216.6 683.0 217.8 682.2 218.0 C681.4 218.2 680.2 217.7 679.6 217.2 C679.0 216.7 678.7 215.8 678.7 215.0 C678.8 214.3 679.4 213.3 680.0 212.6 C680.6 211.9 681.5 210.6 682.2 210.8 C683.0 210.9 684.3 212.5 684.6 213.3 C685.0 214.2 684.9 215.1 684.5 215.9Z" fill="#c81c10" fill-opacity="0.41" stroke="#f02a16" stroke-opacity="0.41" stroke-width="1.0"/>
<circle cx="683.3" cy="214.2" r="1.2" fill="#3a50ff" opacity="0.29"/>
<path d="M691.3 218.3 C690.3 218.6 689.0 218.7 688.0 218.3 C687.1 218.0 685.8 217.0 685.8 216.3 C685.7 215.5 686.8 214.4 687.7 213.6 C688.7 212.9 690.7 212.0 691.6 212.0 C692.6 212.1 692.8 213.2 693.2 214.0 C693.7 214.8 694.5 215.9 694.1 216.7 C693.8 217.4 692.4 218.0 691.3 218.3Z" fill="#c81c10" fill-opacity="0.71" stroke="#f02a16" stroke-opacity="0.71" stroke-width="1.1"/>
<circle cx="690.3" cy="214.1" r="1.2" fill="#3a50ff" opacity="0.50"/>
<path d="M696.8 220.4 C695.8 220.3 694.5 219.5 694.0 218.9 C693.4 218.2 693.1 217.5 693.3 216.6 C693.5 215.7 694.1 214.1 695.0 213.6 C695.9 213.0 697.7 212.9 698.6 213.3 C699.5 213.7 700.3 214.7 700.4 215.8 C700.6 216.8 700.1 218.8 699.5 219.5 C698.9 220.3 697.7 220.5 696.8 220.4Z" fill="#c81c10" fill-opacity="0.50" stroke="#f02a16" stroke-opacity="0.50" stroke-width="1.4"/>
<circle cx="695.4" cy="216.7" r="1.2" fill="#3a50ff" opacity="0.35"/>
<path d="M705.8 215.4 C705.4 214.6 705.3 213.3 705.7 212.6 C706.0 212.0 707.2 211.8 707.9 211.7 C708.6 211.5 709.3 211.1 709.8 211.7 C710.3 212.3 711.1 214.5 711.1 215.4 C711.2 216.3 710.4 216.8 709.9 217.2 C709.3 217.6 708.6 217.9 707.9 217.6 C707.2 217.3 706.2 216.2 705.8 215.4Z" fill="#c81c10" fill-opacity="0.86" stroke="#f02a16" stroke-opacity="0.86" stroke-width="1.0"/>
<circle cx="707.4" cy="214.6" r="1.2" fill="#3a50ff" opacity="0.60"/>
<path d="M718.9 218.7 C718.5 219.3 717.5 219.5 716.7 219.7 C715.9 219.8 714.6 220.0 713.9 219.6 C713.3 219.2 712.6 218.0 712.7 217.2 C712.7 216.3 713.7 215.0 714.3 214.6 C715.0 214.1 715.5 214.0 716.3 214.3 C717.0 214.6 718.5 215.4 719.0 216.1 C719.4 216.9 719.2 218.1 718.9 218.7Z" fill="#c81c10" fill-opacity="0.83" stroke="#f02a16" stroke-opacity="0.83" stroke-width="0.9"/>
<circle cx="716.3" cy="216.0" r="1.2" fill="#3a50ff" opacity="0.58"/>
<path d="M726.0 218.5 C725.4 218.9 724.4 219.3 723.7 219.0 C723.1 218.7 722.3 217.6 722.1 216.8 C721.9 215.9 722.3 214.4 722.7 213.8 C723.1 213.2 723.7 213.0 724.5 213.1 C725.3 213.2 726.7 214.1 727.2 214.6 C727.7 215.2 727.9 215.8 727.7 216.4 C727.5 217.1 726.7 218.1 726.0 218.5Z" fill="#c81c10" fill-opacity="0.58" stroke="#f02a16" stroke-opacity="0.58" stroke-width="1.3"/>
<circle cx="725.1" cy="215.9" r="1.2" fill="#3a50ff" opacity="0.41"/>
<path d="M735.6 216.0 C734.9 216.5 733.8 217.4 732.9 217.4 C732.1 217.4 731.0 216.6 730.6 215.9 C730.2 215.2 730.1 214.1 730.5 213.4 C730.9 212.6 732.2 211.5 733.1 211.2 C734.1 211.0 735.7 211.1 736.3 211.6 C736.9 212.2 736.8 213.7 736.7 214.4 C736.6 215.1 736.2 215.5 735.6 216.0Z" fill="#c81c10" fill-opacity="0.51" stroke="#f02a16" stroke-opacity="0.51" stroke-width="1.1"/>
<circle cx="733.6" cy="214.7" r="1.2" fill="#3a50ff" opacity="0.36"/>
<path d="M743.8 218.6 C743.1 218.6 741.7 218.1 741.2 217.4 C740.7 216.7 740.6 215.4 740.6 214.5 C740.7 213.6 740.9 212.7 741.5 212.2 C742.1 211.8 743.5 211.7 744.2 212.0 C745.0 212.4 745.9 213.5 746.1 214.4 C746.3 215.3 745.6 216.5 745.3 217.2 C744.9 217.9 744.5 218.6 743.8 218.6Z" fill="#c81c10" fill-opacity="0.50" stroke="#f02a16" stroke-opacity="0.50" stroke-width="1.3"/>
<circle cx="743.1" cy="214.9" r="1.2" fill="#3a50ff" opacity="0.35"/>
<path d="M772.0 219.1 C771.5 219.6 770.1 219.7 769.5 219.6 C768.8 219.5 768.5 219.2 768.1 218.6 C767.8 218.1 767.4 217.0 767.5 216.3 C767.6 215.6 768.1 214.8 768.7 214.4 C769.4 214.1 770.9 213.9 771.6 214.3 C772.2 214.7 772.7 216.1 772.7 217.0 C772.8 217.8 772.6 218.7 772.0 219.1Z" fill="#c81c10" fill-opacity="0.60" stroke="#f02a16" stroke-opacity="0.60" stroke-width="1.3"/>
<circle cx="769.8" cy="218.3" r="1.2" fill="#3a50ff" opacity="0.42"/>
<path d="M776.0 219.9 C775.3 219.5 775.5 217.9 775.6 217.0 C775.6 216.0 775.8 215.0 776.4 214.2 C777.1 213.4 778.8 212.3 779.6 212.3 C780.5 212.4 781.3 213.6 781.7 214.4 C782.1 215.1 782.3 216.2 781.9 217.0 C781.5 217.9 780.3 218.9 779.3 219.4 C778.3 219.8 776.6 220.3 776.0 219.9Z" fill="#c81c10" fill-opacity="0.88" stroke="#f02a16" stroke-opacity="0.88" stroke-width="1.2"/>
<circle cx="779.6" cy="217.6" r="1.2" fill="#3a50ff" opacity="0.62"/>
<path d="M784.3 218.3 C783.5 217.6 782.8 216.6 783.0 215.8 C783.2 214.9 784.4 213.7 785.3 213.2 C786.2 212.7 787.5 212.5 788.3 212.8 C789.1 213.2 789.7 214.2 790.1 215.1 C790.4 216.0 791.0 217.4 790.5 218.2 C790.1 218.9 788.4 219.5 787.3 219.5 C786.3 219.5 785.0 218.9 784.3 218.3Z" fill="#c81c10" fill-opacity="0.48" stroke="#f02a16" stroke-opacity="0.48" stroke-width="1.1"/>
<circle cx="786.0" cy="217.3" r="1.2" fill="#3a50ff" opacity="0.34"/>
<path d="M673.4 225.9 C672.7 225.4 672.0 224.2 671.9 223.5 C671.8 222.8 672.2 222.0 672.8 221.6 C673.4 221.2 674.3 220.8 675.2 221.1 C676.1 221.3 677.6 222.3 678.1 223.0 C678.6 223.7 678.4 224.6 678.1 225.2 C677.8 225.8 676.9 226.5 676.2 226.6 C675.4 226.7 674.1 226.4 673.4 225.9Z" fill="#c81c10" fill-opacity="0.39" stroke="#f02a16" stroke-opacity="0.39" stroke-width="1.4"/>
<circle cx="674.3" cy="224.0" r="1.2" fill="#3a50ff" opacity="0.27"/>
<path d="M682.4 226.5 C681.5 226.2 680.8 225.7 680.5 225.0 C680.1 224.3 679.9 222.9 680.4 222.2 C680.9 221.5 682.7 220.9 683.6 220.8 C684.4 220.7 685.0 221.1 685.6 221.7 C686.2 222.2 687.1 223.3 687.2 224.2 C687.3 225.1 686.7 226.5 685.9 226.9 C685.1 227.3 683.3 226.8 682.4 226.5Z" fill="#c81c10" fill-opacity="0.37" stroke="#f02a16" stroke-opacity="0.37" stroke-width="0.9"/>
<circle cx="683.9" cy="224.8" r="1.2" fill="#3a50ff" opacity="0.26"/>
<path d="M691.7 227.4 C691.1 227.0 691.0 225.8 691.0 225.0 C691.0 224.1 691.3 223.0 691.8 222.3 C692.4 221.5 693.7 220.4 694.5 220.5 C695.3 220.6 696.3 221.9 696.7 222.8 C697.1 223.6 697.3 224.9 697.0 225.7 C696.6 226.4 695.5 227.1 694.7 227.4 C693.8 227.7 692.3 227.8 691.7 227.4Z" fill="#c81c10" fill-opacity="0.67" stroke="#f02a16" stroke-opacity="0.67" stroke-width="1.0"/>
<circle cx="693.5" cy="223.5" r="1.2" fill="#3a50ff" opacity="0.47"/>
<path d="M702.0 227.3 C700.8 227.1 699.5 226.3 698.7 225.6 C698.0 225.0 697.0 224.3 697.4 223.6 C697.8 222.9 699.8 221.8 701.0 221.6 C702.2 221.3 703.8 221.8 704.6 222.1 C705.5 222.5 705.9 222.8 706.2 223.5 C706.4 224.2 706.8 225.9 706.1 226.5 C705.4 227.1 703.2 227.4 702.0 227.3Z" fill="#c81c10" fill-opacity="0.60" stroke="#f02a16" stroke-opacity="0.60" stroke-width="0.9"/>
<circle cx="702.7" cy="224.2" r="1.2" fill="#3a50ff" opacity="0.42"/>
<path d="M710.9 225.7 C710.0 225.2 708.6 223.8 708.3 222.9 C707.9 222.1 708.3 220.9 708.8 220.5 C709.3 220.0 710.4 219.9 711.3 220.1 C712.2 220.4 713.3 221.1 714.1 221.9 C714.8 222.7 716.0 224.2 715.8 224.9 C715.7 225.5 714.0 225.8 713.2 225.9 C712.4 226.1 711.7 226.2 710.9 225.7Z" fill="#c81c10" fill-opacity="0.80" stroke="#f02a16" stroke-opacity="0.80" stroke-width="1.2"/>
<circle cx="712.2" cy="223.8" r="1.2" fill="#3a50ff" opacity="0.56"/>
<path d="M724.1 225.5 C724.0 226.5 723.5 227.6 722.6 228.0 C721.6 228.5 719.3 228.5 718.3 228.2 C717.4 227.9 717.2 227.1 717.0 226.2 C716.8 225.4 716.8 223.8 717.4 222.9 C717.9 221.9 719.2 220.8 720.1 220.6 C721.0 220.4 722.3 221.1 722.9 221.9 C723.6 222.7 724.1 224.5 724.1 225.5Z" fill="#c81c10" fill-opacity="0.68" stroke="#f02a16" stroke-opacity="0.68" stroke-width="1.0"/>
<circle cx="720.8" cy="225.1" r="1.2" fill="#3a50ff" opacity="0.48"/>
<path d="M727.3 225.9 C726.9 225.0 726.5 223.3 726.8 222.5 C727.1 221.7 728.6 221.0 729.3 221.0 C730.1 221.0 730.6 221.8 731.2 222.3 C731.8 222.9 732.8 223.7 732.9 224.6 C733.0 225.4 732.3 226.9 731.7 227.4 C731.0 227.9 729.9 227.9 729.2 227.7 C728.5 227.4 727.7 226.7 727.3 225.9Z" fill="#c81c10" fill-opacity="0.88" stroke="#f02a16" stroke-opacity="0.88" stroke-width="1.3"/>
<circle cx="730.2" cy="224.9" r="1.2" fill="#3a50ff" opacity="0.61"/>
<path d="M737.6 225.3 C736.7 225.3 735.9 224.6 735.3 223.9 C734.6 223.1 733.8 221.9 734.0 221.1 C734.1 220.3 735.5 219.3 736.3 219.0 C737.1 218.7 738.2 218.7 738.9 219.1 C739.6 219.5 740.3 220.8 740.6 221.7 C740.9 222.5 741.0 223.6 740.5 224.2 C740.0 224.8 738.4 225.4 737.6 225.3Z" fill="#c81c10" fill-opacity="0.86" stroke="#f02a16" stroke-opacity="0.86" stroke-width="1.2"/>
<circle cx="737.8" cy="222.1" r="1.2" fill="#3a50ff" opacity="0.60"/>
<path d="M749.1 225.3 C748.9 226.4 748.3 227.8 747.6 228.2 C746.9 228.5 745.9 228.1 745.1 227.5 C744.4 227.0 743.3 225.8 743.2 224.9 C743.1 224.1 744.0 223.1 744.6 222.5 C745.1 221.9 745.9 221.2 746.7 221.1 C747.4 220.9 748.7 221.0 749.1 221.7 C749.5 222.5 749.4 224.3 749.1 225.3Z" fill="#c81c10" fill-opacity="0.56" stroke="#f02a16" stroke-opacity="0.56" stroke-width="1.0"/>
<circle cx="747.5" cy="225.5" r="1.2" fill="#3a50ff" opacity="0.39"/>
<path d="M755.9 226.3 C755.0 226.1 754.1 225.1 753.8 224.3 C753.5 223.5 753.8 222.2 754.2 221.5 C754.7 220.7 755.7 219.8 756.5 219.7 C757.2 219.6 758.1 220.2 758.9 220.8 C759.7 221.4 761.3 222.3 761.4 223.2 C761.4 224.0 760.1 225.2 759.2 225.7 C758.3 226.2 756.8 226.6 755.9 226.3Z" fill="#c81c10" fill-opacity="0.42" stroke="#f02a16" stroke-opacity="0.42" stroke-width="1.1"/>
<circle cx="758.4" cy="222.4" r="1.2" fill="#3a50ff" opacity="0.29"/>
<path d="M767.3 227.0 C766.7 227.6 765.1 227.7 764.3 227.5 C763.5 227.3 763.0 226.6 762.6 225.9 C762.2 225.1 761.5 224.0 761.7 223.2 C761.8 222.3 762.8 221.1 763.4 220.9 C764.1 220.6 764.8 221.2 765.5 221.7 C766.3 222.2 767.6 222.8 767.9 223.7 C768.2 224.5 767.9 226.4 767.3 227.0Z" fill="#c81c10" fill-opacity="0.43" stroke="#f02a16" stroke-opacity="0.43" stroke-width="1.3"/>
<circle cx="765.4" cy="223.3" r="1.2" fill="#3a50ff" opacity="0.30"/>
<path d="M771.1 224.6 C770.3 224.1 769.5 222.7 769.2 222.0 C769.0 221.3 768.9 220.7 769.4 220.3 C769.9 219.9 771.3 219.5 772.2 219.6 C773.1 219.7 774.2 220.3 774.7 220.9 C775.2 221.5 775.3 222.5 775.2 223.1 C775.0 223.8 774.6 224.7 773.9 225.0 C773.3 225.2 771.9 225.1 771.1 224.6Z" fill="#c81c10" fill-opacity="0.52" stroke="#f02a16" stroke-opacity="0.52" stroke-width="1.1"/>
<circle cx="770.9" cy="222.7" r="1.2" fill="#3a50ff" opacity="0.37"/>
<path d="M779.9 227.5 C779.0 227.2 778.5 226.4 778.2 225.6 C777.9 224.9 777.8 223.7 778.2 223.1 C778.5 222.4 779.3 221.6 780.2 221.6 C781.1 221.6 782.9 222.5 783.8 223.2 C784.7 223.9 785.5 224.9 785.4 225.7 C785.4 226.4 784.3 227.3 783.4 227.6 C782.5 227.9 780.8 227.9 779.9 227.5Z" fill="#c81c10" fill-opacity="0.89" stroke="#f02a16" stroke-opacity="0.89" stroke-width="1.0"/>
<circle cx="782.0" cy="224.0" r="1.2" fill="#3a50ff" opacity="0.62"/>
<path d="M671.7 232.5 C671.0 232.0 670.1 231.3 670.0 230.5 C669.9 229.8 670.3 228.6 671.0 228.1 C671.7 227.5 673.4 227.1 674.2 227.2 C675.0 227.3 675.2 228.0 675.5 228.6 C675.9 229.3 676.5 230.2 676.4 231.0 C676.2 231.8 675.2 233.2 674.4 233.5 C673.7 233.7 672.5 233.0 671.7 232.5Z" fill="#c81c10" fill-opacity="0.25" stroke="#f02a16" stroke-opacity="0.25" stroke-width="1.0"/>
<circle cx="674.6" cy="230.2" r="1.2" fill="#3a50ff" opacity="0.18"/>
<path d="M684.0 232.0 C683.2 232.4 681.8 232.8 681.0 232.6 C680.3 232.5 679.6 231.8 679.4 231.0 C679.3 230.2 679.8 228.5 680.2 227.8 C680.6 227.2 681.2 227.0 681.8 227.0 C682.5 227.0 683.5 227.1 684.1 227.6 C684.7 228.2 685.5 229.4 685.5 230.1 C685.5 230.9 684.7 231.6 684.0 232.0Z" fill="#c81c10" fill-opacity="0.29" stroke="#f02a16" stroke-opacity="0.29" stroke-width="1.4"/>
<circle cx="681.3" cy="229.5" r="1.2" fill="#3a50ff" opacity="0.20"/>
<path d="M685.8 229.7 C685.7 228.7 686.2 228.0 686.6 227.4 C687.0 226.9 687.7 226.3 688.4 226.2 C689.0 226.2 690.1 226.6 690.5 227.4 C691.0 228.1 691.2 230.0 691.0 231.0 C690.8 232.0 689.9 232.9 689.3 233.2 C688.7 233.6 687.8 233.8 687.2 233.2 C686.6 232.6 686.0 230.6 685.8 229.7Z" fill="#c81c10" fill-opacity="0.41" stroke="#f02a16" stroke-opacity="0.41" stroke-width="1.2"/>
<circle cx="689.5" cy="229.6" r="1.2" fill="#3a50ff" opacity="0.29"/>
<path d="M698.1 233.3 C697.2 233.4 696.1 233.3 695.4 232.7 C694.7 232.1 693.9 230.4 693.9 229.6 C694.0 228.8 694.9 228.2 695.6 227.8 C696.3 227.4 697.4 227.1 698.2 227.2 C699.0 227.2 700.1 227.3 700.5 228.0 C700.9 228.8 701.0 230.8 700.6 231.7 C700.2 232.6 699.0 233.1 698.1 233.3Z" fill="#c81c10" fill-opacity="0.24" stroke="#f02a16" stroke-opacity="0.24" stroke-width="1.3"/>
<circle cx="698.6" cy="230.6" r="1.2" fill="#3a50ff" opacity="0.17"/>
<path d="M708.4 232.1 C707.6 232.3 706.5 232.2 706.0 231.7 C705.4 231.2 705.0 230.1 705.0 229.4 C705.0 228.7 705.3 228.0 705.9 227.5 C706.5 227.1 707.7 226.8 708.4 226.9 C709.1 227.0 709.7 227.5 710.1 228.1 C710.6 228.7 711.2 229.8 710.9 230.4 C710.7 231.1 709.2 231.9 708.4 232.1Z" fill="#c81c10" fill-opacity="0.48" stroke="#f02a16" stroke-opacity="0.48" stroke-width="1.3"/>
<circle cx="708.8" cy="228.4" r="1.2" fill="#3a50ff" opacity="0.34"/>
<path d="M712.3 232.4 C712.2 231.7 712.8 230.6 713.7 230.1 C714.6 229.5 716.6 229.1 717.5 229.3 C718.5 229.4 719.0 230.5 719.3 231.1 C719.6 231.8 719.6 232.5 719.3 233.0 C719.0 233.6 718.3 234.4 717.4 234.6 C716.6 234.9 715.0 234.8 714.2 234.5 C713.3 234.1 712.4 233.2 712.3 232.4Z" fill="#c81c10" fill-opacity="0.57" stroke="#f02a16" stroke-opacity="0.57" stroke-width="0.9"/>
<circle cx="716.5" cy="231.1" r="1.2" fill="#3a50ff" opacity="0.40"/>
<path d="M727.5 233.9 C726.8 234.6 725.2 234.9 724.3 234.9 C723.4 234.9 722.5 234.5 722.2 233.8 C721.9 233.1 722.3 231.6 722.6 230.8 C723.0 229.9 723.5 228.9 724.4 228.5 C725.3 228.1 727.2 228.1 727.9 228.4 C728.7 228.7 728.9 229.5 728.8 230.4 C728.7 231.3 728.3 233.1 727.5 233.9Z" fill="#c81c10" fill-opacity="0.47" stroke="#f02a16" stroke-opacity="0.47" stroke-width="1.4"/>
<circle cx="724.4" cy="232.0" r="1.2" fill="#3a50ff" opacity="0.33"/>
<path d="M732.5 232.1 C731.9 231.1 731.2 229.1 731.2 228.1 C731.3 227.1 732.1 226.2 732.8 226.0 C733.5 225.8 734.8 226.3 735.6 226.8 C736.5 227.4 737.5 228.4 737.9 229.5 C738.3 230.6 738.8 232.5 738.3 233.2 C737.8 233.9 735.8 234.0 734.9 233.8 C733.9 233.6 733.1 233.0 732.5 232.1Z" fill="#c81c10" fill-opacity="0.45" stroke="#f02a16" stroke-opacity="0.45" stroke-width="1.1"/>
<circle cx="733.9" cy="229.7" r="1.2" fill="#3a50ff" opacity="0.31"/>
<path d="M739.9 231.4 C739.7 230.8 739.7 230.3 740.3 229.7 C740.8 229.1 742.5 227.9 743.3 227.9 C744.1 227.8 744.7 228.6 745.2 229.3 C745.6 230.0 746.3 231.2 746.0 232.0 C745.8 232.7 744.5 233.3 743.7 233.6 C742.8 233.9 741.7 234.0 741.1 233.6 C740.5 233.3 740.0 232.1 739.9 231.4Z" fill="#c81c10" fill-opacity="0.79" stroke="#f02a16" stroke-opacity="0.79" stroke-width="1.0"/>
<circle cx="742.8" cy="231.2" r="1.2" fill="#3a50ff" opacity="0.55"/>
<path d="M750.4 232.9 C749.5 232.5 748.9 231.8 748.7 231.0 C748.5 230.2 748.5 228.8 749.1 228.0 C749.7 227.2 751.4 226.4 752.3 226.3 C753.1 226.3 753.6 226.9 754.1 227.6 C754.7 228.3 755.5 229.4 755.4 230.4 C755.3 231.3 754.6 232.8 753.8 233.3 C753.0 233.7 751.2 233.2 750.4 232.9Z" fill="#c81c10" fill-opacity="0.63" stroke="#f02a16" stroke-opacity="0.63" stroke-width="1.3"/>
<circle cx="752.6" cy="229.1" r="1.2" fill="#3a50ff" opacity="0.44"/>
<path d="M762.4 231.3 C762.3 232.4 761.6 233.6 761.0 234.1 C760.4 234.7 759.5 234.8 758.8 234.6 C758.2 234.3 757.3 233.7 757.1 232.8 C756.8 231.9 757.0 230.3 757.4 229.3 C757.8 228.2 758.6 226.9 759.3 226.5 C759.9 226.2 760.9 226.5 761.5 227.3 C762.0 228.1 762.5 230.2 762.4 231.3Z" fill="#c81c10" fill-opacity="0.85" stroke="#f02a16" stroke-opacity="0.85" stroke-width="1.0"/>
<circle cx="759.0" cy="230.2" r="1.2" fill="#3a50ff" opacity="0.60"/>
<path d="M767.9 233.9 C766.9 233.7 765.0 232.8 764.5 232.1 C764.0 231.3 764.3 230.0 764.8 229.4 C765.3 228.8 766.5 228.4 767.5 228.5 C768.5 228.5 770.0 228.9 770.8 229.5 C771.6 230.0 772.2 231.1 772.1 231.7 C772.0 232.4 771.0 233.0 770.3 233.4 C769.6 233.7 768.9 234.1 767.9 233.9Z" fill="#c81c10" fill-opacity="0.85" stroke="#f02a16" stroke-opacity="0.85" stroke-width="1.0"/>
<circle cx="766.7" cy="231.4" r="1.2" fill="#3a50ff" opacity="0.60"/>
<path d="M781.3 231.0 C780.8 231.9 779.5 233.8 778.7 234.1 C778.0 234.5 777.1 233.7 776.7 233.1 C776.2 232.6 776.0 231.7 776.0 230.8 C776.0 229.9 776.0 228.5 776.7 227.7 C777.5 227.0 779.4 226.1 780.3 226.2 C781.2 226.4 782.0 227.8 782.2 228.6 C782.4 229.4 781.9 230.1 781.3 231.0Z" fill="#c81c10" fill-opacity="0.44" stroke="#f02a16" stroke-opacity="0.44" stroke-width="1.3"/>
<circle cx="777.6" cy="230.9" r="1.2" fill="#3a50ff" opacity="0.31"/>
<path d="M783.6 234.0 C782.8 233.5 781.7 232.2 781.5 231.4 C781.3 230.7 781.5 230.0 782.2 229.4 C782.9 228.9 784.5 228.0 785.5 228.2 C786.5 228.3 787.5 229.5 788.1 230.2 C788.6 231.0 789.0 232.0 788.7 232.6 C788.5 233.3 787.5 234.1 786.7 234.3 C785.8 234.6 784.5 234.5 783.6 234.0Z" fill="#c81c10" fill-opacity="0.59" stroke="#f02a16" stroke-opacity="0.59" stroke-width="1.2"/>
<circle cx="786.1" cy="231.5" r="1.2" fill="#3a50ff" opacity="0.42"/>
<path d="M689.2 237.6 C689.2 238.7 688.4 240.4 687.7 241.0 C687.1 241.6 686.0 241.6 685.3 241.4 C684.6 241.2 683.8 240.6 683.6 239.8 C683.3 238.9 683.5 237.3 683.9 236.3 C684.4 235.3 685.5 234.1 686.2 233.8 C686.8 233.5 687.4 233.9 687.9 234.5 C688.4 235.2 689.3 236.5 689.2 237.6Z" fill="#c81c10" fill-opacity="0.42" stroke="#f02a16" stroke-opacity="0.42" stroke-width="1.1"/>
<circle cx="685.8" cy="237.6" r="1.2" fill="#3a50ff" opacity="0.29"/>
<path d="M691.9 241.0 C691.0 240.9 690.0 240.4 689.5 239.7 C689.1 239.0 688.8 237.3 689.2 236.6 C689.6 236.0 691.1 235.8 692.0 235.9 C692.9 235.9 694.0 236.3 694.6 236.8 C695.3 237.3 695.9 238.4 695.9 239.0 C696.0 239.5 695.8 240.0 695.1 240.4 C694.5 240.7 692.9 241.1 691.9 241.0Z" fill="#c81c10" fill-opacity="0.40" stroke="#f02a16" stroke-opacity="0.40" stroke-width="1.3"/>
<circle cx="691.5" cy="239.6" r="1.2" fill="#3a50ff" opacity="0.28"/>
<path d="M703.9 241.5 C703.1 241.6 702.2 241.2 701.6 240.8 C701.0 240.4 700.2 239.6 700.2 239.0 C700.1 238.4 700.8 237.7 701.5 237.2 C702.1 236.8 703.2 236.4 703.9 236.4 C704.7 236.4 705.5 236.4 706.0 237.0 C706.4 237.6 706.9 239.3 706.5 240.1 C706.2 240.8 704.7 241.4 703.9 241.5Z" fill="#c81c10" fill-opacity="0.27" stroke="#f02a16" stroke-opacity="0.27" stroke-width="1.3"/>
<circle cx="703.7" cy="239.1" r="1.2" fill="#3a50ff" opacity="0.19"/>
<path d="M714.3 239.9 C713.7 240.7 712.4 241.3 711.5 241.3 C710.6 241.4 709.5 240.7 709.1 240.1 C708.8 239.5 709.0 238.5 709.5 237.6 C709.9 236.6 711.0 234.8 711.7 234.3 C712.5 233.8 713.2 234.2 713.9 234.6 C714.5 235.1 715.5 235.9 715.5 236.7 C715.6 237.6 715.0 239.2 714.3 239.9Z" fill="#c81c10" fill-opacity="0.61" stroke="#f02a16" stroke-opacity="0.61" stroke-width="1.3"/>
<circle cx="711.4" cy="238.6" r="1.2" fill="#3a50ff" opacity="0.43"/>
<path d="M721.8 238.3 C721.5 239.2 721.2 240.2 720.6 240.6 C720.0 241.0 718.6 241.0 718.1 240.6 C717.6 240.1 717.3 239.0 717.4 237.9 C717.4 236.9 717.8 235.0 718.4 234.3 C718.9 233.6 719.8 233.6 720.4 233.7 C721.1 233.9 722.2 234.6 722.4 235.4 C722.7 236.1 722.2 237.4 721.8 238.3Z" fill="#c81c10" fill-opacity="0.87" stroke="#f02a16" stroke-opacity="0.87" stroke-width="1.4"/>
<circle cx="718.6" cy="235.9" r="1.2" fill="#3a50ff" opacity="0.61"/>
<path d="M727.4 240.7 C726.4 240.7 725.2 240.5 724.7 239.7 C724.3 238.9 724.3 236.7 724.5 235.7 C724.7 234.7 725.2 234.0 726.1 233.8 C727.1 233.7 729.0 234.3 729.9 234.9 C730.8 235.5 731.6 236.6 731.7 237.4 C731.8 238.2 731.4 239.1 730.6 239.6 C729.9 240.2 728.3 240.7 727.4 240.7Z" fill="#c81c10" fill-opacity="0.82" stroke="#f02a16" stroke-opacity="0.82" stroke-width="1.1"/>
<circle cx="727.1" cy="238.1" r="1.2" fill="#3a50ff" opacity="0.57"/>
<path d="M741.3 240.7 C740.8 241.5 740.1 242.2 739.2 242.2 C738.3 242.1 736.7 241.3 736.0 240.4 C735.4 239.6 735.0 237.9 735.2 237.1 C735.4 236.2 736.3 235.5 737.2 235.1 C738.1 234.7 739.8 234.2 740.6 234.6 C741.5 235.0 742.3 236.7 742.4 237.7 C742.5 238.7 741.9 240.0 741.3 240.7Z" fill="#c81c10" fill-opacity="0.42" stroke="#f02a16" stroke-opacity="0.42" stroke-width="1.0"/>
<circle cx="740.3" cy="239.2" r="1.2" fill="#3a50ff" opacity="0.29"/>
<path d="M748.0 238.4 C747.4 239.1 746.6 239.7 745.8 240.0 C745.0 240.2 743.8 240.4 743.3 239.9 C742.8 239.4 742.7 237.8 742.8 236.9 C742.9 235.9 743.1 234.7 743.7 234.2 C744.3 233.6 745.7 233.5 746.6 233.7 C747.5 234.0 749.0 234.7 749.2 235.5 C749.4 236.3 748.6 237.6 748.0 238.4Z" fill="#c81c10" fill-opacity="0.63" stroke="#f02a16" stroke-opacity="0.63" stroke-width="1.1"/>
<circle cx="745.2" cy="238.3" r="1.2" fill="#3a50ff" opacity="0.44"/>
<path d="M756.9 239.1 C756.5 239.8 755.6 240.4 754.8 240.6 C754.1 240.7 752.8 240.5 752.4 240.0 C751.9 239.5 751.9 238.4 752.2 237.5 C752.4 236.7 753.0 235.6 753.7 235.0 C754.3 234.5 755.3 234.0 756.0 234.2 C756.7 234.4 757.6 235.4 757.7 236.2 C757.9 237.1 757.4 238.4 756.9 239.1Z" fill="#c81c10" fill-opacity="0.66" stroke="#f02a16" stroke-opacity="0.66" stroke-width="1.3"/>
<circle cx="754.6" cy="238.3" r="1.2" fill="#3a50ff" opacity="0.47"/>
<path d="M772.3 239.6 C771.5 238.9 771.1 238.0 770.8 237.0 C770.5 236.1 769.9 234.4 770.5 233.9 C771.1 233.3 773.3 233.4 774.4 233.9 C775.5 234.3 776.7 235.4 777.3 236.3 C777.9 237.2 778.1 238.4 777.9 239.2 C777.6 240.0 776.7 241.3 775.8 241.3 C774.8 241.4 773.2 240.3 772.3 239.6Z" fill="#c81c10" fill-opacity="0.87" stroke="#f02a16" stroke-opacity="0.87" stroke-width="1.0"/>
<circle cx="775.3" cy="236.6" r="1.2" fill="#3a50ff" opacity="0.61"/>
<path d="M779.8 241.2 C779.3 240.5 779.0 239.3 779.1 238.4 C779.3 237.5 779.9 236.3 780.7 235.9 C781.5 235.5 783.3 235.6 784.1 236.0 C785.0 236.4 785.7 237.3 785.8 238.1 C785.9 238.9 785.5 240.2 784.9 240.9 C784.3 241.7 783.0 242.6 782.2 242.7 C781.3 242.7 780.3 241.9 779.8 241.2Z" fill="#c81c10" fill-opacity="0.52" stroke="#f02a16" stroke-opacity="0.52" stroke-width="1.2"/>
<circle cx="782.1" cy="237.8" r="1.2" fill="#3a50ff" opacity="0.36"/>
<path d="M676.1 248.7 C675.6 249.4 674.4 249.8 673.4 249.9 C672.5 249.9 671.0 249.6 670.3 249.0 C669.6 248.4 669.0 247.2 669.2 246.3 C669.4 245.4 670.5 244.2 671.3 243.7 C672.1 243.1 673.1 242.9 674.0 243.2 C674.8 243.5 676.0 244.7 676.4 245.6 C676.7 246.5 676.6 247.9 676.1 248.7Z" fill="#c81c10" fill-opacity="0.29" stroke="#f02a16" stroke-opacity="0.29" stroke-width="1.3"/>
<circle cx="674.2" cy="247.1" r="1.2" fill="#3a50ff" opacity="0.20"/>
<path d="M678.0 249.0 C677.4 248.2 677.0 246.6 677.2 245.5 C677.3 244.5 678.2 242.8 679.1 242.5 C680.0 242.2 681.7 243.2 682.5 243.8 C683.4 244.4 684.1 245.1 684.2 245.9 C684.3 246.7 683.8 247.9 683.2 248.7 C682.7 249.4 681.7 250.4 680.8 250.5 C679.9 250.5 678.6 249.9 678.0 249.0Z" fill="#c81c10" fill-opacity="0.34" stroke="#f02a16" stroke-opacity="0.34" stroke-width="1.1"/>
<circle cx="679.6" cy="246.6" r="1.2" fill="#3a50ff" opacity="0.24"/>
<path d="M693.7 245.9 C693.6 246.7 692.9 248.4 692.1 248.9 C691.3 249.4 689.9 249.2 688.8 248.8 C687.8 248.4 686.2 247.3 686.0 246.5 C685.7 245.7 686.8 244.7 687.4 244.0 C687.9 243.4 688.5 242.9 689.3 242.9 C690.2 242.8 691.7 243.5 692.5 244.0 C693.2 244.5 693.7 245.0 693.7 245.9Z" fill="#c81c10" fill-opacity="0.34" stroke="#f02a16" stroke-opacity="0.34" stroke-width="1.3"/>
<circle cx="689.2" cy="246.0" r="1.2" fill="#3a50ff" opacity="0.24"/>
<path d="M700.1 248.1 C699.1 248.2 696.9 248.1 696.1 247.6 C695.4 247.2 695.5 246.3 695.7 245.7 C696.0 245.0 696.9 244.3 697.7 243.9 C698.5 243.5 699.7 243.2 700.4 243.3 C701.2 243.4 701.9 244.0 702.2 244.6 C702.5 245.3 702.5 246.6 702.2 247.1 C701.8 247.7 701.1 248.1 700.1 248.1Z" fill="#c81c10" fill-opacity="0.19" stroke="#f02a16" stroke-opacity="0.19" stroke-width="0.9"/>
<circle cx="699.7" cy="246.6" r="1.2" fill="#3a50ff" opacity="0.13"/>
<path d="M713.7 246.6 C713.5 245.9 713.9 244.9 714.5 244.4 C715.2 244.0 716.7 243.8 717.7 243.9 C718.6 244.0 719.7 244.3 720.3 244.9 C720.8 245.4 721.2 246.4 720.9 247.2 C720.5 247.9 719.2 249.0 718.3 249.3 C717.4 249.5 716.2 249.3 715.4 248.9 C714.7 248.5 713.8 247.4 713.7 246.6Z" fill="#c81c10" fill-opacity="0.42" stroke="#f02a16" stroke-opacity="0.42" stroke-width="1.4"/>
<circle cx="716.7" cy="248.0" r="1.2" fill="#3a50ff" opacity="0.29"/>
<path d="M728.3 248.2 C727.7 248.7 726.5 249.3 725.6 249.2 C724.7 249.1 723.5 248.2 723.0 247.5 C722.5 246.8 722.2 245.7 722.5 244.9 C722.8 244.2 723.9 243.4 724.6 243.1 C725.3 242.8 726.0 242.7 726.8 243.2 C727.5 243.8 728.8 245.5 729.1 246.3 C729.4 247.1 728.9 247.7 728.3 248.2Z" fill="#c81c10" fill-opacity="0.89" stroke="#f02a16" stroke-opacity="0.89" stroke-width="1.3"/>
<circle cx="724.4" cy="247.0" r="1.2" fill="#3a50ff" opacity="0.62"/>
<path d="M735.4 249.3 C734.4 249.8 733.2 250.0 732.5 249.7 C731.7 249.5 730.9 248.5 730.8 247.8 C730.6 247.1 731.0 246.2 731.6 245.5 C732.2 244.8 733.6 243.6 734.5 243.5 C735.4 243.4 736.4 244.3 737.1 244.8 C737.7 245.3 738.5 245.8 738.3 246.5 C738.0 247.3 736.4 248.7 735.4 249.3Z" fill="#c81c10" fill-opacity="0.87" stroke="#f02a16" stroke-opacity="0.87" stroke-width="1.0"/>
<circle cx="735.1" cy="246.2" r="1.2" fill="#3a50ff" opacity="0.61"/>
<path d="M745.5 248.9 C744.6 249.6 742.8 249.8 741.9 249.7 C740.9 249.6 739.9 249.0 739.6 248.2 C739.4 247.4 739.8 245.7 740.5 244.8 C741.2 244.0 742.7 243.3 743.7 243.0 C744.8 242.7 746.1 242.7 746.7 243.2 C747.4 243.7 747.6 245.0 747.4 246.0 C747.2 246.9 746.5 248.3 745.5 248.9Z" fill="#c81c10" fill-opacity="0.46" stroke="#f02a16" stroke-opacity="0.46" stroke-width="1.1"/>
<circle cx="742.5" cy="247.0" r="1.2" fill="#3a50ff" opacity="0.32"/>
<path d="M747.8 246.7 C747.5 245.8 747.2 244.2 747.4 243.3 C747.7 242.3 748.5 241.2 749.2 241.1 C750.0 241.1 751.4 242.0 752.0 242.9 C752.6 243.7 752.9 245.2 752.9 246.1 C752.9 247.1 752.3 248.3 751.8 248.7 C751.2 249.1 750.2 248.8 749.5 248.5 C748.8 248.2 748.1 247.6 747.8 246.7Z" fill="#c81c10" fill-opacity="0.44" stroke="#f02a16" stroke-opacity="0.44" stroke-width="1.1"/>
<circle cx="748.9" cy="246.6" r="1.2" fill="#3a50ff" opacity="0.31"/>
<path d="M762.3 249.5 C761.7 250.3 760.3 250.9 759.5 251.1 C758.7 251.2 757.9 250.7 757.5 250.1 C757.1 249.5 757.1 248.2 757.3 247.3 C757.5 246.4 757.9 245.2 758.6 244.6 C759.3 244.1 760.7 243.7 761.4 243.9 C762.1 244.2 762.7 245.2 762.9 246.1 C763.0 247.0 762.8 248.6 762.3 249.5Z" fill="#c81c10" fill-opacity="0.68" stroke="#f02a16" stroke-opacity="0.68" stroke-width="1.0"/>
<circle cx="758.5" cy="246.6" r="1.2" fill="#3a50ff" opacity="0.48"/>
<path d="M770.7 248.1 C770.5 249.0 769.5 249.8 768.9 250.1 C768.3 250.5 767.6 250.8 767.1 250.4 C766.6 250.1 766.1 249.0 765.9 248.1 C765.7 247.2 765.7 245.9 766.2 245.2 C766.7 244.5 768.0 243.7 768.7 243.7 C769.4 243.6 770.0 243.9 770.3 244.7 C770.6 245.4 771.0 247.2 770.7 248.1Z" fill="#c81c10" fill-opacity="0.85" stroke="#f02a16" stroke-opacity="0.85" stroke-width="1.4"/>
<circle cx="769.7" cy="247.8" r="1.2" fill="#3a50ff" opacity="0.59"/>
<path d="M777.0 247.7 C776.1 247.3 776.0 246.2 775.8 245.4 C775.6 244.6 775.4 243.3 775.9 242.8 C776.4 242.3 777.7 242.0 778.6 242.2 C779.6 242.4 780.8 243.2 781.5 243.8 C782.1 244.4 782.8 245.1 782.7 245.7 C782.5 246.4 781.7 247.5 780.8 247.8 C779.8 248.2 777.8 248.1 777.0 247.7Z" fill="#c81c10" fill-opacity="0.44" stroke="#f02a16" stroke-opacity="0.44" stroke-width="1.4"/>
<circle cx="779.2" cy="244.6" r="1.2" fill="#3a50ff" opacity="0.31"/>
<path d="M786.6 249.9 C785.6 249.9 784.3 249.2 783.5 248.6 C782.6 247.9 781.3 246.9 781.5 246.1 C781.8 245.3 783.8 244.0 784.9 243.7 C786.0 243.3 787.4 243.6 788.3 244.0 C789.2 244.3 790.4 244.8 790.5 245.5 C790.6 246.3 789.7 247.7 789.1 248.4 C788.4 249.2 787.5 249.9 786.6 249.9Z" fill="#c81c10" fill-opacity="0.87" stroke="#f02a16" stroke-opacity="0.87" stroke-width="1.0"/>
<circle cx="785.8" cy="246.9" r="1.2" fill="#3a50ff" opacity="0.61"/>
<path d="M675.2 257.7 C674.5 257.4 673.6 256.2 673.2 255.4 C672.9 254.6 672.7 253.6 673.1 253.0 C673.6 252.4 674.9 251.8 675.7 251.9 C676.6 251.9 677.7 252.4 678.2 253.1 C678.8 253.7 679.1 255.1 679.0 255.8 C679.0 256.4 678.4 256.8 677.8 257.1 C677.1 257.4 676.0 258.0 675.2 257.7Z" fill="#c81c10" fill-opacity="0.34" stroke="#f02a16" stroke-opacity="0.34" stroke-width="0.9"/>
<circle cx="675.8" cy="256.2" r="1.2" fill="#3a50ff" opacity="0.24"/>
<path d="M685.5 256.6 C684.6 256.7 683.4 256.6 682.8 256.1 C682.2 255.7 681.9 254.6 682.0 253.6 C682.2 252.6 682.7 251.0 683.4 250.4 C684.1 249.8 685.5 249.8 686.5 250.2 C687.5 250.6 689.0 251.8 689.3 252.6 C689.6 253.5 689.0 254.6 688.4 255.2 C687.8 255.9 686.5 256.4 685.5 256.6Z" fill="#c81c10" fill-opacity="0.41" stroke="#f02a16" stroke-opacity="0.41" stroke-width="1.1"/>
<circle cx="686.7" cy="253.1" r="1.2" fill="#3a50ff" opacity="0.29"/>
<path d="M696.0 255.6 C695.3 256.4 694.4 256.8 693.7 256.8 C693.0 256.9 692.0 256.7 691.8 256.1 C691.5 255.5 691.8 254.1 692.2 253.3 C692.5 252.5 693.1 251.7 693.8 251.4 C694.5 251.0 695.7 250.9 696.4 251.1 C697.1 251.3 698.1 251.6 698.0 252.4 C698.0 253.2 696.7 254.9 696.0 255.6Z" fill="#c81c10" fill-opacity="0.30" stroke="#f02a16" stroke-opacity="0.30" stroke-width="1.2"/>
<circle cx="693.5" cy="253.6" r="1.2" fill="#3a50ff" opacity="0.21"/>
<path d="M700.6 254.3 C700.4 253.3 700.4 251.9 700.7 251.1 C700.9 250.3 701.5 249.6 702.2 249.6 C703.0 249.5 704.5 249.9 705.2 250.8 C706.0 251.6 706.7 253.7 706.7 254.8 C706.6 255.8 705.6 256.6 704.9 257.0 C704.1 257.3 703.0 257.4 702.3 257.0 C701.6 256.5 700.9 255.3 700.6 254.3Z" fill="#c81c10" fill-opacity="0.38" stroke="#f02a16" stroke-opacity="0.38" stroke-width="1.1"/>
<circle cx="703.9" cy="252.2" r="1.2" fill="#3a50ff" opacity="0.26"/>
<path d="M707.0 256.5 C706.6 255.6 706.6 253.7 707.2 252.9 C707.8 252.2 709.7 252.3 710.7 252.2 C711.7 252.1 712.6 251.7 713.1 252.3 C713.6 252.9 713.8 254.7 713.7 255.7 C713.5 256.8 713.0 258.3 712.2 258.7 C711.5 259.1 710.3 258.6 709.4 258.2 C708.6 257.8 707.4 257.4 707.0 256.5Z" fill="#c81c10" fill-opacity="0.42" stroke="#f02a16" stroke-opacity="0.42" stroke-width="1.2"/>
<circle cx="710.7" cy="255.3" r="1.2" fill="#3a50ff" opacity="0.29"/>
<path d="M729.6 256.8 C728.7 256.5 727.6 255.6 727.2 254.9 C726.9 254.1 727.0 253.0 727.5 252.4 C727.9 251.8 728.8 251.2 729.7 251.1 C730.6 251.0 732.2 251.2 732.9 251.7 C733.7 252.2 734.4 253.4 734.3 254.2 C734.2 255.0 733.2 256.2 732.4 256.6 C731.7 257.1 730.4 257.1 729.6 256.8Z" fill="#c81c10" fill-opacity="0.72" stroke="#f02a16" stroke-opacity="0.72" stroke-width="1.1"/>
<circle cx="730.1" cy="252.4" r="1.2" fill="#3a50ff" opacity="0.50"/>
<path d="M734.2 257.3 C733.6 256.7 733.6 255.2 733.7 254.3 C733.7 253.4 733.8 252.4 734.5 251.9 C735.2 251.4 737.0 251.1 737.9 251.4 C738.7 251.7 739.5 252.8 739.7 253.6 C739.9 254.5 739.5 255.7 739.0 256.5 C738.6 257.2 737.7 257.9 736.9 258.1 C736.1 258.2 734.7 257.9 734.2 257.3Z" fill="#c81c10" fill-opacity="0.61" stroke="#f02a16" stroke-opacity="0.61" stroke-width="1.0"/>
<circle cx="736.4" cy="253.4" r="1.2" fill="#3a50ff" opacity="0.43"/>
<path d="M748.1 255.1 C747.4 255.7 746.4 256.7 745.5 256.5 C744.6 256.2 743.2 254.6 742.8 253.6 C742.3 252.7 742.3 251.6 742.7 250.9 C743.1 250.2 744.2 249.4 745.1 249.3 C746.0 249.1 747.3 249.4 748.0 250.0 C748.8 250.6 749.6 252.1 749.6 253.0 C749.6 253.8 748.8 254.5 748.1 255.1Z" fill="#c81c10" fill-opacity="0.45" stroke="#f02a16" stroke-opacity="0.45" stroke-width="1.1"/>
<circle cx="747.0" cy="253.4" r="1.2" fill="#3a50ff" opacity="0.31"/>
<path d="M759.8 257.2 C759.4 257.9 758.2 258.5 757.3 258.4 C756.5 258.2 755.3 257.1 754.7 256.4 C754.0 255.7 753.6 255.1 753.6 254.3 C753.7 253.6 754.3 252.3 754.9 251.8 C755.6 251.4 756.8 251.5 757.6 251.9 C758.4 252.3 759.3 253.3 759.7 254.1 C760.0 255.0 760.2 256.5 759.8 257.2Z" fill="#c81c10" fill-opacity="0.52" stroke="#f02a16" stroke-opacity="0.52" stroke-width="1.2"/>
<circle cx="756.4" cy="256.1" r="1.2" fill="#3a50ff" opacity="0.37"/>
<path d="M766.0 256.8 C765.7 257.5 764.3 257.9 763.5 258.0 C762.6 258.0 761.7 257.6 761.2 257.1 C760.6 256.6 760.0 255.7 760.0 254.9 C760.1 254.0 760.8 252.6 761.4 252.0 C762.0 251.5 762.9 251.2 763.6 251.5 C764.3 251.8 765.2 252.9 765.6 253.8 C766.0 254.7 766.4 256.1 766.0 256.8Z" fill="#c81c10" fill-opacity="0.86" stroke="#f02a16" stroke-opacity="0.86" stroke-width="1.4"/>
<circle cx="764.2" cy="254.5" r="1.2" fill="#3a50ff" opacity="0.60"/>
<path d="M773.4 256.1 C772.6 255.9 771.8 255.5 771.2 254.9 C770.7 254.3 769.9 253.0 770.3 252.4 C770.7 251.8 772.5 251.3 773.5 251.3 C774.4 251.2 775.3 251.5 776.0 252.0 C776.6 252.6 777.3 253.8 777.3 254.5 C777.2 255.2 776.3 255.9 775.7 256.2 C775.0 256.5 774.1 256.4 773.4 256.1Z" fill="#c81c10" fill-opacity="0.82" stroke="#f02a16" stroke-opacity="0.82" stroke-width="1.3"/>
<circle cx="774.1" cy="254.5" r="1.2" fill="#3a50ff" opacity="0.58"/>
<path d="M784.1 256.2 C783.7 257.2 782.9 257.9 782.1 258.2 C781.3 258.6 780.2 258.7 779.4 258.3 C778.6 257.8 777.5 256.6 777.2 255.6 C777.0 254.6 777.2 253.3 777.8 252.4 C778.4 251.6 779.9 250.6 781.0 250.6 C782.1 250.6 783.6 251.4 784.2 252.4 C784.7 253.3 784.4 255.2 784.1 256.2Z" fill="#c81c10" fill-opacity="0.45" stroke="#f02a16" stroke-opacity="0.45" stroke-width="0.9"/>
<circle cx="780.3" cy="253.7" r="1.2" fill="#3a50ff" opacity="0.31"/>
<path d="M669.2 264.7 C668.3 264.3 667.2 262.9 666.9 262.0 C666.6 261.1 667.0 259.9 667.5 259.3 C668.1 258.6 669.3 257.8 670.2 257.9 C671.1 258.0 672.3 258.9 672.8 259.7 C673.4 260.5 673.7 261.9 673.6 262.7 C673.5 263.5 672.8 264.3 672.1 264.6 C671.3 264.9 670.1 265.1 669.2 264.7Z" fill="#c81c10" fill-opacity="0.21" stroke="#f02a16" stroke-opacity="0.21" stroke-width="1.0"/>
<circle cx="670.5" cy="262.6" r="1.2" fill="#3a50ff" opacity="0.15"/>
<path d="M680.7 265.5 C679.7 265.4 679.0 264.9 678.6 264.2 C678.3 263.5 678.3 262.1 678.6 261.5 C678.9 260.9 679.6 260.7 680.4 260.5 C681.2 260.3 682.7 260.0 683.5 260.4 C684.2 260.8 684.7 262.2 684.9 263.0 C685.0 263.8 684.9 264.6 684.2 265.0 C683.5 265.4 681.6 265.7 680.7 265.5Z" fill="#c81c10" fill-opacity="0.26" stroke="#f02a16" stroke-opacity="0.26" stroke-width="1.4"/>
<circle cx="681.1" cy="263.5" r="1.2" fill="#3a50ff" opacity="0.18"/>
<path d="M692.6 264.3 C692.2 265.0 691.2 265.1 690.2 265.0 C689.2 264.8 687.2 264.3 686.5 263.7 C685.8 263.1 686.0 262.1 686.2 261.2 C686.5 260.2 687.4 258.6 688.1 258.2 C688.8 257.8 689.7 258.0 690.5 258.5 C691.2 259.0 692.0 260.0 692.4 260.9 C692.7 261.9 692.9 263.7 692.6 264.3Z" fill="#c81c10" fill-opacity="0.32" stroke="#f02a16" stroke-opacity="0.32" stroke-width="1.2"/>
<circle cx="689.3" cy="263.1" r="1.2" fill="#3a50ff" opacity="0.22"/>
<path d="M695.8 261.2 C695.6 260.4 695.7 258.9 696.0 258.2 C696.3 257.4 696.9 256.7 697.6 256.7 C698.2 256.7 699.4 257.3 700.0 258.0 C700.6 258.7 701.1 259.9 701.1 260.8 C701.1 261.7 700.6 263.1 700.0 263.5 C699.4 263.9 698.3 263.8 697.6 263.4 C697.0 263.0 696.1 262.1 695.8 261.2Z" fill="#c81c10" fill-opacity="0.40" stroke="#f02a16" stroke-opacity="0.40" stroke-width="1.2"/>
<circle cx="699.6" cy="258.9" r="1.2" fill="#3a50ff" opacity="0.28"/>
<path d="M704.1 264.4 C703.2 263.6 702.3 261.8 702.2 260.8 C702.0 259.8 702.8 258.9 703.4 258.5 C704.0 258.0 705.0 257.7 705.9 258.0 C706.8 258.3 708.2 259.3 708.8 260.3 C709.3 261.3 709.4 263.1 709.2 264.0 C709.0 264.8 708.5 265.3 707.7 265.3 C706.8 265.4 705.1 265.1 704.1 264.4Z" fill="#c81c10" fill-opacity="0.23" stroke="#f02a16" stroke-opacity="0.23" stroke-width="0.9"/>
<circle cx="707.0" cy="262.6" r="1.2" fill="#3a50ff" opacity="0.16"/>
<path d="M716.7 262.6 C715.8 262.7 713.9 262.8 713.3 262.3 C712.6 261.9 712.5 260.8 712.7 260.0 C712.9 259.2 713.8 258.1 714.5 257.7 C715.2 257.3 715.9 257.3 716.8 257.5 C717.8 257.6 719.7 258.1 720.1 258.8 C720.4 259.5 719.5 261.0 718.9 261.6 C718.4 262.2 717.6 262.5 716.7 262.6Z" fill="#c81c10" fill-opacity="0.25" stroke="#f02a16" stroke-opacity="0.25" stroke-width="1.0"/>
<circle cx="717.4" cy="259.9" r="1.2" fill="#3a50ff" opacity="0.17"/>
<path d="M727.0 264.4 C726.4 264.7 725.2 264.9 724.5 264.7 C723.8 264.5 723.1 263.8 722.8 263.2 C722.5 262.5 722.4 261.3 722.7 260.5 C723.1 259.8 724.0 258.8 724.7 258.7 C725.5 258.7 726.9 259.7 727.5 260.4 C728.0 261.1 728.0 262.2 727.9 262.9 C727.8 263.5 727.6 264.1 727.0 264.4Z" fill="#c81c10" fill-opacity="0.42" stroke="#f02a16" stroke-opacity="0.42" stroke-width="1.0"/>
<circle cx="724.4" cy="260.7" r="1.2" fill="#3a50ff" opacity="0.29"/>
<path d="M731.2 263.5 C731.0 262.6 730.9 261.2 731.5 260.5 C732.1 259.9 733.6 259.7 734.6 259.8 C735.5 259.9 737.0 260.4 737.4 261.1 C737.9 261.7 737.7 262.8 737.4 263.7 C737.2 264.6 736.8 266.1 735.9 266.5 C735.0 266.9 733.1 266.5 732.3 266.0 C731.5 265.5 731.3 264.4 731.2 263.5Z" fill="#c81c10" fill-opacity="0.69" stroke="#f02a16" stroke-opacity="0.69" stroke-width="1.4"/>
<circle cx="734.5" cy="262.2" r="1.2" fill="#3a50ff" opacity="0.48"/>
<path d="M743.9 264.9 C743.2 265.2 741.9 264.9 741.1 264.6 C740.3 264.3 739.4 263.6 739.2 262.9 C739.0 262.2 739.3 261.0 739.9 260.4 C740.5 259.7 741.8 259.1 742.7 259.1 C743.6 259.1 744.8 259.6 745.3 260.2 C745.7 260.8 745.6 261.9 745.4 262.6 C745.2 263.4 744.6 264.5 743.9 264.9Z" fill="#c81c10" fill-opacity="0.53" stroke="#f02a16" stroke-opacity="0.53" stroke-width="1.0"/>
<circle cx="743.2" cy="262.1" r="1.2" fill="#3a50ff" opacity="0.37"/>
<path d="M747.0 260.6 C747.0 259.7 747.4 258.5 748.0 258.0 C748.6 257.4 749.7 257.3 750.5 257.5 C751.3 257.7 752.5 258.6 753.0 259.3 C753.5 260.0 753.9 260.9 753.5 261.6 C753.1 262.4 751.4 263.6 750.5 263.9 C749.6 264.1 748.8 263.9 748.3 263.3 C747.7 262.8 747.0 261.5 747.0 260.6Z" fill="#c81c10" fill-opacity="0.80" stroke="#f02a16" stroke-opacity="0.80" stroke-width="0.9"/>
<circle cx="749.6" cy="261.9" r="1.2" fill="#3a50ff" opacity="0.56"/>
<path d="M760.6 265.5 C759.7 265.5 758.9 264.8 758.4 264.1 C757.8 263.3 757.3 261.7 757.4 260.9 C757.5 260.2 758.1 259.9 759.0 259.5 C759.8 259.2 761.6 258.5 762.5 258.9 C763.5 259.2 764.5 260.8 764.7 261.6 C764.9 262.5 764.3 263.2 763.7 263.9 C763.0 264.5 761.5 265.4 760.6 265.5Z" fill="#c81c10" fill-opacity="0.42" stroke="#f02a16" stroke-opacity="0.42" stroke-width="0.9"/>
<circle cx="759.8" cy="261.0" r="1.2" fill="#3a50ff" opacity="0.29"/>
<path d="M766.2 264.9 C765.4 264.3 764.5 262.8 764.2 261.9 C763.9 261.1 764.0 260.3 764.5 259.8 C765.0 259.2 766.2 258.4 767.3 258.5 C768.3 258.6 770.0 259.7 770.7 260.6 C771.3 261.4 771.4 262.7 771.1 263.5 C770.9 264.3 769.8 265.3 769.0 265.5 C768.2 265.8 767.0 265.4 766.2 264.9Z" fill="#c81c10" fill-opacity="0.47" stroke="#f02a16" stroke-opacity="0.47" stroke-width="1.2"/>
<circle cx="766.0" cy="261.9" r="1.2" fill="#3a50ff" opacity="0.33"/>
<path d="M777.8 265.0 C776.7 265.2 774.5 264.7 773.6 264.3 C772.7 263.8 772.3 263.1 772.3 262.3 C772.4 261.5 773.0 260.1 773.9 259.5 C774.9 258.9 777.1 258.8 778.0 258.8 C779.0 258.9 779.4 259.2 779.7 259.9 C780.0 260.5 780.1 261.9 779.8 262.8 C779.5 263.6 778.8 264.7 777.8 265.0Z" fill="#c81c10" fill-opacity="0.59" stroke="#f02a16" stroke-opacity="0.59" stroke-width="0.9"/>
<circle cx="776.7" cy="262.3" r="1.2" fill="#3a50ff" opacity="0.41"/>
<path d="M783.7 263.0 C783.3 262.3 783.1 261.0 783.2 260.3 C783.3 259.5 783.6 258.8 784.3 258.5 C784.9 258.2 786.4 258.1 787.2 258.6 C788.0 259.1 788.8 260.4 788.9 261.4 C789.1 262.3 788.5 263.8 788.0 264.2 C787.4 264.7 786.3 264.2 785.6 264.0 C784.9 263.7 784.1 263.6 783.7 263.0Z" fill="#c81c10" fill-opacity="0.79" stroke="#f02a16" stroke-opacity="0.79" stroke-width="1.3"/>
<circle cx="785.3" cy="261.6" r="1.2" fill="#3a50ff" opacity="0.55"/>
<path d="M678.5 269.5 C678.3 270.3 677.8 271.9 676.9 272.3 C676.0 272.7 674.2 272.3 673.3 271.9 C672.4 271.5 671.7 270.8 671.6 270.0 C671.4 269.1 671.9 267.5 672.5 266.8 C673.1 266.1 674.1 265.6 675.0 265.6 C675.9 265.7 677.3 266.5 677.9 267.1 C678.4 267.8 678.6 268.6 678.5 269.5Z" fill="#c81c10" fill-opacity="0.32" stroke="#f02a16" stroke-opacity="0.32" stroke-width="1.2"/>
<circle cx="674.3" cy="269.8" r="1.2" fill="#3a50ff" opacity="0.23"/>
<path d="M688.6 270.7 C688.5 271.6 687.7 272.5 687.0 272.9 C686.4 273.2 685.2 272.9 684.6 272.7 C684.0 272.4 683.5 272.0 683.3 271.3 C683.1 270.6 683.3 269.0 683.6 268.4 C683.9 267.7 684.5 267.6 685.2 267.4 C686.0 267.3 687.4 267.0 688.0 267.6 C688.5 268.1 688.8 269.8 688.6 270.7Z" fill="#c81c10" fill-opacity="0.41" stroke="#f02a16" stroke-opacity="0.41" stroke-width="1.3"/>
<circle cx="686.7" cy="270.0" r="1.2" fill="#3a50ff" opacity="0.29"/>
<path d="M694.8 271.6 C693.8 271.7 692.7 271.6 692.0 271.1 C691.3 270.7 690.5 269.6 690.7 268.9 C690.9 268.2 692.1 267.1 692.9 266.7 C693.8 266.3 694.8 266.5 695.7 266.6 C696.6 266.6 698.0 266.4 698.4 267.1 C698.7 267.7 698.5 269.6 697.9 270.4 C697.3 271.1 695.8 271.4 694.8 271.6Z" fill="#c81c10" fill-opacity="0.35" stroke="#f02a16" stroke-opacity="0.35" stroke-width="1.0"/>
<circle cx="694.6" cy="268.7" r="1.2" fill="#3a50ff" opacity="0.24"/>
<path d="M698.9 270.1 C698.8 269.3 699.5 268.1 700.1 267.5 C700.6 266.9 701.4 266.5 702.2 266.4 C703.0 266.3 704.3 266.5 704.8 267.0 C705.3 267.6 705.5 269.1 705.2 269.8 C704.9 270.6 703.9 271.1 703.1 271.5 C702.3 271.8 701.2 272.1 700.5 271.9 C699.8 271.6 698.9 270.8 698.9 270.1Z" fill="#c81c10" fill-opacity="0.28" stroke="#f02a16" stroke-opacity="0.28" stroke-width="1.3"/>
<circle cx="701.6" cy="269.7" r="1.2" fill="#3a50ff" opacity="0.19"/>
<path d="M722.8 271.1 C722.1 271.9 720.7 272.5 719.9 272.6 C719.1 272.7 718.4 272.6 717.9 271.9 C717.4 271.1 717.0 269.0 717.1 268.0 C717.3 267.0 718.0 266.0 718.9 265.6 C719.7 265.2 721.4 265.4 722.2 265.7 C723.1 266.0 723.9 266.6 724.0 267.5 C724.1 268.4 723.5 270.2 722.8 271.1Z" fill="#c81c10" fill-opacity="0.23" stroke="#f02a16" stroke-opacity="0.23" stroke-width="1.1"/>
<circle cx="720.4" cy="269.0" r="1.2" fill="#3a50ff" opacity="0.16"/>
<path d="M732.4 270.6 C732.2 271.2 731.1 271.9 730.2 272.2 C729.4 272.5 727.9 272.7 727.1 272.3 C726.3 272.0 725.6 271.1 725.5 270.2 C725.5 269.4 726.3 267.7 726.8 267.1 C727.4 266.5 728.2 266.4 729.0 266.6 C729.7 266.8 730.8 267.5 731.4 268.2 C731.9 268.9 732.6 269.9 732.4 270.6Z" fill="#c81c10" fill-opacity="0.28" stroke="#f02a16" stroke-opacity="0.28" stroke-width="1.0"/>
<circle cx="727.7" cy="268.9" r="1.2" fill="#3a50ff" opacity="0.20"/>
<path d="M736.3 273.5 C735.6 273.3 734.7 272.7 734.3 271.9 C733.8 271.1 733.4 269.7 733.7 268.9 C734.0 268.0 735.0 267.1 735.9 267.0 C736.8 266.8 738.5 267.5 739.2 268.0 C739.9 268.5 740.2 269.1 740.1 269.9 C740.0 270.8 739.2 272.5 738.6 273.1 C738.0 273.7 737.0 273.7 736.3 273.5Z" fill="#c81c10" fill-opacity="0.42" stroke="#f02a16" stroke-opacity="0.42" stroke-width="0.9"/>
<circle cx="735.9" cy="269.5" r="1.2" fill="#3a50ff" opacity="0.29"/>
<path d="M744.9 273.6 C744.1 273.3 743.3 272.0 742.8 271.2 C742.3 270.5 741.8 269.7 742.0 269.2 C742.3 268.6 743.4 268.0 744.3 267.8 C745.2 267.7 746.8 267.6 747.5 268.0 C748.1 268.5 748.3 269.6 748.3 270.5 C748.3 271.3 748.1 272.4 747.5 272.9 C747.0 273.5 745.7 273.9 744.9 273.6Z" fill="#c81c10" fill-opacity="0.84" stroke="#f02a16" stroke-opacity="0.84" stroke-width="1.3"/>
<circle cx="745.8" cy="271.0" r="1.2" fill="#3a50ff" opacity="0.59"/>
<path d="M757.6 271.0 C757.2 271.7 756.6 272.1 755.8 272.2 C755.0 272.2 753.5 271.9 752.8 271.5 C752.1 271.0 751.6 270.4 751.6 269.7 C751.7 268.9 752.4 267.6 753.2 267.1 C754.0 266.6 755.3 266.5 756.2 266.7 C757.0 266.8 758.0 267.3 758.2 268.0 C758.4 268.8 758.0 270.4 757.6 271.0Z" fill="#c81c10" fill-opacity="0.46" stroke="#f02a16" stroke-opacity="0.46" stroke-width="0.9"/>
<circle cx="753.9" cy="270.4" r="1.2" fill="#3a50ff" opacity="0.32"/>
<path d="M763.1 269.4 C762.7 268.6 762.7 267.5 762.9 266.7 C763.0 265.9 763.4 265.0 764.1 264.8 C764.7 264.6 765.8 264.7 766.6 265.3 C767.3 265.9 768.3 267.3 768.6 268.3 C768.9 269.2 769.0 270.4 768.5 271.0 C767.9 271.6 766.5 272.1 765.6 271.9 C764.7 271.6 763.6 270.3 763.1 269.4Z" fill="#c81c10" fill-opacity="0.62" stroke="#f02a16" stroke-opacity="0.62" stroke-width="1.3"/>
<circle cx="766.8" cy="268.8" r="1.2" fill="#3a50ff" opacity="0.43"/>
<path d="M773.1 272.0 C772.3 271.7 771.6 271.2 771.4 270.4 C771.2 269.5 771.5 267.8 772.0 267.0 C772.5 266.2 773.8 265.5 774.5 265.4 C775.3 265.4 776.0 265.9 776.5 266.5 C777.0 267.2 777.6 268.4 777.5 269.3 C777.4 270.2 776.6 271.7 775.9 272.1 C775.1 272.6 773.8 272.3 773.1 272.0Z" fill="#c81c10" fill-opacity="0.51" stroke="#f02a16" stroke-opacity="0.51" stroke-width="0.9"/>
<circle cx="774.2" cy="269.2" r="1.2" fill="#3a50ff" opacity="0.36"/>
<path d="M783.5 272.2 C782.5 272.6 780.5 273.3 779.6 273.1 C778.6 273.0 777.9 272.1 777.8 271.3 C777.7 270.4 778.1 268.8 778.9 268.1 C779.7 267.3 781.6 266.9 782.7 266.7 C783.7 266.5 784.9 266.5 785.4 267.1 C785.8 267.7 785.8 269.5 785.5 270.4 C785.2 271.2 784.5 271.7 783.5 272.2Z" fill="#c81c10" fill-opacity="0.53" stroke="#f02a16" stroke-opacity="0.53" stroke-width="1.2"/>
<circle cx="782.5" cy="269.3" r="1.2" fill="#3a50ff" opacity="0.37"/>
<path d="M670.7 281.6 C669.9 281.4 668.7 280.0 668.4 279.0 C668.0 278.0 668.0 276.5 668.4 275.6 C668.8 274.7 670.0 273.6 670.9 273.4 C671.8 273.2 673.1 273.7 673.7 274.3 C674.4 275.0 675.1 276.1 675.0 277.1 C674.9 278.1 673.8 279.4 673.1 280.2 C672.4 280.9 671.5 281.8 670.7 281.6Z" fill="#c81c10" fill-opacity="0.39" stroke="#f02a16" stroke-opacity="0.39" stroke-width="1.4"/>
<circle cx="672.7" cy="278.9" r="1.2" fill="#3a50ff" opacity="0.27"/>
<path d="M685.4 278.1 C685.1 278.9 684.1 280.2 683.3 280.5 C682.5 280.8 681.3 280.6 680.5 280.1 C679.6 279.6 678.5 278.4 678.3 277.7 C678.0 277.0 678.4 276.3 679.1 275.9 C679.7 275.5 681.4 275.1 682.3 275.1 C683.2 275.1 684.0 275.4 684.6 275.9 C685.1 276.4 685.6 277.4 685.4 278.1Z" fill="#c81c10" fill-opacity="0.31" stroke="#f02a16" stroke-opacity="0.31" stroke-width="1.2"/>
<circle cx="681.0" cy="276.3" r="1.2" fill="#3a50ff" opacity="0.22"/>
<path d="M686.7 277.7 C686.5 276.8 686.8 275.6 687.5 274.9 C688.2 274.3 689.7 274.1 690.8 274.0 C691.9 273.9 693.5 273.8 694.2 274.4 C694.9 275.0 695.2 277.0 694.9 277.9 C694.6 278.7 693.2 279.2 692.2 279.6 C691.2 280.0 689.7 280.7 688.8 280.4 C687.9 280.0 686.9 278.6 686.7 277.7Z" fill="#c81c10" fill-opacity="0.33" stroke="#f02a16" stroke-opacity="0.33" stroke-width="0.9"/>
<circle cx="689.6" cy="278.4" r="1.2" fill="#3a50ff" opacity="0.23"/>
<path d="M698.3 280.3 C697.3 280.4 695.7 279.8 695.0 279.1 C694.2 278.5 693.6 277.2 693.7 276.4 C693.7 275.6 694.4 274.7 695.2 274.3 C696.0 273.8 697.8 273.3 698.6 273.5 C699.4 273.6 699.8 274.4 700.1 275.2 C700.5 276.1 700.9 278.0 700.6 278.8 C700.3 279.6 699.2 280.3 698.3 280.3Z" fill="#c81c10" fill-opacity="0.35" stroke="#f02a16" stroke-opacity="0.35" stroke-width="1.1"/>
<circle cx="697.9" cy="275.7" r="1.2" fill="#3a50ff" opacity="0.25"/>
<path d="M704.9 277.5 C704.7 276.5 704.9 275.5 705.3 274.8 C705.7 274.1 706.8 273.5 707.5 273.6 C708.1 273.7 708.9 274.6 709.3 275.3 C709.7 276.1 709.8 277.2 709.7 278.2 C709.5 279.2 708.9 280.8 708.4 281.2 C707.9 281.6 707.1 281.3 706.5 280.7 C705.9 280.1 705.1 278.5 704.9 277.5Z" fill="#c81c10" fill-opacity="0.30" stroke="#f02a16" stroke-opacity="0.30" stroke-width="1.0"/>
<circle cx="707.1" cy="278.8" r="1.2" fill="#3a50ff" opacity="0.21"/>
<path d="M716.9 279.1 C716.1 279.0 715.1 278.5 714.5 278.0 C714.0 277.6 713.3 276.9 713.5 276.3 C713.6 275.6 714.8 274.5 715.6 274.1 C716.4 273.7 717.2 273.7 718.0 273.9 C718.8 274.2 720.2 275.0 720.4 275.7 C720.6 276.5 719.8 277.8 719.2 278.4 C718.6 279.0 717.7 279.1 716.9 279.1Z" fill="#c81c10" fill-opacity="0.38" stroke="#f02a16" stroke-opacity="0.38" stroke-width="1.2"/>
<circle cx="718.0" cy="277.4" r="1.2" fill="#3a50ff" opacity="0.26"/>
<path d="M729.0 277.3 C728.8 276.6 729.4 274.9 730.0 274.2 C730.6 273.5 731.6 273.2 732.3 273.1 C733.1 273.1 734.0 273.2 734.5 273.8 C735.1 274.3 735.6 275.5 735.5 276.3 C735.4 277.1 734.7 278.1 734.0 278.5 C733.3 278.9 732.1 278.9 731.2 278.7 C730.4 278.5 729.2 278.1 729.0 277.3Z" fill="#c81c10" fill-opacity="0.38" stroke="#f02a16" stroke-opacity="0.38" stroke-width="1.4"/>
<circle cx="733.3" cy="275.5" r="1.2" fill="#3a50ff" opacity="0.27"/>
<path d="M742.8 281.8 C742.0 281.9 740.4 281.5 739.8 280.6 C739.2 279.7 739.4 277.3 739.5 276.2 C739.6 275.2 739.8 274.8 740.5 274.3 C741.1 273.8 742.7 272.9 743.5 273.3 C744.4 273.7 745.2 275.5 745.4 276.6 C745.6 277.6 745.1 278.9 744.7 279.8 C744.3 280.7 743.6 281.6 742.8 281.8Z" fill="#c81c10" fill-opacity="0.34" stroke="#f02a16" stroke-opacity="0.34" stroke-width="1.1"/>
<circle cx="741.4" cy="277.6" r="1.2" fill="#3a50ff" opacity="0.24"/>
<path d="M747.3 279.7 C746.7 279.3 746.5 278.4 746.7 277.5 C746.9 276.6 747.7 274.9 748.5 274.3 C749.2 273.7 750.6 273.7 751.4 273.9 C752.1 274.1 752.8 274.8 752.9 275.6 C753.0 276.4 752.6 278.0 752.1 278.7 C751.6 279.4 750.9 279.7 750.1 279.9 C749.3 280.0 747.8 280.1 747.3 279.7Z" fill="#c81c10" fill-opacity="0.70" stroke="#f02a16" stroke-opacity="0.70" stroke-width="1.4"/>
<circle cx="749.0" cy="277.2" r="1.2" fill="#3a50ff" opacity="0.49"/>
<path d="M756.2 277.2 C756.2 276.4 756.7 275.3 757.2 274.8 C757.7 274.4 758.8 274.2 759.5 274.3 C760.1 274.4 760.6 274.8 760.9 275.5 C761.3 276.2 761.7 277.7 761.5 278.5 C761.3 279.3 760.2 280.1 759.6 280.3 C758.9 280.4 758.0 280.1 757.4 279.6 C756.8 279.0 756.2 278.0 756.2 277.2Z" fill="#c81c10" fill-opacity="0.54" stroke="#f02a16" stroke-opacity="0.54" stroke-width="1.3"/>
<circle cx="758.3" cy="278.1" r="1.2" fill="#3a50ff" opacity="0.38"/>
<path d="M765.9 280.6 C765.1 280.2 764.3 279.5 764.0 278.6 C763.6 277.8 763.3 276.0 763.9 275.5 C764.4 274.9 766.2 275.2 767.2 275.4 C768.3 275.5 769.5 275.9 770.1 276.5 C770.7 277.1 771.1 278.1 770.9 278.8 C770.7 279.5 769.6 280.6 768.8 280.9 C768.0 281.2 766.7 281.0 765.9 280.6Z" fill="#c81c10" fill-opacity="0.45" stroke="#f02a16" stroke-opacity="0.45" stroke-width="1.2"/>
<circle cx="766.6" cy="277.2" r="1.2" fill="#3a50ff" opacity="0.32"/>
<path d="M777.0 279.1 C776.2 279.2 775.0 278.5 774.5 278.1 C773.9 277.6 773.7 277.1 773.7 276.4 C773.7 275.8 773.9 274.7 774.4 274.1 C774.9 273.6 776.1 273.1 776.9 273.2 C777.7 273.3 778.7 273.9 779.2 274.6 C779.6 275.3 779.9 276.4 779.5 277.1 C779.2 277.9 777.9 278.9 777.0 279.1Z" fill="#c81c10" fill-opacity="0.54" stroke="#f02a16" stroke-opacity="0.54" stroke-width="1.1"/>
<circle cx="776.2" cy="275.8" r="1.2" fill="#3a50ff" opacity="0.38"/>
<path d="M789.0 280.5 C788.2 280.8 786.8 281.5 786.0 281.0 C785.2 280.6 784.5 278.9 784.2 277.9 C783.9 276.9 783.9 275.9 784.3 275.1 C784.7 274.3 785.9 273.2 786.7 273.2 C787.6 273.2 788.9 274.1 789.5 275.0 C790.2 275.9 790.9 277.9 790.9 278.8 C790.8 279.7 789.8 280.1 789.0 280.5Z" fill="#c81c10" fill-opacity="0.84" stroke="#f02a16" stroke-opacity="0.84" stroke-width="1.0"/>
<circle cx="787.0" cy="277.6" r="1.2" fill="#3a50ff" opacity="0.59"/>
<path d="M681.5 283.8 C681.4 284.7 680.2 286.1 679.3 286.5 C678.4 286.9 676.8 286.8 676.1 286.3 C675.3 285.8 674.9 284.5 674.8 283.7 C674.6 282.9 674.7 282.2 675.1 281.5 C675.5 280.9 676.1 279.9 677.0 279.8 C677.9 279.7 679.7 280.3 680.5 281.0 C681.2 281.7 681.7 282.9 681.5 283.8Z" fill="#c81c10" fill-opacity="0.25" stroke="#f02a16" stroke-opacity="0.25" stroke-width="1.0"/>
<circle cx="676.7" cy="284.1" r="1.2" fill="#3a50ff" opacity="0.18"/>
<path d="M680.2 284.5 C679.9 283.6 679.5 282.2 680.1 281.4 C680.8 280.7 682.9 280.2 684.1 280.0 C685.3 279.8 686.7 280.0 687.3 280.5 C687.9 281.0 688.0 282.2 687.7 283.1 C687.5 284.0 686.9 285.5 685.9 286.0 C684.9 286.6 682.7 286.9 681.8 286.7 C680.8 286.4 680.4 285.4 680.2 284.5Z" fill="#c81c10" fill-opacity="0.23" stroke="#f02a16" stroke-opacity="0.23" stroke-width="1.3"/>
<circle cx="683.5" cy="284.1" r="1.2" fill="#3a50ff" opacity="0.16"/>
<path d="M693.9 288.2 C692.9 287.8 691.2 286.7 690.9 285.9 C690.6 285.1 691.2 284.2 691.9 283.4 C692.6 282.6 694.2 281.2 695.0 281.1 C695.9 281.0 696.2 281.9 696.9 282.6 C697.5 283.4 699.0 284.6 699.0 285.6 C699.0 286.5 697.7 288.0 696.8 288.4 C695.9 288.8 694.8 288.6 693.9 288.2Z" fill="#c81c10" fill-opacity="0.38" stroke="#f02a16" stroke-opacity="0.38" stroke-width="1.0"/>
<circle cx="693.9" cy="285.4" r="1.2" fill="#3a50ff" opacity="0.27"/>
<path d="M708.9 287.8 C708.2 287.1 707.1 285.7 706.9 284.8 C706.7 283.9 707.3 282.6 707.8 282.3 C708.4 282.1 709.4 282.7 710.3 283.2 C711.1 283.7 712.4 284.6 712.9 285.3 C713.5 286.1 713.7 287.3 713.4 287.8 C713.2 288.4 712.0 288.8 711.3 288.8 C710.5 288.8 709.6 288.4 708.9 287.8Z" fill="#c81c10" fill-opacity="0.31" stroke="#f02a16" stroke-opacity="0.31" stroke-width="0.9"/>
<circle cx="711.1" cy="286.8" r="1.2" fill="#3a50ff" opacity="0.22"/>
<path d="M728.0 288.1 C727.3 287.3 726.2 285.2 726.3 284.2 C726.4 283.2 727.7 282.8 728.6 282.4 C729.5 282.0 730.7 281.7 731.6 281.9 C732.5 282.2 733.9 283.0 734.1 284.0 C734.3 284.9 733.4 286.7 732.9 287.5 C732.3 288.3 731.3 288.7 730.5 288.8 C729.7 288.9 728.7 288.9 728.0 288.1Z" fill="#c81c10" fill-opacity="0.26" stroke="#f02a16" stroke-opacity="0.26" stroke-width="0.9"/>
<circle cx="729.1" cy="286.8" r="1.2" fill="#3a50ff" opacity="0.18"/>
<path d="M736.3 288.8 C735.4 288.7 734.3 287.8 733.7 287.0 C733.2 286.2 732.6 285.1 733.0 284.2 C733.4 283.3 735.0 282.0 735.9 281.6 C736.7 281.3 737.3 281.6 738.0 282.1 C738.7 282.5 739.8 283.4 739.9 284.2 C740.1 285.1 739.3 286.6 738.7 287.3 C738.1 288.1 737.1 288.8 736.3 288.8Z" fill="#c81c10" fill-opacity="0.25" stroke="#f02a16" stroke-opacity="0.25" stroke-width="1.2"/>
<circle cx="736.1" cy="284.8" r="1.2" fill="#3a50ff" opacity="0.18"/>
<path d="M750.1 287.0 C749.7 287.8 748.9 288.3 748.3 288.6 C747.6 288.9 746.5 289.1 746.1 288.6 C745.6 288.1 745.4 286.6 745.6 285.8 C745.7 284.9 746.6 284.3 747.2 283.8 C747.9 283.3 749.1 282.8 749.7 282.8 C750.2 282.9 750.7 283.4 750.7 284.1 C750.8 284.8 750.5 286.3 750.1 287.0Z" fill="#c81c10" fill-opacity="0.31" stroke="#f02a16" stroke-opacity="0.31" stroke-width="1.3"/>
<circle cx="747.3" cy="286.4" r="1.2" fill="#3a50ff" opacity="0.21"/>
<path d="M755.1 285.9 C754.4 285.4 753.2 284.5 753.1 283.6 C752.9 282.8 753.6 281.5 754.1 281.0 C754.6 280.4 755.2 280.2 756.0 280.4 C756.8 280.7 758.3 281.6 758.9 282.3 C759.4 282.9 759.6 283.6 759.4 284.3 C759.1 285.0 758.2 286.3 757.5 286.6 C756.8 286.8 755.9 286.4 755.1 285.9Z" fill="#c81c10" fill-opacity="0.87" stroke="#f02a16" stroke-opacity="0.87" stroke-width="1.0"/>
<circle cx="755.8" cy="282.3" r="1.2" fill="#3a50ff" opacity="0.61"/>
<path d="M768.0 285.4 C767.5 286.0 766.4 286.8 765.6 286.9 C764.9 287.0 763.9 286.6 763.4 286.2 C762.9 285.7 762.3 284.8 762.5 284.0 C762.7 283.2 763.9 281.9 764.7 281.4 C765.5 280.9 766.6 280.9 767.2 281.2 C767.8 281.5 768.3 282.5 768.5 283.2 C768.6 283.9 768.4 284.8 768.0 285.4Z" fill="#c81c10" fill-opacity="0.46" stroke="#f02a16" stroke-opacity="0.46" stroke-width="1.3"/>
<circle cx="764.3" cy="283.3" r="1.2" fill="#3a50ff" opacity="0.32"/>
<path d="M776.3 283.2 C776.2 284.0 775.7 284.8 775.1 285.2 C774.5 285.6 773.5 285.6 772.7 285.5 C771.9 285.4 770.6 285.3 770.2 284.6 C769.9 283.9 770.2 282.2 770.6 281.4 C771.0 280.6 771.6 280.2 772.5 280.0 C773.3 279.9 775.1 279.8 775.7 280.4 C776.4 280.9 776.4 282.3 776.3 283.2Z" fill="#c81c10" fill-opacity="0.66" stroke="#f02a16" stroke-opacity="0.66" stroke-width="1.3"/>
<circle cx="772.8" cy="283.7" r="1.2" fill="#3a50ff" opacity="0.46"/>
<path d="M781.6 288.0 C780.9 287.5 779.5 286.4 779.2 285.6 C779.0 284.8 779.5 283.8 779.9 283.2 C780.3 282.6 780.9 282.1 781.8 282.1 C782.7 282.2 784.6 282.8 785.3 283.5 C786.1 284.3 786.4 285.9 786.1 286.7 C785.8 287.5 784.4 288.0 783.7 288.3 C783.0 288.5 782.4 288.4 781.6 288.0Z" fill="#c81c10" fill-opacity="0.48" stroke="#f02a16" stroke-opacity="0.48" stroke-width="1.1"/>
<circle cx="782.5" cy="285.4" r="1.2" fill="#3a50ff" opacity="0.33"/>
<path d="M676.0 194.0 L701.0 202.0 L726.0 214.0 L756.0 224.0 L784.0 230.0" stroke="#30c060" stroke-width="4" fill="none" opacity="0.5" filter="url(#blur2)"/>
<path d="M696.0 174.0 L716.0 189.0 L746.0 199.0 L784.0 204.0" stroke="#30c060" stroke-width="3" fill="none" opacity="0.35" filter="url(#blur2)"/>
<ellipse cx="698" cy="262" rx="28" ry="22" fill="#000" opacity="0.35" filter="url(#blur4)"/>
</g></g>
<path d="M378 271.1 H429" stroke="#f6f6f6" stroke-width="2.2"/>
<rect x="329.7" y="174.7" width="107.3" height="106.9" fill="none" stroke="#f6da4a" stroke-width="1.4"/>
<path d="M489.5 271.1 H540.5" stroke="#f6f6f6" stroke-width="2.2"/>
<rect x="442.7" y="174.7" width="107.3" height="106.9" fill="none" stroke="#f6da4a" stroke-width="1.4"/>
<path d="M610.5 271.1 H661.5" stroke="#f6f6f6" stroke-width="2.2"/>
<rect x="563.7" y="174.7" width="107.3" height="106.9" fill="none" stroke="#f6da4a" stroke-width="1.4"/>
<path d="M723 271.1 H774" stroke="#f6f6f6" stroke-width="2.2"/>
<rect x="676.7" y="174.7" width="107.3" height="106.9" fill="none" stroke="#f6da4a" stroke-width="1.4"/>
<rect x="329.5" y="282" width="107.5" height="34" fill="#0b0d17"/>
<g filter="url(#soft)">
<g opacity="0.9"><rect x="329.5" y="282" width="36" height="34" fill="#000" filter="url(#f29)"/></g>
<g opacity="1"><rect x="365.3" y="282" width="36.2" height="34" fill="#000" filter="url(#f30)"/></g>
<g opacity="1"><rect x="401.5" y="282" width="35.5" height="34" fill="#000" filter="url(#f31)"/></g>
</g>
<rect x="329.7" y="281.6" width="107.3" height="33.7" fill="none" stroke="#f6da4a" stroke-width="1.4"/>
<path d="M365.3 282 V315.5 M401.5 282 V315.5" stroke="#f6da4a" stroke-width="1.4"/>
<rect x="442.5" y="282" width="107.5" height="34" fill="#0b0d17"/>
<g filter="url(#soft)">
<g opacity="0.9"><rect x="442.5" y="282" width="36" height="34" fill="#000" filter="url(#f32)"/></g>
<g opacity="1"><rect x="478.3" y="282" width="36.2" height="34" fill="#000" filter="url(#f33)"/></g>
<g opacity="1"><rect x="514.5" y="282" width="35.5" height="34" fill="#000" filter="url(#f34)"/></g>
</g>
<rect x="442.7" y="281.6" width="107.3" height="33.7" fill="none" stroke="#f6da4a" stroke-width="1.4"/>
<path d="M478.3 282 V315.5 M514.5 282 V315.5" stroke="#f6da4a" stroke-width="1.4"/>
<rect x="563.5" y="282" width="107.5" height="34" fill="#0b0d17"/>
<g filter="url(#soft)">
<g opacity="0.9"><rect x="563.5" y="282" width="36" height="34" fill="#000" filter="url(#f35)"/></g>
<g opacity="1"><rect x="599.3" y="282" width="36.2" height="34" fill="#000" filter="url(#f36)"/></g>
<g opacity="1"><rect x="635.5" y="282" width="35.5" height="34" fill="#000" filter="url(#f37)"/></g>
</g>
<rect x="563.7" y="281.6" width="107.3" height="33.7" fill="none" stroke="#f6da4a" stroke-width="1.4"/>
<path d="M599.3 282 V315.5 M635.5 282 V315.5" stroke="#f6da4a" stroke-width="1.4"/>
<rect x="676.5" y="282" width="107.5" height="34" fill="#0b0d17"/>
<g filter="url(#soft)">
<g opacity="0.9"><rect x="676.5" y="282" width="36" height="34" fill="#000" filter="url(#f38)"/></g>
<g opacity="1"><rect x="712.3" y="282" width="36.2" height="34" fill="#000" filter="url(#f39)"/></g>
<g opacity="1"><rect x="748.5" y="282" width="35.5" height="34" fill="#000" filter="url(#f40)"/></g>
</g>
<rect x="676.7" y="281.6" width="107.3" height="33.7" fill="none" stroke="#f6da4a" stroke-width="1.4"/>
<path d="M712.3 282 V315.5 M748.5 282 V315.5" stroke="#f6da4a" stroke-width="1.4"/>
<path d="M388.7 364.5 V504.5 H527" stroke="#111" stroke-width="1.7" fill="none"/>
<path d="M375.09999999999997 504.5 H388.7" stroke="#111" stroke-width="1.7"/>
<text x="376.3" y="510.9" text-anchor="end" font-family='"Liberation Sans", sans-serif' font-size="19.6" fill="#111" transform="translate(0,510.9) scale(1,1.06) translate(0,-510.9)">0</text>
<path d="M375.09999999999997 469.65 H388.7" stroke="#111" stroke-width="1.7"/>
<text x="376.3" y="476.04999999999995" text-anchor="end" font-family='"Liberation Sans", sans-serif' font-size="19.6" fill="#111" transform="translate(0,476.04999999999995) scale(1,1.06) translate(0,-476.04999999999995)">5</text>
<path d="M375.09999999999997 434.8 H388.7" stroke="#111" stroke-width="1.7"/>
<text x="376.3" y="441.2" text-anchor="end" font-family='"Liberation Sans", sans-serif' font-size="19.6" fill="#111" transform="translate(0,441.2) scale(1,1.06) translate(0,-441.2)">10</text>
<path d="M375.09999999999997 399.95000000000005 H388.7" stroke="#111" stroke-width="1.7"/>
<text x="376.3" y="406.35" text-anchor="end" font-family='"Liberation Sans", sans-serif' font-size="19.6" fill="#111" transform="translate(0,406.35) scale(1,1.06) translate(0,-406.35)">15</text>
<path d="M375.09999999999997 365.1 H388.7" stroke="#111" stroke-width="1.7"/>
<text x="376.3" y="371.5" text-anchor="end" font-family='"Liberation Sans", sans-serif' font-size="19.6" fill="#111" transform="translate(0,371.5) scale(1,1.06) translate(0,-371.5)">20</text>
<rect x="400.2" y="445.952" width="18.6" height="58.548" fill="#ffffff" stroke="#111" stroke-width="1.7"/>
<path d="M409.5 504.5 V518.0" stroke="#111" stroke-width="1.7"/>
<path d="M409.5 440.72450000000003 V451.1795 M404.7 440.72450000000003 H414.3 M404.7 451.1795 H414.3" stroke="#111" stroke-width="1.7"/>
<circle cx="402.5" cy="435.1502512562814" r="3.5" fill="#000"/>
<circle cx="416.5" cy="435.1502512562814" r="3.5" fill="#000"/>
<circle cx="402.5" cy="449.16030150753767" r="3.5" fill="#000"/>
<circle cx="416.5" cy="449.16030150753767" r="3.5" fill="#000"/>
<circle cx="409.5" cy="456.1653266331658" r="3.5" fill="#000"/>
<text transform="translate(413.5,531.0) rotate(-45)" text-anchor="end" font-family='"Liberation Sans", sans-serif' font-size="19.3" fill="#111" stroke="#111" stroke-width="0.25">f/f-shCTR</text>
<rect x="432.45" y="424.345" width="18.6" height="80.15499999999997" fill="#cdeefc" stroke="#111" stroke-width="1.7"/>
<path d="M441.75 504.5 V518.0" stroke="#111" stroke-width="1.7"/>
<path d="M441.75 418.4205 V430.2695 M436.95 418.4205 H446.55 M436.95 430.2695 H446.55" stroke="#111" stroke-width="1.7"/>
<circle cx="441.75" cy="413.83496051687007" r="3.5" fill="#000"/>
<circle cx="441.75" cy="421.540488155061" r="3.5" fill="#000"/>
<circle cx="441.75" cy="435.1502512562814" r="3.5" fill="#000"/>
<text transform="translate(445.75,531.0) rotate(-45)" text-anchor="end" font-family='"Liberation Sans", sans-serif' font-size="19.3" fill="#111" stroke="#111" stroke-width="0.25">KO-shCTR</text>
<rect x="464.95" y="455.71000000000004" width="18.6" height="48.789999999999964" fill="#9bdaf7" stroke="#111" stroke-width="1.7"/>
<path d="M474.25 504.5 V518.0" stroke="#111" stroke-width="1.7"/>
<path d="M474.25 450.4825 V460.9375 M469.45 450.4825 H479.05 M469.45 460.9375 H479.05" stroke="#111" stroke-width="1.7"/>
<circle cx="474.25" cy="442.1552763819096" r="3.5" fill="#000"/>
<circle cx="466.75" cy="449.16030150753767" r="3.5" fill="#000"/>
<circle cx="481.75" cy="449.16030150753767" r="3.5" fill="#000"/>
<circle cx="474.25" cy="463.17035175879397" r="3.5" fill="#000"/>
<circle cx="474.25" cy="470.1753768844221" r="3.5" fill="#000"/>
<text transform="translate(478.25,531.0) rotate(-45)" text-anchor="end" font-family='"Liberation Sans", sans-serif' font-size="19.3" fill="#111" stroke="#111" stroke-width="0.25">f/f-shDkk3</text>
<rect x="496.95" y="461.286" width="18.6" height="43.214" fill="#62c6f5" stroke="#111" stroke-width="1.7"/>
<path d="M506.25 504.5 V518.0" stroke="#111" stroke-width="1.7"/>
<path d="M506.25 455.3615 V467.2105 M501.45 455.3615 H511.05 M501.45 467.2105 H511.05" stroke="#111" stroke-width="1.7"/>
<circle cx="506.25" cy="449.16030150753767" r="3.5" fill="#000"/>
<circle cx="498.75" cy="462.870136396267" r="3.5" fill="#000"/>
<circle cx="513.75" cy="462.870136396267" r="3.5" fill="#000"/>
<circle cx="506.25" cy="476.37982770997843" r="3.5" fill="#000"/>
<text transform="translate(510.25,531.0) rotate(-45)" text-anchor="end" font-family='"Liberation Sans", sans-serif' font-size="19.3" fill="#111" stroke="#111" stroke-width="0.25">KO-shDkk3</text>
<text transform="translate(340.8,438.4) rotate(-90) scale(1,1.05)" text-anchor="middle" font-family='"Liberation Sans", sans-serif' font-size="18.6" fill="#111" stroke="#111" stroke-width="0.25">TA weight loss (mg)</text>
<path d="M410.5 400.3 V391 H442.8 V400.3" stroke="#111" stroke-width="1.7" fill="none"/>
<path d="M426.85 378.00 L426.85 373.90 M426.85 378.00 L422.95 376.73 M426.85 378.00 L424.44 381.32 M426.85 378.00 L429.26 381.32 M426.85 378.00 L430.75 376.73" stroke="#111" stroke-width="2.4" stroke-linecap="round"/>
<path d="M443.5 370 V361 H507.4 V370" stroke="#111" stroke-width="1.7" fill="none"/>
<path d="M469.00 347.70 L469.00 343.60 M469.00 347.70 L465.10 346.43 M469.00 347.70 L466.59 351.02 M469.00 347.70 L471.41 351.02 M469.00 347.70 L472.90 346.43" stroke="#111" stroke-width="2.4" stroke-linecap="round"/>
<path d="M479.50 347.70 L479.50 343.60 M479.50 347.70 L475.60 346.43 M479.50 347.70 L477.09 351.02 M479.50 347.70 L481.91 351.02 M479.50 347.70 L483.40 346.43" stroke="#111" stroke-width="2.4" stroke-linecap="round"/>
<path d="M637.4 363.9 V504.5 H777.8" stroke="#111" stroke-width="1.7" fill="none"/>
<path d="M623.8 504.5 H637.4" stroke="#111" stroke-width="1.7"/>
<text x="625.0" y="510.9" text-anchor="end" font-family='"Liberation Sans", sans-serif' font-size="19.6" fill="#111" transform="translate(0,510.9) scale(1,1.06) translate(0,-510.9)">0</text>
<path d="M623.8 469.5 H637.4" stroke="#111" stroke-width="1.7"/>
<text x="625.0" y="475.9" text-anchor="end" font-family='"Liberation Sans", sans-serif' font-size="19.6" fill="#111" transform="translate(0,475.9) scale(1,1.06) translate(0,-475.9)">20</text>
<path d="M623.8 434.5 H637.4" stroke="#111" stroke-width="1.7"/>
<text x="625.0" y="440.9" text-anchor="end" font-family='"Liberation Sans", sans-serif' font-size="19.6" fill="#111" transform="translate(0,440.9) scale(1,1.06) translate(0,-440.9)">40</text>
<path d="M623.8 399.5 H637.4" stroke="#111" stroke-width="1.7"/>
<text x="625.0" y="405.9" text-anchor="end" font-family='"Liberation Sans", sans-serif' font-size="19.6" fill="#111" transform="translate(0,405.9) scale(1,1.06) translate(0,-405.9)">60</text>
<path d="M623.8 364.5 H637.4" stroke="#111" stroke-width="1.7"/>
<text x="625.0" y="370.9" text-anchor="end" font-family='"Liberation Sans", sans-serif' font-size="19.6" fill="#111" transform="translate(0,370.9) scale(1,1.06) translate(0,-370.9)">80</text>
<rect x="649.3000000000001" y="448.1415362731152" width="18.6" height="56.35846372688479" fill="#ffffff" stroke="#111" stroke-width="1.7"/>
<path d="M658.6 504.5 V518.0" stroke="#111" stroke-width="1.7"/>
<path d="M658.6 442.8915362731152 V453.3915362731152 M653.8000000000001 442.8915362731152 H663.4 M653.8000000000001 453.3915362731152 H663.4" stroke="#111" stroke-width="1.7"/>
<circle cx="658.6" cy="429.6209103840682" r="3.5" fill="#000"/>
<circle cx="651.6" cy="446.5483641536273" r="3.5" fill="#000"/>
<circle cx="666.0" cy="445.15433854907536" r="3.5" fill="#000"/>
<circle cx="651.6" cy="460.09032716927453" r="3.5" fill="#000"/>
<circle cx="666.0" cy="458.4971550497866" r="3.5" fill="#000"/>
<text transform="translate(662.6,531.0) rotate(-45)" text-anchor="end" font-family='"Liberation Sans", sans-serif' font-size="19.3" fill="#111" stroke="#111" stroke-width="0.25">f/f-shCTR</text>
<rect x="682.0" y="478.0135135135135" width="18.6" height="26.486486486486513" fill="#cdeefc" stroke="#111" stroke-width="1.7"/>
<path d="M691.3 504.5 V518.0" stroke="#111" stroke-width="1.7"/>
<path d="M691.3 475.3885135135135 V480.6385135135135 M686.5 475.3885135135135 H696.0999999999999 M686.5 480.6385135135135 H696.0999999999999" stroke="#111" stroke-width="1.7"/>
<circle cx="683.8" cy="471.0433854907539" r="3.5" fill="#000"/>
<circle cx="698.5999999999999" cy="477.4160739687055" r="3.5" fill="#000"/>
<circle cx="683.5999999999999" cy="482.99217638691323" r="3.5" fill="#000"/>
<text transform="translate(695.3,531.0) rotate(-45)" text-anchor="end" font-family='"Liberation Sans", sans-serif' font-size="19.3" fill="#111" stroke="#111" stroke-width="0.25">KO-shCTR</text>
<rect x="714.5" y="433.603840682788" width="18.6" height="70.89615931721198" fill="#9bdaf7" stroke="#111" stroke-width="1.7"/>
<path d="M723.8 504.5 V518.0" stroke="#111" stroke-width="1.7"/>
<path d="M723.8 429.40384068278803 V437.803840682788 M719.0 429.40384068278803 H728.5999999999999 M719.0 437.803840682788 H728.5999999999999" stroke="#111" stroke-width="1.7"/>
<circle cx="723.8" cy="421.2567567567568" r="3.5" fill="#000"/>
<circle cx="716.5" cy="427.8285917496444" r="3.5" fill="#000"/>
<circle cx="731.0999999999999" cy="427.2311522048364" r="3.5" fill="#000"/>
<circle cx="731.0999999999999" cy="440.1756756756757" r="3.5" fill="#000"/>
<circle cx="716.5" cy="446.1500711237553" r="3.5" fill="#000"/>
<text transform="translate(727.8,531.0) rotate(-45)" text-anchor="end" font-family='"Liberation Sans", sans-serif' font-size="19.3" fill="#111" stroke="#111" stroke-width="0.25">f/f-shDkk3</text>
<rect x="747.1" y="435.19701280227594" width="18.6" height="69.30298719772406" fill="#62c6f5" stroke="#111" stroke-width="1.7"/>
<path d="M756.4 504.5 V518.0" stroke="#111" stroke-width="1.7"/>
<path d="M756.4 425.04701280227596 V445.34701280227597 M751.6 425.04701280227596 H761.1999999999999 M751.6 445.34701280227597 H761.1999999999999" stroke="#111" stroke-width="1.7"/>
<circle cx="756.4" cy="409.50711237553344" r="3.5" fill="#000"/>
<circle cx="756.4" cy="426.23541963015646" r="3.5" fill="#000"/>
<circle cx="749.1" cy="452.124466571835" r="3.5" fill="#000"/>
<circle cx="763.6999999999999" cy="449.7347083926031" r="3.5" fill="#000"/>
<text transform="translate(760.4,531.0) rotate(-45)" text-anchor="end" font-family='"Liberation Sans", sans-serif' font-size="19.3" fill="#111" stroke="#111" stroke-width="0.25">KO-shDkk3</text>
<text transform="translate(582.3,438.3) rotate(-90) scale(1,1.05)" text-anchor="middle" font-family='"Liberation Sans", sans-serif' font-size="18.7" fill="#111" stroke="#111" stroke-width="0.25">Desmin positive area (%)</text>
<path d="M659.8 416 V407.5 H692.2 V416" stroke="#111" stroke-width="1.7" fill="none"/>
<path d="M676.30 393.80 L676.30 389.70 M676.30 393.80 L672.40 392.53 M676.30 393.80 L673.89 397.12 M676.30 393.80 L678.71 397.12 M676.30 393.80 L680.20 392.53" stroke="#111" stroke-width="2.4" stroke-linecap="round"/>
<path d="M692.9 383.7 V374.8 H757.6 V383.7" stroke="#111" stroke-width="1.7" fill="none"/>
<path d="M720.80 360.70 L720.80 356.60 M720.80 360.70 L716.90 359.43 M720.80 360.70 L718.39 364.02 M720.80 360.70 L723.21 364.02 M720.80 360.70 L724.70 359.43" stroke="#111" stroke-width="2.4" stroke-linecap="round"/>
<path d="M732.80 360.70 L732.80 356.60 M732.80 360.70 L728.90 359.43 M732.80 360.70 L730.39 364.02 M732.80 360.70 L735.21 364.02 M732.80 360.70 L736.70 359.43" stroke="#111" stroke-width="2.4" stroke-linecap="round"/></svg>
</body></html>
